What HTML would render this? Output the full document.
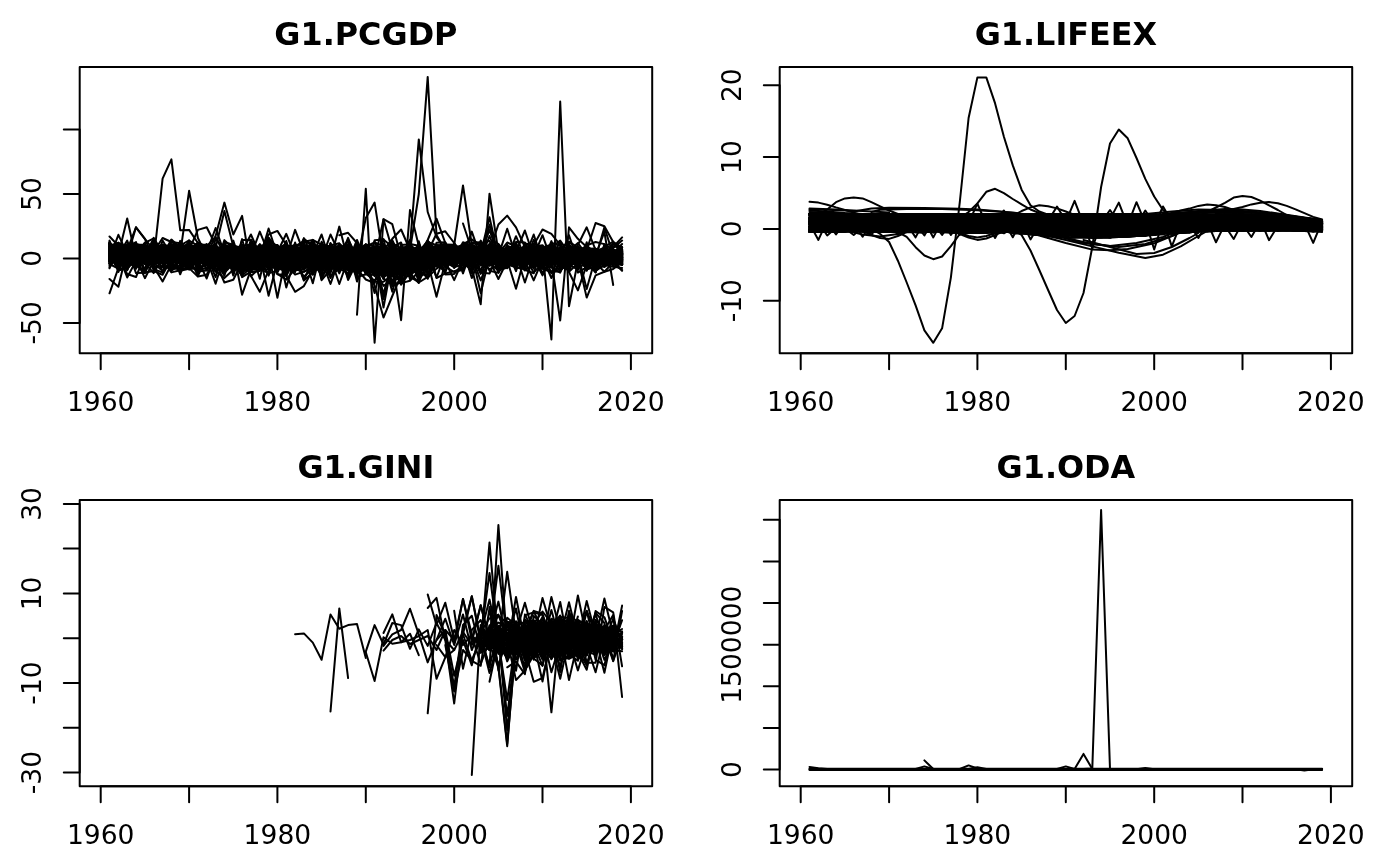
<!DOCTYPE html>
<html><head><meta charset="utf-8"><title>G1 plots</title>
<style>
html,body{margin:0;padding:0;background:#fff}
svg{display:block}
text{font-family:"DejaVu Sans","Liberation Sans",sans-serif;fill:#000}
.a{font-size:26.56px}
.t{font-size:31.87px;font-weight:bold}
.l{fill:none;stroke:#000;stroke-width:2;stroke-linecap:round;stroke-linejoin:round}
</style></head><body>
<svg width="1400" height="866" viewBox="0 0 1400 866">
<rect width="1400" height="866" fill="#fff"/>
<g class="l">
<polyline points="109.5,253.1 118.4,259.2 127.2,255.3 136,252.8 144.9,257.5 153.7,249.7 162.6,252.5 171.4,258.5 180.2,258 189.1,246.6 197.9,255.3 206.7,256.5 215.6,261.7 224.4,259.3 233.3,258.6 242.1,264.3 250.9,251.3 259.8,259.9 268.6,256.5 277.4,250.6 286.3,264.7 295.1,260.5 303.9,258.3 312.8,268.8 321.6,255.9 330.5,258.2 339.3,267.2 348.1,256.1 357,261.4 365.8,258 374.6,247.9 383.5,250.8 392.3,254.1 401.1,267.8 410,262 418.8,265.8 427.7,252.9 436.5,252.3 445.3,246.7 454.2,255.8 463,252.9 471.8,256.4 480.7,253.5 489.5,252.1 498.4,247.9 507.2,260.8 516,255.3 524.9,265.6 533.7,248.9 542.5,247.9 551.4,257.3 560.2,261.9 569,256.2 577.9,253.4 586.7,255.1 595.6,258.6 604.4,261.2 613.2,257.8 622.1,262.8"/>
<polyline points="109.5,260.1 118.4,249.4 127.2,255.5 136,252.7 144.9,255.3 153.7,260.3 162.6,248.2 171.4,249 180.2,263 189.1,251.5 197.9,250.4 206.7,258.4 215.6,250.3 224.4,258.2 233.3,261.6 242.1,260.1 250.9,255.5 259.8,255.2 268.6,253.2 277.4,251.2 286.3,255.7 295.1,252.2 303.9,261.5 312.8,249.8 321.6,262.8 330.5,262.8 339.3,264.5 348.1,269 357,261.4 365.8,255 374.6,266.4 383.5,273.1 392.3,274.1 401.1,273.4 410,263.1 418.8,261.2 427.7,251.3 436.5,249.1 445.3,262.8 454.2,253.1 463,250.3 471.8,260.6 480.7,258.7 489.5,260.9 498.4,255.7 507.2,259 516,251.8 524.9,253.1 533.7,252.9 542.5,253.7 551.4,258.9 560.2,250.6 569,257.3 577.9,252 586.7,260.5 595.6,258.5 604.4,256.1 613.2,260.2 622.1,258.4"/>
<polyline points="109.5,248 118.4,255.9 127.2,260.9 136,253.6 144.9,262.2 153.7,247.9 162.6,246.6 171.4,255.5 180.2,257.5 189.1,252.4 197.9,247.7 206.7,261.2 215.6,262 224.4,264.3 233.3,260.3 242.1,258 250.9,266.6 259.8,264.8 268.6,245.8 277.4,257.2 286.3,257 295.1,259 303.9,261.2 312.8,256 321.6,267.6 330.5,253.5 339.3,265.2 348.1,258.5 357,243.6 365.8,252.1 374.6,268.3 383.5,268 392.3,270.2 401.1,270.3 410,262.9 418.8,254.5 427.7,260.4 436.5,248.1 445.3,263.4 454.2,260.7 463,255.9 471.8,258.2 480.7,248 489.5,260 498.4,260.3 507.2,259.7 516,264 524.9,257.5 533.7,251.7 542.5,257.4 551.4,256.7 560.2,260 569,262.4 577.9,259.4 586.7,261.3 595.6,257.1 604.4,259.4 613.2,262.7 622.1,253.6"/>
<polyline points="109.5,258.2 118.4,253.2 127.2,254.5 136,257.3 144.9,248.2 153.7,256.9 162.6,248.7 171.4,262.1 180.2,246.1 189.1,250.7 197.9,256.9 206.7,258.2 215.6,260.5 224.4,263.1 233.3,258.6 242.1,257 250.9,259.3 259.8,248.9 268.6,250.1 277.4,268.3 286.3,265.7 295.1,260.8 303.9,266.3 312.8,254.8 321.6,255.6 330.5,260.4 339.3,263.6 348.1,257.7 357,256.9 365.8,262 374.6,252.4 383.5,257.6 392.3,263.8 401.1,267.9 410,253 418.8,252.8 427.7,253.3 436.5,264.2 445.3,255.2 454.2,262.7 463,256.8 471.8,261.9 480.7,257.4 489.5,260.7 498.4,262.1 507.2,249.1 516,255.4 524.9,251 533.7,251.6 542.5,255.8 551.4,253.2 560.2,254.9 569,258 577.9,258.4 586.7,255.2 595.6,263.6 604.4,257.5 613.2,258.9 622.1,259.3"/>
<polyline points="109.5,250.3 118.4,253.1 127.2,255.1 136,254.7 144.9,254.8 153.7,248.1 162.6,258.6 171.4,247.1 180.2,254 189.1,244.9 197.9,254.9 206.7,260.2 215.6,258.3 224.4,249.2 233.3,249.4 242.1,258.1 250.9,254.4 259.8,247.6 268.6,253.3 277.4,256.2 286.3,255.2 295.1,255.7 303.9,254.6 312.8,263.8 321.6,266.5 330.5,245.6 339.3,263.1 348.1,263.3 357,262.7 365.8,272 374.6,254 383.5,263 392.3,270.1 401.1,264.8 410,261.7 418.8,260.4 427.7,256.8 436.5,253.4 445.3,263 454.2,258.1 463,257.6 471.8,256.2 480.7,254.2 489.5,253.6 498.4,253.2 507.2,250.7 516,253.4 524.9,251.8 533.7,256.8 542.5,261.6 551.4,256.5 560.2,258 569,251.5 577.9,252.5 586.7,253.8 595.6,253.8 604.4,259.5 613.2,256.1 622.1,264"/>
<polyline points="109.5,259.5 118.4,246.6 127.2,254.6 136,251.8 144.9,247.5 153.7,252.3 162.6,260.5 171.4,248.5 180.2,254.9 189.1,260.6 197.9,247.9 206.7,252.5 215.6,260.8 224.4,248.3 233.3,256.3 242.1,253.7 250.9,254.2 259.8,256 268.6,257.5 277.4,245.6 286.3,261.8 295.1,270.1 303.9,263.3 312.8,249 321.6,244.5 330.5,262.8 339.3,261 348.1,253.6 357,258.9 365.8,253.4 374.6,262.1 383.5,276.6 392.3,264.3 401.1,258.4 410,272.2 418.8,264.3 427.7,257.2 436.5,254.5 445.3,260.5 454.2,252.6 463,252.1 471.8,263 480.7,260.2 489.5,265.3 498.4,251.8 507.2,252.1 516,253.5 524.9,255.1 533.7,250.8 542.5,252.6 551.4,252.9 560.2,252.5 569,257.7 577.9,252.3 586.7,257.6 595.6,259.8 604.4,253.7 613.2,258.4 622.1,254.3"/>
<polyline points="109.5,255.5 118.4,250.1 127.2,252 136,249.4 144.9,251 153.7,243.2 162.6,252.3 171.4,253.2 180.2,244.7 189.1,259.2 197.9,253.6 206.7,258.7 215.6,254.6 224.4,261.9 233.3,246.9 242.1,248.6 250.9,250.6 259.8,260 268.6,248 277.4,259.8 286.3,261.3 295.1,249.9 303.9,260.7 312.8,259.5 321.6,259.1 330.5,266.8 339.3,257 348.1,257.8 357,259.2 365.8,254.1 374.6,273.9 383.5,261.8 392.3,259.2 401.1,263.6 410,275.7 418.8,267.2 427.7,258.1 436.5,254.9 445.3,258.6 454.2,251.8 463,245 471.8,249.1 480.7,258.3 489.5,252.4 498.4,256 507.2,247.6 516,260.9 524.9,260.3 533.7,260.8 542.5,252.6 551.4,255.9 560.2,254.5 569,253.9 577.9,255 586.7,258.9 595.6,257.1 604.4,254.6 613.2,255.9 622.1,258.6"/>
<polyline points="109.5,243.9 118.4,255.2 127.2,251.6 136,253.5 144.9,249 153.7,244.6 162.6,258.5 171.4,247.1 180.2,248.5 189.1,262.3 197.9,244.9 206.7,249.7 215.6,259.7 224.4,247.9 233.3,247.5 242.1,264.9 250.9,262.4 259.8,255.3 268.6,257.1 277.4,258.4 286.3,251.7 295.1,257.6 303.9,253.6 312.8,268.2 321.6,259.3 330.5,259.5 339.3,249.2 348.1,246 357,258 365.8,254.7 374.6,269.4 383.5,257.5 392.3,262.9 401.1,269.4 410,263.8 418.8,247.9 427.7,265.7 436.5,264.5 445.3,247.2 454.2,249.7 463,250.6 471.8,253.6 480.7,249.4 489.5,253.8 498.4,255.7 507.2,263 516,251.1 524.9,252.7 533.7,254.9 542.5,257.4 551.4,256.4 560.2,259.2 569,248.7 577.9,260.3 586.7,255.7 595.6,263.7 604.4,258.6 613.2,260.3 622.1,251.5"/>
<polyline points="109.5,260.9 118.4,256.9 127.2,263.7 136,249.9 144.9,253.3 153.7,259.2 162.6,247.5 171.4,262.2 180.2,261.3 189.1,253.6 197.9,256.6 206.7,252.4 215.6,250.9 224.4,260.4 233.3,257.9 242.1,259.3 250.9,266 259.8,256.9 268.6,251.8 277.4,261.3 286.3,263.2 295.1,260.1 303.9,266.3 312.8,255.7 321.6,261.4 330.5,249.3 339.3,260.2 348.1,245.2 357,259.9 365.8,260.7 374.6,268.6 383.5,253.4 392.3,251.1 401.1,260.6 410,269.2 418.8,266.4 427.7,252.6 436.5,258.7 445.3,255.9 454.2,247.9 463,258.7 471.8,254.2 480.7,258.8 489.5,256.3 498.4,257.8 507.2,258.6 516,253.5 524.9,257.9 533.7,260.2 542.5,256.1 551.4,259.4 560.2,249.2 569,254.3 577.9,255.9 586.7,254.9 595.6,260.7 604.4,252.5 613.2,256 622.1,261"/>
<polyline points="109.5,252.5 118.4,255.2 127.2,256.8 136,253.7 144.9,256.7 153.7,261.3 162.6,249.3 171.4,262.4 180.2,245.6 189.1,259.1 197.9,257.2 206.7,257.1 215.6,262.8 224.4,247.6 233.3,247.1 242.1,268.7 250.9,269.4 259.8,270 268.6,268.9 277.4,266.2 286.3,258.3 295.1,259.4 303.9,248 312.8,250.7 321.6,254.4 330.5,260.5 339.3,261.8 348.1,255.1 357,256.2 365.8,259.6 374.6,254.2 383.5,270.4 392.3,276.6 401.1,244.9 410,244.2 418.8,259.2 427.7,254.5 436.5,249.2 445.3,257.3 454.2,258.9 463,247.2 471.8,260.7 480.7,254.7 489.5,250.7 498.4,258.8 507.2,250.5 516,250.1 524.9,255.2 533.7,260.9 542.5,255.9 551.4,254.2 560.2,256.2 569,258.2 577.9,260.7 586.7,254.3 595.6,258 604.4,251.7 613.2,261.6 622.1,259.3"/>
<polyline points="109.5,255.7 118.4,252 127.2,253.3 136,257 144.9,264.3 153.7,253.1 162.6,250.1 171.4,253.1 180.2,261.6 189.1,250.5 197.9,255.6 206.7,250.6 215.6,248.1 224.4,250.6 233.3,254 242.1,260.8 250.9,255.1 259.8,254.1 268.6,263.6 277.4,261.6 286.3,265.8 295.1,252.9 303.9,253.1 312.8,255.9 321.6,266.2 330.5,260 339.3,257.3 348.1,247.7 357,259 365.8,252.4 374.6,256.8 383.5,252.2 392.3,268.4 401.1,270.2 410,260.3 418.8,255.4 427.7,260.9 436.5,265.6 445.3,259.4 454.2,254.3 463,251 471.8,251.8 480.7,259.3 489.5,252.6 498.4,250.8 507.2,249.9 516,255.7 524.9,254.3 533.7,253 542.5,259.5 551.4,251.1 560.2,258.3 569,256.8 577.9,255 586.7,260.4 595.6,251.6 604.4,258.1 613.2,264.8 622.1,257.8"/>
<polyline points="109.5,249.1 118.4,257.6 127.2,252.6 136,251.6 144.9,251.2 153.7,251.2 162.6,253.2 171.4,254.9 180.2,261.7 189.1,255.3 197.9,247.1 206.7,256.3 215.6,260.1 224.4,262 233.3,253.3 242.1,255 250.9,265.2 259.8,268.3 268.6,251.3 277.4,260.3 286.3,261.2 295.1,259.6 303.9,254.2 312.8,264.7 321.6,261.8 330.5,262.3 339.3,248.1 348.1,252.9 357,269.3 365.8,268.5 374.6,266.4 383.5,256.1 392.3,255.4 401.1,265.2 410,253.7 418.8,268.5 427.7,267.6 436.5,261 445.3,253.9 454.2,247.3 463,247 471.8,260.5 480.7,250.5 489.5,253.4 498.4,264.3 507.2,257.2 516,254.4 524.9,256.5 533.7,250.2 542.5,253.8 551.4,250.9 560.2,262.1 569,256.8 577.9,256.5 586.7,254.4 595.6,251.4 604.4,263.9 613.2,262.3 622.1,261.5"/>
<polyline points="109.5,252.5 118.4,245.1 127.2,251.9 136,256.1 144.9,260.1 153.7,260.1 162.6,251.7 171.4,258.4 180.2,258.1 189.1,257.2 197.9,245.3 206.7,252.5 215.6,258.9 224.4,256.2 233.3,264.6 242.1,264.6 250.9,260.6 259.8,256.3 268.6,260.4 277.4,256.6 286.3,263.7 295.1,259.7 303.9,263.9 312.8,258.7 321.6,266.6 330.5,246.7 339.3,258.8 348.1,246.8 357,262.8 365.8,263.6 374.6,260.1 383.5,267.2 392.3,265.1 401.1,253.9 410,257.4 418.8,251.5 427.7,252.1 436.5,253.3 445.3,248.3 454.2,256 463,260.6 471.8,254.7 480.7,252.4 489.5,248.9 498.4,258.1 507.2,253.8 516,254.3 524.9,255.2 533.7,259.8 542.5,253.6 551.4,254.7 560.2,256.2 569,248.8 577.9,253.1 586.7,264.5 595.6,257.2 604.4,255.9 613.2,255.6 622.1,257.5"/>
<polyline points="109.5,257.9 118.4,252.2 127.2,249.8 136,251.7 144.9,258.3 153.7,247.6 162.6,249.8 171.4,263 180.2,249 189.1,252.9 197.9,248.6 206.7,258.1 215.6,260.7 224.4,248.5 233.3,260.2 242.1,264.2 250.9,256.5 259.8,253.3 268.6,257.6 277.4,255.6 286.3,252.1 295.1,252.1 303.9,264.2 312.8,250 321.6,254.8 330.5,254.4 339.3,266.5 348.1,265.9 357,263.7 365.8,258.1 374.6,267 383.5,274.4 392.3,255 401.1,267.6 410,264.6 418.8,252.9 427.7,257.5 436.5,253.2 445.3,257.6 454.2,261.8 463,254 471.8,255 480.7,248.9 489.5,250.3 498.4,250 507.2,248.1 516,252.6 524.9,252.1 533.7,249.5 542.5,254.3 551.4,259.7 560.2,265.8 569,249.8 577.9,254.7 586.7,260.1 595.6,263 604.4,258.5 613.2,256.9 622.1,256.5"/>
<polyline points="109.5,250.2 118.4,259.5 127.2,257.4 136,253.7 144.9,247.8 153.7,249.8 162.6,261 171.4,256.2 180.2,245.8 189.1,249.6 197.9,260.6 206.7,254.5 215.6,250.5 224.4,254.5 233.3,245.2 242.1,248.4 250.9,257.7 259.8,259.2 268.6,251.6 277.4,245.9 286.3,255.3 295.1,248.2 303.9,267.7 312.8,250.6 321.6,265.1 330.5,252.4 339.3,268.3 348.1,268.2 357,270.2 365.8,267.1 374.6,247.9 383.5,262.4 392.3,257.8 401.1,264.7 410,266.3 418.8,250 427.7,259.6 436.5,265.2 445.3,252.8 454.2,258.2 463,265.3 471.8,254.1 480.7,246.5 489.5,260 498.4,255.1 507.2,249.7 516,261.5 524.9,252.1 533.7,260.3 542.5,253.1 551.4,261.7 560.2,255.9 569,256 577.9,252.2 586.7,260.3 595.6,254.4 604.4,259.5 613.2,256.3 622.1,260.7"/>
<polyline points="109.5,261.1 118.4,257.6 127.2,256.1 136,255.7 144.9,260.6 153.7,248.3 162.6,255.5 171.4,250.8 180.2,251.7 189.1,259.1 197.9,261.8 206.7,257.4 215.6,261.2 224.4,251.6 233.3,251.7 242.1,254.5 250.9,265.3 259.8,246.2 268.6,258.3 277.4,256.8 286.3,247.8 295.1,253.6 303.9,250.7 312.8,253.2 321.6,256.2 330.5,259.3 339.3,255.2 348.1,268.1 357,269.3 365.8,264.5 374.6,264.3 383.5,266.1 392.3,259.7 401.1,262.8 410,253.4 418.8,258.7 427.7,247.4 436.5,251.3 445.3,256.1 454.2,251.2 463,248.3 471.8,260.4 480.7,248.6 489.5,256.9 498.4,250.3 507.2,250.6 516,253 524.9,257.2 533.7,261.1 542.5,250.7 551.4,259.5 560.2,256.2 569,257.8 577.9,254.3 586.7,254.7 595.6,262.9 604.4,250.3 613.2,261.8 622.1,254.6"/>
<polyline points="109.5,255.2 118.4,259.2 127.2,245.7 136,253.9 144.9,263.2 153.7,247.3 162.6,252.3 171.4,252.8 180.2,251.5 189.1,256.1 197.9,258.3 206.7,252.5 215.6,259.6 224.4,245 233.3,247.4 242.1,260 250.9,256.3 259.8,251.4 268.6,246.4 277.4,258.6 286.3,256.4 295.1,265.6 303.9,251.3 312.8,254.9 321.6,267.2 330.5,257.9 339.3,257.4 348.1,247.5 357,259.6 365.8,261.9 374.6,247.2 383.5,277 392.3,257.1 401.1,266.6 410,255.3 418.8,270.6 427.7,255.4 436.5,262.8 445.3,263.4 454.2,259.9 463,256.8 471.8,256.5 480.7,245.8 489.5,251.9 498.4,253.5 507.2,248.3 516,262.5 524.9,257 533.7,253.6 542.5,253.9 551.4,258.2 560.2,254.1 569,261 577.9,250.5 586.7,253.8 595.6,253.7 604.4,254 613.2,253.3 622.1,259.7"/>
<polyline points="109.5,243.8 118.4,256.9 127.2,257.5 136,256.8 144.9,258.5 153.7,256 162.6,260.2 171.4,255 180.2,254.3 189.1,247.6 197.9,247.1 206.7,248.9 215.6,252.5 224.4,256.1 233.3,254.6 242.1,263.5 250.9,256.7 259.8,256.9 268.6,249.2 277.4,249.3 286.3,265.1 295.1,264.2 303.9,263 312.8,263 321.6,257.7 330.5,250.9 339.3,258.8 348.1,254.8 357,255 365.8,261.8 374.6,251.8 383.5,262.1 392.3,256 401.1,261.7 410,254.9 418.8,258.7 427.7,257.8 436.5,255.6 445.3,252.8 454.2,254.9 463,245.4 471.8,258 480.7,257.9 489.5,250.1 498.4,259.8 507.2,252.4 516,256.2 524.9,259.9 533.7,253 542.5,247.2 551.4,256 560.2,248.4 569,255.6 577.9,251.8 586.7,260.5 595.6,254.4 604.4,255.2 613.2,258.8 622.1,255.2"/>
<polyline points="109.5,255.8 118.4,253.5 127.2,249.3 136,248.1 144.9,253.5 153.7,259.8 162.6,260.4 171.4,260.1 180.2,258.6 189.1,258.4 197.9,251.8 206.7,259.8 215.6,250.6 224.4,260.6 233.3,259 242.1,265.6 250.9,256.6 259.8,261.6 268.6,251.9 277.4,262.3 286.3,253.4 295.1,262.4 303.9,244.8 312.8,266 321.6,244.7 330.5,265.5 339.3,263 348.1,264.1 357,260.8 365.8,259.9 374.6,258.9 383.5,254.1 392.3,252.5 401.1,274.2 410,258.2 418.8,262.2 427.7,263.8 436.5,265 445.3,256.3 454.2,260.4 463,257.2 471.8,254 480.7,256.7 489.5,249.5 498.4,253.9 507.2,262.4 516,252.6 524.9,257.1 533.7,253.3 542.5,255 551.4,262.1 560.2,254.6 569,259.4 577.9,265.1 586.7,256.1 595.6,260.3 604.4,255.6 613.2,258 622.1,252.9"/>
<polyline points="109.5,253 118.4,262 127.2,253.3 136,256.9 144.9,247.7 153.7,250.3 162.6,261.3 171.4,259.4 180.2,258.4 189.1,262.3 197.9,259.1 206.7,256.3 215.6,256.7 224.4,259.7 233.3,257.2 242.1,262.8 250.9,259.1 259.8,259 268.6,258 277.4,259.5 286.3,263.7 295.1,265.1 303.9,260.9 312.8,256.6 321.6,264.5 330.5,253.1 339.3,257.1 348.1,260.6 357,257.7 365.8,249.5 374.6,270.9 383.5,246.7 392.3,254.8 401.1,273.7 410,250.3 418.8,249.3 427.7,252.7 436.5,245.5 445.3,249.4 454.2,253 463,257 471.8,257.4 480.7,253.1 489.5,254.6 498.4,254.6 507.2,246.8 516,247.9 524.9,248.3 533.7,255.8 542.5,248.4 551.4,255.4 560.2,259.6 569,253.9 577.9,258.4 586.7,256.1 595.6,259.2 604.4,258.8 613.2,260.7 622.1,250.1"/>
<polyline points="109.5,259.2 118.4,249.6 127.2,247.8 136,257.7 144.9,249.5 153.7,262.2 162.6,261.9 171.4,256.4 180.2,247.3 189.1,248.4 197.9,258 206.7,263.5 215.6,251.5 224.4,255.5 233.3,259.1 242.1,258.3 250.9,261.7 259.8,258.4 268.6,255.5 277.4,263.5 286.3,247.3 295.1,260.4 303.9,248.9 312.8,251.1 321.6,262.3 330.5,250.3 339.3,263.5 348.1,266.3 357,256.1 365.8,264.3 374.6,254.3 383.5,258.8 392.3,273.2 401.1,256.4 410,250.9 418.8,249.9 427.7,259.5 436.5,253.4 445.3,252.4 454.2,247.8 463,252.1 471.8,245.3 480.7,257.2 489.5,253.7 498.4,249.7 507.2,251 516,264.8 524.9,261.7 533.7,253.4 542.5,253.2 551.4,254.9 560.2,263 569,253.5 577.9,260.8 586.7,253 595.6,253.6 604.4,260.4 613.2,263.4 622.1,260.4"/>
<polyline points="109.5,259 118.4,254.7 127.2,252.9 136,253.9 144.9,259.9 153.7,248.5 162.6,259.2 171.4,257.3 180.2,259.9 189.1,262.1 197.9,258.5 206.7,256.1 215.6,253.6 224.4,262.6 233.3,264.5 242.1,260.1 250.9,254 259.8,254.1 268.6,254.3 277.4,264.2 286.3,268.5 295.1,258.5 303.9,247.8 312.8,252.9 321.6,250.3 330.5,267.4 339.3,270.6 348.1,260.8 357,262.5 365.8,259.4 374.6,256.2 383.5,264.2 392.3,252.4 401.1,266.5 410,263.6 418.8,255.7 427.7,263.8 436.5,247.8 445.3,257.4 454.2,255.5 463,255.7 471.8,263.7 480.7,252.2 489.5,248 498.4,246.2 507.2,251.3 516,259.2 524.9,260.1 533.7,255.4 542.5,250.6 551.4,251.9 560.2,247.4 569,253.6 577.9,256.1 586.7,255.8 595.6,253.5 604.4,261 613.2,253.8 622.1,254.9"/>
<polyline points="109.5,257 118.4,252.4 127.2,250.7 136,245.3 144.9,247.9 153.7,257 162.6,260.4 171.4,256.3 180.2,248.7 189.1,262.1 197.9,249.6 206.7,253.6 215.6,259.1 224.4,246.1 233.3,261.5 242.1,249.8 250.9,253.4 259.8,263.8 268.6,251.6 277.4,266.2 286.3,268.2 295.1,254.6 303.9,254.1 312.8,247.9 321.6,253.7 330.5,261.6 339.3,260 348.1,259.7 357,250.8 365.8,259.9 374.6,270.6 383.5,253.1 392.3,247 401.1,261.6 410,258.9 418.8,263.2 427.7,260.5 436.5,258.6 445.3,255.9 454.2,255.5 463,257.8 471.8,262.1 480.7,255.5 489.5,256.8 498.4,254.1 507.2,260.5 516,251.8 524.9,253.6 533.7,264.3 542.5,261.2 551.4,246 560.2,254.8 569,251.6 577.9,250 586.7,257.8 595.6,261.5 604.4,255.6 613.2,256.5 622.1,260"/>
<polyline points="109.5,247.7 118.4,252 127.2,255 136,258.3 144.9,254.1 153.7,251.7 162.6,253.5 171.4,244.6 180.2,250.6 189.1,252.3 197.9,246.5 206.7,258.1 215.6,249.1 224.4,255.1 233.3,252.7 242.1,267.4 250.9,258.1 259.8,264.8 268.6,249.9 277.4,270.7 286.3,257.1 295.1,254.2 303.9,249 312.8,245.4 321.6,258.1 330.5,249.9 339.3,247.2 348.1,256.5 357,271.7 365.8,251 374.6,248.4 383.5,254.1 392.3,249.4 401.1,268.2 410,253.5 418.8,260.6 427.7,251.8 436.5,264.6 445.3,260.3 454.2,254 463,254.3 471.8,246.2 480.7,246.9 489.5,253 498.4,247.5 507.2,258.9 516,250.9 524.9,257.3 533.7,254.1 542.5,254.3 551.4,259.2 560.2,251.8 569,248.8 577.9,250.2 586.7,260.8 595.6,249.6 604.4,255.4 613.2,259.2 622.1,254.9"/>
<polyline points="109.5,244.2 118.4,257.5 127.2,251.4 136,259.4 144.9,250.4 153.7,258.9 162.6,252.1 171.4,251.5 180.2,252.9 189.1,244 197.9,255.9 206.7,250.5 215.6,246.4 224.4,251.5 233.3,263.5 242.1,255.3 250.9,259.4 259.8,255.1 268.6,248.5 277.4,256.3 286.3,264.9 295.1,269.4 303.9,265.2 312.8,266.4 321.6,258.7 330.5,263.8 339.3,267 348.1,251.6 357,258.5 365.8,262.1 374.6,258.8 383.5,269.5 392.3,257.4 401.1,272.1 410,257.9 418.8,258.1 427.7,249.4 436.5,248.2 445.3,254.4 454.2,258.4 463,254.7 471.8,259 480.7,245.4 489.5,248.7 498.4,252.3 507.2,258.6 516,251.4 524.9,251.3 533.7,260.7 542.5,258.1 551.4,253.7 560.2,256.7 569,257 577.9,258.2 586.7,254.9 595.6,260.6 604.4,253 613.2,251.4 622.1,253.4"/>
<polyline points="109.5,253.7 118.4,254.1 127.2,248.2 136,257.9 144.9,254.1 153.7,256.4 162.6,248.7 171.4,256.4 180.2,252.1 189.1,247.5 197.9,250.6 206.7,263.2 215.6,259.8 224.4,250.2 233.3,257.6 242.1,266.6 250.9,250.7 259.8,261.9 268.6,259.4 277.4,252 286.3,256.7 295.1,268.5 303.9,259.4 312.8,257.1 321.6,260.5 330.5,257.6 339.3,260.7 348.1,251.8 357,262.8 365.8,269.8 374.6,273.5 383.5,264.6 392.3,258.4 401.1,255.2 410,254.3 418.8,259.6 427.7,255 436.5,252 445.3,250.7 454.2,253.3 463,257.7 471.8,255.1 480.7,258.5 489.5,254.2 498.4,262.1 507.2,251.2 516,252.4 524.9,257.1 533.7,255.2 542.5,260.2 551.4,256.3 560.2,251.1 569,257 577.9,262 586.7,250.4 595.6,256.9 604.4,252.4 613.2,260.4 622.1,253.9"/>
<polyline points="109.5,253.6 118.4,247.7 127.2,255.3 136,256.7 144.9,253 153.7,251.2 162.6,253.3 171.4,254.3 180.2,246.5 189.1,250.5 197.9,243.6 206.7,257.9 215.6,257.6 224.4,251.5 233.3,257.6 242.1,266.4 250.9,251.5 259.8,267.7 268.6,262.6 277.4,258.6 286.3,260.2 295.1,254.3 303.9,255.7 312.8,264 321.6,258.1 330.5,264.8 339.3,251.7 348.1,261.3 357,268.7 365.8,257.2 374.6,266 383.5,261.6 392.3,269.9 401.1,266.8 410,259.6 418.8,268.7 427.7,256.6 436.5,251.4 445.3,263.4 454.2,262.9 463,249.6 471.8,248.7 480.7,247 489.5,258.1 498.4,248.7 507.2,258.6 516,248.7 524.9,254.1 533.7,258.3 542.5,260.6 551.4,249.4 560.2,257.9 569,262.4 577.9,263.3 586.7,253.4 595.6,255 604.4,257.5 613.2,261.9 622.1,253.8"/>
<polyline points="109.5,255.4 118.4,250.8 127.2,260.8 136,256.3 144.9,252.6 153.7,256.5 162.6,258.6 171.4,249.7 180.2,250.7 189.1,253.4 197.9,258.7 206.7,251.6 215.6,262.6 224.4,266.2 233.3,249.6 242.1,256.8 250.9,247.8 259.8,264.7 268.6,265.7 277.4,260.3 286.3,253.5 295.1,253.8 303.9,259.2 312.8,256.5 321.6,248.9 330.5,269.7 339.3,251.4 348.1,255.4 357,261.7 365.8,264.5 374.6,259.1 383.5,256.4 392.3,270.6 401.1,256.7 410,257.6 418.8,260.3 427.7,246.3 436.5,256.9 445.3,258.5 454.2,243.5 463,259.1 471.8,254.5 480.7,255.4 489.5,256.8 498.4,248.7 507.2,251.1 516,257.3 524.9,251.4 533.7,254.6 542.5,258.3 551.4,252.7 560.2,260.8 569,254.7 577.9,254.7 586.7,258.4 595.6,253.5 604.4,252.2 613.2,262 622.1,259.1"/>
<polyline points="109.5,247.2 118.4,254.4 127.2,260.6 136,249.9 144.9,257.3 153.7,254.1 162.6,251.2 171.4,254.3 180.2,246.1 189.1,246.7 197.9,259.5 206.7,257.8 215.6,259.8 224.4,261.5 233.3,255.4 242.1,264.3 250.9,258.7 259.8,262.7 268.6,264.9 277.4,254.8 286.3,264.9 295.1,259.5 303.9,263.4 312.8,251.5 321.6,244.4 330.5,257.4 339.3,267.3 348.1,256 357,269 365.8,266.7 374.6,257.3 383.5,251.6 392.3,246.6 401.1,263.4 410,270.1 418.8,258.6 427.7,253.1 436.5,256.1 445.3,256.4 454.2,257.5 463,259.4 471.8,250.7 480.7,261.1 489.5,249 498.4,260.8 507.2,258.1 516,250.8 524.9,257.6 533.7,252.1 542.5,261.2 551.4,252.3 560.2,247.8 569,261.3 577.9,257 586.7,249.4 595.6,252.8 604.4,256.9 613.2,256.1 622.1,258.1"/>
<polyline points="109.5,242.8 118.4,261.5 127.2,246.7 136,261.4 144.9,255 153.7,252.3 162.6,252.6 171.4,249.5 180.2,258.6 189.1,246.7 197.9,248.6 206.7,254.4 215.6,259.5 224.4,249.5 233.3,254.3 242.1,248.9 250.9,262.3 259.8,256.7 268.6,262.2 277.4,254.5 286.3,249.2 295.1,251.6 303.9,256.4 312.8,255.7 321.6,255.4 330.5,256.9 339.3,262.9 348.1,257.1 357,256.3 365.8,246.5 374.6,263.3 383.5,253.3 392.3,256.7 401.1,249.2 410,266.2 418.8,271.4 427.7,254.3 436.5,247 445.3,255.6 454.2,258.2 463,263.1 471.8,257.9 480.7,246.8 489.5,260.9 498.4,261.7 507.2,259.2 516,254.8 524.9,257.8 533.7,264.7 542.5,254.1 551.4,250.8 560.2,250.8 569,257.3 577.9,249.2 586.7,250.7 595.6,261.1 604.4,259.1 613.2,251.7 622.1,263.2"/>
<polyline points="109.5,256.1 118.4,254.6 127.2,252 136,246.6 144.9,249.3 153.7,258.9 162.6,252.5 171.4,254.6 180.2,254.5 189.1,248.4 197.9,248.1 206.7,250.2 215.6,250.7 224.4,259.8 233.3,267.1 242.1,255.1 250.9,244 259.8,261.7 268.6,255.7 277.4,248.5 286.3,244.1 295.1,253.5 303.9,259.1 312.8,263.7 321.6,250.7 330.5,248.5 339.3,246.5 348.1,247.6 357,266.4 365.8,261.3 374.6,261.9 383.5,255.4 392.3,258.2 401.1,255.2 410,267.5 418.8,261.5 427.7,259.2 436.5,257 445.3,252.1 454.2,249.5 463,257.5 471.8,256.6 480.7,245.8 489.5,252.2 498.4,257.1 507.2,261.3 516,252 524.9,252.7 533.7,251.8 542.5,257.7 551.4,254.1 560.2,255.2 569,257.1 577.9,258.7 586.7,255.7 595.6,264.1 604.4,256.8 613.2,255.3 622.1,250.6"/>
<polyline points="109.5,246.6 118.4,255.5 127.2,249.7 136,261 144.9,255.5 153.7,258.9 162.6,248.2 171.4,254 180.2,249.6 189.1,249.5 197.9,249.3 206.7,260.2 215.6,256.3 224.4,254.8 233.3,258.2 242.1,270.8 250.9,262 259.8,261.9 268.6,268.4 277.4,257.2 286.3,261.8 295.1,250.4 303.9,250.6 312.8,262.3 321.6,267.5 330.5,253.2 339.3,261.8 348.1,262.3 357,255.6 365.8,267.9 374.6,273.8 383.5,258.1 392.3,260.3 401.1,258.7 410,267.8 418.8,265.7 427.7,248.5 436.5,260.1 445.3,262.5 454.2,248.1 463,247.6 471.8,250.1 480.7,252 489.5,257.8 498.4,263.1 507.2,258.5 516,255.9 524.9,253.7 533.7,251.3 542.5,262.4 551.4,259.3 560.2,256.6 569,259.1 577.9,263.8 586.7,257 595.6,265.2 604.4,256.8 613.2,256.6 622.1,255.9"/>
<polyline points="109.5,251.1 118.4,262.3 127.2,248.3 136,258 144.9,254.9 153.7,247.6 162.6,249.5 171.4,248.2 180.2,251.4 189.1,248 197.9,252.2 206.7,246.1 215.6,247.7 224.4,260.5 233.3,266.2 242.1,269.2 250.9,262.3 259.8,246.3 268.6,254.2 277.4,258.6 286.3,257.5 295.1,253.4 303.9,263.4 312.8,261.3 321.6,264.5 330.5,270.1 339.3,254.3 348.1,255.4 357,258.8 365.8,251.6 374.6,269.9 383.5,251.1 392.3,262.1 401.1,262.9 410,262.7 418.8,272.7 427.7,256.6 436.5,261.9 445.3,247.1 454.2,262 463,249 471.8,245.6 480.7,259.4 489.5,258.4 498.4,264.8 507.2,256.2 516,249.9 524.9,247.1 533.7,254.7 542.5,256.4 551.4,259.3 560.2,259.8 569,260 577.9,255.9 586.7,257.7 595.6,256.9 604.4,253.8 613.2,262.3 622.1,257.7"/>
<polyline points="109.5,254.4 118.4,252.6 127.2,249.4 136,247.8 144.9,252.8 153.7,244.6 162.6,263 171.4,259.3 180.2,249.9 189.1,250.5 197.9,250 206.7,259.6 215.6,253.6 224.4,260.3 233.3,261.9 242.1,260.8 250.9,261.5 259.8,262.6 268.6,246.8 277.4,258.3 286.3,246.2 295.1,246.3 303.9,257.5 312.8,254.4 321.6,250.3 330.5,253.3 339.3,265.4 348.1,249.4 357,260.8 365.8,256.1 374.6,264.1 383.5,256.5 392.3,265.4 401.1,251.3 410,251.6 418.8,253.6 427.7,254 436.5,264.5 445.3,250.8 454.2,252.9 463,252.4 471.8,260.4 480.7,251.1 489.5,248.6 498.4,251.3 507.2,254.1 516,247.5 524.9,256.7 533.7,253.7 542.5,249.4 551.4,255.6 560.2,255 569,255.7 577.9,263.1 586.7,256 595.6,252.4 604.4,260.7 613.2,259.2 622.1,256.3"/>
<polyline points="109.5,253.5 118.4,251.9 127.2,249.2 136,251.3 144.9,247 153.7,258 162.6,254 171.4,258.6 180.2,256.8 189.1,258.2 197.9,260.6 206.7,258.1 215.6,255 224.4,257.8 233.3,253.6 242.1,251.9 250.9,250.9 259.8,268.7 268.6,258.6 277.4,265.3 286.3,253.3 295.1,263.9 303.9,261.3 312.8,264.5 321.6,267.5 330.5,263.6 339.3,260.4 348.1,253.3 357,253.9 365.8,252.8 374.6,249.8 383.5,259.8 392.3,251 401.1,251.6 410,254.4 418.8,253.8 427.7,253.6 436.5,250.8 445.3,259.2 454.2,262.6 463,260.6 471.8,246.2 480.7,248 489.5,247.1 498.4,253.8 507.2,264.2 516,251 524.9,258.5 533.7,260 542.5,256.9 551.4,253.2 560.2,257 569,261.1 577.9,253.1 586.7,253.7 595.6,249.7 604.4,252.5 613.2,260 622.1,258"/>
<polyline points="109.5,261.4 118.4,247.9 127.2,258.8 136,250.3 144.9,256.8 153.7,257 162.6,257.6 171.4,252 180.2,253 189.1,256.3 197.9,256.6 206.7,258.8 215.6,250.3 224.4,256.6 233.3,246.6 242.1,257.3 250.9,263.6 259.8,265.9 268.6,249.6 277.4,261.2 286.3,264.1 295.1,251 303.9,267 312.8,268 321.6,257.8 330.5,260.5 339.3,261.4 348.1,265 357,254.8 365.8,260.9 374.6,268 383.5,265.7 392.3,253.4 401.1,259.9 410,256.7 418.8,255.8 427.7,248.2 436.5,262 445.3,250.7 454.2,249.7 463,263.6 471.8,252.8 480.7,263.2 489.5,253.2 498.4,246 507.2,252.7 516,255.1 524.9,262.3 533.7,259.4 542.5,252.4 551.4,249.4 560.2,256.9 569,252.5 577.9,256.7 586.7,261.3 595.6,248.9 604.4,258.7 613.2,256 622.1,258.3"/>
<polyline points="109.5,244 118.4,254.4 127.2,250.3 136,253.5 144.9,258.5 153.7,254.5 162.6,262.3 171.4,262.9 180.2,253.6 189.1,251.6 197.9,253 206.7,259.3 215.6,258.9 224.4,260.6 233.3,248.7 242.1,259.5 250.9,259.7 259.8,252.1 268.6,251.2 277.4,247.9 286.3,253.5 295.1,248.6 303.9,252.9 312.8,261.2 321.6,257.1 330.5,250.9 339.3,265.1 348.1,254.4 357,263.8 365.8,260.4 374.6,258.2 383.5,266.3 392.3,268.8 401.1,273.2 410,261.6 418.8,269.6 427.7,255.1 436.5,258.3 445.3,253.3 454.2,254.9 463,249.9 471.8,255.4 480.7,249.9 489.5,249 498.4,259.4 507.2,253.9 516,258.8 524.9,252.8 533.7,258.8 542.5,262.8 551.4,251 560.2,261 569,257.2 577.9,258.1 586.7,258 595.6,253.5 604.4,256.8 613.2,253.3 622.1,256.6"/>
<polyline points="109.5,248.6 118.4,252.7 127.2,252.2 136,261.2 144.9,247 153.7,255.7 162.6,262.7 171.4,250.1 180.2,254.8 189.1,255.3 197.9,249.2 206.7,257.4 215.6,251.3 224.4,258.1 233.3,247.6 242.1,252.9 250.9,256.6 259.8,259.8 268.6,262.2 277.4,265.2 286.3,258.1 295.1,257 303.9,262.4 312.8,261.3 321.6,264 330.5,256.8 339.3,259.1 348.1,255.5 357,259 365.8,264.7 374.6,275.4 383.5,250.4 392.3,250.3 401.1,263.3 410,251.7 418.8,265.8 427.7,258.8 436.5,248.6 445.3,245.9 454.2,256.3 463,247.7 471.8,265.6 480.7,255 489.5,252.4 498.4,259.5 507.2,247.9 516,258.4 524.9,259.4 533.7,259.2 542.5,255.8 551.4,248 560.2,252.1 569,256.1 577.9,252.4 586.7,248.9 595.6,251.7 604.4,261.8 613.2,253.1 622.1,256.7"/>
<polyline points="109.5,263.8 118.4,258.3 127.2,250.1 136,256.1 144.9,248.5 153.7,245.6 162.6,260.2 171.4,251.6 180.2,264.1 189.1,256.8 197.9,246.9 206.7,259.1 215.6,249.3 224.4,266.1 233.3,251.4 242.1,262.1 250.9,253.8 259.8,257.1 268.6,249.9 277.4,260.2 286.3,244.2 295.1,258.4 303.9,264.4 312.8,261.1 321.6,253.2 330.5,263.1 339.3,268.7 348.1,251.1 357,265.7 365.8,256.8 374.6,258.7 383.5,261.8 392.3,256.5 401.1,258.7 410,269.2 418.8,258.4 427.7,261.8 436.5,258.1 445.3,258.8 454.2,260.2 463,254.8 471.8,257.3 480.7,258.5 489.5,257.9 498.4,254.9 507.2,257 516,253.8 524.9,257.6 533.7,251.1 542.5,249 551.4,262.9 560.2,249.3 569,255.1 577.9,257.7 586.7,259.9 595.6,254.7 604.4,252.1 613.2,251.2 622.1,252.4"/>
<polyline points="109.5,245 118.4,253.9 127.2,255.8 136,253.5 144.9,255.1 153.7,261 162.6,254.6 171.4,255.1 180.2,250.2 189.1,263.4 197.9,259 206.7,247.1 215.6,257.8 224.4,259.2 233.3,263.6 242.1,253.9 250.9,257.7 259.8,256 268.6,268.6 277.4,252 286.3,262.3 295.1,254.5 303.9,266.6 312.8,252.3 321.6,267.4 330.5,245.2 339.3,254.7 348.1,260.4 357,262.5 365.8,258.6 374.6,257.1 383.5,254.8 392.3,262.4 401.1,271.9 410,254.9 418.8,250.1 427.7,258.6 436.5,259 445.3,254.7 454.2,249.6 463,252.6 471.8,250.2 480.7,257.8 489.5,263.3 498.4,260.1 507.2,258.8 516,255.6 524.9,256.1 533.7,257.7 542.5,263.7 551.4,257 560.2,263.9 569,255.3 577.9,258.2 586.7,261 595.6,255.3 604.4,262.3 613.2,255.3 622.1,256.9"/>
<polyline points="109.5,262.9 118.4,246.1 127.2,258.5 136,262.2 144.9,254.9 153.7,255.3 162.6,259.9 171.4,251.2 180.2,247.8 189.1,254.8 197.9,262.1 206.7,255.2 215.6,252.3 224.4,254.2 233.3,264.5 242.1,255.3 250.9,268.7 259.8,257 268.6,247.2 277.4,262.8 286.3,258 295.1,263.8 303.9,265.8 312.8,253.9 321.6,260.5 330.5,262.6 339.3,254.2 348.1,255.2 357,263.1 365.8,254.5 374.6,251.7 383.5,247.1 392.3,258.4 401.1,270.8 410,262 418.8,257.9 427.7,251 436.5,255.2 445.3,246.4 454.2,245.4 463,252.3 471.8,255.6 480.7,255.2 489.5,256 498.4,250.5 507.2,249.5 516,249.6 524.9,253.9 533.7,262.3 542.5,252.4 551.4,261 560.2,248.9 569,263.9 577.9,255.9 586.7,259.9 595.6,259.6 604.4,260.5 613.2,255.6 622.1,260.9"/>
<polyline points="109.5,260.7 118.4,246 127.2,252.5 136,257.8 144.9,262.2 153.7,259.4 162.6,252.9 171.4,254.7 180.2,259.2 189.1,252.3 197.9,252.5 206.7,253.5 215.6,260.1 224.4,257.8 233.3,249.4 242.1,245.2 250.9,260.9 259.8,260.6 268.6,250.3 277.4,246.1 286.3,253.8 295.1,259.6 303.9,267.2 312.8,256.2 321.6,251.7 330.5,250.6 339.3,264.5 348.1,250.8 357,259.7 365.8,259.6 374.6,270.7 383.5,260.6 392.3,272.5 401.1,256 410,259.1 418.8,265.5 427.7,256.3 436.5,265.3 445.3,252 454.2,254 463,252.3 471.8,262.4 480.7,261.3 489.5,259.3 498.4,259.8 507.2,251.7 516,257.7 524.9,264 533.7,251.7 542.5,253.2 551.4,259.9 560.2,256.9 569,257.8 577.9,255.3 586.7,251.1 595.6,257.9 604.4,259.5 613.2,263.4 622.1,251.1"/>
<polyline points="109.5,246.6 118.4,256.6 127.2,253.4 136,254.7 144.9,251.7 153.7,255.7 162.6,262.8 171.4,257.6 180.2,258.5 189.1,253 197.9,253.2 206.7,255.6 215.6,253.6 224.4,248.9 233.3,255.8 242.1,260.9 250.9,252.3 259.8,256.9 268.6,254 277.4,258.8 286.3,265.3 295.1,263.7 303.9,266 312.8,258.4 321.6,262.8 330.5,252.7 339.3,253.2 348.1,252 357,257.4 365.8,255.8 374.6,259.7 383.5,251.7 392.3,258.5 401.1,253.5 410,266.8 418.8,272.9 427.7,264.9 436.5,251.8 445.3,247.4 454.2,256 463,257.8 471.8,250.8 480.7,263.8 489.5,255.3 498.4,255.4 507.2,259.3 516,261.4 524.9,260.7 533.7,259.8 542.5,256.3 551.4,251.9 560.2,255.3 569,250.2 577.9,257.1 586.7,260.5 595.6,263.2 604.4,255.8 613.2,257.7 622.1,259.7"/>
<polyline points="109.5,247.2 118.4,257.7 127.2,246.5 136,256.8 144.9,248 153.7,253.3 162.6,244.6 171.4,251.7 180.2,255.7 189.1,256.4 197.9,254.3 206.7,250.9 215.6,253.8 224.4,261.2 233.3,253.9 242.1,256.6 250.9,258.2 259.8,258 268.6,255.9 277.4,270.2 286.3,255.2 295.1,262 303.9,254.3 312.8,252.6 321.6,257.8 330.5,245.7 339.3,251.4 348.1,248.6 357,267.8 365.8,262.3 374.6,259.6 383.5,262.1 392.3,253.6 401.1,271.1 410,254.9 418.8,254.9 427.7,256 436.5,256.2 445.3,248.3 454.2,251.9 463,256.3 471.8,251.5 480.7,251.8 489.5,257.1 498.4,262.8 507.2,248.1 516,250.2 524.9,255.3 533.7,257.3 542.5,260.6 551.4,250.1 560.2,265 569,249.2 577.9,251.5 586.7,259.3 595.6,261.2 604.4,255.6 613.2,255.7 622.1,256.7"/>
<polyline points="109.5,245.7 118.4,260.3 127.2,257.6 136,257.3 144.9,254.4 153.7,261 162.6,250.8 171.4,262.5 180.2,254 189.1,251.9 197.9,255.9 206.7,249.7 215.6,262.7 224.4,244 233.3,253.4 242.1,253.8 250.9,257.3 259.8,258.3 268.6,250.2 277.4,260 286.3,258.3 295.1,250.1 303.9,256.5 312.8,250.5 321.6,251.6 330.5,256.7 339.3,246.5 348.1,264 357,245.7 365.8,272.6 374.6,269.7 383.5,270.9 392.3,258.7 401.1,261.7 410,253.2 418.8,268.9 427.7,252.4 436.5,256.1 445.3,257.8 454.2,255.5 463,256.9 471.8,258.9 480.7,253.2 489.5,248.8 498.4,248.4 507.2,252.2 516,252 524.9,252 533.7,256.1 542.5,255.2 551.4,257.3 560.2,249.7 569,260 577.9,255.6 586.7,253.4 595.6,260.2 604.4,252.7 613.2,260.1 622.1,255.3"/>
<polyline points="109.5,250.2 118.4,256.3 127.2,252 136,259.6 144.9,250 153.7,260.7 162.6,253.2 171.4,261.1 180.2,259.3 189.1,247.9 197.9,257.8 206.7,258.7 215.6,249 224.4,258.5 233.3,264.4 242.1,263.1 250.9,262.2 259.8,258.1 268.6,265.1 277.4,258 286.3,251.3 295.1,260.2 303.9,259.3 312.8,262.7 321.6,255.6 330.5,265.8 339.3,266.1 348.1,266.9 357,247 365.8,247.3 374.6,252.1 383.5,253.6 392.3,251.9 401.1,256.4 410,253.4 418.8,256.3 427.7,251.2 436.5,253.9 445.3,263.5 454.2,247.9 463,259 471.8,262.1 480.7,249.2 489.5,261 498.4,257 507.2,253.2 516,253.6 524.9,247 533.7,247.7 542.5,255.4 551.4,259.1 560.2,251 569,260.6 577.9,253.3 586.7,257.2 595.6,258 604.4,261 613.2,252.8 622.1,259"/>
<polyline points="109.5,247.4 118.4,256.9 127.2,262.3 136,248.5 144.9,253.1 153.7,252.5 162.6,249.4 171.4,252.9 180.2,253.6 189.1,259 197.9,255 206.7,248.3 215.6,254.5 224.4,258.9 233.3,254.5 242.1,263.5 250.9,263.3 259.8,250.2 268.6,255 277.4,248.3 286.3,260.4 295.1,263 303.9,260.2 312.8,264.2 321.6,268.9 330.5,253.1 339.3,263.1 348.1,259.7 357,245.9 365.8,258.6 374.6,261.4 383.5,266.6 392.3,266.9 401.1,260 410,250.4 418.8,263.2 427.7,249.5 436.5,249.6 445.3,254.8 454.2,252.6 463,263.7 471.8,253.6 480.7,252.5 489.5,261.9 498.4,254 507.2,251.3 516,263.7 524.9,249.9 533.7,261.1 542.5,259.5 551.4,250.3 560.2,249.7 569,255.7 577.9,253.8 586.7,254.6 595.6,256.7 604.4,261.1 613.2,261.7 622.1,255.7"/>
<polyline points="109.5,244.8 118.4,253.8 127.2,259.9 136,256.6 144.9,258.5 153.7,257.6 162.6,251.4 171.4,259.9 180.2,256 189.1,256.9 197.9,257.7 206.7,261.6 215.6,246.2 224.4,253.1 233.3,257.7 242.1,244.6 250.9,258.2 259.8,258 268.6,257.3 277.4,256.3 286.3,262.2 295.1,245.7 303.9,263.2 312.8,265.9 321.6,259.7 330.5,250.1 339.3,257.3 348.1,248.7 357,258.7 365.8,255.1 374.6,256.5 383.5,258.2 392.3,249.3 401.1,260.8 410,257.7 418.8,263.3 427.7,249.6 436.5,255.8 445.3,259.8 454.2,254.2 463,254.3 471.8,251.2 480.7,247.4 489.5,257 498.4,248.2 507.2,259.8 516,253.6 524.9,254.8 533.7,256.6 542.5,255.5 551.4,255.1 560.2,263.1 569,264 577.9,251.3 586.7,255.3 595.6,257.7 604.4,256 613.2,256.8 622.1,259.1"/>
<polyline points="109.5,252.2 118.4,250.8 127.2,257.2 136,255.9 144.9,254.5 153.7,256.3 162.6,251.8 171.4,256.8 180.2,248.1 189.1,258.3 197.9,257.3 206.7,249 215.6,251.4 224.4,259.8 233.3,257.6 242.1,248.8 250.9,263.4 259.8,263 268.6,264.3 277.4,264.7 286.3,255.5 295.1,260.8 303.9,251.7 312.8,262.7 321.6,260.6 330.5,244.4 339.3,255.7 348.1,252.1 357,264.3 365.8,249.5 374.6,276.1 383.5,262.4 392.3,267 401.1,272.8 410,264.2 418.8,252.4 427.7,252.4 436.5,258.6 445.3,244.2 454.2,250.6 463,244.2 471.8,246.4 480.7,247.9 489.5,251.9 498.4,247.6 507.2,255.7 516,254.9 524.9,254.2 533.7,255.9 542.5,261.7 551.4,250.7 560.2,254 569,262.9 577.9,262 586.7,260.8 595.6,264.8 604.4,264.4 613.2,250.9 622.1,264.3"/>
<polyline points="109.5,249.7 118.4,247.6 127.2,251.6 136,253.3 144.9,256.8 153.7,259 162.6,257.7 171.4,248.4 180.2,252.6 189.1,255.4 197.9,256.2 206.7,256.6 215.6,260.9 224.4,258.5 233.3,256.4 242.1,256.8 250.9,266.6 259.8,255 268.6,259.6 277.4,255.5 286.3,251.1 295.1,250.5 303.9,264.3 312.8,249.2 321.6,253.3 330.5,267.7 339.3,262.2 348.1,246.3 357,251.2 365.8,266.9 374.6,274.3 383.5,273.9 392.3,260 401.1,251.2 410,259.1 418.8,255.6 427.7,266.7 436.5,262.2 445.3,265.9 454.2,250 463,259.7 471.8,264.2 480.7,252.7 489.5,261.8 498.4,255.1 507.2,259.5 516,254.8 524.9,247.8 533.7,261.5 542.5,255.6 551.4,257.6 560.2,263.5 569,259.6 577.9,251.5 586.7,254.2 595.6,259.4 604.4,256 613.2,261 622.1,252.9"/>
<polyline points="109.5,252.3 118.4,260.4 127.2,255.9 136,255.2 144.9,255.3 153.7,246.5 162.6,246.9 171.4,259.7 180.2,257.1 189.1,258 197.9,253.6 206.7,256.1 215.6,254.1 224.4,253.5 233.3,253.6 242.1,265.2 250.9,267.4 259.8,262 268.6,255.5 277.4,268.6 286.3,248.3 295.1,248.4 303.9,258.1 312.8,262.1 321.6,263.7 330.5,243.6 339.3,262.2 348.1,260.5 357,252.6 365.8,260.6 374.6,265.4 383.5,252.2 392.3,266.5 401.1,252.6 410,268.6 418.8,255 427.7,258.7 436.5,255.1 445.3,259.1 454.2,247.2 463,245.5 471.8,255.7 480.7,250.9 489.5,258.5 498.4,256.9 507.2,255.7 516,258.6 524.9,251.5 533.7,257.6 542.5,251.7 551.4,250.9 560.2,261.5 569,262.3 577.9,253.5 586.7,260.5 595.6,259 604.4,254.9 613.2,256.7 622.1,254"/>
<polyline points="109.5,256.9 118.4,252.8 127.2,249.4 136,254.5 144.9,261.4 153.7,253.5 162.6,257.1 171.4,254.2 180.2,248.6 189.1,249.6 197.9,258.8 206.7,250.1 215.6,248.4 224.4,264.3 233.3,256.9 242.1,256.7 250.9,261.4 259.8,258.5 268.6,255.3 277.4,263.2 286.3,259.8 295.1,265.8 303.9,254 312.8,264.6 321.6,261 330.5,266.5 339.3,266.1 348.1,253.2 357,262.8 365.8,269.1 374.6,269.1 383.5,262.3 392.3,247.6 401.1,249.4 410,252 418.8,264.3 427.7,253.7 436.5,258.9 445.3,259.5 454.2,256.2 463,245.3 471.8,260.8 480.7,262.9 489.5,250.9 498.4,253.1 507.2,260.8 516,252.3 524.9,256.1 533.7,249.5 542.5,256.5 551.4,257.2 560.2,256 569,253 577.9,253.2 586.7,255.4 595.6,249.7 604.4,263.2 613.2,252.5 622.1,256.9"/>
<polyline points="109.5,247.7 118.4,257 127.2,248.9 136,258.6 144.9,257.7 153.7,262.2 162.6,253.8 171.4,256.1 180.2,248.2 189.1,254.2 197.9,257.7 206.7,257 215.6,247.8 224.4,247.8 233.3,259.6 242.1,251.9 250.9,251.3 259.8,257.1 268.6,251.2 277.4,266.3 286.3,256.5 295.1,254.4 303.9,253 312.8,264.5 321.6,250.9 330.5,253.2 339.3,254.9 348.1,254 357,261.8 365.8,255.9 374.6,254.2 383.5,256 392.3,252.1 401.1,261.6 410,260.5 418.8,266.5 427.7,252.9 436.5,251.8 445.3,247.6 454.2,252.2 463,247.9 471.8,256.2 480.7,249.7 489.5,247.4 498.4,256.7 507.2,259.8 516,250.9 524.9,254.4 533.7,262.7 542.5,254.5 551.4,255 560.2,262.1 569,261.8 577.9,257.8 586.7,260.6 595.6,263.6 604.4,253.3 613.2,258.4 622.1,258.5"/>
<polyline points="109.5,248.8 118.4,257.1 127.2,254.5 136,253.9 144.9,252.9 153.7,248.4 162.6,253.6 171.4,252.2 180.2,260.4 189.1,253.3 197.9,251.6 206.7,259.7 215.6,248.4 224.4,267.9 233.3,261.3 242.1,256.5 250.9,248.2 259.8,248.3 268.6,254 277.4,266.3 286.3,257.8 295.1,250.2 303.9,262.8 312.8,258.9 321.6,254 330.5,259 339.3,254.6 348.1,257.2 357,264.9 365.8,252.1 374.6,250.4 383.5,266.5 392.3,264.3 401.1,263.3 410,263.7 418.8,254.6 427.7,262.3 436.5,255 445.3,257.9 454.2,259.6 463,261 471.8,259.2 480.7,258.5 489.5,247.5 498.4,255.8 507.2,256.4 516,261.4 524.9,259.9 533.7,250.5 542.5,252.9 551.4,256.4 560.2,262.7 569,265.5 577.9,253.6 586.7,253.9 595.6,262.8 604.4,253.4 613.2,255.1 622.1,259.3"/>
<polyline points="109.5,251.5 118.4,255.1 127.2,256.9 136,262.5 144.9,247.4 153.7,249.5 162.6,258.2 171.4,255.2 180.2,259.7 189.1,260.4 197.9,257.8 206.7,264 215.6,251.7 224.4,247.5 233.3,253 242.1,249.5 250.9,258.6 259.8,260.2 268.6,266.3 277.4,250.1 286.3,262.2 295.1,266.3 303.9,261.6 312.8,251.5 321.6,259.9 330.5,251.3 339.3,262.6 348.1,265.5 357,248.8 365.8,263.6 374.6,258.9 383.5,253.7 392.3,250.7 401.1,271.4 410,255.2 418.8,265.9 427.7,260.8 436.5,258.7 445.3,251.2 454.2,259.2 463,260.4 471.8,250.5 480.7,265.5 489.5,252.9 498.4,254.4 507.2,250.5 516,259.5 524.9,262 533.7,250.2 542.5,253.9 551.4,259.6 560.2,252.1 569,261.2 577.9,251 586.7,260.6 595.6,262.8 604.4,257 613.2,259.2 622.1,250"/>
<polyline points="109.5,244.7 118.4,251.7 127.2,256.8 136,261.8 144.9,257.5 153.7,247.8 162.6,244.8 171.4,246.4 180.2,251.4 189.1,251.7 197.9,256.2 206.7,252 215.6,256.4 224.4,245 233.3,256.6 242.1,256.6 250.9,255.3 259.8,254.5 268.6,250.6 277.4,250.9 286.3,258.9 295.1,249.7 303.9,251 312.8,258.7 321.6,259.8 330.5,252.5 339.3,267.1 348.1,249.5 357,260.3 365.8,271.9 374.6,272.1 383.5,259.9 392.3,253.1 401.1,272.9 410,249.2 418.8,249.7 427.7,256.6 436.5,251.5 445.3,253.5 454.2,244.1 463,251.8 471.8,254.6 480.7,252 489.5,255.9 498.4,256.5 507.2,256.1 516,255.2 524.9,252.5 533.7,263.3 542.5,258.2 551.4,263 560.2,251.1 569,250 577.9,261.9 586.7,255.9 595.6,255.6 604.4,253.5 613.2,257.6 622.1,255"/>
<polyline points="109.5,254.8 118.4,245.2 127.2,252.6 136,253.6 144.9,258.4 153.7,259.3 162.6,249.3 171.4,253.2 180.2,249 189.1,255.6 197.9,252.5 206.7,251.9 215.6,258.1 224.4,257.5 233.3,250.6 242.1,261 250.9,250.8 259.8,254.4 268.6,257.1 277.4,255.9 286.3,252.8 295.1,259.4 303.9,268.4 312.8,255.2 321.6,258.6 330.5,247.3 339.3,257 348.1,253.5 357,258.8 365.8,263.7 374.6,269.4 383.5,257.9 392.3,256.5 401.1,253.7 410,273.4 418.8,257.1 427.7,254.7 436.5,262 445.3,261.4 454.2,256.6 463,255.8 471.8,253.8 480.7,244.3 489.5,259.3 498.4,251.9 507.2,262.1 516,259.5 524.9,263.6 533.7,254.1 542.5,257.5 551.4,257.7 560.2,250 569,257.4 577.9,262.8 586.7,250.3 595.6,261.8 604.4,259.6 613.2,253.7 622.1,257.4"/>
<polyline points="109.5,248.2 118.4,256.4 127.2,258.4 136,251 144.9,247.2 153.7,260.5 162.6,246.1 171.4,252.7 180.2,259.9 189.1,246.7 197.9,244.7 206.7,257.6 215.6,263.9 224.4,253.7 233.3,258.4 242.1,260.3 250.9,264.3 259.8,255.8 268.6,259.9 277.4,250 286.3,254.6 295.1,251 303.9,264.2 312.8,263.6 321.6,252.3 330.5,261.9 339.3,255.4 348.1,246.8 357,251.6 365.8,265.9 374.6,266.4 383.5,262.1 392.3,269.6 401.1,260.2 410,259.6 418.8,258.2 427.7,257.3 436.5,251.3 445.3,253 454.2,261.5 463,254.3 471.8,250.4 480.7,257 489.5,257.2 498.4,252.4 507.2,255.9 516,260.9 524.9,251.2 533.7,250.1 542.5,260.6 551.4,258.6 560.2,262.1 569,258.4 577.9,253.8 586.7,262.2 595.6,258.9 604.4,253.2 613.2,258.7 622.1,261.3"/>
<polyline points="109.5,247.9 118.4,259.2 127.2,249 136,260.5 144.9,256.7 153.7,250.6 162.6,255.4 171.4,247.6 180.2,256.5 189.1,253.1 197.9,254.5 206.7,256.1 215.6,261 224.4,256.8 233.3,247.4 242.1,262 250.9,250.3 259.8,256.8 268.6,253.1 277.4,261.2 286.3,254.1 295.1,264.3 303.9,263.3 312.8,258.2 321.6,260 330.5,261 339.3,253.5 348.1,253.9 357,263.6 365.8,254.4 374.6,262.2 383.5,247.6 392.3,268.8 401.1,267.9 410,262.3 418.8,248.4 427.7,263.3 436.5,261.6 445.3,262.6 454.2,263.7 463,248.7 471.8,263.3 480.7,249.5 489.5,250.5 498.4,257.9 507.2,257.3 516,262.9 524.9,255.9 533.7,257.5 542.5,256.6 551.4,256.9 560.2,259.1 569,259.7 577.9,257.6 586.7,257.8 595.6,258.8 604.4,260.7 613.2,259.9 622.1,257.8"/>
<polyline points="109.5,259.8 118.4,257.4 127.2,258.7 136,255.8 144.9,257.6 153.7,261.2 162.6,257.6 171.4,247.3 180.2,253 189.1,250.5 197.9,246.8 206.7,261.7 215.6,249.1 224.4,252 233.3,266.1 242.1,252.5 250.9,258.3 259.8,250.5 268.6,251.5 277.4,260.9 286.3,251.3 295.1,260.9 303.9,255.3 312.8,264.3 321.6,269.4 330.5,261.6 339.3,254 348.1,265.8 357,249.8 365.8,251.3 374.6,257.9 383.5,264.1 392.3,272.5 401.1,262.9 410,262.7 418.8,252.2 427.7,267.5 436.5,253.9 445.3,261.2 454.2,264.3 463,252.5 471.8,244.9 480.7,257.2 489.5,258.5 498.4,252.8 507.2,258.5 516,254.4 524.9,255.2 533.7,248.3 542.5,258.5 551.4,257.6 560.2,250.2 569,260.3 577.9,262.6 586.7,261.2 595.6,257.2 604.4,252.3 613.2,260.2 622.1,255.6"/>
<polyline points="109.5,256.2 118.4,256.4 127.2,253.1 136,251.3 144.9,256.8 153.7,252.3 162.6,250.2 171.4,253.8 180.2,263.9 189.1,259.2 197.9,254.9 206.7,261.6 215.6,248.3 224.4,260.4 233.3,258.5 242.1,257.8 250.9,260.1 259.8,254.8 268.6,266.5 277.4,248.6 286.3,259.2 295.1,264 303.9,260.7 312.8,249.1 321.6,263.4 330.5,250.7 339.3,262.7 348.1,265.5 357,254.2 365.8,269 374.6,250.7 383.5,243.9 392.3,269.6 401.1,258.3 410,263.8 418.8,250.9 427.7,246.1 436.5,249.9 445.3,249.1 454.2,246.4 463,259.4 471.8,261.4 480.7,254.9 489.5,252.8 498.4,256.6 507.2,246.4 516,253.4 524.9,257.2 533.7,260.6 542.5,259 551.4,263.8 560.2,257.2 569,248.3 577.9,253.9 586.7,261.6 595.6,263.2 604.4,257.7 613.2,257.5 622.1,258"/>
<polyline points="109.5,256.8 118.4,248.7 127.2,260.8 136,250.7 144.9,249.4 153.7,253.9 162.6,259.6 171.4,244.3 180.2,255.4 189.1,258.4 197.9,248.2 206.7,255.9 215.6,255.5 224.4,260.1 233.3,252.1 242.1,262.5 250.9,261 259.8,260.5 268.6,257.7 277.4,253.1 286.3,258.6 295.1,261.9 303.9,266.9 312.8,257.5 321.6,262.5 330.5,261.4 339.3,267.5 348.1,261 357,250.2 365.8,256.9 374.6,254.7 383.5,255 392.3,262.2 401.1,267.1 410,248.4 418.8,260.5 427.7,247.2 436.5,257.5 445.3,261.5 454.2,255.9 463,259.7 471.8,245.8 480.7,258.5 489.5,252.7 498.4,248.1 507.2,265.6 516,256.4 524.9,251.5 533.7,263 542.5,253.2 551.4,258.7 560.2,264.2 569,256.8 577.9,257.5 586.7,259.6 595.6,255.3 604.4,253.1 613.2,252.7 622.1,260.2"/>
<polyline points="109.5,248.5 118.4,245.9 127.2,259.1 136,251.5 144.9,260.5 153.7,252.8 162.6,256.8 171.4,259.3 180.2,247.2 189.1,250.9 197.9,246.5 206.7,257.7 215.6,254.5 224.4,260.4 233.3,252.6 242.1,259.2 250.9,261.2 259.8,246.3 268.6,262.2 277.4,263.3 286.3,252.7 295.1,245 303.9,263.6 312.8,260.7 321.6,253.1 330.5,257.1 339.3,250.3 348.1,244.1 357,259.6 365.8,253.8 374.6,261 383.5,259.5 392.3,251 401.1,264.9 410,249.1 418.8,263.9 427.7,265.4 436.5,249.9 445.3,251.6 454.2,247.6 463,263.1 471.8,256.3 480.7,246.9 489.5,248.8 498.4,258.2 507.2,251.9 516,253.8 524.9,259.5 533.7,252 542.5,253.4 551.4,250.8 560.2,257.2 569,260.8 577.9,255.3 586.7,252.5 595.6,252.2 604.4,263 613.2,253.2 622.1,251.6"/>
<polyline points="109.5,255.1 118.4,253.9 127.2,261.9 136,256.7 144.9,255 153.7,253.3 162.6,260.3 171.4,257.8 180.2,259.5 189.1,263 197.9,248.7 206.7,246.5 215.6,256.4 224.4,260.6 233.3,264.6 242.1,251.8 250.9,260 259.8,252.9 268.6,244.5 277.4,248.9 286.3,250 295.1,247.6 303.9,254.8 312.8,261.7 321.6,250.5 330.5,261.2 339.3,256.9 348.1,254.5 357,254.3 365.8,260.3 374.6,257.7 383.5,264.8 392.3,255.8 401.1,263.8 410,273.6 418.8,261.4 427.7,261.8 436.5,260.2 445.3,255.5 454.2,263.8 463,256.8 471.8,252.3 480.7,256.9 489.5,255.8 498.4,262.7 507.2,251.5 516,258.9 524.9,257.9 533.7,250.4 542.5,253 551.4,251.1 560.2,257.7 569,257.4 577.9,256 586.7,261.9 595.6,264.6 604.4,251.8 613.2,260.2 622.1,253.4"/>
<polyline points="109.5,258 118.4,256.9 127.2,255.2 136,261 144.9,258.8 153.7,250.9 162.6,248.4 171.4,258.5 180.2,257.2 189.1,256 197.9,256 206.7,262.6 215.6,257.2 224.4,255.2 233.3,255.3 242.1,252.4 250.9,268.7 259.8,267.5 268.6,257.4 277.4,247.7 286.3,263.8 295.1,264.7 303.9,257 312.8,260.2 321.6,249 330.5,254.6 339.3,248.5 348.1,251.7 357,261.8 365.8,264.2 374.6,253.4 383.5,245.4 392.3,254.2 401.1,257 410,267.8 418.8,259 427.7,267.8 436.5,257.5 445.3,256 454.2,251.1 463,254.3 471.8,250.8 480.7,250 489.5,257.6 498.4,246.1 507.2,251.2 516,256.8 524.9,255.7 533.7,258.6 542.5,254.2 551.4,256.2 560.2,249.5 569,264.1 577.9,250 586.7,254.4 595.6,251.6 604.4,254.1 613.2,252.7 622.1,262"/>
<polyline points="109.5,260 118.4,255.2 127.2,251.4 136,250.5 144.9,256.4 153.7,258.3 162.6,260.5 171.4,247.7 180.2,263.4 189.1,248.2 197.9,254.7 206.7,260.7 215.6,253.6 224.4,263.7 233.3,264.1 242.1,257.3 250.9,257.3 259.8,267.3 268.6,251.3 277.4,249.8 286.3,265.2 295.1,246.4 303.9,253.6 312.8,247.4 321.6,248.9 330.5,249.9 339.3,246.8 348.1,255.4 357,265.5 365.8,254 374.6,263.9 383.5,273 392.3,253.2 401.1,258.9 410,270.5 418.8,246.9 427.7,268.7 436.5,263.2 445.3,254.4 454.2,258.9 463,252.4 471.8,254.7 480.7,251.2 489.5,261 498.4,258 507.2,252.9 516,253.1 524.9,253.5 533.7,256.6 542.5,262.8 551.4,249.3 560.2,252 569,253.6 577.9,263.4 586.7,262.1 595.6,262.3 604.4,249.8 613.2,258 622.1,261.6"/>
<polyline points="109.5,253.8 118.4,261.4 127.2,258.7 136,259 144.9,254.9 153.7,248.5 162.6,261.6 171.4,251.5 180.2,249.9 189.1,259.5 197.9,262.2 206.7,252.7 215.6,254 224.4,256.2 233.3,257.3 242.1,252.8 250.9,261 259.8,262.2 268.6,251.8 277.4,258 286.3,259.5 295.1,263.7 303.9,262.8 312.8,246.3 321.6,257.2 330.5,247.9 339.3,258.7 348.1,266.4 357,249 365.8,256.5 374.6,275.2 383.5,264.6 392.3,248.9 401.1,267.1 410,256.5 418.8,266.7 427.7,255 436.5,253.9 445.3,255.5 454.2,252.8 463,258.9 471.8,252.2 480.7,254.3 489.5,264.5 498.4,257.1 507.2,256.4 516,252.8 524.9,258.6 533.7,252.3 542.5,259.8 551.4,252.3 560.2,260 569,258.5 577.9,252.8 586.7,251.6 595.6,255.3 604.4,259.2 613.2,257.8 622.1,258.2"/>
<polyline points="109.5,260.5 118.4,256.2 127.2,252.3 136,260 144.9,245.6 153.7,256.4 162.6,264 171.4,260.7 180.2,254.7 189.1,254.8 197.9,253.8 206.7,256.7 215.6,251.6 224.4,260.9 233.3,265.6 242.1,249.9 250.9,250.4 259.8,246.1 268.6,262.3 277.4,254.5 286.3,261.2 295.1,266 303.9,259.9 312.8,266.4 321.6,259.6 330.5,252.8 339.3,263.1 348.1,245.9 357,260.7 365.8,259.7 374.6,261.1 383.5,251.5 392.3,268.9 401.1,250.7 410,253.7 418.8,271.9 427.7,259 436.5,258.2 445.3,258 454.2,255.1 463,249.2 471.8,255.3 480.7,260.7 489.5,246.1 498.4,260.8 507.2,255 516,254.7 524.9,252.2 533.7,257.4 542.5,258 551.4,255.8 560.2,255 569,260.7 577.9,253.7 586.7,253.9 595.6,261.6 604.4,255.1 613.2,262.9 622.1,256.8"/>
<polyline points="109.5,258.9 118.4,259.6 127.2,247.9 136,256.2 144.9,262 153.7,254.8 162.6,261.1 171.4,259.1 180.2,262.7 189.1,256 197.9,262.9 206.7,254.8 215.6,262 224.4,263.4 233.3,267.1 242.1,252.1 250.9,262.6 259.8,247.1 268.6,251.7 277.4,248.2 286.3,257.3 295.1,261.8 303.9,254.8 312.8,266.1 321.6,258.9 330.5,253.8 339.3,266.3 348.1,265.2 357,247.2 365.8,269.9 374.6,259.2 383.5,247.3 392.3,258.7 401.1,252.2 410,257.4 418.8,256.2 427.7,265.4 436.5,262.9 445.3,251 454.2,252.4 463,255.8 471.8,254.9 480.7,258.8 489.5,261.2 498.4,258.6 507.2,251 516,256.1 524.9,262 533.7,258 542.5,261.9 551.4,255.4 560.2,252.3 569,253.8 577.9,255.7 586.7,254.8 595.6,256 604.4,259.2 613.2,260 622.1,260"/>
<polyline points="109.5,247.6 118.4,251.5 127.2,262.3 136,263.6 144.9,250.4 153.7,255 162.6,252.9 171.4,257.8 180.2,250 189.1,258.7 197.9,251.5 206.7,256.5 215.6,255.7 224.4,255.3 233.3,255.1 242.1,262.5 250.9,258.5 259.8,245.4 268.6,250.6 277.4,259.5 286.3,254.7 295.1,256.4 303.9,248.6 312.8,257.5 321.6,263.4 330.5,254.8 339.3,264.5 348.1,250.3 357,263.5 365.8,270.9 374.6,261.6 383.5,260.3 392.3,257.1 401.1,260.9 410,257.9 418.8,259.1 427.7,247.5 436.5,246.8 445.3,253.9 454.2,247.9 463,254.3 471.8,253.5 480.7,257.6 489.5,250.6 498.4,255.9 507.2,256.2 516,255.4 524.9,257.2 533.7,259.7 542.5,255.9 551.4,254.8 560.2,261.6 569,251.1 577.9,257.1 586.7,256.4 595.6,258 604.4,257.9 613.2,257.1 622.1,262.5"/>
<polyline points="109.5,246.6 118.4,262.9 127.2,258.5 136,249.9 144.9,248.8 153.7,252.5 162.6,248.7 171.4,253.1 180.2,248.7 189.1,263 197.9,256.2 206.7,260.3 215.6,248.2 224.4,246.7 233.3,263.8 242.1,251.9 250.9,266.1 259.8,262.7 268.6,245.2 277.4,244.9 286.3,258.9 295.1,248.4 303.9,252.5 312.8,259.2 321.6,251.4 330.5,270.5 339.3,251.9 348.1,251.7 357,262.8 365.8,263.1 374.6,258 383.5,267.8 392.3,254.7 401.1,261.7 410,260.9 418.8,257.7 427.7,251 436.5,246.4 445.3,250.2 454.2,246.7 463,252.9 471.8,253.2 480.7,256.6 489.5,262.2 498.4,252.7 507.2,251.8 516,253.2 524.9,252.9 533.7,259.8 542.5,252.6 551.4,259.3 560.2,258.5 569,261.6 577.9,257.2 586.7,254.7 595.6,260.6 604.4,255.9 613.2,261.7 622.1,255.8"/>
<polyline points="109.5,250.7 118.4,257.5 127.2,256.9 136,258.1 144.9,259.4 153.7,251.3 162.6,248.1 171.4,257.7 180.2,254.4 189.1,261.5 197.9,256.7 206.7,248.5 215.6,251.6 224.4,247 233.3,248.2 242.1,261.1 250.9,264.1 259.8,260 268.6,267.3 277.4,246.9 286.3,260.1 295.1,258 303.9,261.9 312.8,259.7 321.6,253.9 330.5,257.1 339.3,266 348.1,266.8 357,260.3 365.8,261.7 374.6,268.2 383.5,268.6 392.3,253.6 401.1,264.4 410,253.9 418.8,257.9 427.7,251.3 436.5,246.7 445.3,251.3 454.2,249.1 463,253.7 471.8,250.9 480.7,256.8 489.5,252.6 498.4,260.4 507.2,249.5 516,258.2 524.9,254.7 533.7,258 542.5,257.2 551.4,257.6 560.2,260.1 569,251.4 577.9,256.4 586.7,253.8 595.6,258.6 604.4,256.4 613.2,255.5 622.1,257.4"/>
<polyline points="109.5,255.9 118.4,255.2 127.2,258.1 136,247.8 144.9,264.1 153.7,257.7 162.6,257.3 171.4,248.9 180.2,248.6 189.1,248.1 197.9,259.7 206.7,246.9 215.6,251.2 224.4,257.9 233.3,255.8 242.1,258.6 250.9,259.8 259.8,244.2 268.6,264.2 277.4,259.4 286.3,267.9 295.1,262.1 303.9,260.8 312.8,254.8 321.6,252.1 330.5,268 339.3,255.2 348.1,254.1 357,260.9 365.8,246.5 374.6,248.7 383.5,267.4 392.3,255.7 401.1,247.6 410,253.2 418.8,257.5 427.7,256.2 436.5,256.3 445.3,262.7 454.2,247.5 463,253 471.8,254.9 480.7,253.5 489.5,253.3 498.4,259.1 507.2,262.5 516,263.8 524.9,259.1 533.7,259.7 542.5,253.7 551.4,261.3 560.2,263.1 569,250.7 577.9,261.7 586.7,253.8 595.6,249.2 604.4,262.7 613.2,249.7 622.1,258.9"/>
<polyline points="109.5,252 118.4,255.3 127.2,257 136,252.7 144.9,251.6 153.7,245.5 162.6,260.9 171.4,259.1 180.2,258.1 189.1,253.5 197.9,247.5 206.7,257.5 215.6,254.6 224.4,255 233.3,248.6 242.1,267.8 250.9,265.3 259.8,248.2 268.6,258.5 277.4,258 286.3,252.6 295.1,248.1 303.9,266.2 312.8,257.1 321.6,252.2 330.5,258 339.3,246 348.1,263.1 357,255 365.8,252 374.6,247.8 383.5,263.1 392.3,247.8 401.1,267.8 410,258.5 418.8,253.1 427.7,260.1 436.5,251.1 445.3,253.5 454.2,257.3 463,253.6 471.8,254.9 480.7,253.1 489.5,260.5 498.4,258 507.2,259.8 516,249 524.9,248.8 533.7,259.4 542.5,258.7 551.4,250.8 560.2,252.1 569,260.2 577.9,260.9 586.7,259.5 595.6,260.7 604.4,251.5 613.2,256.1 622.1,251.8"/>
<polyline points="109.5,251.8 118.4,259.9 127.2,255.6 136,260.8 144.9,255.9 153.7,260.7 162.6,251.1 171.4,251.9 180.2,259.6 189.1,256.3 197.9,254.7 206.7,261 215.6,257.1 224.4,257.1 233.3,253.6 242.1,248.1 250.9,255.7 259.8,256.5 268.6,248 277.4,259.7 286.3,246.2 295.1,246 303.9,265.8 312.8,261.9 321.6,256.9 330.5,256.9 339.3,247.3 348.1,256 357,254.6 365.8,259.9 374.6,272.1 383.5,254.1 392.3,254.7 401.1,249 410,251.5 418.8,265.2 427.7,256.4 436.5,258.7 445.3,255.4 454.2,260 463,263.2 471.8,248.6 480.7,246.9 489.5,248.2 498.4,261.2 507.2,248.4 516,254.4 524.9,255.7 533.7,253.1 542.5,252.4 551.4,254.7 560.2,257.5 569,249.7 577.9,253.4 586.7,251.1 595.6,255.4 604.4,256.5 613.2,260.2 622.1,252.4"/>
<polyline points="109.5,251 118.4,252.4 127.2,247.3 136,258.4 144.9,253.5 153.7,247.1 162.6,261.7 171.4,252.7 180.2,256.9 189.1,254.1 197.9,250.6 206.7,252.4 215.6,251.3 224.4,250.9 233.3,255.1 242.1,265.9 250.9,249.8 259.8,263.5 268.6,266.8 277.4,252.7 286.3,259.3 295.1,256.5 303.9,248 312.8,264.9 321.6,265 330.5,254.5 339.3,251.3 348.1,257.4 357,248.5 365.8,264.7 374.6,253.4 383.5,253.7 392.3,269.8 401.1,265.1 410,246.1 418.8,258.2 427.7,257.1 436.5,257.5 445.3,266.9 454.2,259 463,262.5 471.8,255.1 480.7,249.8 489.5,250.7 498.4,254.8 507.2,257.4 516,255.7 524.9,262.2 533.7,260.1 542.5,259 551.4,259.7 560.2,256.2 569,252.3 577.9,257.9 586.7,261 595.6,261.9 604.4,264.9 613.2,259.7 622.1,252"/>
<polyline points="109.5,249.7 118.4,261.8 127.2,249.2 136,246.1 144.9,253.3 153.7,251.7 162.6,255.9 171.4,254.4 180.2,255.9 189.1,255.7 197.9,251.4 206.7,255.4 215.6,252.5 224.4,263.6 233.3,267.9 242.1,251.3 250.9,251 259.8,251.6 268.6,260.8 277.4,259.7 286.3,252.5 295.1,254.3 303.9,256.3 312.8,267.7 321.6,249.3 330.5,257.4 339.3,265.2 348.1,264.4 357,261.7 365.8,244.9 374.6,268.4 383.5,256.9 392.3,249.4 401.1,267.5 410,256.2 418.8,258.3 427.7,248.6 436.5,248.3 445.3,253.2 454.2,260.3 463,260.8 471.8,251.9 480.7,262.5 489.5,252.5 498.4,256.6 507.2,260.1 516,253.4 524.9,252.8 533.7,255.6 542.5,259.2 551.4,255.6 560.2,251.2 569,248.9 577.9,256 586.7,261.7 595.6,258.8 604.4,253.6 613.2,259.6 622.1,255.6"/>
<polyline points="109.5,253.4 118.4,247.8 127.2,253.6 136,250.9 144.9,253 153.7,247.2 162.6,253.9 171.4,253.1 180.2,246.1 189.1,255.1 197.9,249.9 206.7,247 215.6,265.5 224.4,263.3 233.3,246.9 242.1,268.9 250.9,255.9 259.8,264 268.6,263 277.4,261.9 286.3,251.7 295.1,268.5 303.9,252.1 312.8,255.7 321.6,254.3 330.5,256.1 339.3,250.5 348.1,259.2 357,266.1 365.8,260.5 374.6,254.9 383.5,257.9 392.3,275.8 401.1,259.9 410,270.4 418.8,263.4 427.7,269.3 436.5,254.6 445.3,251.8 454.2,254.1 463,259.1 471.8,251.1 480.7,254.2 489.5,250.2 498.4,254.9 507.2,257.6 516,255.4 524.9,258.1 533.7,259.3 542.5,251.7 551.4,261.8 560.2,261.7 569,252.1 577.9,258.1 586.7,264.3 595.6,253.8 604.4,261.3 613.2,252.8 622.1,255.7"/>
<polyline points="109.5,248 118.4,257.6 127.2,256.9 136,262.5 144.9,261.9 153.7,255.9 162.6,254.7 171.4,253.2 180.2,257.5 189.1,248.3 197.9,255.3 206.7,251.4 215.6,249 224.4,267.9 233.3,253.8 242.1,252.2 250.9,263.4 259.8,259.6 268.6,258.6 277.4,253.3 286.3,245.4 295.1,263.4 303.9,251.6 312.8,252.3 321.6,251.8 330.5,264.1 339.3,258.4 348.1,259.3 357,249.3 365.8,253 374.6,269.4 383.5,255.6 392.3,245 401.1,253.1 410,267.5 418.8,265.9 427.7,262.6 436.5,248.9 445.3,261.9 454.2,259.8 463,250.8 471.8,244.5 480.7,252 489.5,253.7 498.4,253 507.2,252.8 516,255.2 524.9,251.5 533.7,258.5 542.5,257.3 551.4,258.6 560.2,254.8 569,260.2 577.9,255.5 586.7,258.7 595.6,261.8 604.4,258 613.2,257.6 622.1,261.9"/>
<polyline points="109.5,257.8 118.4,255.2 127.2,251.1 136,250.6 144.9,249.6 153.7,254.2 162.6,251.9 171.4,246.7 180.2,257 189.1,254.4 197.9,256.6 206.7,250.6 215.6,250.7 224.4,257.5 233.3,254.5 242.1,249.6 250.9,248.7 259.8,265 268.6,260.2 277.4,253.5 286.3,261 295.1,250.6 303.9,266.8 312.8,262.8 321.6,257.1 330.5,249.4 339.3,250 348.1,251.5 357,264.5 365.8,271.9 374.6,269.8 383.5,270.5 392.3,263.7 401.1,261.7 410,260.6 418.8,251.9 427.7,263.1 436.5,262.3 445.3,256.4 454.2,264.3 463,249.4 471.8,258.4 480.7,257.3 489.5,259.1 498.4,263.9 507.2,259.8 516,258.6 524.9,252.1 533.7,253.4 542.5,260.2 551.4,247.2 560.2,263.9 569,248.4 577.9,255.3 586.7,257.4 595.6,250 604.4,260.3 613.2,256.2 622.1,250.9"/>
<polyline points="109.5,245.4 118.4,245.3 127.2,257.7 136,254.9 144.9,259.5 153.7,254.1 162.6,255.6 171.4,263 180.2,252.8 189.1,260.8 197.9,246.2 206.7,246.8 215.6,257.9 224.4,258.9 233.3,254.8 242.1,246.4 250.9,251.2 259.8,262.7 268.6,250.7 277.4,255.9 286.3,267.1 295.1,253.3 303.9,254.1 312.8,252.1 321.6,267.3 330.5,262.4 339.3,266.1 348.1,256.6 357,253.2 365.8,269.4 374.6,272.4 383.5,261 392.3,252.4 401.1,266.8 410,256.7 418.8,250.9 427.7,252.5 436.5,257.5 445.3,255.1 454.2,257.2 463,249.2 471.8,256.1 480.7,255.6 489.5,247.3 498.4,262.5 507.2,257.1 516,258 524.9,261.5 533.7,252.8 542.5,259.2 551.4,254.3 560.2,251.2 569,260.9 577.9,257 586.7,258.8 595.6,262.7 604.4,262.1 613.2,258.5 622.1,257.2"/>
<polyline points="109.5,250.4 118.4,258 127.2,256.8 136,260.8 144.9,247.2 153.7,258.7 162.6,252 171.4,256.9 180.2,247.3 189.1,255.7 197.9,245.8 206.7,256 215.6,247.5 224.4,255 233.3,256.4 242.1,253.9 250.9,256.4 259.8,247.5 268.6,251.9 277.4,248.9 286.3,253.6 295.1,255.7 303.9,260.3 312.8,256.5 321.6,263 330.5,255.7 339.3,247 348.1,260 357,259.1 365.8,260.5 374.6,254.9 383.5,264.2 392.3,258.5 401.1,267.1 410,272.3 418.8,249.9 427.7,259.8 436.5,254.6 445.3,257.5 454.2,260.5 463,252.6 471.8,255.6 480.7,262.2 489.5,246.5 498.4,250.4 507.2,257.6 516,263.5 524.9,251.8 533.7,263.6 542.5,253.5 551.4,256.3 560.2,260.9 569,260.5 577.9,252.3 586.7,257.8 595.6,262.1 604.4,257.3 613.2,259.3 622.1,254.1"/>
<polyline points="109.5,250.5 118.4,264.1 127.2,248 136,262.7 144.9,253.4 153.7,263.7 162.6,249.1 171.4,251.8 180.2,260.3 189.1,257.8 197.9,248.3 206.7,246.7 215.6,265.8 224.4,258.9 233.3,246.9 242.1,252.5 250.9,262.2 259.8,251.3 268.6,252.9 277.4,259.4 286.3,251.7 295.1,246.3 303.9,256.2 312.8,247.2 321.6,265.7 330.5,249.1 339.3,256.9 348.1,257.9 357,257.3 365.8,248.3 374.6,265.3 383.5,249.1 392.3,258.9 401.1,254.1 410,252 418.8,261.1 427.7,245.4 436.5,260 445.3,255.4 454.2,257.8 463,249.9 471.8,255.4 480.7,255.6 489.5,252 498.4,256.7 507.2,258.8 516,258.8 524.9,253.5 533.7,256.2 542.5,251.9 551.4,259.1 560.2,255.6 569,258.9 577.9,259.8 586.7,255.3 595.6,257.4 604.4,258.6 613.2,259.1 622.1,258.2"/>
<polyline points="109.5,259.6 118.4,251.2 127.2,250.4 136,248.3 144.9,263 153.7,252 162.6,250 171.4,260.2 180.2,255.9 189.1,259.3 197.9,247.2 206.7,252.3 215.6,250.9 224.4,258.8 233.3,256.2 242.1,269.8 250.9,248.3 259.8,251.1 268.6,255.7 277.4,267.3 286.3,260 295.1,265.4 303.9,262.5 312.8,250 321.6,254.7 330.5,252.2 339.3,246.1 348.1,260.6 357,267.2 365.8,263.9 374.6,263 383.5,248.6 392.3,258.2 401.1,262.9 410,260.6 418.8,264.5 427.7,261.3 436.5,258.5 445.3,257.5 454.2,257.5 463,259.6 471.8,259.7 480.7,256.1 489.5,248.8 498.4,264.4 507.2,253.5 516,251 524.9,252.2 533.7,262.2 542.5,251.8 551.4,254.4 560.2,262.8 569,261.6 577.9,253.2 586.7,255.9 595.6,255.4 604.4,257.1 613.2,264 622.1,257.4"/>
<polyline points="109.5,248.1 118.4,260.8 127.2,257.1 136,258.6 144.9,259.2 153.7,254.8 162.6,258.1 171.4,255.6 180.2,258.9 189.1,260.3 197.9,251.3 206.7,246.7 215.6,254.4 224.4,258.4 233.3,254.1 242.1,247.7 250.9,251.5 259.8,263.3 268.6,252.5 277.4,251.4 286.3,259.4 295.1,261.3 303.9,252.2 312.8,266.3 321.6,255.6 330.5,261.8 339.3,243.9 348.1,250.5 357,249.6 365.8,263 374.6,255.8 383.5,255 392.3,257.2 401.1,255.1 410,250.4 418.8,262.1 427.7,246.5 436.5,265.6 445.3,258.3 454.2,258.1 463,260.5 471.8,259.7 480.7,262.8 489.5,250.3 498.4,252.6 507.2,252.3 516,260.3 524.9,256.2 533.7,255.1 542.5,255.7 551.4,251.6 560.2,256.9 569,249.2 577.9,254.9 586.7,256.7 595.6,252.8 604.4,255.5 613.2,259.9 622.1,254"/>
<polyline points="109.5,257.1 118.4,259.7 127.2,253.1 136,251 144.9,264 153.7,259.6 162.6,247.5 171.4,248 180.2,264.2 189.1,257.8 197.9,259.9 206.7,259.4 215.6,250.3 224.4,255.9 233.3,256.3 242.1,252.8 250.9,251.7 259.8,258.9 268.6,257 277.4,253.6 286.3,252.7 295.1,261.5 303.9,255.4 312.8,260.6 321.6,253.4 330.5,260.1 339.3,248.7 348.1,255.9 357,253.9 365.8,251.2 374.6,274.2 383.5,247.6 392.3,275.5 401.1,267.4 410,250.3 418.8,259.1 427.7,254.1 436.5,263.6 445.3,245.4 454.2,250 463,251.4 471.8,246.9 480.7,255.6 489.5,260.1 498.4,262.1 507.2,258 516,248.9 524.9,259 533.7,260.1 542.5,248.2 551.4,260.3 560.2,253.9 569,252.2 577.9,258 586.7,263.5 595.6,257.8 604.4,257 613.2,253.6 622.1,251.4"/>
<polyline points="109.5,262.9 118.4,255.7 127.2,263.4 136,248.9 144.9,252.6 153.7,258.8 162.6,255.9 171.4,251.9 180.2,249 189.1,253.3 197.9,248.6 206.7,249.6 215.6,257.2 224.4,248.5 233.3,263 242.1,253.1 250.9,254.2 259.8,244.4 268.6,262 277.4,259.3 286.3,251.7 295.1,252.2 303.9,246.8 312.8,252.3 321.6,250.1 330.5,258.4 339.3,258.6 348.1,264.8 357,259.9 365.8,258.3 374.6,256.7 383.5,252.7 392.3,269.9 401.1,257.9 410,262.2 418.8,268.5 427.7,250.2 436.5,247.8 445.3,262.1 454.2,260.9 463,247.2 471.8,263.2 480.7,248.8 489.5,254.2 498.4,258.3 507.2,254 516,255.6 524.9,251.8 533.7,252.8 542.5,259.7 551.4,255.6 560.2,256.6 569,255.1 577.9,249.8 586.7,256 595.6,256.1 604.4,252.7 613.2,253.9 622.1,252.1"/>
<polyline points="109.5,246.4 118.4,247.5 127.2,244.8 136,250.2 144.9,253 153.7,257.2 162.6,249.6 171.4,254.4 180.2,254.9 189.1,262.5 197.9,249.8 206.7,245.1 215.6,250.3 224.4,258.5 233.3,268 242.1,255 250.9,264.4 259.8,260.2 268.6,250.8 277.4,254.6 286.3,259.9 295.1,251.8 303.9,261.7 312.8,254.1 321.6,259 330.5,259.5 339.3,265.9 348.1,251.9 357,264.3 365.8,259.6 374.6,260.6 383.5,255.8 392.3,265.2 401.1,252.2 410,265.5 418.8,255.3 427.7,259.4 436.5,255.9 445.3,264.8 454.2,258.8 463,249.4 471.8,251.2 480.7,245.6 489.5,264.8 498.4,260.1 507.2,256.7 516,248 524.9,258 533.7,255.9 542.5,258.2 551.4,254.6 560.2,259.4 569,254.4 577.9,254.4 586.7,256.5 595.6,255.7 604.4,257.4 613.2,256.9 622.1,261.2"/>
<polyline points="109.5,250.5 118.4,250 127.2,254.3 136,251.2 144.9,256 153.7,256.8 162.6,254.1 171.4,248.8 180.2,258.3 189.1,249 197.9,254.1 206.7,253.9 215.6,261.6 224.4,254.6 233.3,265.6 242.1,261.7 250.9,258.8 259.8,258.2 268.6,260.7 277.4,249.9 286.3,255.7 295.1,265.4 303.9,246.7 312.8,268.9 321.6,257 330.5,258.6 339.3,255.5 348.1,250.1 357,260.5 365.8,257.2 374.6,251.6 383.5,258 392.3,267.3 401.1,266.1 410,272.9 418.8,264.6 427.7,255 436.5,250.1 445.3,256.3 454.2,256.8 463,251.2 471.8,250.1 480.7,247 489.5,253.1 498.4,261 507.2,255 516,255.8 524.9,254.8 533.7,263.9 542.5,251.4 551.4,253.8 560.2,252.9 569,255.8 577.9,255.9 586.7,257.1 595.6,259.4 604.4,264.7 613.2,263.1 622.1,259.4"/>
<polyline points="109.5,255.3 118.4,259 127.2,244.7 136,251.5 144.9,247.5 153.7,258.4 162.6,250.3 171.4,248.2 180.2,254.3 189.1,262.1 197.9,263.4 206.7,254.2 215.6,253.6 224.4,247.8 233.3,250.3 242.1,250 250.9,260.2 259.8,247.7 268.6,264.8 277.4,260.7 286.3,254.2 295.1,268.8 303.9,253.7 312.8,251.1 321.6,257.7 330.5,259.8 339.3,264.7 348.1,247.3 357,256.7 365.8,249.4 374.6,251.1 383.5,256.6 392.3,265.8 401.1,252.3 410,255.3 418.8,270.3 427.7,261.4 436.5,250.5 445.3,248.8 454.2,261.2 463,262.7 471.8,264.7 480.7,247.1 489.5,246.3 498.4,257.9 507.2,261.7 516,252.9 524.9,255.3 533.7,249.7 542.5,261 551.4,250.7 560.2,264.2 569,256.6 577.9,254.5 586.7,260.1 595.6,254.1 604.4,257.8 613.2,254.6 622.1,263.1"/>
<polyline points="109.5,252.9 118.4,254.6 127.2,254.2 136,246.4 144.9,250.5 153.7,257.1 162.6,251.3 171.4,249.9 180.2,247 189.1,247.4 197.9,256.7 206.7,256.7 215.6,258.1 224.4,255.9 233.3,270.7 242.1,266.1 250.9,263.4 259.8,260.7 268.6,264.1 277.4,253.1 286.3,259.1 295.1,245.3 303.9,260.6 312.8,256.2 321.6,259.6 330.5,261.8 339.3,264.7 348.1,259.8 357,255.6 365.8,256.3 374.6,263 383.5,265.6 392.3,263.6 401.1,264.8 410,249.7 418.8,263.7 427.7,258.4 436.5,258.5 445.3,247.4 454.2,259 463,245.4 471.8,254.1 480.7,250.1 489.5,261.7 498.4,253.4 507.2,262.9 516,255.9 524.9,260.6 533.7,255.4 542.5,260.9 551.4,256.1 560.2,264.2 569,253.2 577.9,264.5 586.7,252.1 595.6,258 604.4,253 613.2,255.8 622.1,261.4"/>
<polyline points="109.5,248.1 118.4,251 127.2,261.5 136,249.8 144.9,259.6 153.7,263.5 162.6,262.1 171.4,256.3 180.2,262.7 189.1,255.5 197.9,261.8 206.7,257.7 215.6,252.1 224.4,254.7 233.3,260.8 242.1,258.3 250.9,249.3 259.8,249 268.6,262.3 277.4,261.4 286.3,256.9 295.1,252.1 303.9,265.7 312.8,258.9 321.6,253.7 330.5,261 339.3,257.6 348.1,247.2 357,255 365.8,262.2 374.6,269.4 383.5,244.3 392.3,255.7 401.1,254.4 410,272.5 418.8,255.2 427.7,249.2 436.5,261.4 445.3,264.3 454.2,249.2 463,255.3 471.8,247.4 480.7,253.2 489.5,256 498.4,245.9 507.2,251 516,253.3 524.9,258.2 533.7,259.5 542.5,257.8 551.4,250.2 560.2,248.5 569,254.1 577.9,252.9 586.7,257.5 595.6,254.4 604.4,261.3 613.2,256.3 622.1,259.1"/>
<polyline points="109.5,257.3 118.4,257.9 127.2,253.1 136,261.7 144.9,255.6 153.7,250.6 162.6,258.3 171.4,246.2 180.2,252.5 189.1,258.3 197.9,257.6 206.7,253.1 215.6,263.1 224.4,258.9 233.3,262.4 242.1,253.4 250.9,267.3 259.8,261.8 268.6,250.1 277.4,254.5 286.3,253.4 295.1,246.4 303.9,266.7 312.8,262.7 321.6,257.3 330.5,254.9 339.3,261.7 348.1,265.8 357,248.7 365.8,252.4 374.6,252.2 383.5,266.3 392.3,268.7 401.1,271 410,255.8 418.8,268.6 427.7,265.2 436.5,253.5 445.3,260.8 454.2,249.8 463,254.9 471.8,251.1 480.7,252.5 489.5,253.5 498.4,255.1 507.2,262.7 516,259.8 524.9,257.6 533.7,251.8 542.5,255 551.4,258.8 560.2,249 569,259.2 577.9,251.8 586.7,261.6 595.6,257 604.4,253.5 613.2,258.3 622.1,254.1"/>
<polyline points="109.5,257.1 118.4,257.2 127.2,259.7 136,258.2 144.9,254.3 153.7,256.8 162.6,248.5 171.4,261.9 180.2,254.1 189.1,258.1 197.9,247.4 206.7,256.3 215.6,248.9 224.4,252.7 233.3,263.6 242.1,251.1 250.9,265.1 259.8,249.2 268.6,260 277.4,260.6 286.3,258.8 295.1,255 303.9,257.6 312.8,260.9 321.6,252.1 330.5,258.6 339.3,265.8 348.1,247.5 357,251.7 365.8,261.9 374.6,252.3 383.5,255.3 392.3,263.5 401.1,254.5 410,261.5 418.8,250.3 427.7,256.9 436.5,254.8 445.3,254.4 454.2,250.7 463,253.3 471.8,253.6 480.7,246.8 489.5,253.2 498.4,260.8 507.2,258.4 516,256.3 524.9,247 533.7,259.9 542.5,260.4 551.4,258.2 560.2,254.9 569,259 577.9,259.1 586.7,254.8 595.6,257.4 604.4,258.9 613.2,261.6 622.1,260.5"/>
<polyline points="109.5,251.5 118.4,259.8 127.2,250.2 136,254.6 144.9,249.6 153.7,251.5 162.6,256.1 171.4,251.8 180.2,259 189.1,262.1 197.9,250.6 206.7,247.5 215.6,253.7 224.4,258.8 233.3,258 242.1,264.3 250.9,254.8 259.8,261.2 268.6,256.4 277.4,259.7 286.3,256 295.1,250.7 303.9,254.9 312.8,260.1 321.6,263 330.5,267.7 339.3,247.3 348.1,267.9 357,256.6 365.8,260.9 374.6,250.5 383.5,260.8 392.3,253.5 401.1,265.6 410,265.2 418.8,269.3 427.7,257.1 436.5,263 445.3,258.3 454.2,254.3 463,251.5 471.8,249.7 480.7,254.5 489.5,257.1 498.4,253.6 507.2,258.5 516,256.7 524.9,253.3 533.7,262.7 542.5,260.2 551.4,260.6 560.2,260 569,257.3 577.9,251.6 586.7,252.7 595.6,254.2 604.4,259.2 613.2,259.3 622.1,253.6"/>
<polyline points="109.5,258.6 118.4,248.9 127.2,264 136,249.3 144.9,257 153.7,248.5 162.6,260.9 171.4,261.6 180.2,255.7 189.1,253.7 197.9,244.9 206.7,253 215.6,254.1 224.4,256.7 233.3,246.9 242.1,258 250.9,257.7 259.8,265 268.6,264.1 277.4,255.7 286.3,263.3 295.1,258.3 303.9,261.6 312.8,255.3 321.6,248.8 330.5,266.5 339.3,267.1 348.1,246.4 357,264.4 365.8,264 374.6,256.3 383.5,252.9 392.3,256.2 401.1,247.4 410,246.6 418.8,267.1 427.7,251.8 436.5,254.6 445.3,250 454.2,256.4 463,252.6 471.8,253.2 480.7,259.4 489.5,252.5 498.4,262.8 507.2,254.5 516,252.1 524.9,247.9 533.7,252 542.5,264 551.4,254.9 560.2,259.1 569,258.4 577.9,265 586.7,254.6 595.6,262.1 604.4,252.6 613.2,259.8 622.1,259"/>
<polyline points="109.5,257.9 118.4,255.2 127.2,263.7 136,257 144.9,259.6 153.7,253.7 162.6,246.4 171.4,258.1 180.2,247.6 189.1,257.6 197.9,247.4 206.7,249.5 215.6,252.4 224.4,256.2 233.3,245.5 242.1,252.4 250.9,259.3 259.8,245.8 268.6,260.2 277.4,262.4 286.3,253.2 295.1,253.3 303.9,260.6 312.8,253.1 321.6,257.1 330.5,255 339.3,264.2 348.1,255.8 357,252.5 365.8,267.5 374.6,273.5 383.5,271.8 392.3,267.5 401.1,255.4 410,267.1 418.8,259.9 427.7,256 436.5,255.6 445.3,257.8 454.2,258.6 463,248.6 471.8,263.6 480.7,258.2 489.5,250.8 498.4,260 507.2,257.5 516,251.2 524.9,260.4 533.7,256.5 542.5,260.6 551.4,260.3 560.2,264.5 569,255 577.9,256.7 586.7,262 595.6,257 604.4,257.9 613.2,259.4 622.1,258.3"/>
<polyline points="109.5,256.3 118.4,259.4 127.2,252.2 136,255.5 144.9,253.7 153.7,257.7 162.6,255.6 171.4,258.7 180.2,256.5 189.1,250 197.9,258.9 206.7,252 215.6,253.7 224.4,258.4 233.3,264.8 242.1,259.1 250.9,257.5 259.8,256.2 268.6,257 277.4,267.4 286.3,267.3 295.1,256.5 303.9,257.7 312.8,259.8 321.6,261.6 330.5,244.3 339.3,264.7 348.1,268.1 357,260.1 365.8,268.1 374.6,262.9 383.5,254.7 392.3,261.1 401.1,251.4 410,245.3 418.8,250.9 427.7,255.5 436.5,255 445.3,248.3 454.2,257.3 463,258.6 471.8,258.1 480.7,254.6 489.5,251.8 498.4,253.8 507.2,255 516,258.9 524.9,248.2 533.7,255 542.5,251.7 551.4,252.9 560.2,249.8 569,254.4 577.9,260.2 586.7,256 595.6,254.3 604.4,252.7 613.2,256.9 622.1,254.3"/>
<polyline points="109.5,259.8 118.4,246.1 127.2,252 136,250 144.9,255 153.7,253.3 162.6,256.2 171.4,248.7 180.2,247.3 189.1,257 197.9,258.3 206.7,251.7 215.6,255.2 224.4,258.6 233.3,261.1 242.1,262 250.9,254.2 259.8,266 268.6,258.9 277.4,260.1 286.3,255.7 295.1,247.8 303.9,252.4 312.8,259.6 321.6,249.9 330.5,253.4 339.3,251.6 348.1,260.5 357,255.2 365.8,258 374.6,264.5 383.5,252.2 392.3,253.2 401.1,264.1 410,264.7 418.8,255.8 427.7,249 436.5,253.4 445.3,249.9 454.2,249.1 463,264.4 471.8,260 480.7,256.4 489.5,248.3 498.4,257.4 507.2,248.7 516,256.9 524.9,260.9 533.7,257.8 542.5,256.7 551.4,253.4 560.2,262.8 569,249.5 577.9,253.4 586.7,258 595.6,252.2 604.4,254 613.2,253.8 622.1,257.5"/>
<polyline points="109.5,258.7 118.4,253.6 127.2,257.4 136,248.2 144.9,253.5 153.7,247.4 162.6,247.6 171.4,261.4 180.2,252.2 189.1,246.6 197.9,255.9 206.7,260.3 215.6,264.5 224.4,259.9 233.3,248.9 242.1,253.4 250.9,252.5 259.8,247 268.6,259.4 277.4,248.9 286.3,255.8 295.1,259.1 303.9,252.9 312.8,247.1 321.6,266.7 330.5,253.8 339.3,255.9 348.1,248.3 357,251.5 365.8,249.7 374.6,271.2 383.5,264 392.3,262.8 401.1,257.3 410,263.9 418.8,264.5 427.7,265.1 436.5,258.5 445.3,250.3 454.2,261.4 463,254.8 471.8,261.1 480.7,247.7 489.5,252.6 498.4,257.6 507.2,253.6 516,245.7 524.9,250.9 533.7,253.8 542.5,257.9 551.4,262.2 560.2,262.2 569,255.6 577.9,255.5 586.7,255.4 595.6,262.3 604.4,262.8 613.2,260 622.1,264.2"/>
<polyline points="109.5,249.4 118.4,250.6 127.2,246 136,248.3 144.9,258.6 153.7,251 162.6,245.1 171.4,248 180.2,245.6 189.1,250.1 197.9,253.8 206.7,251 215.6,254.8 224.4,264.1 233.3,262.4 242.1,265.5 250.9,250.1 259.8,247.8 268.6,252.9 277.4,265.5 286.3,256.4 295.1,256.5 303.9,256.1 312.8,264.7 321.6,248.2 330.5,245.5 339.3,254 348.1,248.4 357,249.2 365.8,267.9 374.6,248.2 383.5,262.2 392.3,264.1 401.1,262.4 410,266.3 418.8,253.4 427.7,250.2 436.5,256.5 445.3,255.4 454.2,257.7 463,261.9 471.8,261.1 480.7,250.6 489.5,263.6 498.4,251.6 507.2,253.3 516,257.2 524.9,250.8 533.7,259.8 542.5,251.6 551.4,254.9 560.2,250.7 569,263.6 577.9,255.9 586.7,260.1 595.6,255.7 604.4,259.7 613.2,258.1 622.1,256.7"/>
<polyline points="109.5,251.5 118.4,248.9 127.2,257.4 136,246 144.9,250.5 153.7,251.6 162.6,250.6 171.4,248.9 180.2,248.9 189.1,254.1 197.9,259.2 206.7,264.3 215.6,252.1 224.4,251.9 233.3,264.5 242.1,266.2 250.9,267.3 259.8,257.7 268.6,249.9 277.4,265.6 286.3,268.2 295.1,258.5 303.9,260.4 312.8,246.7 321.6,254 330.5,258 339.3,267.3 348.1,249.4 357,258.6 365.8,258.3 374.6,255.9 383.5,261.9 392.3,272.9 401.1,248.6 410,260.1 418.8,264.8 427.7,253 436.5,255.2 445.3,253.1 454.2,254.3 463,253.1 471.8,259.1 480.7,262 489.5,251.4 498.4,262.7 507.2,257.8 516,250.7 524.9,262.8 533.7,263 542.5,254.3 551.4,255.5 560.2,256 569,258.4 577.9,257.2 586.7,253.5 595.6,251.3 604.4,263.9 613.2,258.4 622.1,257.3"/>
<polyline points="109.5,254.5 118.4,259.7 127.2,256.5 136,246.7 144.9,249.8 153.7,250.2 162.6,255.8 171.4,247.7 180.2,254.3 189.1,252.2 197.9,257.5 206.7,248.1 215.6,262.8 224.4,259.1 233.3,262.4 242.1,256.9 250.9,255 259.8,246.1 268.6,262.2 277.4,262.2 286.3,253.3 295.1,262.4 303.9,259.6 312.8,259.8 321.6,256.3 330.5,268.5 339.3,258.9 348.1,265.1 357,264.5 365.8,261.1 374.6,264.2 383.5,248.9 392.3,263.6 401.1,260.3 410,271.4 418.8,250.3 427.7,261.6 436.5,255.8 445.3,253.7 454.2,261.1 463,260.8 471.8,258 480.7,254.7 489.5,253.1 498.4,259 507.2,259.3 516,252.8 524.9,251.8 533.7,250.9 542.5,256.6 551.4,253 560.2,257.3 569,256.7 577.9,260.1 586.7,255.1 595.6,258 604.4,263.9 613.2,256.9 622.1,263.4"/>
<polyline points="109.5,255 118.4,257.6 127.2,249.5 136,246.8 144.9,255.9 153.7,247 162.6,254.8 171.4,251.9 180.2,247.6 189.1,250.1 197.9,259.1 206.7,253.3 215.6,256.7 224.4,255 233.3,261.1 242.1,264.5 250.9,251.9 259.8,252.9 268.6,248.1 277.4,261.7 286.3,248.8 295.1,253.6 303.9,254.6 312.8,254.7 321.6,260.3 330.5,266.4 339.3,249.3 348.1,253.1 357,255.5 365.8,248.5 374.6,269.1 383.5,259 392.3,254.9 401.1,270.7 410,259.7 418.8,267.3 427.7,254.7 436.5,257.6 445.3,261.2 454.2,257.1 463,249.4 471.8,263.1 480.7,256.6 489.5,247.1 498.4,250.3 507.2,251.9 516,250.2 524.9,256.5 533.7,255.2 542.5,259 551.4,259.2 560.2,254.6 569,252.1 577.9,265.7 586.7,265.6 595.6,264.2 604.4,263.4 613.2,254.6 622.1,262.8"/>
<polyline points="109.5,244.8 118.4,247.9 127.2,253.4 136,252 144.9,254.6 153.7,253.2 162.6,255.2 171.4,254.5 180.2,251.4 189.1,247.5 197.9,256.2 206.7,260.5 215.6,264.4 224.4,259.1 233.3,255.3 242.1,253.2 250.9,258.2 259.8,263.8 268.6,249.6 277.4,257.2 286.3,262.6 295.1,259.3 303.9,261.3 312.8,259.1 321.6,260.7 330.5,253.2 339.3,258.9 348.1,270.7 357,261.6 365.8,268.3 374.6,257.7 383.5,276.9 392.3,272.6 401.1,263.7 410,258.6 418.8,254.1 427.7,255.3 436.5,262.7 445.3,252.3 454.2,252.9 463,248.3 471.8,262.9 480.7,249.2 489.5,255.8 498.4,251.6 507.2,253.5 516,260 524.9,259.1 533.7,255.1 542.5,262.8 551.4,254.1 560.2,250.6 569,256.7 577.9,261.8 586.7,260.7 595.6,252 604.4,250.6 613.2,258.4 622.1,249.8"/>
<polyline points="109.5,258.8 118.4,257.4 127.2,252.8 136,257.7 144.9,250.3 153.7,260.4 162.6,253.7 171.4,258.4 180.2,256.1 189.1,253.4 197.9,256.5 206.7,262.4 215.6,259.3 224.4,259.1 233.3,262.5 242.1,268.6 250.9,252.5 259.8,264.7 268.6,258.2 277.4,249.3 286.3,252.4 295.1,264.6 303.9,257.2 312.8,259.5 321.6,250.8 330.5,255.6 339.3,248.7 348.1,251.8 357,247.9 365.8,259.2 374.6,272.9 383.5,254.6 392.3,262 401.1,255.3 410,259.2 418.8,243.5 427.7,263.4 436.5,257.5 445.3,260.9 454.2,253.6 463,257.5 471.8,256.5 480.7,251.5 489.5,262.3 498.4,258.9 507.2,251.7 516,253.5 524.9,250.7 533.7,252.7 542.5,257 551.4,258.3 560.2,261.6 569,260.9 577.9,261.7 586.7,260.6 595.6,254.2 604.4,263.3 613.2,253.3 622.1,252.6"/>
<polyline points="109.5,250.5 118.4,249.1 127.2,251.8 136,257.1 144.9,248.1 153.7,253.4 162.6,255.3 171.4,249.5 180.2,255.5 189.1,248.9 197.9,262 206.7,258.2 215.6,262.4 224.4,254.9 233.3,259.3 242.1,253.3 250.9,267.5 259.8,263.4 268.6,256.8 277.4,254.4 286.3,263.8 295.1,269.6 303.9,258.6 312.8,256.3 321.6,252.2 330.5,253.4 339.3,249.9 348.1,255.9 357,248.3 365.8,271.6 374.6,254.3 383.5,252.9 392.3,257.4 401.1,261.5 410,262.7 418.8,262.9 427.7,263.8 436.5,257.5 445.3,261.1 454.2,257.1 463,258.6 471.8,254.3 480.7,258.5 489.5,253.8 498.4,249.1 507.2,260.1 516,253.6 524.9,255.3 533.7,259 542.5,250.6 551.4,257.4 560.2,253.1 569,253.3 577.9,253.1 586.7,254 595.6,256 604.4,258.4 613.2,254.4 622.1,259.1"/>
<polyline points="109.5,256.9 118.4,251.6 127.2,260 136,256.2 144.9,254.1 153.7,259.5 162.6,257.6 171.4,259.7 180.2,260.6 189.1,252.5 197.9,258.6 206.7,252 215.6,254.5 224.4,257.4 233.3,260.3 242.1,258.9 250.9,258 259.8,249.1 268.6,261.6 277.4,256.3 286.3,260.5 295.1,253.4 303.9,249.1 312.8,262.6 321.6,245.4 330.5,256.7 339.3,262.8 348.1,255.2 357,268.3 365.8,265.1 374.6,271.6 383.5,259.3 392.3,272.2 401.1,269.2 410,252.7 418.8,262.9 427.7,255.8 436.5,256.4 445.3,265.4 454.2,256.8 463,246.7 471.8,258.3 480.7,251.7 489.5,248.1 498.4,254.5 507.2,253.7 516,252.8 524.9,252.7 533.7,252.8 542.5,263.9 551.4,248.2 560.2,254.8 569,261.1 577.9,259.1 586.7,259 595.6,251.5 604.4,256.3 613.2,251 622.1,259.7"/>
<polyline points="109.5,258.7 118.4,255 127.2,260.6 136,261.7 144.9,251.5 153.7,260.5 162.6,256.9 171.4,256.1 180.2,252.8 189.1,252.7 197.9,251.1 206.7,254.7 215.6,259.9 224.4,265.9 233.3,251 242.1,255.6 250.9,254 259.8,252.2 268.6,251.5 277.4,253.5 286.3,248.6 295.1,247.5 303.9,264.4 312.8,248.4 321.6,260.4 330.5,246.8 339.3,262.5 348.1,254.6 357,256.7 365.8,268.3 374.6,267.2 383.5,271.1 392.3,248.5 401.1,254.9 410,266.7 418.8,252.3 427.7,258.5 436.5,258 445.3,256.8 454.2,254.2 463,261.9 471.8,244.5 480.7,251.1 489.5,252.2 498.4,251.7 507.2,261 516,257.8 524.9,261 533.7,256.9 542.5,258.6 551.4,258.7 560.2,259.2 569,254.6 577.9,252.5 586.7,253 595.6,255.7 604.4,263.4 613.2,257.9 622.1,262.9"/>
<polyline points="109.5,257.2 118.4,263.6 127.2,257.9 136,243.9 144.9,246.4 153.7,251.9 162.6,259.4 171.4,245.4 180.2,250.3 189.1,247.8 197.9,257.1 206.7,255.4 215.6,248.7 224.4,258.1 233.3,257.7 242.1,256.9 250.9,255.1 259.8,248.7 268.6,255.6 277.4,265.8 286.3,267.3 295.1,254.9 303.9,259.6 312.8,250.9 321.6,254.5 330.5,253.7 339.3,266.9 348.1,255.3 357,247.3 365.8,263.6 374.6,255.7 383.5,268 392.3,263.9 401.1,273.7 410,269.5 418.8,262.2 427.7,258.5 436.5,249.4 445.3,253.8 454.2,256.4 463,252.2 471.8,253.7 480.7,254.8 489.5,254.9 498.4,249.2 507.2,258.2 516,262.5 524.9,255.6 533.7,259.3 542.5,257 551.4,249.4 560.2,254.2 569,255.1 577.9,259.4 586.7,254.3 595.6,260 604.4,253.2 613.2,256.5 622.1,261.9"/>
<polyline points="109.5,257.4 118.4,249.2 127.2,255.8 136,258.6 144.9,258.8 153.7,249.2 162.6,259.8 171.4,258.6 180.2,248.2 189.1,246.7 197.9,255.8 206.7,246.5 215.6,256.2 224.4,259.6 233.3,268 242.1,261 250.9,249.2 259.8,267.1 268.6,260.2 277.4,264.7 286.3,260.9 295.1,266.2 303.9,254.2 312.8,243.8 321.6,253.9 330.5,258.9 339.3,252.5 348.1,261.6 357,260.8 365.8,256.7 374.6,255.5 383.5,259.6 392.3,273.8 401.1,266.1 410,270.8 418.8,251.7 427.7,263.3 436.5,259.6 445.3,251 454.2,258.5 463,255.3 471.8,252.1 480.7,251.5 489.5,258.8 498.4,256.3 507.2,259.9 516,258.6 524.9,252.9 533.7,256.9 542.5,251 551.4,260.1 560.2,257.9 569,258.5 577.9,261.4 586.7,250.8 595.6,257 604.4,250.2 613.2,251.2 622.1,260.8"/>
<polyline points="109.5,260.1 118.4,253.1 127.2,258.1 136,251.7 144.9,258.9 153.7,256.5 162.6,256.7 171.4,253.6 180.2,256.8 189.1,248.1 197.9,252.9 206.7,250.3 215.6,255.8 224.4,257.5 233.3,258.3 242.1,253.8 250.9,251.2 259.8,260.8 268.6,264 277.4,252.6 286.3,260 295.1,262.3 303.9,259.5 312.8,247.1 321.6,250.2 330.5,261.9 339.3,244.8 348.1,256.4 357,264 365.8,260.1 374.6,267.6 383.5,253.2 392.3,257.5 401.1,263.1 410,259.1 418.8,248 427.7,257.7 436.5,258.1 445.3,244.5 454.2,253.2 463,258.3 471.8,257.9 480.7,252.1 489.5,263.4 498.4,255.5 507.2,256.1 516,258.7 524.9,250.1 533.7,256.6 542.5,254.9 551.4,251.9 560.2,255.6 569,259.3 577.9,250.5 586.7,249 595.6,264.1 604.4,259.5 613.2,251.9 622.1,258"/>
<polyline points="109.5,253 118.4,258.8 127.2,249.2 136,252 144.9,256.3 153.7,254.7 162.6,257.9 171.4,250.4 180.2,247.4 189.1,251.3 197.9,251.2 206.7,253.7 215.6,252 224.4,257.5 233.3,250.9 242.1,247.9 250.9,251.3 259.8,259.6 268.6,258 277.4,257.9 286.3,247.1 295.1,255.9 303.9,256.7 312.8,258.5 321.6,254.2 330.5,249.9 339.3,256.1 348.1,261.5 357,265.3 365.8,262 374.6,247.8 383.5,259.1 392.3,269.5 401.1,258.8 410,253 418.8,266.5 427.7,264 436.5,257.6 445.3,256.1 454.2,254.2 463,255.7 471.8,251.3 480.7,264.4 489.5,247.9 498.4,252.9 507.2,256.4 516,257.4 524.9,260.2 533.7,255.9 542.5,249 551.4,259.3 560.2,259.3 569,249.1 577.9,249.8 586.7,253.6 595.6,248.9 604.4,256.4 613.2,261.8 622.1,256.3"/>
<polyline points="109.5,247.2 118.4,248.5 127.2,248.2 136,244.8 144.9,259 153.7,252 162.6,253.4 171.4,253.2 180.2,252.7 189.1,256.8 197.9,248.6 206.7,250.6 215.6,246.7 224.4,262.7 233.3,268 242.1,264.3 250.9,259.2 259.8,266.6 268.6,259.7 277.4,266 286.3,257.6 295.1,257.1 303.9,263.2 312.8,249.9 321.6,250.9 330.5,257.4 339.3,265.4 348.1,259.9 357,251.8 365.8,266.2 374.6,259.7 383.5,262.4 392.3,259.1 401.1,260.4 410,264.9 418.8,257.8 427.7,257.8 436.5,247.9 445.3,257.9 454.2,249.3 463,255.2 471.8,252.8 480.7,255 489.5,255.1 498.4,252.6 507.2,261.5 516,255.8 524.9,257.7 533.7,255.2 542.5,252.6 551.4,251.8 560.2,261.2 569,256.8 577.9,260.4 586.7,256.8 595.6,252.9 604.4,260.5 613.2,254.3 622.1,260.6"/>
<polyline points="109.5,257.6 118.4,249.6 127.2,247.6 136,257.2 144.9,257.4 153.7,249.7 162.6,247.5 171.4,247.3 180.2,261.3 189.1,260.2 197.9,246 206.7,256.5 215.6,260.3 224.4,265.5 233.3,264.4 242.1,258 250.9,253.1 259.8,255.7 268.6,266.6 277.4,262.8 286.3,247.4 295.1,253.5 303.9,266 312.8,263.8 321.6,252.2 330.5,256.3 339.3,252.2 348.1,259 357,271.5 365.8,258.4 374.6,257.4 383.5,248.1 392.3,255.3 401.1,256.6 410,246.4 418.8,265.3 427.7,251 436.5,253 445.3,253 454.2,248.4 463,250.3 471.8,250.4 480.7,246 489.5,259.5 498.4,254 507.2,258.8 516,257.6 524.9,252.4 533.7,262.9 542.5,256.8 551.4,255.3 560.2,252.8 569,251.4 577.9,259.5 586.7,256.3 595.6,257.9 604.4,260.6 613.2,263.4 622.1,255"/>
<polyline points="109.5,254 118.4,257.5 127.2,249.2 136,258.3 144.9,255 153.7,255.4 162.6,247.5 171.4,246.2 180.2,258.4 189.1,250.4 197.9,252.5 206.7,250.9 215.6,260.1 224.4,250.7 233.3,256.4 242.1,260.1 250.9,255.4 259.8,254.4 268.6,248.8 277.4,249.3 286.3,259.7 295.1,250.6 303.9,264.3 312.8,254.9 321.6,265.9 330.5,251.3 339.3,263.6 348.1,270.5 357,265.5 365.8,254.3 374.6,254.4 383.5,268.2 392.3,256.6 401.1,270.1 410,268.8 418.8,273.1 427.7,253.4 436.5,255.9 445.3,248.2 454.2,248.4 463,258.2 471.8,253.3 480.7,251 489.5,247.7 498.4,258.8 507.2,260.3 516,255.4 524.9,251.8 533.7,258.6 542.5,259.3 551.4,254.6 560.2,251.9 569,260.4 577.9,253.7 586.7,256.6 595.6,252.9 604.4,255.1 613.2,260.8 622.1,252.1"/>
<polyline points="109.5,244.3 118.4,249.8 127.2,254.2 136,258.5 144.9,247.1 153.7,259.3 162.6,252.4 171.4,254.2 180.2,247.7 189.1,259.8 197.9,250.8 206.7,259.6 215.6,252.7 224.4,260.7 233.3,253.1 242.1,259.9 250.9,249.2 259.8,259.1 268.6,256.3 277.4,267.5 286.3,254 295.1,248.4 303.9,262.5 312.8,250.9 321.6,258 330.5,256.3 339.3,268.2 348.1,262.1 357,263.1 365.8,245.6 374.6,251.4 383.5,264.7 392.3,258 401.1,263.9 410,272.8 418.8,262 427.7,256 436.5,251.9 445.3,264.2 454.2,252.5 463,251.1 471.8,261.1 480.7,258 489.5,259.2 498.4,251.9 507.2,254 516,256.4 524.9,254.7 533.7,262.6 542.5,249.9 551.4,251.3 560.2,254.8 569,252.3 577.9,249.8 586.7,253.9 595.6,260.4 604.4,256.6 613.2,258.3 622.1,253.4"/>
<polyline points="109.5,255 118.4,252.5 127.2,250.8 136,253.9 144.9,245.5 153.7,256 162.6,253.8 171.4,257.4 180.2,253.1 189.1,253.1 197.9,261.2 206.7,260.3 215.6,265.7 224.4,255.3 233.3,264.6 242.1,252.3 250.9,262.5 259.8,259 268.6,258.9 277.4,256 286.3,256.9 295.1,250.1 303.9,266.5 312.8,252.6 321.6,255.5 330.5,254.3 339.3,259.2 348.1,265.5 357,251.2 365.8,249.1 374.6,263.8 383.5,261.3 392.3,267.8 401.1,271.7 410,252.7 418.8,254.7 427.7,248.7 436.5,247.4 445.3,258.5 454.2,260.4 463,252.1 471.8,247.3 480.7,253.5 489.5,265.1 498.4,250.1 507.2,253.9 516,251.5 524.9,260.5 533.7,256 542.5,253.6 551.4,255.5 560.2,258.1 569,249.8 577.9,254.6 586.7,255.8 595.6,255.2 604.4,255.6 613.2,254.7 622.1,264.6"/>
<polyline points="109.5,248.3 118.4,252.6 127.2,255.7 136,250.2 144.9,252.1 153.7,251.2 162.6,260.6 171.4,263 180.2,255.6 189.1,259.5 197.9,261.5 206.7,257.8 215.6,252.5 224.4,252.7 233.3,259.3 242.1,267.6 250.9,261 259.8,257.4 268.6,267.1 277.4,254.4 286.3,266.5 295.1,255.2 303.9,246.4 312.8,250.2 321.6,263.4 330.5,253.6 339.3,266.1 348.1,256.7 357,264.6 365.8,266.8 374.6,266.5 383.5,256.3 392.3,258.1 401.1,267.5 410,259.6 418.8,257.5 427.7,255.5 436.5,261 445.3,246.9 454.2,252.7 463,262.8 471.8,252 480.7,250.9 489.5,256.4 498.4,260.1 507.2,251.6 516,259.9 524.9,259.2 533.7,256.5 542.5,262 551.4,260 560.2,263 569,256.1 577.9,252.6 586.7,262.2 595.6,255.9 604.4,264.5 613.2,255.8 622.1,255.9"/>
<polyline points="109.5,250 118.4,249.1 127.2,258.6 136,246.3 144.9,251 153.7,251.4 162.6,251.3 171.4,250.4 180.2,258.2 189.1,246.2 197.9,253.4 206.7,257.2 215.6,256.7 224.4,265.5 233.3,258.8 242.1,266.6 250.9,249.6 259.8,246 268.6,264.3 277.4,245.7 286.3,264.1 295.1,254.6 303.9,267.5 312.8,254.7 321.6,262.8 330.5,264.3 339.3,245.8 348.1,259.1 357,247.6 365.8,256.8 374.6,254.5 383.5,264.6 392.3,266.8 401.1,275.3 410,262.1 418.8,248.7 427.7,259 436.5,248 445.3,256 454.2,264.3 463,252 471.8,257.8 480.7,261.5 489.5,249.6 498.4,252.4 507.2,253.5 516,249.6 524.9,251.4 533.7,260.8 542.5,252.5 551.4,248.2 560.2,250.1 569,262.3 577.9,253.4 586.7,254.2 595.6,259.4 604.4,253.1 613.2,257.9 622.1,252.8"/>
<polyline points="109.5,243.8 118.4,249.2 127.2,256.3 136,254.8 144.9,247.6 153.7,255.3 162.6,253.8 171.4,251.8 180.2,254.5 189.1,248.8 197.9,257.3 206.7,250.4 215.6,252.8 224.4,255.8 233.3,259.8 242.1,252 250.9,262.2 259.8,249.3 268.6,263.9 277.4,257.4 286.3,254.5 295.1,265.2 303.9,251.6 312.8,258.3 321.6,266 330.5,251.6 339.3,252.4 348.1,245.5 357,261.3 365.8,256.3 374.6,263 383.5,261.6 392.3,253.4 401.1,258.2 410,254.1 418.8,257.4 427.7,251.4 436.5,246 445.3,246.2 454.2,251.3 463,257 471.8,248.5 480.7,248.4 489.5,246.9 498.4,258.4 507.2,263 516,256.8 524.9,253.7 533.7,253.2 542.5,264.3 551.4,257.7 560.2,258.1 569,248.4 577.9,256.3 586.7,263.7 595.6,258.6 604.4,257.4 613.2,258 622.1,260"/>
<polyline points="109.5,263.6 118.4,256.3 127.2,248.7 136,249.8 144.9,257.7 153.7,255.8 162.6,261.1 171.4,253.6 180.2,253.7 189.1,256.3 197.9,248.3 206.7,256.4 215.6,262.1 224.4,260.4 233.3,257.5 242.1,252.7 250.9,269.2 259.8,257.6 268.6,268 277.4,249.8 286.3,251.6 295.1,263.6 303.9,249.2 312.8,270.7 321.6,258.7 330.5,253.4 339.3,258.9 348.1,259.8 357,255.9 365.8,271.7 374.6,249 383.5,265.1 392.3,266 401.1,259.6 410,252.5 418.8,271.9 427.7,260.9 436.5,245.5 445.3,257.1 454.2,249.3 463,259.6 471.8,252 480.7,247.5 489.5,257.6 498.4,263.3 507.2,250.5 516,258 524.9,261.3 533.7,253 542.5,251.4 551.4,265.1 560.2,253 569,259.6 577.9,256 586.7,255.2 595.6,257.7 604.4,257.8 613.2,255.6 622.1,258.6"/>
<polyline points="109.5,247.8 118.4,252.9 127.2,248.1 136,245.4 144.9,251.4 153.7,257.4 162.6,248.9 171.4,251.6 180.2,249.3 189.1,252.3 197.9,251.8 206.7,256.9 215.6,254.7 224.4,266.8 233.3,255.2 242.1,264.2 250.9,254 259.8,266.3 268.6,244.1 277.4,256.1 286.3,261.1 295.1,255.9 303.9,266.6 312.8,261.7 321.6,246.3 330.5,257.3 339.3,261.7 348.1,264.4 357,256.1 365.8,260.1 374.6,264 383.5,269.5 392.3,247.8 401.1,262.7 410,251.7 418.8,245.8 427.7,266.2 436.5,266.6 445.3,256.7 454.2,250.3 463,261.8 471.8,250.5 480.7,249.5 489.5,260.8 498.4,253 507.2,249.8 516,260.3 524.9,255.1 533.7,251.4 542.5,257.5 551.4,258.5 560.2,250.7 569,257 577.9,250.9 586.7,255.4 595.6,253.4 604.4,258 613.2,255.2 622.1,261.7"/>
<polyline points="109.5,248 118.4,258.7 127.2,258.2 136,244.8 144.9,244.8 153.7,258.7 162.6,254.5 171.4,255.4 180.2,253.8 189.1,251 197.9,250.2 206.7,259.6 215.6,254.7 224.4,258.4 233.3,269.9 242.1,265.4 250.9,255.4 259.8,251.4 268.6,256.8 277.4,262 286.3,254 295.1,252.9 303.9,262 312.8,266.3 321.6,264.6 330.5,262.3 339.3,253 348.1,252.8 357,253 365.8,250.1 374.6,263.7 383.5,268.3 392.3,269.2 401.1,260.9 410,266.9 418.8,264.1 427.7,259 436.5,261.7 445.3,257.7 454.2,253.2 463,251.8 471.8,259 480.7,260 489.5,252.4 498.4,249.1 507.2,259.7 516,256 524.9,255.1 533.7,260.5 542.5,254.3 551.4,258.3 560.2,258.3 569,256.3 577.9,253.6 586.7,254.1 595.6,252.1 604.4,261.1 613.2,263.4 622.1,257.9"/>
<polyline points="109.5,255.6 118.4,258.5 127.2,254.2 136,258.1 144.9,247.7 153.7,261.5 162.6,256 171.4,264.2 180.2,255.4 189.1,261.5 197.9,252.9 206.7,247 215.6,258.4 224.4,254 233.3,252.2 242.1,246.4 250.9,255.3 259.8,255.1 268.6,249.3 277.4,258.4 286.3,255.4 295.1,264.2 303.9,251.5 312.8,254.7 321.6,247.3 330.5,265.4 339.3,256.3 348.1,247.2 357,251.8 365.8,255.4 374.6,262.4 383.5,259.9 392.3,270.6 401.1,260.5 410,259.1 418.8,271 427.7,260 436.5,246.1 445.3,256.5 454.2,260.2 463,248.3 471.8,263.8 480.7,249.7 489.5,252.2 498.4,251.8 507.2,262.4 516,251.4 524.9,253.6 533.7,261.8 542.5,262.1 551.4,252.2 560.2,255.2 569,258 577.9,253.7 586.7,255.6 595.6,257.8 604.4,256.7 613.2,258.1 622.1,261"/>
<polyline points="109.5,254.5 118.4,254.8 127.2,252.1 136,255 144.9,254.2 153.7,256 162.6,256.9 171.4,248.2 180.2,252 189.1,253.1 197.9,261.7 206.7,256.4 215.6,250.9 224.4,247.2 233.3,261.8 242.1,258.7 250.9,257 259.8,245.9 268.6,264.5 277.4,250.1 286.3,253.8 295.1,252.2 303.9,266.6 312.8,258.2 321.6,256.9 330.5,248.9 339.3,252 348.1,264.9 357,261.8 365.8,250.7 374.6,264.3 383.5,270.5 392.3,273.4 401.1,272.9 410,267.7 418.8,267.2 427.7,261.3 436.5,250.1 445.3,259.1 454.2,261.4 463,256.6 471.8,264.1 480.7,254.8 489.5,255.2 498.4,251.2 507.2,261.3 516,259 524.9,263.6 533.7,255.1 542.5,263.8 551.4,257 560.2,259.2 569,255.7 577.9,257 586.7,258.4 595.6,258.2 604.4,261.1 613.2,253.4 622.1,258.5"/>
<polyline points="109.5,243.7 118.4,257.7 127.2,260.4 136,250.2 144.9,257.1 153.7,250.8 162.6,252.5 171.4,254.2 180.2,260 189.1,247 197.9,254.8 206.7,245.1 215.6,260.7 224.4,257.8 233.3,261.3 242.1,262.5 250.9,258.5 259.8,259.2 268.6,252.6 277.4,253.5 286.3,250.2 295.1,258.2 303.9,267.4 312.8,254.9 321.6,247.4 330.5,257.9 339.3,261.7 348.1,263.3 357,261.2 365.8,260.8 374.6,254.6 383.5,253.8 392.3,269.5 401.1,272.7 410,244.7 418.8,265.5 427.7,261.7 436.5,254.6 445.3,253.3 454.2,250.4 463,262.8 471.8,262.2 480.7,259.2 489.5,258.2 498.4,256.3 507.2,256.3 516,254.8 524.9,258.8 533.7,255.9 542.5,258.3 551.4,256 560.2,259.5 569,262.1 577.9,265.8 586.7,258 595.6,259.9 604.4,250 613.2,253.4 622.1,260.6"/>
<polyline points="109.5,260.1 118.4,257.7 127.2,249.5 136,246.7 144.9,255.7 153.7,248.8 162.6,246.4 171.4,259.3 180.2,261.8 189.1,250.1 197.9,250.2 206.7,248.5 215.6,251 224.4,257.9 233.3,265 242.1,252 250.9,263.3 259.8,255.1 268.6,256.7 277.4,254.6 286.3,256.2 295.1,263.5 303.9,251.9 312.8,256.4 321.6,258.5 330.5,245.6 339.3,260.1 348.1,261.2 357,261.3 365.8,262 374.6,249 383.5,266.1 392.3,251.2 401.1,267.9 410,272 418.8,254.9 427.7,253.3 436.5,247.5 445.3,253.1 454.2,250.6 463,254.3 471.8,250.4 480.7,262.1 489.5,245.6 498.4,257.3 507.2,260.8 516,259 524.9,258.8 533.7,257.5 542.5,253.8 551.4,255.8 560.2,250.2 569,250.7 577.9,258.9 586.7,257.7 595.6,260.7 604.4,264.9 613.2,253.3 622.1,254.3"/>
<polyline points="109.5,250.9 118.4,262.5 127.2,251.8 136,254.2 144.9,251.6 153.7,250.9 162.6,258.4 171.4,249.3 180.2,253.3 189.1,248.2 197.9,248.9 206.7,263.4 215.6,255.6 224.4,246.4 233.3,265.5 242.1,254.7 250.9,250.1 259.8,255.3 268.6,249 277.4,252.4 286.3,252.1 295.1,261.3 303.9,246.6 312.8,260.9 321.6,259.7 330.5,260.6 339.3,266 348.1,257.2 357,250.5 365.8,261.5 374.6,268.7 383.5,254.7 392.3,275.3 401.1,271.6 410,250.4 418.8,266 427.7,261.4 436.5,250.5 445.3,254.8 454.2,261.9 463,259.2 471.8,253.6 480.7,254.2 489.5,249.4 498.4,257.5 507.2,251.8 516,252.5 524.9,253.2 533.7,256.5 542.5,261.5 551.4,251.4 560.2,258.5 569,256 577.9,251.6 586.7,258.6 595.6,256.8 604.4,259.9 613.2,262.3 622.1,252.9"/>
<polyline points="109.5,248.2 118.4,259.8 127.2,257 136,248.4 144.9,254.2 153.7,251.9 162.6,250.3 171.4,257.1 180.2,247.1 189.1,256.8 197.9,258 206.7,262 215.6,246.4 224.4,258.9 233.3,253.1 242.1,260 250.9,252.6 259.8,249.6 268.6,261.2 277.4,254.5 286.3,259.3 295.1,249.7 303.9,254.1 312.8,254.1 321.6,252.9 330.5,258.1 339.3,260.5 348.1,256.6 357,260.4 365.8,244.4 374.6,257.7 383.5,254.5 392.3,270.5 401.1,251.6 410,258.8 418.8,260.2 427.7,250.8 436.5,265.8 445.3,260.1 454.2,254.1 463,262.1 471.8,254.1 480.7,262.4 489.5,246 498.4,254.4 507.2,253 516,248.8 524.9,257.4 533.7,253.5 542.5,255.3 551.4,257.1 560.2,254.9 569,254.3 577.9,261.1 586.7,250.2 595.6,257 604.4,256 613.2,251.1 622.1,256.2"/>
<polyline points="109.5,253.7 118.4,255.8 127.2,260.6 136,253.7 144.9,260.9 153.7,251.3 162.6,255.2 171.4,257.8 180.2,252.4 189.1,253.7 197.9,250.5 206.7,257.2 215.6,255.8 224.4,247.7 233.3,255.5 242.1,255.9 250.9,265.3 259.8,248.6 268.6,261.4 277.4,251.2 286.3,248.6 295.1,244.6 303.9,259 312.8,261 321.6,252 330.5,253.1 339.3,259.3 348.1,248.4 357,255.4 365.8,262 374.6,272.2 383.5,255.7 392.3,247.8 401.1,255.4 410,249.4 418.8,262.8 427.7,250.2 436.5,263.7 445.3,252 454.2,259.1 463,254.3 471.8,255.7 480.7,263.3 489.5,246.8 498.4,259.3 507.2,258.9 516,252.5 524.9,251 533.7,262.9 542.5,254 551.4,260.2 560.2,253.6 569,263.3 577.9,264.3 586.7,260.9 595.6,261.1 604.4,255.8 613.2,257.4 622.1,256.1"/>
<polyline points="109.5,249.7 118.4,245.2 127.2,263.4 136,259.3 144.9,254.8 153.7,253.5 162.6,258.4 171.4,253 180.2,256.2 189.1,252.2 197.9,250.4 206.7,248.1 215.6,256.4 224.4,256.9 233.3,259.9 242.1,248 250.9,260.6 259.8,268.2 268.6,265 277.4,258.8 286.3,261.1 295.1,245 303.9,259.6 312.8,245.5 321.6,253.9 330.5,268.8 339.3,264.5 348.1,268.3 357,260.3 365.8,256.9 374.6,259.5 383.5,263.6 392.3,263.1 401.1,274.3 410,271.4 418.8,256.8 427.7,256.2 436.5,254.5 445.3,255.4 454.2,247.8 463,252.7 471.8,261.4 480.7,250.4 489.5,251 498.4,255.8 507.2,261.6 516,263.6 524.9,254.8 533.7,261.4 542.5,257.7 551.4,261.9 560.2,253.4 569,257.9 577.9,249.5 586.7,253.4 595.6,257.4 604.4,259.4 613.2,259.1 622.1,258.5"/>
<polyline points="109.5,256.1 118.4,260.7 127.2,249.1 136,262.7 144.9,256.3 153.7,258.6 162.6,248.4 171.4,244.3 180.2,250.2 189.1,255.5 197.9,245.5 206.7,244.6 215.6,263.4 224.4,260.5 233.3,248.8 242.1,251.9 250.9,263 259.8,258.5 268.6,254.5 277.4,268.7 286.3,262.5 295.1,250.8 303.9,260.7 312.8,263.5 321.6,266.4 330.5,260.8 339.3,257.9 348.1,253.5 357,252.8 365.8,274.3 374.6,275 383.5,262.2 392.3,272.6 401.1,252.5 410,265.4 418.8,266.4 427.7,262 436.5,245.5 445.3,255 454.2,250.9 463,253.2 471.8,262.5 480.7,251.2 489.5,251.2 498.4,250.4 507.2,255.1 516,256.5 524.9,261.7 533.7,262.5 542.5,265.2 551.4,250.5 560.2,256.1 569,257.1 577.9,254.9 586.7,253.6 595.6,264.5 604.4,257 613.2,259.8 622.1,253.4"/>
<polyline points="109.5,252.4 118.4,257.8 127.2,256.5 136,263.8 144.9,257.5 153.7,259.6 162.6,251.8 171.4,246 180.2,256.3 189.1,252.8 197.9,260.2 206.7,247 215.6,244.8 224.4,257.4 233.3,249.8 242.1,261.5 250.9,248 259.8,264.7 268.6,257 277.4,249.9 286.3,250.3 295.1,257.1 303.9,261.3 312.8,255.7 321.6,257.6 330.5,256.8 339.3,267.8 348.1,249 357,256.7 365.8,247.5 374.6,260.1 383.5,264 392.3,247.6 401.1,261.7 410,246.4 418.8,267.2 427.7,251.2 436.5,255 445.3,259.8 454.2,256 463,259.4 471.8,257.9 480.7,251.9 489.5,264.8 498.4,263.1 507.2,248.9 516,262 524.9,261.5 533.7,259.7 542.5,250.2 551.4,251.1 560.2,252.8 569,254.5 577.9,255.5 586.7,251.5 595.6,262.3 604.4,259.9 613.2,253.5 622.1,255.1"/>
<polyline points="109.5,254.7 118.4,254.3 127.2,253.1 136,255.5 144.9,249.3 153.7,256.2 162.6,257.6 171.4,259.4 180.2,256.7 189.1,263.6 197.9,246.7 206.7,259.1 215.6,250.7 224.4,250.9 233.3,260.7 242.1,257.1 250.9,264 259.8,257.5 268.6,263.8 277.4,267.2 286.3,262.8 295.1,266.9 303.9,255.2 312.8,257 321.6,266.9 330.5,253.1 339.3,262.4 348.1,264.4 357,264.4 365.8,253.5 374.6,268.8 383.5,248 392.3,263.5 401.1,263.5 410,270.3 418.8,249.6 427.7,259.3 436.5,264.9 445.3,254 454.2,264.5 463,256.8 471.8,261.5 480.7,249.3 489.5,251.4 498.4,252.7 507.2,252 516,253.2 524.9,258.2 533.7,254.2 542.5,256.9 551.4,252.4 560.2,250.2 569,261.7 577.9,259.6 586.7,263.7 595.6,259 604.4,259.7 613.2,263.2 622.1,254.6"/>
<polyline points="109.5,253.7 118.4,254.6 127.2,251.9 136,249.5 144.9,259.1 153.7,250.8 162.6,251.4 171.4,258 180.2,258.9 189.1,252.5 197.9,250 206.7,252.4 215.6,247.9 224.4,255.1 233.3,257.1 242.1,258.3 250.9,260.4 259.8,258.3 268.6,246.1 277.4,254.1 286.3,249.8 295.1,262.9 303.9,260 312.8,251.4 321.6,256.6 330.5,256.1 339.3,256.8 348.1,267 357,254.3 365.8,256.6 374.6,268.5 383.5,258.5 392.3,271.1 401.1,270.4 410,266.9 418.8,250.1 427.7,254.6 436.5,251.5 445.3,265.8 454.2,255.9 463,247.5 471.8,252.8 480.7,253.3 489.5,258.2 498.4,251.6 507.2,256.9 516,250.8 524.9,258.5 533.7,253.5 542.5,246.7 551.4,251.5 560.2,255.9 569,258 577.9,252.7 586.7,251.4 595.6,256.4 604.4,260 613.2,258.1 622.1,255"/>
<polyline points="109.5,257.6 118.4,251.8 127.2,262.7 136,258.1 144.9,254.5 153.7,260.5 162.6,252.2 171.4,246 180.2,262.9 189.1,245.6 197.9,262.7 206.7,249.7 215.6,252.9 224.4,260.4 233.3,261.5 242.1,246.8 250.9,265.4 259.8,257.8 268.6,268.9 277.4,257.8 286.3,256.3 295.1,265.8 303.9,256.2 312.8,262.5 321.6,259.4 330.5,250 339.3,256.1 348.1,265.8 357,255.2 365.8,269 374.6,248.8 383.5,272.6 392.3,257.6 401.1,257.1 410,269.2 418.8,264.7 427.7,251.3 436.5,247.6 445.3,262.1 454.2,257.4 463,250.5 471.8,259.3 480.7,252.7 489.5,250.8 498.4,254.6 507.2,259.7 516,250.9 524.9,247.6 533.7,257.3 542.5,249.3 551.4,247.1 560.2,256.9 569,262.8 577.9,258.6 586.7,257.8 595.6,259.5 604.4,251.5 613.2,257.1 622.1,260.4"/>
<polyline points="109.5,252.7 118.4,253.4 127.2,245 136,252.9 144.9,257 153.7,255.5 162.6,259 171.4,257.4 180.2,257.1 189.1,254.5 197.9,249.9 206.7,260.8 215.6,255.8 224.4,261.2 233.3,264.3 242.1,257.6 250.9,267.4 259.8,245.3 268.6,246.5 277.4,262.9 286.3,253.7 295.1,246.7 303.9,260.1 312.8,251.1 321.6,263.7 330.5,260 339.3,265.9 348.1,256.4 357,263 365.8,259 374.6,269.1 383.5,263.5 392.3,266.7 401.1,255.1 410,275.1 418.8,259.2 427.7,251.8 436.5,251.5 445.3,250.8 454.2,256 463,261.7 471.8,261.3 480.7,261 489.5,252.9 498.4,251 507.2,260.5 516,251.3 524.9,254.4 533.7,252.3 542.5,250.8 551.4,255.5 560.2,252.1 569,252.6 577.9,260.6 586.7,256.2 595.6,253.3 604.4,253.9 613.2,258.3 622.1,252.2"/>
<polyline points="109.5,253.2 118.4,261 127.2,246.7 136,254.5 144.9,254.4 153.7,264.1 162.6,261.2 171.4,246.4 180.2,251.2 189.1,250.8 197.9,249.1 206.7,254 215.6,253.2 224.4,249.1 233.3,252.2 242.1,266 250.9,253.8 259.8,257.4 268.6,262.4 277.4,258.4 286.3,265.7 295.1,253.2 303.9,255.4 312.8,247.5 321.6,267.6 330.5,260.2 339.3,268.4 348.1,265.8 357,251.1 365.8,267.5 374.6,265.6 383.5,263.1 392.3,267.6 401.1,258.8 410,268.2 418.8,249.4 427.7,260.3 436.5,258.7 445.3,258.3 454.2,249.2 463,265.7 471.8,262 480.7,260.2 489.5,249.7 498.4,252.1 507.2,255.6 516,251.8 524.9,247.8 533.7,248 542.5,254.7 551.4,255.8 560.2,258.3 569,258.8 577.9,259.4 586.7,256.4 595.6,253.8 604.4,254.3 613.2,255.4 622.1,257.9"/>
<polyline points="109.5,255.2 118.4,261.7 127.2,255.6 136,253 144.9,257.9 153.7,252.4 162.6,255.6 171.4,256.2 180.2,249.4 189.1,254.4 197.9,256 206.7,261.7 215.6,257.9 224.4,254.8 233.3,259 242.1,258.6 250.9,263.8 259.8,265.9 268.6,261.3 277.4,266.1 286.3,247.9 295.1,268.2 303.9,250.2 312.8,255.1 321.6,261 330.5,262.7 339.3,258.7 348.1,265.7 357,248 365.8,252.4 374.6,249.4 383.5,265.8 392.3,246.7 401.1,263.4 410,262.8 418.8,255.3 427.7,245.2 436.5,253.2 445.3,261.2 454.2,255.2 463,257.8 471.8,252.9 480.7,252.2 489.5,261.2 498.4,258.9 507.2,260.3 516,255 524.9,251.2 533.7,248.4 542.5,251 551.4,250 560.2,259.3 569,250.8 577.9,253.2 586.7,252 595.6,261.9 604.4,261.7 613.2,262.5 622.1,257.7"/>
<polyline points="109.5,261.5 118.4,262.8 127.2,253 136,253.5 144.9,256.3 153.7,258.8 162.6,253.3 171.4,249.2 180.2,252.2 189.1,254.6 197.9,259.9 206.7,253.9 215.6,246.6 224.4,250.9 233.3,255.6 242.1,255.8 250.9,251.5 259.8,252.3 268.6,254.7 277.4,260.5 286.3,262.4 295.1,261 303.9,259 312.8,245.7 321.6,260.3 330.5,248.5 339.3,260.1 348.1,251.3 357,265.2 365.8,262 374.6,258 383.5,270.4 392.3,268.8 401.1,262.6 410,268.7 418.8,259.4 427.7,258.4 436.5,250.5 445.3,265.1 454.2,254.3 463,261.3 471.8,249.1 480.7,247.1 489.5,252.8 498.4,252.7 507.2,259.9 516,258 524.9,259 533.7,249.3 542.5,247.7 551.4,258 560.2,253.5 569,251.1 577.9,256.9 586.7,257.8 595.6,258.7 604.4,254.8 613.2,257.6 622.1,254.8"/>
<polyline points="109.5,243.6 118.4,253 127.2,247.2 136,252.1 144.9,250.9 153.7,252.4 162.6,252.5 171.4,247.9 180.2,252 189.1,252 197.9,260.5 206.7,261.2 215.6,253.9 224.4,252.8 233.3,258.5 242.1,264.8 250.9,250.5 259.8,265.5 268.6,253.8 277.4,250.8 286.3,254.2 295.1,265 303.9,245.2 312.8,247.8 321.6,249.5 330.5,258.3 339.3,262.6 348.1,248.3 357,252.7 365.8,258 374.6,267.9 383.5,261.6 392.3,272.1 401.1,269.7 410,247.7 418.8,261.4 427.7,260.7 436.5,247.1 445.3,261.8 454.2,261.2 463,255.9 471.8,247.3 480.7,247.1 489.5,246 498.4,262 507.2,257.7 516,248 524.9,258.8 533.7,255.2 542.5,262.9 551.4,258 560.2,258.2 569,261.4 577.9,254.5 586.7,259.2 595.6,251.5 604.4,258.5 613.2,258 622.1,256.4"/>
<polyline points="109.5,250.7 118.4,251.7 127.2,262.5 136,254.9 144.9,248.6 153.7,258.7 162.6,246.3 171.4,259.5 180.2,253.1 189.1,251.4 197.9,262.6 206.7,254 215.6,259.3 224.4,255.7 233.3,261.9 242.1,257.1 250.9,253.8 259.8,263.6 268.6,251.1 277.4,255.4 286.3,252.9 295.1,254.9 303.9,256.1 312.8,265.2 321.6,250.8 330.5,261.1 339.3,269 348.1,259.5 357,258.4 365.8,266.4 374.6,262.8 383.5,269.3 392.3,254.1 401.1,255.2 410,255.1 418.8,260.3 427.7,258.6 436.5,265.5 445.3,263.4 454.2,243.8 463,265 471.8,258.4 480.7,255.8 489.5,250.8 498.4,263 507.2,253.4 516,259.5 524.9,252.3 533.7,252.1 542.5,258 551.4,254 560.2,255.5 569,249.3 577.9,256.2 586.7,253 595.6,258.9 604.4,259.4 613.2,258 622.1,264.7"/>
<polyline points="109.5,249.8 118.4,247.1 127.2,258.3 136,249.9 144.9,256.4 153.7,254 162.6,255.5 171.4,254.6 180.2,243.7 189.1,255.1 197.9,250.9 206.7,251.9 215.6,247.1 224.4,250.9 233.3,259.9 242.1,259.1 250.9,263.9 259.8,253.8 268.6,255.4 277.4,254.6 286.3,256.2 295.1,248.7 303.9,255.4 312.8,266.2 321.6,253 330.5,247.3 339.3,262.1 348.1,260.3 357,261.9 365.8,253.1 374.6,266.8 383.5,255 392.3,259.6 401.1,276.4 410,267.5 418.8,247.4 427.7,255.8 436.5,245 445.3,247.8 454.2,253.5 463,246.7 471.8,248.7 480.7,261.4 489.5,253.9 498.4,260.4 507.2,261.6 516,253.4 524.9,263 533.7,255.4 542.5,255.7 551.4,254.3 560.2,262.6 569,257.6 577.9,255.2 586.7,262.4 595.6,253.7 604.4,252.9 613.2,263 622.1,263.8"/>
<polyline points="109.5,248.7 118.4,250.4 127.2,254.4 136,247.7 144.9,256.5 153.7,256.8 162.6,253.9 171.4,260.7 180.2,263.8 189.1,248.9 197.9,244.4 206.7,249 215.6,248.4 224.4,259 233.3,261 242.1,260.5 250.9,246.1 259.8,257.8 268.6,257.1 277.4,251.1 286.3,263.4 295.1,253.2 303.9,260.7 312.8,258.3 321.6,258.7 330.5,260.1 339.3,260 348.1,260.8 357,265.7 365.8,264.9 374.6,249.6 383.5,270.5 392.3,259.5 401.1,271.2 410,268.1 418.8,250.5 427.7,267.1 436.5,258.4 445.3,252.1 454.2,252.5 463,257.6 471.8,246.3 480.7,255.9 489.5,255.7 498.4,264.7 507.2,257 516,251.1 524.9,256.2 533.7,262 542.5,252.4 551.4,251.9 560.2,263.1 569,257 577.9,261.9 586.7,254.6 595.6,260.8 604.4,258.1 613.2,262.2 622.1,259"/>
<polyline points="109.5,263.1 118.4,257.5 127.2,258.8 136,251 144.9,245.9 153.7,257.4 162.6,253.8 171.4,247.1 180.2,255.4 189.1,251.9 197.9,250.1 206.7,248.3 215.6,251.7 224.4,248.8 233.3,262.6 242.1,265.4 250.9,252.3 259.8,246.9 268.6,258.6 277.4,250.2 286.3,264.1 295.1,260 303.9,245.5 312.8,254.9 321.6,252.3 330.5,245.2 339.3,243.3 348.1,263.5 357,259.8 365.8,263.5 374.6,265 383.5,272.2 392.3,263.5 401.1,254.3 410,257.7 418.8,270.6 427.7,268.3 436.5,247.7 445.3,262.1 454.2,255.5 463,260.4 471.8,251.7 480.7,265 489.5,252.4 498.4,253.7 507.2,257.4 516,252.9 524.9,255.9 533.7,260.6 542.5,255.4 551.4,262.9 560.2,250.2 569,253.1 577.9,255.7 586.7,261.1 595.6,257.4 604.4,258.2 613.2,259.3 622.1,253.6"/>
<polyline points="109.5,254.5 118.4,258.8 127.2,258.4 136,250.1 144.9,247.3 153.7,247.2 162.6,253.6 171.4,262.2 180.2,257.1 189.1,246.5 197.9,249.1 206.7,260.3 215.6,263 224.4,259.4 233.3,263.2 242.1,262 250.9,257.3 259.8,256.4 268.6,255 277.4,253.7 286.3,259.6 295.1,251.9 303.9,256.9 312.8,260.7 321.6,254.9 330.5,260 339.3,252.1 348.1,255.6 357,247.3 365.8,252 374.6,275.7 383.5,247.2 392.3,268.8 401.1,269 410,268.4 418.8,246.2 427.7,260.6 436.5,248.4 445.3,258.3 454.2,264.1 463,249.5 471.8,258.8 480.7,256.6 489.5,254.1 498.4,255.5 507.2,261.8 516,260 524.9,248.2 533.7,263.4 542.5,253.7 551.4,259.6 560.2,258.9 569,253.9 577.9,257.1 586.7,254.3 595.6,259.4 604.4,256.2 613.2,262.9 622.1,256.3"/>
<polyline points="109.5,251.3 118.4,259.6 127.2,251.5 136,250.3 144.9,250.6 153.7,248.6 162.6,250.7 171.4,247.6 180.2,251.6 189.1,252.6 197.9,252.7 206.7,248.9 215.6,248.1 224.4,256.1 233.3,250.7 242.1,263.7 250.9,252.5 259.8,252.2 268.6,262.3 277.4,259.1 286.3,268.9 295.1,262 303.9,257.6 312.8,256.8 321.6,245.4 330.5,269.6 339.3,250.9 348.1,264.5 357,258.8 365.8,271.3 374.6,249.3 383.5,271.3 392.3,259.1 401.1,270.7 410,245.4 418.8,263.3 427.7,263 436.5,250.6 445.3,255.3 454.2,255.9 463,260.3 471.8,260.8 480.7,257.5 489.5,262.5 498.4,254.9 507.2,257.3 516,251.6 524.9,261.4 533.7,258.4 542.5,256.4 551.4,259.9 560.2,255.9 569,257.7 577.9,260.9 586.7,257.1 595.6,254.5 604.4,253.7 613.2,254.3 622.1,257"/>
<polyline points="109.5,252.5 118.4,248.9 127.2,245 136,252.8 144.9,255.6 153.7,261 162.6,257 171.4,256.9 180.2,248.3 189.1,255.2 197.9,252 206.7,257.7 215.6,259 224.4,247.8 233.3,254.7 242.1,255.1 250.9,257.4 259.8,257.2 268.6,263.9 277.4,261.3 286.3,251.9 295.1,255 303.9,263.1 312.8,266.6 321.6,251.9 330.5,248.3 339.3,264.9 348.1,269 357,253.4 365.8,263.9 374.6,261.8 383.5,268.8 392.3,261.4 401.1,254.1 410,250.3 418.8,248.8 427.7,267.1 436.5,262.2 445.3,248.3 454.2,249.7 463,247 471.8,261.2 480.7,259.7 489.5,252.6 498.4,247.7 507.2,253.6 516,252.2 524.9,263.4 533.7,257.7 542.5,259.3 551.4,260.5 560.2,253.1 569,255.2 577.9,260.5 586.7,262.7 595.6,251.4 604.4,264.4 613.2,256.1 622.1,255.6"/>
<polyline points="109.5,242.7 118.4,257.4 127.2,251.8 136,255.6 144.9,253.6 153.7,250.1 162.6,259.7 171.4,255.8 180.2,251.6 189.1,252.6 197.9,256.5 206.7,250.7 215.6,254.1 224.4,264.7 233.3,249.7 242.1,261.3 250.9,259.4 259.8,261.2 268.6,254.5 277.4,251.2 286.3,256.3 295.1,258.4 303.9,257.5 312.8,262.7 321.6,267.5 330.5,264.4 339.3,252.9 348.1,251.5 357,266 365.8,251.2 374.6,272.1 383.5,255.8 392.3,258.9 401.1,270.9 410,266.8 418.8,259 427.7,251 436.5,251.7 445.3,260 454.2,257.4 463,253.4 471.8,256.6 480.7,260.6 489.5,247.5 498.4,260.9 507.2,262.7 516,255.4 524.9,263.6 533.7,256.2 542.5,250.6 551.4,252.5 560.2,255.7 569,252.6 577.9,256 586.7,255.9 595.6,257.2 604.4,251.2 613.2,257.9 622.1,259.5"/>
<polyline points="109.5,253.8 118.4,255.8 127.2,253.8 136,255.5 144.9,251.6 153.7,248.9 162.6,258.1 171.4,254.8 180.2,251.2 189.1,251.6 197.9,254.3 206.7,259.5 215.6,260.6 224.4,254.7 233.3,258.1 242.1,254.7 250.9,255.8 259.8,255.2 268.6,254.6 277.4,257.6 286.3,261.5 295.1,257.1 303.9,252 312.8,253.7 321.6,256.3 330.5,257.3 339.3,251.9 348.1,256 357,255.3 365.8,259 374.6,259.7 383.5,250.6 392.3,257.7 401.1,252.5 410,254.9 418.8,259 427.7,258.6 436.5,258 445.3,252.2 454.2,254.5 463,262.5 471.8,262.2 480.7,253.2 489.5,256.1 498.4,251.4 507.2,258.5 516,250.2 524.9,263 533.7,261 542.5,255 551.4,260.7 560.2,263.8 569,259.2 577.9,258.6 586.7,258 595.6,253.3 604.4,254.3 613.2,255.8 622.1,259.8"/>
<polyline points="109.5,257.9 118.4,252.3 127.2,259.2 136,260.2 144.9,253.6 153.7,260.8 162.6,250.1 171.4,249 180.2,252.7 189.1,252.8 197.9,258.3 206.7,253.5 215.6,258.9 224.4,255.9 233.3,256.1 242.1,253.9 250.9,254.6 259.8,250.9 268.6,250 277.4,255.5 286.3,258.4 295.1,255 303.9,255.1 312.8,253.1 321.6,253.3 330.5,257.3 339.3,257.6 348.1,255.4 357,249.6 365.8,256.1 374.6,255.9 383.5,257.4 392.3,255.7 401.1,259.5 410,258.5 418.8,251.5 427.7,261.3 436.5,254 445.3,257 454.2,261 463,262.5 471.8,260.7 480.7,256 489.5,262.3 498.4,259.3 507.2,262.7 516,258 524.9,261.6 533.7,254.1 542.5,264.4 551.4,255.5 560.2,262.9 569,256.7 577.9,259.8 586.7,256.1 595.6,255.1 604.4,258.7 613.2,261.8 622.1,262.3"/>
<polyline points="109.5,255.2 118.4,256.1 127.2,257 136,255.1 144.9,249.7 153.7,248.1 162.6,252.1 171.4,255.5 180.2,254.3 189.1,253.6 197.9,256.7 206.7,255.3 215.6,258.8 224.4,252.8 233.3,256.9 242.1,252.9 250.9,251.1 259.8,261.7 268.6,254.2 277.4,257.4 286.3,254.7 295.1,258.2 303.9,259.3 312.8,251.3 321.6,258.2 330.5,260.9 339.3,261.2 348.1,256.8 357,252.7 365.8,255.9 374.6,254.5 383.5,256.7 392.3,256 401.1,255 410,261.6 418.8,253.5 427.7,257.5 436.5,257.3 445.3,257.2 454.2,252.1 463,254.3 471.8,262.5 480.7,251.4 489.5,260.1 498.4,259.3 507.2,253.9 516,252.5 524.9,256.2 533.7,260.9 542.5,253.1 551.4,257.4 560.2,254.9 569,259.5 577.9,257.4 586.7,262.2 595.6,258.4 604.4,256.2 613.2,263.4 622.1,264.9"/>
<polyline points="109.5,250.1 118.4,257.6 127.2,256.7 136,255.4 144.9,262.3 153.7,253.9 162.6,251.4 171.4,251.4 180.2,250.6 189.1,252.6 197.9,262.5 206.7,256.1 215.6,255.1 224.4,260.5 233.3,262.2 242.1,253.4 250.9,262 259.8,257.9 268.6,261.1 277.4,256.3 286.3,248.8 295.1,249 303.9,254.6 312.8,253.1 321.6,257.8 330.5,256.4 339.3,249.5 348.1,254.5 357,253.3 365.8,251.6 374.6,261.7 383.5,255.6 392.3,255.8 401.1,257.3 410,261.9 418.8,257.9 427.7,260.6 436.5,263 445.3,261.1 454.2,256.2 463,260.3 471.8,255 480.7,249.8 489.5,252.8 498.4,260.6 507.2,255.2 516,253.1 524.9,259 533.7,257.6 542.5,258.2 551.4,255.3 560.2,261.5 569,261.8 577.9,255.8 586.7,257 595.6,254 604.4,258.7 613.2,253.2 622.1,255.4"/>
<polyline points="109.5,257.3 118.4,255.9 127.2,254.7 136,254.7 144.9,259.7 153.7,257 162.6,262 171.4,251.8 180.2,255.2 189.1,259.5 197.9,250.4 206.7,258.3 215.6,257.2 224.4,256.1 233.3,259.9 242.1,255.3 250.9,249.3 259.8,255 268.6,260.5 277.4,250.4 286.3,253.8 295.1,254.2 303.9,252.4 312.8,258.5 321.6,250.9 330.5,250.9 339.3,254.9 348.1,258.5 357,262.7 365.8,254 374.6,253.7 383.5,251.3 392.3,263.8 401.1,256.3 410,252.2 418.8,255.9 427.7,262.2 436.5,259.2 445.3,256.9 454.2,254.3 463,257.3 471.8,255.4 480.7,255 489.5,257.7 498.4,262 507.2,253.1 516,259.3 524.9,262 533.7,259.8 542.5,250.8 551.4,261 560.2,260.2 569,249.6 577.9,259.5 586.7,254.1 595.6,261.6 604.4,252.1 613.2,258.8 622.1,258.2"/>
<polyline points="109.5,255.4 118.4,254.6 127.2,253.9 136,260.5 144.9,256.9 153.7,258.2 162.6,255.4 171.4,259.1 180.2,254 189.1,251.2 197.9,247.1 206.7,255.5 215.6,257.6 224.4,256.7 233.3,248.5 242.1,259.3 250.9,260.6 259.8,250.5 268.6,260 277.4,255.6 286.3,251.6 295.1,252.1 303.9,257.4 312.8,249.3 321.6,249.5 330.5,263.7 339.3,261.8 348.1,251.6 357,254.3 365.8,257 374.6,257.8 383.5,258.1 392.3,258.6 401.1,257.2 410,254.9 418.8,257.2 427.7,250.6 436.5,254.1 445.3,256.3 454.2,255.9 463,258.9 471.8,257.3 480.7,254.9 489.5,256.6 498.4,256.5 507.2,253.7 516,257.1 524.9,260.8 533.7,258 542.5,259.8 551.4,259.7 560.2,263.3 569,258.5 577.9,258.7 586.7,255.3 595.6,257.2 604.4,256 613.2,254.9 622.1,264.1"/>
<polyline points="109.5,256.4 118.4,253.9 127.2,256.5 136,255.4 144.9,259.7 153.7,254.6 162.6,261.7 171.4,255.9 180.2,262 189.1,252.9 197.9,253.5 206.7,256.5 215.6,260.4 224.4,257.2 233.3,248.7 242.1,254.5 250.9,257.6 259.8,254.8 268.6,255.3 277.4,251 286.3,255.1 295.1,254.1 303.9,252.9 312.8,256.8 321.6,252.7 330.5,257.6 339.3,257.1 348.1,250.3 357,262.8 365.8,249.4 374.6,249.1 383.5,252.6 392.3,261.8 401.1,263.2 410,252.5 418.8,255.5 427.7,259.7 436.5,256.7 445.3,255.6 454.2,251.2 463,257.9 471.8,256.7 480.7,259.1 489.5,250 498.4,256.1 507.2,256.4 516,259.8 524.9,255.7 533.7,255.7 542.5,257.8 551.4,263.7 560.2,260.2 569,262.6 577.9,259.4 586.7,253.5 595.6,256.1 604.4,252.1 613.2,260 622.1,259.7"/>
<polyline points="109.5,252.1 118.4,251.5 127.2,249.7 136,259.3 144.9,257.9 153.7,253.5 162.6,255.9 171.4,262.6 180.2,250.2 189.1,257.8 197.9,261.9 206.7,255.8 215.6,255.8 224.4,257.3 233.3,252.5 242.1,251.8 250.9,261.5 259.8,256.3 268.6,257 277.4,259.4 286.3,252.7 295.1,253.6 303.9,262 312.8,254.3 321.6,260.4 330.5,256.5 339.3,256 348.1,251.9 357,255.3 365.8,255.8 374.6,257.9 383.5,255.9 392.3,249.7 401.1,251.2 410,259.5 418.8,264.5 427.7,255.4 436.5,259.9 445.3,261.5 454.2,254.5 463,253.3 471.8,253.3 480.7,252.4 489.5,253.6 498.4,251.5 507.2,251 516,259.3 524.9,259.3 533.7,258.8 542.5,260.9 551.4,263.9 560.2,260.9 569,252.7 577.9,259.5 586.7,255.2 595.6,256.7 604.4,257.3 613.2,252.2 622.1,264.4"/>
<polyline points="109.5,248.4 118.4,256.1 127.2,259.1 136,256.6 144.9,254.4 153.7,251.1 162.6,248 171.4,250 180.2,259.6 189.1,259.2 197.9,249.6 206.7,256.5 215.6,260 224.4,256.5 233.3,256.8 242.1,251 250.9,252.8 259.8,254 268.6,252.1 277.4,252.6 286.3,250 295.1,254.8 303.9,258.3 312.8,257.6 321.6,250.4 330.5,259.1 339.3,262 348.1,248.8 357,257.3 365.8,259.5 374.6,254.8 383.5,259.9 392.3,260.6 401.1,255.5 410,258.9 418.8,254.9 427.7,256.9 436.5,261.3 445.3,259.9 454.2,255.8 463,259.9 471.8,254.6 480.7,255.5 489.5,258.6 498.4,256.6 507.2,256 516,258.4 524.9,261.1 533.7,261.3 542.5,250 551.4,257 560.2,251.7 569,257.6 577.9,260.6 586.7,264 595.6,250.4 604.4,254.5 613.2,260.4 622.1,259.4"/>
<polyline points="109.5,257.7 118.4,254.5 127.2,252.4 136,256.8 144.9,256 153.7,257.5 162.6,249.3 171.4,256.8 180.2,260.4 189.1,251.6 197.9,257 206.7,249.2 215.6,251.5 224.4,259 233.3,248.1 242.1,256.4 250.9,258.5 259.8,254.9 268.6,257.5 277.4,259.2 286.3,252.9 295.1,255.6 303.9,257.1 312.8,257.2 321.6,253.9 330.5,251.8 339.3,252.5 348.1,257.4 357,261.5 365.8,257.2 374.6,257.6 383.5,256.2 392.3,260.1 401.1,254.8 410,256.8 418.8,260.5 427.7,254 436.5,252 445.3,252.5 454.2,259.4 463,262.6 471.8,258.5 480.7,252.6 489.5,256.7 498.4,249.1 507.2,255.4 516,255 524.9,252.5 533.7,250.3 542.5,255.8 551.4,261.2 560.2,250.1 569,256.8 577.9,262.8 586.7,258.7 595.6,261.9 604.4,260.7 613.2,258.5 622.1,260.5"/>
<polyline points="109.5,251.5 118.4,251.2 127.2,255.2 136,249.4 144.9,253 153.7,261.2 162.6,254.8 171.4,261.7 180.2,254.8 189.1,255.9 197.9,254.7 206.7,255.8 215.6,254.7 224.4,256.3 233.3,250.3 242.1,248.9 250.9,253.1 259.8,261.4 268.6,249.3 277.4,258.9 286.3,257.7 295.1,256.5 303.9,253 312.8,260.5 321.6,259.2 330.5,259.9 339.3,259.2 348.1,252.5 357,249.7 365.8,258 374.6,251.6 383.5,260.9 392.3,252.3 401.1,254.6 410,258 418.8,259.2 427.7,256.4 436.5,256.4 445.3,257.8 454.2,260 463,257.8 471.8,251.4 480.7,259.9 489.5,252.6 498.4,259.8 507.2,255.5 516,262 524.9,257.5 533.7,259.7 542.5,260.8 551.4,263.6 560.2,252.6 569,258.5 577.9,254.5 586.7,258.4 595.6,256.7 604.4,255.5 613.2,255.3 622.1,263.3"/>
<polyline points="109.5,259 118.4,254.4 127.2,258 136,253.1 144.9,250.6 153.7,261.3 162.6,252.2 171.4,256.4 180.2,251.9 189.1,252.1 197.9,252.1 206.7,255.2 215.6,254.8 224.4,253.1 233.3,260.6 242.1,253.5 250.9,251 259.8,251.8 268.6,258.5 277.4,256.2 286.3,251.1 295.1,259.3 303.9,255.1 312.8,260.4 321.6,254.1 330.5,259.2 339.3,251.3 348.1,250.8 357,253.7 365.8,256.3 374.6,255.9 383.5,257.2 392.3,261.7 401.1,259.4 410,256.9 418.8,260.3 427.7,255.6 436.5,251 445.3,260.6 454.2,251 463,256.2 471.8,259.8 480.7,255.2 489.5,260.8 498.4,257.1 507.2,253.2 516,257.5 524.9,251.6 533.7,257 542.5,260.3 551.4,254.4 560.2,252.7 569,262.9 577.9,260.3 586.7,250.9 595.6,256.3 604.4,264 613.2,252 622.1,259.7"/>
<polyline points="109.5,260.1 118.4,255.4 127.2,249.1 136,249.4 144.9,256 153.7,255.7 162.6,254.8 171.4,249.5 180.2,253.5 189.1,256.6 197.9,257.9 206.7,255.7 215.6,257.2 224.4,256.6 233.3,261 242.1,257 250.9,252.1 259.8,254.9 268.6,255.8 277.4,250.6 286.3,258.2 295.1,252.9 303.9,251.2 312.8,250.2 321.6,248.3 330.5,255.3 339.3,252.3 348.1,258.5 357,250.1 365.8,253.9 374.6,251.6 383.5,260.3 392.3,252.1 401.1,254.8 410,252.4 418.8,259.7 427.7,248.2 436.5,254.7 445.3,257.2 454.2,254.4 463,261.2 471.8,254.5 480.7,249.1 489.5,256.6 498.4,260.3 507.2,250.3 516,250.8 524.9,254.2 533.7,263.1 542.5,257.1 551.4,258.1 560.2,259 569,262.4 577.9,259.9 586.7,258.9 595.6,263.2 604.4,250.4 613.2,258.5 622.1,251.2"/>
<polyline points="109.5,251.8 118.4,260.5 127.2,258.1 136,252.6 144.9,251.3 153.7,253.2 162.6,256.3 171.4,255.9 180.2,256.8 189.1,252.7 197.9,248.9 206.7,256.2 215.6,261.4 224.4,252.3 233.3,260 242.1,261.9 250.9,252.9 259.8,259.4 268.6,252.3 277.4,258.3 286.3,256.9 295.1,252.9 303.9,259.4 312.8,254 321.6,252.9 330.5,250.7 339.3,254.6 348.1,249.1 357,254 365.8,258.9 374.6,256.2 383.5,261.7 392.3,254.8 401.1,255 410,260 418.8,258.2 427.7,254.7 436.5,250.2 445.3,263.9 454.2,254.8 463,252.2 471.8,253.3 480.7,261.8 489.5,254.5 498.4,260.8 507.2,253.9 516,260.2 524.9,250.5 533.7,257.5 542.5,252.9 551.4,254.3 560.2,263.1 569,264.8 577.9,257.9 586.7,259.3 595.6,261 604.4,264 613.2,262.7 622.1,259"/>
<polyline points="109.5,260.8 118.4,248.7 127.2,257.4 136,260.2 144.9,254.5 153.7,250.8 162.6,257.9 171.4,263 180.2,259.1 189.1,251.4 197.9,255 206.7,256.8 215.6,253.6 224.4,252.5 233.3,252.6 242.1,253.4 250.9,248.2 259.8,259.3 268.6,256.2 277.4,261.6 286.3,261 295.1,255.8 303.9,260.3 312.8,250.7 321.6,262.7 330.5,254 339.3,250 348.1,252.3 357,256.9 365.8,254.2 374.6,254.2 383.5,257.4 392.3,255.8 401.1,263.4 410,257.5 418.8,260.3 427.7,253.1 436.5,256.7 445.3,261.7 454.2,254.4 463,259.2 471.8,251.6 480.7,254.2 489.5,252.6 498.4,257.6 507.2,252.7 516,258.5 524.9,263 533.7,258.5 542.5,250.5 551.4,260.6 560.2,250.6 569,259.2 577.9,258 586.7,255.1 595.6,261.8 604.4,263.4 613.2,256.9 622.1,264.8"/>
<polyline points="109.5,256.9 118.4,251.6 127.2,259.8 136,255.7 144.9,253.7 153.7,255.2 162.6,258.2 171.4,250.3 180.2,250.6 189.1,257.8 197.9,255.2 206.7,256.8 215.6,252.1 224.4,251.5 233.3,256 242.1,259.4 250.9,261.9 259.8,258.7 268.6,259.6 277.4,254.3 286.3,251 295.1,255.3 303.9,254.9 312.8,251.8 321.6,262.4 330.5,255 339.3,254 348.1,262.2 357,247.8 365.8,261.8 374.6,258.8 383.5,258.5 392.3,260 401.1,257.7 410,259.6 418.8,261.5 427.7,253.7 436.5,253.8 445.3,254.1 454.2,257.1 463,253 471.8,250.2 480.7,261.1 489.5,256.6 498.4,261.2 507.2,259.4 516,256.1 524.9,260.1 533.7,253.8 542.5,254.9 551.4,259 560.2,258.1 569,258.5 577.9,255.3 586.7,257.4 595.6,252.1 604.4,258.2 613.2,259.4 622.1,255.7"/>
<polyline points="109.5,255.1 118.4,257 127.2,261.1 136,257.6 144.9,253.1 153.7,259.6 162.6,256.9 171.4,257.2 180.2,256.4 189.1,253.1 197.9,248.8 206.7,253.8 215.6,253.5 224.4,255.8 233.3,254.6 242.1,249.2 250.9,252.7 259.8,259.5 268.6,260.5 277.4,250.5 286.3,254.9 295.1,253.1 303.9,256.1 312.8,256.4 321.6,262.9 330.5,256.8 339.3,256 348.1,249.6 357,254.8 365.8,257.5 374.6,261.8 383.5,254 392.3,253.6 401.1,256.3 410,252 418.8,258.3 427.7,257.8 436.5,254.8 445.3,249.6 454.2,256.4 463,258.6 471.8,263.1 480.7,262.1 489.5,263.3 498.4,257.2 507.2,255 516,255.5 524.9,253.3 533.7,263.8 542.5,254.6 551.4,261.8 560.2,255.5 569,254.9 577.9,257 586.7,260 595.6,262.7 604.4,254.6 613.2,255.8 622.1,257.9"/>
<polyline points="109.5,251.9 118.4,252.7 127.2,250 136,254.8 144.9,256.7 153.7,257.6 162.6,258.4 171.4,252.9 180.2,256.1 189.1,255.8 197.9,249.1 206.7,257.4 215.6,249.4 224.4,250.8 233.3,258.1 242.1,255.8 250.9,254.3 259.8,254.4 268.6,252.3 277.4,258.6 286.3,247.2 295.1,255 303.9,254.5 312.8,257.7 321.6,258.5 330.5,256.8 339.3,256.2 348.1,260.3 357,258.5 365.8,260.2 374.6,256.7 383.5,262.6 392.3,257.1 401.1,253.1 410,254.7 418.8,252.9 427.7,258.7 436.5,251.8 445.3,258.6 454.2,258.1 463,258.2 471.8,257.3 480.7,260.4 489.5,256.5 498.4,263.2 507.2,258.6 516,256 524.9,259.3 533.7,255.3 542.5,258.2 551.4,260.8 560.2,260.5 569,258.5 577.9,256.9 586.7,258.7 595.6,260.1 604.4,255.7 613.2,261.8 622.1,261.6"/>
<polyline points="109.5,247.4 118.4,256.3 127.2,254.2 136,256.9 144.9,254.2 153.7,255.8 162.6,257.1 171.4,252.1 180.2,259 189.1,248.6 197.9,247.8 206.7,255.4 215.6,251.6 224.4,260 233.3,257.2 242.1,252.5 250.9,257.6 259.8,258.9 268.6,251.4 277.4,254.4 286.3,259.2 295.1,260.8 303.9,256.6 312.8,259.2 321.6,255.1 330.5,257.7 339.3,248.9 348.1,253.4 357,257.4 365.8,254.5 374.6,262.2 383.5,259.8 392.3,253.2 401.1,252.1 410,251.6 418.8,258.5 427.7,260.3 436.5,256.2 445.3,251.4 454.2,258.6 463,254.4 471.8,259.5 480.7,256.4 489.5,256.6 498.4,254.2 507.2,263 516,259.5 524.9,248.8 533.7,257 542.5,252.2 551.4,256.8 560.2,262.5 569,263.5 577.9,258.5 586.7,257.2 595.6,262.9 604.4,254.2 613.2,252.5 622.1,257.2"/>
<polyline points="109.5,259.3 118.4,255.9 127.2,256 136,251.2 144.9,254.6 153.7,257.8 162.6,254.6 171.4,256.5 180.2,257.2 189.1,256.1 197.9,255.9 206.7,252.6 215.6,254.3 224.4,248.2 233.3,250.1 242.1,251.8 250.9,261.8 259.8,247.8 268.6,258.7 277.4,257.4 286.3,256.4 295.1,256.2 303.9,252.1 312.8,254 321.6,256.3 330.5,256 339.3,254.3 348.1,256.1 357,257.1 365.8,256.3 374.6,254.9 383.5,256.1 392.3,250.8 401.1,249.8 410,259.8 418.8,257.2 427.7,257.6 436.5,258.4 445.3,252.5 454.2,252.2 463,259 471.8,259.7 480.7,258.1 489.5,254.1 498.4,253.1 507.2,255.4 516,251.5 524.9,250.6 533.7,255.4 542.5,259.1 551.4,255.8 560.2,254.4 569,263.1 577.9,252.4 586.7,255.6 595.6,256 604.4,257.9 613.2,256.3 622.1,260"/>
<polyline points="109.5,252.3 118.4,252.3 127.2,249 136,249.6 144.9,254.4 153.7,257 162.6,251.2 171.4,254.6 180.2,260.1 189.1,248.4 197.9,260 206.7,257 215.6,257.6 224.4,259.4 233.3,254.9 242.1,256 250.9,260.6 259.8,253.2 268.6,254.3 277.4,253.9 286.3,255.9 295.1,254.3 303.9,262.2 312.8,248.4 321.6,259.2 330.5,257.1 339.3,255.8 348.1,257.3 357,254 365.8,259.4 374.6,253 383.5,259.4 392.3,256 401.1,256.9 410,252 418.8,252.2 427.7,249.3 436.5,252.8 445.3,249.4 454.2,251.4 463,256.3 471.8,249.9 480.7,256.5 489.5,255.1 498.4,259.2 507.2,261.3 516,253.3 524.9,252.7 533.7,260.3 542.5,255.6 551.4,258.3 560.2,249.9 569,260.8 577.9,264.4 586.7,258 595.6,257.5 604.4,254.3 613.2,259.5 622.1,262.5"/>
<polyline points="109.5,261.5 118.4,252.1 127.2,256.8 136,251.6 144.9,247.9 153.7,252.7 162.6,255.2 171.4,253.3 180.2,253.6 189.1,253.4 197.9,250.5 206.7,259.9 215.6,251.2 224.4,251.5 233.3,257.4 242.1,260.5 250.9,250.9 259.8,259.6 268.6,249.1 277.4,253.4 286.3,254.8 295.1,261.8 303.9,253.1 312.8,252.2 321.6,258.1 330.5,254 339.3,257.3 348.1,262.5 357,261 365.8,257.9 374.6,253.9 383.5,250.9 392.3,259.9 401.1,254.4 410,257 418.8,255.8 427.7,259.4 436.5,256.9 445.3,260.8 454.2,256.9 463,263.3 471.8,256.8 480.7,261.7 489.5,255.2 498.4,257.4 507.2,251.2 516,256.2 524.9,254.5 533.7,255.1 542.5,252.5 551.4,259.8 560.2,253.2 569,252.8 577.9,256.3 586.7,264 595.6,256.7 604.4,264.8 613.2,255.1 622.1,254.3"/>
<polyline points="109.5,254.7 118.4,254.9 127.2,252.8 136,256 144.9,261.1 153.7,246.9 162.6,256.2 171.4,259.2 180.2,249.3 189.1,257.7 197.9,252.8 206.7,259.6 215.6,253 224.4,256.6 233.3,258 242.1,260.2 250.9,253.9 259.8,252.5 268.6,254.6 277.4,258.8 286.3,256.4 295.1,251.6 303.9,260.3 312.8,255.2 321.6,254.3 330.5,261.7 339.3,255.9 348.1,256 357,251.8 365.8,250.6 374.6,256.6 383.5,256.2 392.3,253.6 401.1,254.9 410,253.8 418.8,260.1 427.7,259.7 436.5,255.5 445.3,262.7 454.2,255.4 463,253.5 471.8,255.2 480.7,251.1 489.5,259.5 498.4,249.6 507.2,257.6 516,258.2 524.9,255.6 533.7,254.4 542.5,261.4 551.4,259.8 560.2,255.7 569,257.4 577.9,255.2 586.7,251 595.6,254.4 604.4,255.8 613.2,260.1 622.1,263.3"/>
<polyline points="109.5,258.4 118.4,254.2 127.2,259.3 136,255.5 144.9,249.4 153.7,252.6 162.6,256.5 171.4,256.2 180.2,255.9 189.1,258.3 197.9,252.4 206.7,258.2 215.6,255.9 224.4,254.3 233.3,251.6 242.1,259 250.9,258.8 259.8,260.6 268.6,258.5 277.4,252.4 286.3,256.6 295.1,250.6 303.9,251.9 312.8,247.8 321.6,251.3 330.5,260.6 339.3,260.1 348.1,252.1 357,257.6 365.8,252.1 374.6,255.3 383.5,253.9 392.3,253.8 401.1,252.1 410,257.8 418.8,259.5 427.7,254.9 436.5,259.2 445.3,256 454.2,250.9 463,262.3 471.8,255.8 480.7,261.8 489.5,258.3 498.4,252 507.2,261.4 516,258.5 524.9,254.9 533.7,258.9 542.5,252.7 551.4,250.1 560.2,252.3 569,263.9 577.9,262.3 586.7,257 595.6,257.5 604.4,255.2 613.2,261.7 622.1,252.9"/>
<polyline points="109.5,256.7 118.4,254.8 127.2,256.5 136,261.1 144.9,253.9 153.7,250.2 162.6,252.3 171.4,250.8 180.2,252.9 189.1,253.1 197.9,258.1 206.7,256.9 215.6,260.5 224.4,252.5 233.3,260.2 242.1,248.8 250.9,260.8 259.8,258.8 268.6,252.6 277.4,259.2 286.3,258.7 295.1,250.5 303.9,259.1 312.8,258 321.6,260.1 330.5,256.2 339.3,260.4 348.1,255.6 357,254.6 365.8,259.1 374.6,252.1 383.5,257.7 392.3,261.2 401.1,252.1 410,254.5 418.8,254.9 427.7,251.2 436.5,253.6 445.3,255 454.2,253.5 463,261.8 471.8,254.7 480.7,262.1 489.5,258.2 498.4,261.3 507.2,254.8 516,253.9 524.9,255.4 533.7,255.4 542.5,251.9 551.4,256.2 560.2,256.3 569,256.4 577.9,253.1 586.7,265.1 595.6,258.4 604.4,262.6 613.2,257 622.1,253.6"/>
<polyline points="109.5,248.4 118.4,258.6 127.2,261.7 136,252 144.9,259.4 153.7,260.7 162.6,257.4 171.4,257.1 180.2,261.3 189.1,257.4 197.9,253.4 206.7,256.6 215.6,251.2 224.4,254.4 233.3,259.5 242.1,255.5 250.9,249.8 259.8,257.3 268.6,253.3 277.4,255.2 286.3,251 295.1,253.4 303.9,262.1 312.8,255.1 321.6,258.2 330.5,250.8 339.3,252.9 348.1,250.5 357,260.6 365.8,258.4 374.6,249.9 383.5,253.1 392.3,261.5 401.1,248.9 410,260.6 418.8,260.2 427.7,255 436.5,256.8 445.3,254.2 454.2,260.7 463,250.1 471.8,259.9 480.7,257.7 489.5,255.2 498.4,253.6 507.2,260 516,258.9 524.9,256.3 533.7,257.8 542.5,263.4 551.4,258.7 560.2,256.8 569,254.8 577.9,255.8 586.7,257.9 595.6,258.2 604.4,259.3 613.2,260.3 622.1,252.7"/>
<polyline points="109.5,254 118.4,258.8 127.2,255.4 136,249.2 144.9,257.3 153.7,259.5 162.6,253.3 171.4,251.6 180.2,256.3 189.1,252.4 197.9,254.9 206.7,250.5 215.6,256.9 224.4,253.3 233.3,256.1 242.1,257 250.9,254.3 259.8,249.3 268.6,250.5 277.4,251.9 286.3,261.2 295.1,256.4 303.9,253.5 312.8,252.3 321.6,256.9 330.5,253.9 339.3,259.1 348.1,257.4 357,251.9 365.8,252.4 374.6,258.9 383.5,252.8 392.3,257.3 401.1,257.3 410,251.3 418.8,253.3 427.7,256 436.5,256.2 445.3,262.1 454.2,262.5 463,260 471.8,255.3 480.7,249.1 489.5,262.9 498.4,258.3 507.2,250.8 516,256.8 524.9,255.2 533.7,255.8 542.5,260.8 551.4,259.7 560.2,259 569,252.4 577.9,255.6 586.7,261 595.6,261.9 604.4,256.6 613.2,257.9 622.1,256.9"/>
<polyline points="109.5,256.7 118.4,254.7 127.2,249.2 136,251.7 144.9,256.5 153.7,247.5 162.6,257.3 171.4,249.5 180.2,257 189.1,254.5 197.9,250.5 206.7,254.9 215.6,256.3 224.4,255.8 233.3,258.5 242.1,255.5 250.9,260.9 259.8,260.9 268.6,255.3 277.4,254.4 286.3,260.6 295.1,255.8 303.9,256.8 312.8,253.8 321.6,259.4 330.5,251.5 339.3,252.7 348.1,256.8 357,255.3 365.8,251.6 374.6,253.8 383.5,258.2 392.3,260.2 401.1,255.2 410,253.3 418.8,250.7 427.7,249.4 436.5,256.1 445.3,261 454.2,258.2 463,256.8 471.8,259.7 480.7,263.1 489.5,260.7 498.4,263.1 507.2,255.8 516,257.9 524.9,260.5 533.7,255.5 542.5,250.4 551.4,252.7 560.2,261.7 569,259.8 577.9,253.6 586.7,254.8 595.6,262.3 604.4,254.6 613.2,257.3 622.1,254.9"/>
<polyline points="109.5,258.6 118.4,257.7 127.2,256.4 136,248.6 144.9,249.2 153.7,254 162.6,255.7 171.4,250.7 180.2,248.5 189.1,258.7 197.9,253.3 206.7,258.6 215.6,254.9 224.4,250.4 233.3,256.8 242.1,257.7 250.9,258.6 259.8,256.5 268.6,250.3 277.4,249.1 286.3,251.5 295.1,252.2 303.9,253.3 312.8,259.4 321.6,255.8 330.5,255.6 339.3,260.3 348.1,255.6 357,260.2 365.8,257.7 374.6,250.9 383.5,252.9 392.3,255.9 401.1,253.5 410,254.3 418.8,248.9 427.7,259 436.5,254.4 445.3,263.3 454.2,253.5 463,259.7 471.8,259 480.7,252.7 489.5,251.8 498.4,256.2 507.2,254.6 516,260.8 524.9,253.3 533.7,255 542.5,256.4 551.4,261.6 560.2,255.8 569,263.5 577.9,258.8 586.7,254.8 595.6,256.2 604.4,254.5 613.2,260.9 622.1,264"/>
<polyline points="109.5,260.8 118.4,258.1 127.2,257.3 136,255.1 144.9,259.4 153.7,256.1 162.6,256.6 171.4,257.7 180.2,256.6 189.1,253.6 197.9,253 206.7,254.5 215.6,248.1 224.4,254 233.3,254.2 242.1,254.8 250.9,258.5 259.8,252.6 268.6,260.6 277.4,257 286.3,253.4 295.1,254 303.9,251.9 312.8,247.9 321.6,260.4 330.5,261.5 339.3,253.6 348.1,251.6 357,251.4 365.8,262.2 374.6,250.7 383.5,257.3 392.3,258.4 401.1,255.3 410,259.5 418.8,258.3 427.7,256.3 436.5,258.6 445.3,258.3 454.2,252.8 463,254.8 471.8,262 480.7,260.1 489.5,261.9 498.4,258 507.2,261.9 516,251.7 524.9,258.2 533.7,256 542.5,255.6 551.4,254 560.2,252.8 569,261.3 577.9,259.4 586.7,256.5 595.6,260 604.4,260.3 613.2,257.3 622.1,259.9"/>
<polyline points="109.5,255.7 118.4,261.1 127.2,254.9 136,249 144.9,253.1 153.7,255.1 162.6,250.8 171.4,254.1 180.2,259.6 189.1,257.9 197.9,253.3 206.7,253.7 215.6,256.9 224.4,262.6 233.3,258.3 242.1,249.5 250.9,256.8 259.8,258.6 268.6,257.2 277.4,255.7 286.3,253.4 295.1,253.1 303.9,256.5 312.8,260.4 321.6,252.3 330.5,258.4 339.3,256 348.1,256.6 357,251.2 365.8,258.6 374.6,264.1 383.5,254.9 392.3,257 401.1,255.9 410,258.9 418.8,253.3 427.7,259.6 436.5,249 445.3,253.2 454.2,261.4 463,255.3 471.8,256.8 480.7,257.9 489.5,254.5 498.4,259.3 507.2,257.2 516,253.2 524.9,254.8 533.7,253 542.5,253.8 551.4,256.3 560.2,256.9 569,249.3 577.9,252.9 586.7,259.6 595.6,254.2 604.4,260.1 613.2,256.3 622.1,257"/>
<polyline points="109.5,261.4 118.4,256.9 127.2,260.1 136,260.2 144.9,254.9 153.7,259.2 162.6,259.6 171.4,254 180.2,252.3 189.1,255.8 197.9,255.5 206.7,252.2 215.6,260.6 224.4,260.1 233.3,248.4 242.1,258.6 250.9,255.3 259.8,259.3 268.6,254 277.4,254.7 286.3,259.6 295.1,255.2 303.9,253.8 312.8,257.3 321.6,253.6 330.5,249.5 339.3,259.9 348.1,260 357,254.7 365.8,256.1 374.6,257.5 383.5,261.4 392.3,254.6 401.1,250.5 410,252.1 418.8,262.3 427.7,258.6 436.5,260.1 445.3,254.2 454.2,262 463,261.3 471.8,256.9 480.7,252.7 489.5,262.9 498.4,263.4 507.2,254.5 516,263 524.9,254.1 533.7,253.7 542.5,256.7 551.4,254.3 560.2,255.3 569,256.4 577.9,261.8 586.7,257.1 595.6,251.7 604.4,253.8 613.2,256 622.1,260.4"/>
<polyline points="109.5,256.9 118.4,260 127.2,248.2 136,256.4 144.9,254.6 153.7,252.3 162.6,254.5 171.4,251.9 180.2,253 189.1,252.7 197.9,256.1 206.7,254.1 215.6,247.5 224.4,259.7 233.3,258.9 242.1,261.3 250.9,252.7 259.8,252.2 268.6,253.8 277.4,260.6 286.3,260.3 295.1,255 303.9,259.7 312.8,258.3 321.6,248.4 330.5,251.7 339.3,260.9 348.1,253.2 357,257.4 365.8,249.1 374.6,259.6 383.5,257.1 392.3,260.1 401.1,250.1 410,252.9 418.8,255.1 427.7,262.7 436.5,255.2 445.3,258.9 454.2,252.9 463,251.7 471.8,256.7 480.7,262.8 489.5,261.5 498.4,254.4 507.2,250.8 516,252.6 524.9,258.3 533.7,258.8 542.5,250.7 551.4,257.6 560.2,252.7 569,250.9 577.9,262.8 586.7,263.9 595.6,257.5 604.4,256.1 613.2,257.4 622.1,261.5"/>
<polyline points="109.5,259 118.4,250.7 127.2,247.2 136,251.1 144.9,255.6 153.7,258.6 162.6,256.9 171.4,258.6 180.2,248.1 189.1,258.4 197.9,253.2 206.7,253.9 215.6,255.5 224.4,252 233.3,255.7 242.1,258 250.9,262 259.8,259.9 268.6,251 277.4,257.3 286.3,259.6 295.1,254.4 303.9,254.6 312.8,253.4 321.6,259.1 330.5,254.3 339.3,262.2 348.1,260.7 357,258.4 365.8,256.5 374.6,253.6 383.5,256.4 392.3,256.6 401.1,252.2 410,254.2 418.8,255.6 427.7,251.8 436.5,259.1 445.3,257.4 454.2,259.7 463,250.5 471.8,259 480.7,263.9 489.5,263.3 498.4,256.3 507.2,256.8 516,257.4 524.9,251.7 533.7,261.8 542.5,263.3 551.4,264.1 560.2,256.8 569,258.9 577.9,252.6 586.7,257.1 595.6,254.5 604.4,254.1 613.2,262.5 622.1,258.2"/>
<polyline points="109.5,261.9 118.4,256.3 127.2,257.9 136,255.4 144.9,251.6 153.7,257.3 162.6,248.3 171.4,257.3 180.2,249.7 189.1,256.6 197.9,253.5 206.7,249.9 215.6,254.1 224.4,250.9 233.3,252.7 242.1,261.5 250.9,251.4 259.8,253.4 268.6,262.5 277.4,254.6 286.3,258.2 295.1,248.6 303.9,249.6 312.8,249.9 321.6,258.4 330.5,257.8 339.3,251.1 348.1,251.4 357,258.4 365.8,256.8 374.6,252 383.5,256.5 392.3,250.6 401.1,263.9 410,253.2 418.8,250.8 427.7,259.8 436.5,256.5 445.3,256.4 454.2,263.2 463,252.5 471.8,255.9 480.7,254.1 489.5,254.3 498.4,256.6 507.2,255 516,254.7 524.9,259 533.7,261.8 542.5,256.7 551.4,256.6 560.2,261.4 569,260 577.9,260.5 586.7,255.8 595.6,250.4 604.4,262.7 613.2,256 622.1,256.2"/>
<polyline points="109.5,257.1 118.4,257.6 127.2,249.4 136,248 144.9,256.3 153.7,256.7 162.6,248 171.4,260.4 180.2,256.4 189.1,256.9 197.9,255 206.7,255.5 215.6,257.2 224.4,259.3 233.3,258.7 242.1,259.2 250.9,250.7 259.8,259.5 268.6,259.4 277.4,254.8 286.3,251.7 295.1,253.4 303.9,254.9 312.8,252.1 321.6,253.2 330.5,254.6 339.3,255.4 348.1,257.4 357,253.1 365.8,253.7 374.6,258.6 383.5,262.4 392.3,259.6 401.1,250.1 410,256.4 418.8,261.7 427.7,260.7 436.5,257.4 445.3,262.2 454.2,251.1 463,260.8 471.8,251.4 480.7,261.8 489.5,257 498.4,253.9 507.2,259.2 516,262.7 524.9,257.9 533.7,262.3 542.5,259.6 551.4,253.3 560.2,258.8 569,257.9 577.9,262.9 586.7,259.9 595.6,256.6 604.4,253.8 613.2,259.7 622.1,259.1"/>
<polyline points="109.5,248.3 118.4,255.3 127.2,247.8 136,255.7 144.9,247.8 153.7,254.5 162.6,256.4 171.4,253.8 180.2,254.3 189.1,260.6 197.9,255.3 206.7,253.5 215.6,253.2 224.4,256 233.3,253.7 242.1,261.4 250.9,257.7 259.8,253.7 268.6,250.5 277.4,254.3 286.3,256.2 295.1,260.9 303.9,254.1 312.8,259 321.6,252.6 330.5,250.8 339.3,256.9 348.1,249.6 357,250.1 365.8,255 374.6,262.1 383.5,258.9 392.3,262.5 401.1,256.7 410,252.4 418.8,251.8 427.7,261.1 436.5,255.7 445.3,252.9 454.2,253.9 463,255.5 471.8,258.1 480.7,262.1 489.5,250.2 498.4,257.5 507.2,263.2 516,256.5 524.9,261.9 533.7,251.9 542.5,257.9 551.4,257.9 560.2,261.5 569,254.7 577.9,263.6 586.7,258 595.6,256.8 604.4,265.1 613.2,255.3 622.1,258.3"/>
<polyline points="109.5,258.9 118.4,260.2 127.2,256.5 136,248 144.9,259.1 153.7,247.1 162.6,258.8 171.4,251.7 180.2,255.4 189.1,256.5 197.9,255.8 206.7,253.7 215.6,262.5 224.4,253.5 233.3,255.9 242.1,256.7 250.9,258.5 259.8,254.7 268.6,257.1 277.4,255.9 286.3,261.4 295.1,249 303.9,257.8 312.8,254.3 321.6,256.7 330.5,256.7 339.3,252 348.1,253.6 357,262 365.8,254 374.6,249.4 383.5,252.2 392.3,254.4 401.1,254.9 410,256.5 418.8,252.7 427.7,261.7 436.5,258.8 445.3,260.5 454.2,254 463,255.5 471.8,251.6 480.7,263.6 489.5,258.6 498.4,254.4 507.2,256.8 516,255.6 524.9,255.1 533.7,253.8 542.5,261.3 551.4,254.5 560.2,263.9 569,252.8 577.9,258.6 586.7,253.9 595.6,254 604.4,256.3 613.2,254.2 622.1,257.4"/>
<polyline points="109.5,256.6 118.4,255.9 127.2,248 136,253.6 144.9,259.7 153.7,251.3 162.6,247.7 171.4,257.9 180.2,254.9 189.1,251.1 197.9,260.1 206.7,257.7 215.6,253.9 224.4,254.7 233.3,253.3 242.1,261.3 250.9,252.4 259.8,260.7 268.6,252.1 277.4,259.9 286.3,250.1 295.1,257.1 303.9,248.8 312.8,257.3 321.6,251.3 330.5,249.6 339.3,254 348.1,256.9 357,249.9 365.8,257 374.6,259.2 383.5,257.8 392.3,256.4 401.1,257.3 410,254.1 418.8,261.3 427.7,261.7 436.5,255.6 445.3,259.3 454.2,263.8 463,257 471.8,253.9 480.7,252.4 489.5,252.6 498.4,260.9 507.2,249.9 516,255.5 524.9,258.7 533.7,250.3 542.5,259 551.4,259.2 560.2,260.4 569,263 577.9,250.5 586.7,258.8 595.6,254.8 604.4,254.3 613.2,257.5 622.1,250.1"/>
<polyline points="109.5,254.5 118.4,251.3 127.2,249 136,255.1 144.9,248.1 153.7,258 162.6,254.7 171.4,256 180.2,257.6 189.1,259.8 197.9,246.8 206.7,251.1 215.6,258 224.4,250.9 233.3,249 242.1,250 250.9,251 259.8,249.1 268.6,257.8 277.4,250.6 286.3,263.1 295.1,252.7 303.9,253.9 312.8,255.5 321.6,259.1 330.5,252 339.3,253.5 348.1,254 357,261.4 365.8,249.7 374.6,254.1 383.5,260.3 392.3,254.6 401.1,256.6 410,262.1 418.8,263.6 427.7,259.7 436.5,259.9 445.3,255 454.2,258.4 463,255.3 471.8,254.5 480.7,255.1 489.5,254.2 498.4,259.7 507.2,261.4 516,258.1 524.9,253.9 533.7,252 542.5,258.8 551.4,258.2 560.2,259.5 569,253.5 577.9,258.6 586.7,253 595.6,253.4 604.4,261.9 613.2,251 622.1,258.4"/>
<polyline points="109.5,243.7 118.4,266.5 127.2,247.2 136,249.1 144.9,271.7 153.7,258.5 162.6,245.2 171.4,268.5 180.2,261.5 189.1,240.6 197.9,245.5 206.7,252 215.6,264.6 224.4,241.8 233.3,269.9 242.1,260.4 250.9,254.3 259.8,254.8 268.6,237.6 277.4,248.8 286.3,253.9 295.1,265.2 303.9,265.1 312.8,254.2 321.6,246.6 330.5,251.1 339.3,248.3 348.1,262.7 357,268.8 365.8,279.5 374.6,283.2 383.5,247.9 392.3,268.3 401.1,264.9 410,252.2 418.8,266.8 427.7,266.8 436.5,248.4 445.3,244.9 454.2,247.5 463,255.1 471.8,266.3 480.7,264 489.5,269 498.4,266 507.2,256.5 516,253.3 524.9,266.4 533.7,247.2 542.5,248.2 551.4,250.3 560.2,264.2 569,246 577.9,258.7 586.7,259.4 595.6,262.9 604.4,271.8 613.2,262.2 622.1,264.5"/>
<polyline points="109.5,256.3 118.4,252.3 127.2,256.9 136,267.6 144.9,243.5 153.7,265.6 162.6,259 171.4,254.6 180.2,255.8 189.1,244.3 197.9,256 206.7,249.5 215.6,247.1 224.4,271.8 233.3,262.5 242.1,276.2 250.9,248.4 259.8,256.8 268.6,275.7 277.4,248.5 286.3,273.4 295.1,253.5 303.9,250.2 312.8,273 321.6,246.4 330.5,259.1 339.3,244 348.1,261.9 357,240 365.8,261.3 374.6,274.7 383.5,273 392.3,270.1 401.1,273.1 410,258.9 418.8,270 427.7,240.9 436.5,250 445.3,242.9 454.2,258.7 463,242.3 471.8,245.8 480.7,264.2 489.5,249 498.4,247.8 507.2,255.1 516,242.7 524.9,262.7 533.7,239.8 542.5,255.4 551.4,261.8 560.2,251.3 569,250.9 577.9,243 586.7,255.1 595.6,250 604.4,254.8 613.2,247.9 622.1,240.6"/>
<polyline points="109.5,259.1 118.4,243.3 127.2,266 136,262.8 144.9,246.7 153.7,264 162.6,250.6 171.4,270.6 180.2,264.9 189.1,264 197.9,264.6 206.7,244.1 215.6,255.2 224.4,246 233.3,275.6 242.1,245.9 250.9,244.4 259.8,262.2 268.6,274 277.4,247.5 286.3,249 295.1,260.4 303.9,238.9 312.8,245.6 321.6,280.2 330.5,269.7 339.3,261.7 348.1,259.7 357,255.4 365.8,266.3 374.6,262.8 383.5,252 392.3,247.3 401.1,242.5 410,279.2 418.8,251.2 427.7,241.9 436.5,245.2 445.3,244.7 454.2,266.9 463,257 471.8,253.3 480.7,254.1 489.5,262.1 498.4,252.1 507.2,267.5 516,245.8 524.9,256.9 533.7,272.6 542.5,263 551.4,241.1 560.2,266.6 569,251.7 577.9,268.5 586.7,246 595.6,269.8 604.4,258.6 613.2,246.4 622.1,247.3"/>
<polyline points="109.5,264 118.4,268.7 127.2,259.5 136,268.7 144.9,250.8 153.7,265.8 162.6,240.5 171.4,255.4 180.2,262 189.1,264.5 197.9,242.6 206.7,246.1 215.6,237 224.4,254.6 233.3,257.6 242.1,249.9 250.9,244.2 259.8,248.1 268.6,257.8 277.4,273.9 286.3,279.7 295.1,268.9 303.9,253.4 312.8,239.8 321.6,257.9 330.5,263 339.3,259.4 348.1,276 357,253.5 365.8,254.1 374.6,265.9 383.5,260.8 392.3,254.4 401.1,269.1 410,263.5 418.8,264.2 427.7,263.1 436.5,264.5 445.3,248.8 454.2,245.6 463,254.3 471.8,250.6 480.7,251.8 489.5,250.6 498.4,266.3 507.2,256.7 516,252.8 524.9,259.1 533.7,264.6 542.5,267.2 551.4,247.5 560.2,240.6 569,253.3 577.9,260.7 586.7,255.2 595.6,254.1 604.4,257.8 613.2,250.3 622.1,253.7"/>
<polyline points="109.5,242.3 118.4,264 127.2,250.5 136,255.3 144.9,269 153.7,256.5 162.6,248.6 171.4,264.5 180.2,240.9 189.1,252.7 197.9,264.1 206.7,261.6 215.6,261.6 224.4,253.3 233.3,244.9 242.1,253.4 250.9,267 259.8,266.3 268.6,249.4 277.4,246.5 286.3,250.5 295.1,246.4 303.9,241.1 312.8,245.3 321.6,252.8 330.5,276.2 339.3,268.5 348.1,246.9 357,281.6 365.8,258.9 374.6,263 383.5,279.1 392.3,249.4 401.1,255.8 410,239.8 418.8,270.4 427.7,277.6 436.5,268.6 445.3,262.7 454.2,266.3 463,253.1 471.8,257.4 480.7,260.2 489.5,252.4 498.4,263.8 507.2,263.9 516,258.6 524.9,247.3 533.7,257.6 542.5,254.3 551.4,262.8 560.2,251.5 569,261.7 577.9,259.2 586.7,268.5 595.6,253.3 604.4,260.9 613.2,248.7 622.1,263.6"/>
<polyline points="109.5,257.1 118.4,252.6 127.2,262.4 136,249.7 144.9,262.5 153.7,257.7 162.6,248.1 171.4,263.8 180.2,250.6 189.1,269.1 197.9,250.4 206.7,248.4 215.6,246.2 224.4,259.7 233.3,263.9 242.1,264.4 250.9,242 259.8,259.9 268.6,252 277.4,270.5 286.3,260.7 295.1,272.2 303.9,241.8 312.8,240 321.6,244.7 330.5,262.7 339.3,265.6 348.1,259.2 357,250.8 365.8,272.3 374.6,281.6 383.5,281.7 392.3,275.2 401.1,278.3 410,244 418.8,245.8 427.7,258.5 436.5,254.1 445.3,252.2 454.2,267.8 463,251.1 471.8,242.4 480.7,242.3 489.5,263.3 498.4,270.5 507.2,254 516,259.7 524.9,261.3 533.7,258.9 542.5,263 551.4,267.5 560.2,272.6 569,250.6 577.9,262.5 586.7,245.4 595.6,242 604.4,244.1 613.2,249.8 622.1,251.4"/>
<polyline points="109.5,268.3 118.4,246.9 127.2,247.7 136,264.3 144.9,270.8 153.7,257.3 162.6,267.2 171.4,245.3 180.2,245.5 189.1,268.1 197.9,276.6 206.7,274.8 215.6,256.4 224.4,267.3 233.3,255.9 242.1,271.2 250.9,270 259.8,254.1 268.6,247.8 277.4,264.3 286.3,243.8 295.1,269.2 303.9,271.8 312.8,266 321.6,256.6 330.5,256.8 339.3,268.2 348.1,255.4 357,263.1 365.8,246.8 374.6,270.4 383.5,254.5 392.3,240.1 401.1,258.6 410,245.3 418.8,278.6 427.7,251 436.5,249.6 445.3,259.9 454.2,255.7 463,263.6 471.8,252.4 480.7,265.1 489.5,265.8 498.4,260.6 507.2,245.8 516,249.6 524.9,260.6 533.7,253.8 542.5,268.4 551.4,247.8 560.2,260.2 569,248.3 577.9,255.1 586.7,267.6 595.6,251.1 604.4,247.7 613.2,266.6 622.1,247.9"/>
<polyline points="109.5,259.6 118.4,255.6 127.2,269.7 136,255 144.9,263.5 153.7,259.2 162.6,262.5 171.4,248.2 180.2,260 189.1,242.4 197.9,259.4 206.7,265.7 215.6,255.1 224.4,261.6 233.3,267.6 242.1,272.3 250.9,257.1 259.8,247.2 268.6,258.1 277.4,259.5 286.3,241 295.1,270.2 303.9,269 312.8,264.3 321.6,274 330.5,251.5 339.3,268.5 348.1,273.5 357,256.5 365.8,264.8 374.6,241.5 383.5,262 392.3,250 401.1,263.5 410,277.5 418.8,241.3 427.7,272.2 436.5,265.1 445.3,262.1 454.2,267 463,264.7 471.8,263.9 480.7,240.6 489.5,256.4 498.4,243.8 507.2,255.1 516,258.5 524.9,244 533.7,246.8 542.5,245.2 551.4,255.1 560.2,262.7 569,270.9 577.9,251.1 586.7,256.5 595.6,270.9 604.4,265 613.2,266.8 622.1,267.9"/>
<polyline points="109.5,255.2 118.4,270.3 127.2,264.8 136,258.9 144.9,248.1 153.7,266.9 162.6,266.3 171.4,268.2 180.2,269.3 189.1,267.6 197.9,252.6 206.7,269.9 215.6,249.6 224.4,261.7 233.3,250.1 242.1,277.1 250.9,271.7 259.8,257.4 268.6,252.4 277.4,267.8 286.3,269.7 295.1,262.4 303.9,276.6 312.8,269 321.6,241.7 330.5,259.7 339.3,260.4 348.1,237.9 357,262.5 365.8,244.6 374.6,246.5 383.5,274.5 392.3,252 401.1,271.3 410,255.8 418.8,273.6 427.7,259.6 436.5,255 445.3,266.7 454.2,272 463,269.7 471.8,247.8 480.7,263.1 489.5,244.7 498.4,245.9 507.2,268.3 516,253.6 524.9,269.7 533.7,273.3 542.5,246.8 551.4,261.5 560.2,261 569,253.9 577.9,248.4 586.7,262.1 595.6,272.6 604.4,244.4 613.2,259.9 622.1,262.4"/>
<polyline points="109.5,236.5 118.4,245.8 127.2,247.8 136,244.5 144.9,254.7 153.7,263.1 162.6,270.9 171.4,263.2 180.2,255.6 189.1,261.6 197.9,246.4 206.7,256.8 215.6,263 224.4,246.9 233.3,247.5 242.1,251.6 250.9,263.1 259.8,252.8 268.6,263.7 277.4,251.1 286.3,276.1 295.1,258.6 303.9,238.1 312.8,257.2 321.6,250.3 330.5,271.3 339.3,248 348.1,280 357,261.8 365.8,267.5 374.6,257.8 383.5,278 392.3,262.7 401.1,284.6 410,271.9 418.8,264.9 427.7,251.4 436.5,262.5 445.3,254.6 454.2,252.3 463,259.7 471.8,260.2 480.7,252.5 489.5,250.9 498.4,272.4 507.2,259.5 516,262.6 524.9,266.8 533.7,257.6 542.5,265.9 551.4,271.3 560.2,271.8 569,241.7 577.9,247.6 586.7,256.2 595.6,267.9 604.4,251.9 613.2,258.5 622.1,262.8"/>
<polyline points="109.5,257.3 118.4,252.6 127.2,246.8 136,273.1 144.9,272.7 153.7,240.9 162.6,255.5 171.4,239.6 180.2,247.6 189.1,265.8 197.9,260.2 206.7,263.1 215.6,266.7 224.4,240.1 233.3,248.7 242.1,256.7 250.9,247 259.8,261.6 268.6,239.8 277.4,246.4 286.3,270.4 295.1,260.2 303.9,262.1 312.8,252.5 321.6,250.5 330.5,273 339.3,249.5 348.1,260.9 357,276.7 365.8,246.5 374.6,242.5 383.5,245.9 392.3,285.9 401.1,243.4 410,267.9 418.8,257.5 427.7,243 436.5,278.1 445.3,273.4 454.2,271.2 463,268.1 471.8,245.3 480.7,248.3 489.5,244.7 498.4,250.7 507.2,257.1 516,256.3 524.9,245.8 533.7,255.6 542.5,272.6 551.4,262.4 560.2,264.4 569,245.4 577.9,249.7 586.7,270.8 595.6,251.5 604.4,267 613.2,260.4 622.1,264.4"/>
<polyline points="109.5,240.6 118.4,261.7 127.2,268.5 136,256.3 144.9,242.5 153.7,268.8 162.6,272.7 171.4,239.9 180.2,254.8 189.1,262.1 197.9,251.5 206.7,261.5 215.6,261.8 224.4,275.6 233.3,245.2 242.1,268.1 250.9,245.9 259.8,254.9 268.6,249.3 277.4,253 286.3,243.3 295.1,257.5 303.9,268.4 312.8,255.2 321.6,256.2 330.5,251.5 339.3,250.8 348.1,241.3 357,268.7 365.8,246.1 374.6,262.2 383.5,261.8 392.3,241.4 401.1,282 410,253.5 418.8,282.5 427.7,276.9 436.5,263 445.3,270.3 454.2,254.3 463,265.5 471.8,243 480.7,245.3 489.5,252.3 498.4,249.2 507.2,258.5 516,268 524.9,267.6 533.7,246.2 542.5,262.6 551.4,260.9 560.2,271.3 569,259.6 577.9,251.6 586.7,254.2 595.6,271.6 604.4,256.4 613.2,260.3 622.1,270.8"/>
<polyline points="109.5,244.5 118.4,249.7 127.2,253.6 136,263.4 144.9,263 153.7,273.1 162.6,257.2 171.4,249.4 180.2,274.3 189.1,250.7 197.9,245.5 206.7,255.5 215.6,265 224.4,252.8 233.3,271 242.1,239.9 250.9,240 259.8,264.3 268.6,259.7 277.4,260.9 286.3,270 295.1,270.5 303.9,263 312.8,240.9 321.6,279.2 330.5,260 339.3,264.7 348.1,274.4 357,250.6 365.8,272.6 374.6,255.2 383.5,278.6 392.3,283.7 401.1,283.1 410,280.7 418.8,271.5 427.7,253 436.5,258.8 445.3,271.4 454.2,250.4 463,244.2 471.8,239.4 480.7,245.4 489.5,249.9 498.4,248.9 507.2,265.7 516,263.4 524.9,263.8 533.7,257.2 542.5,264.6 551.4,256.8 560.2,241.9 569,268.6 577.9,248.7 586.7,266 595.6,270.3 604.4,260.7 613.2,242.3 622.1,247.3"/>
<polyline points="109.5,250 118.4,255.4 127.2,270.3 136,246.8 144.9,272.9 153.7,252.5 162.6,259.2 171.4,262.6 180.2,270.7 189.1,268.7 197.9,268.4 206.7,268.7 215.6,267.1 224.4,261.6 233.3,251.7 242.1,270 250.9,239.6 259.8,253.8 268.6,239.4 277.4,274.2 286.3,274.9 295.1,245.9 303.9,251.3 312.8,274.8 321.6,260.2 330.5,247.3 339.3,248.9 348.1,268.8 357,270.5 365.8,269.8 374.6,246.3 383.5,246.9 392.3,286.4 401.1,281.9 410,273.3 418.8,246.4 427.7,260.2 436.5,254.2 445.3,274.4 454.2,273.9 463,263.3 471.8,269.9 480.7,252 489.5,270.8 498.4,272.9 507.2,256.9 516,266.7 524.9,246.5 533.7,262.1 542.5,268.7 551.4,272.1 560.2,267.3 569,257.3 577.9,248.5 586.7,249.5 595.6,262 604.4,263.9 613.2,254.1 622.1,258.6"/>
<polyline points="109.5,265.7 118.4,254.5 127.2,267.9 136,260.9 144.9,251.8 153.7,270.4 162.6,261 171.4,272.4 180.2,270.2 189.1,266.4 197.9,249 206.7,270.1 215.6,238.9 224.4,247.9 233.3,273 242.1,253.2 250.9,252.5 259.8,269.2 268.6,273.2 277.4,270.6 286.3,254.7 295.1,252.2 303.9,280.4 312.8,272.3 321.6,251.2 330.5,259.1 339.3,270 348.1,265.5 357,273 365.8,268.9 374.6,268.3 383.5,285.9 392.3,279.8 401.1,278.6 410,244.2 418.8,263.1 427.7,278.8 436.5,259.2 445.3,252.1 454.2,260.4 463,254.6 471.8,271.3 480.7,242.6 489.5,248.9 498.4,270.6 507.2,267.6 516,260.1 524.9,253.4 533.7,260.1 542.5,252.3 551.4,252.2 560.2,248.1 569,242.4 577.9,272.6 586.7,267.1 595.6,267.6 604.4,258.9 613.2,253.3 622.1,244"/>
<polyline points="109.5,247.5 118.4,262 127.2,244 136,249.1 144.9,259.6 153.7,262.5 162.6,247.5 171.4,268 180.2,266.9 189.1,265.2 197.9,270.6 206.7,260.8 215.6,271.7 224.4,253.3 233.3,249 242.1,248 250.9,276.3 259.8,267.8 268.6,249.9 277.4,272.5 286.3,255.2 295.1,264.3 303.9,244.4 312.8,268.5 321.6,251.1 330.5,257.1 339.3,269.6 348.1,255.1 357,252.9 365.8,267.5 374.6,261 383.5,239.1 392.3,275.9 401.1,263 410,269.2 418.8,252 427.7,241.2 436.5,252 445.3,254.4 454.2,247.9 463,270.1 471.8,243.5 480.7,271.9 489.5,243.5 498.4,267.6 507.2,244.6 516,266.1 524.9,245.3 533.7,265.7 542.5,261.6 551.4,242.8 560.2,246.1 569,259.3 577.9,250.1 586.7,252.8 595.6,265.6 604.4,266.8 613.2,255 622.1,247.1"/>
<polyline points="109.5,252.8 118.4,264.9 127.2,253.7 136,255.8 144.9,242.9 153.7,238.4 162.6,252.1 171.4,264.6 180.2,245.5 189.1,240.4 197.9,271.5 206.7,270.5 215.6,255.9 224.4,272.5 233.3,249.3 242.1,254.8 250.9,271 259.8,252.5 268.6,251.7 277.4,268.1 286.3,271.3 295.1,242.5 303.9,265.1 312.8,250.2 321.6,274.8 330.5,242.9 339.3,266.2 348.1,259.5 357,254.7 365.8,273.4 374.6,280.8 383.5,271.4 392.3,242.1 401.1,268.8 410,266.6 418.8,252.7 427.7,249.4 436.5,254.4 445.3,244.6 454.2,244.8 463,253 471.8,260.5 480.7,260.7 489.5,246.4 498.4,257.5 507.2,257.8 516,260.5 524.9,270.5 533.7,243.6 542.5,247.7 551.4,244.4 560.2,250.2 569,260.2 577.9,250.2 586.7,269.5 595.6,266.5 604.4,248.8 613.2,251.4 622.1,257.2"/>
<polyline points="109.5,245.8 118.4,242.6 127.2,249 136,267.4 144.9,258.7 153.7,251.7 162.6,238 171.4,242 180.2,243.3 189.1,250 197.9,242.4 206.7,255.6 215.6,277.2 224.4,242.2 233.3,244.7 242.1,259.4 250.9,248.8 259.8,278.7 268.6,239.7 277.4,257.1 286.3,275.9 295.1,248.2 303.9,241.4 312.8,271.5 321.6,244.6 330.5,246.4 339.3,248.5 348.1,246.2 357,277.2 365.8,274.2 374.6,240.2 383.5,239.6 392.3,247.1 401.1,263.8 410,270.4 418.8,273.7 427.7,274.8 436.5,252 445.3,252.1 454.2,267.8 463,257.9 471.8,262.9 480.7,262.2 489.5,252.1 498.4,269.6 507.2,267 516,256.6 524.9,269.9 533.7,265.9 542.5,257.9 551.4,247.2 560.2,261 569,254.7 577.9,246.3 586.7,252.6 595.6,253.3 604.4,249 613.2,263.9 622.1,254.5"/>
<polyline points="109.5,245.1 118.4,270.6 127.2,268 136,249.4 144.9,248 153.7,244.5 162.6,272.5 171.4,260.4 180.2,246 189.1,245 197.9,273.3 206.7,261.4 215.6,261.5 224.4,272.9 233.3,263.9 242.1,275.4 250.9,267.7 259.8,264.4 268.6,237.9 277.4,259.1 286.3,247.8 295.1,265.3 303.9,258.9 312.8,272.9 321.6,260.9 330.5,263.7 339.3,270.6 348.1,257.5 357,262.8 365.8,246.3 374.6,259.7 383.5,251.4 392.3,283.4 401.1,251.1 410,256.6 418.8,268.6 427.7,240.3 436.5,263.8 445.3,272.3 454.2,248.4 463,273.4 471.8,248.6 480.7,272.5 489.5,273.5 498.4,253.7 507.2,242.5 516,246.5 524.9,255.8 533.7,268.6 542.5,249.5 551.4,267.2 560.2,249.2 569,271.7 577.9,263.2 586.7,248.7 595.6,248.5 604.4,254.1 613.2,243.8 622.1,250.1"/>
<polyline points="109.5,247.9 118.4,272 127.2,246.1 136,257.3 144.9,269.3 153.7,242.8 162.6,257.9 171.4,269.2 180.2,245.9 189.1,253.6 197.9,268.6 206.7,245.8 215.6,268.7 224.4,271 233.3,240.6 242.1,268 250.9,270.6 259.8,245.7 268.6,268.5 277.4,245.8 286.3,271.9 295.1,262 303.9,269.7 312.8,250.6 321.6,264.9 330.5,254.2 339.3,266.6 348.1,262 357,269.3 365.8,255.1 374.6,268.9 383.5,250.4 392.3,264.5 401.1,265.7 410,243 418.8,278.5 427.7,269.4 436.5,242.8 445.3,242.2 454.2,259.6 463,256.2 471.8,273.5 480.7,244.2 489.5,240.8 498.4,259.4 507.2,249.9 516,271.1 524.9,243.4 533.7,245.1 542.5,251.6 551.4,273.4 560.2,255.7 569,247.3 577.9,250.8 586.7,245.8 595.6,252.8 604.4,256.8 613.2,263.6 622.1,270.1"/>
<polyline points="109.5,242 118.4,255.9 127.2,247.2 136,242 144.9,272.6 153.7,271 162.6,274.8 171.4,258.7 180.2,268.2 189.1,250.7 197.9,266.4 206.7,255.7 215.6,271.2 224.4,278 233.3,269.8 242.1,239.1 250.9,272.2 259.8,270.9 268.6,263.2 277.4,249 286.3,266.9 295.1,259.5 303.9,263.5 312.8,255.5 321.6,270.6 330.5,249.4 339.3,265.4 348.1,261.4 357,261.6 365.8,246.3 374.6,263.7 383.5,259.6 392.3,244 401.1,284.2 410,265.8 418.8,269.3 427.7,267.6 436.5,245.8 445.3,258.2 454.2,249.3 463,249.4 471.8,251.5 480.7,260.5 489.5,246.1 498.4,271.3 507.2,264.3 516,267.3 524.9,269.4 533.7,265.1 542.5,260.1 551.4,245.3 560.2,269.9 569,264.1 577.9,269.9 586.7,242.2 595.6,272.1 604.4,246.9 613.2,241.6 622.1,254.6"/>
<polyline points="109.5,267.1 118.4,255.2 127.2,240.6 136,265.1 144.9,272.9 153.7,240.5 162.6,263 171.4,240.7 180.2,250.3 189.1,242.1 197.9,270.3 206.7,248.7 215.6,260.5 224.4,253.2 233.3,260.3 242.1,251 250.9,255 259.8,265.1 268.6,251.3 277.4,259.8 286.3,264 295.1,274.6 303.9,271.6 312.8,268 321.6,244.7 330.5,255.8 339.3,273.4 348.1,254.6 357,250.3 365.8,244.4 374.6,254.1 383.5,259.5 392.3,243.1 401.1,248.9 410,273.2 418.8,283 427.7,242.8 436.5,257.3 445.3,251.3 454.2,261.5 463,258.4 471.8,256.5 480.7,273.9 489.5,257.2 498.4,262.7 507.2,251.1 516,242 524.9,242.4 533.7,260.8 542.5,249.8 551.4,245.6 560.2,266.4 569,270.1 577.9,250.6 586.7,260.7 595.6,255.8 604.4,252.9 613.2,256.8 622.1,251.1"/>
<polyline points="109.5,258.4 118.4,234.8 127.2,253.6"/>
<polyline points="118.4,254.8 127.2,218.5 136,258.4"/>
<polyline points="127.2,256.8 136,227.3 144.9,238.8 153.7,258.8"/>
<polyline points="144.9,256.6 153.7,237.8 162.6,256.9"/>
<polyline points="171.4,257.6 180.2,253.7 189.1,190.8 197.9,238 206.7,255.9"/>
<polyline points="206.7,252.7 215.6,228 224.4,253.4"/>
<polyline points="242.1,251.4 250.9,234.5 259.8,254.6"/>
<polyline points="250.9,255.9 259.8,231.6 268.6,253.3"/>
<polyline points="259.8,258.5 268.6,228.5 277.4,255.3"/>
<polyline points="277.4,252.3 286.3,233.8 295.1,255.9"/>
<polyline points="286.3,257.6 295.1,229.9 303.9,252.9"/>
<polyline points="312.8,254.8 321.6,234.5 330.5,262.8"/>
<polyline points="321.6,259.1 330.5,234.5 339.3,253.2"/>
<polyline points="330.5,259.3 339.3,226.6 348.1,261"/>
<polyline points="339.3,255.7 348.1,239.5 357,256.5"/>
<polyline points="374.6,260.4 383.5,219.2 392.3,250 401.1,252.5"/>
<polyline points="445.3,249.5 454.2,245 463,185.5 471.8,245 480.7,261.3"/>
<polyline points="463,256.1 471.8,231.6 480.7,257.3"/>
<polyline points="480.7,253.6 489.5,217.3 498.4,257.1"/>
<polyline points="480.7,259.3 489.5,224.5 498.4,257.2"/>
<polyline points="480.7,254 489.5,230 498.4,255.7"/>
<polyline points="480.7,259.2 489.5,236 498.4,258.1"/>
<polyline points="498.4,255.9 507.2,228.8 516,256.6"/>
<polyline points="507.2,258.4 516,236.2 524.9,257.1"/>
<polyline points="516,252.1 524.9,230.5 533.7,257"/>
<polyline points="524.9,256.9 533.7,234.5 542.5,261.8"/>
<polyline points="533.7,256.2 542.5,235.2 551.4,260.3"/>
<polyline points="560.2,257.2 569,235.2 577.9,262.2"/>
<polyline points="569,257.3 577.9,245 586.7,227.3 595.6,250 604.4,259.3"/>
<polyline points="595.6,258 604.4,227.3 613.2,255.1"/>
<polyline points="118.4,254.7 127.2,277.5 136,260.7"/>
<polyline points="136,258.7 144.9,278.2 153.7,261"/>
<polyline points="171.4,262.4 180.2,270.4 189.1,256"/>
<polyline points="180.2,257.5 189.1,269.6 197.9,259.7"/>
<polyline points="189.1,256.7 197.9,276.1 206.7,256.7"/>
<polyline points="197.9,260 206.7,278.5 215.6,253.8"/>
<polyline points="206.7,258.9 215.6,283.7 224.4,255.3"/>
<polyline points="259.8,254.7 268.6,295.8 277.4,261.6"/>
<polyline points="268.6,252.5 277.4,297.8 286.3,254.6"/>
<polyline points="277.4,247.1 286.3,287.5 295.1,257.4"/>
<polyline points="295.1,257.7 303.9,280.4 312.8,258.9"/>
<polyline points="303.9,254.5 312.8,283.2 321.6,248.4"/>
<polyline points="312.8,255.8 321.6,276.8 330.5,260.7"/>
<polyline points="321.6,260.4 330.5,284 339.3,259"/>
<polyline points="321.6,259.3 330.5,278 339.3,258.1"/>
<polyline points="330.5,258 339.3,284 348.1,258.8"/>
<polyline points="339.3,255.6 348.1,278.2 357,257.4"/>
<polyline points="365.8,261.5 374.6,293 383.5,256.4"/>
<polyline points="374.6,253.4 383.5,307.6 392.3,259.8"/>
<polyline points="374.6,250.9 383.5,299 392.3,258.8"/>
<polyline points="374.6,261.4 383.5,294 392.3,259.7"/>
<polyline points="383.5,260.4 392.3,291.8 401.1,258.6"/>
<polyline points="418.8,258.3 427.7,274.6 436.5,259.7"/>
<polyline points="418.8,256.8 427.7,262 436.5,296.8 445.3,262 454.2,248.9"/>
<polyline points="427.7,255 436.5,277.5 445.3,254.3"/>
<polyline points="445.3,261.2 454.2,280.1 463,260.1"/>
<polyline points="463,250 471.8,278 480.7,256.1"/>
<polyline points="471.8,254 480.7,293.3 489.5,256.2"/>
<polyline points="471.8,256.6 480.7,280.4 489.5,258.3"/>
<polyline points="489.5,260.4 498.4,279 507.2,261"/>
<polyline points="507.2,260.4 516,288.7 524.9,256.4"/>
<polyline points="516,254.5 524.9,282.5 533.7,255.6"/>
<polyline points="524.9,260.8 533.7,280.4 542.5,259.5"/>
<polyline points="533.7,258.3 542.5,275.4 551.4,257.4"/>
<polyline points="542.5,257.8 551.4,278 560.2,260.3"/>
<polyline points="577.9,254.2 586.7,289 595.6,257"/>
<polyline points="144.9,255 153.7,259.8 162.6,178.7 171.4,159.3 180.2,230.2 189.1,229.9 197.9,243 206.7,252"/>
<polyline points="189.1,250 197.9,229.9 206.7,227.3 215.6,245 224.4,255"/>
<polyline points="206.7,255 215.6,235.9 224.4,202.6 233.3,234.5 242.1,215.9 250.9,270 259.8,258"/>
<polyline points="206.7,258 215.6,248 224.4,210.9 233.3,246.5 242.1,258"/>
<polyline points="259.8,252 268.6,234.5 277.4,230.9 286.3,245 295.1,255"/>
<polyline points="339.3,235.2 348.1,232.8 357,243 365.8,255"/>
<polyline points="357,314.7 365.8,188.7 374.6,342.7 383.5,219.2 392.3,224.2 401.1,257 410,255 418.8,252 427.7,250 436.5,252 445.3,254 454.2,258 463,256 471.8,268 480.7,304.3 489.5,193.7 498.4,252 507.2,248 516,255"/>
<polyline points="348.1,258 357,262 365.8,218 374.6,202.6 383.5,259 392.3,255"/>
<polyline points="374.6,256 383.5,250 392.3,238.8 401.1,229.5 410,250 418.8,256"/>
<polyline points="383.5,256 392.3,261 401.1,320.2 410,209.9 418.8,246 427.7,255"/>
<polyline points="401.1,256 410,245 418.8,139.4 427.7,212 436.5,237 445.3,250 454.2,256"/>
<polyline points="401.1,255 410,250 418.8,194 427.7,76.9 436.5,235 445.3,250 454.2,255"/>
<polyline points="418.8,255 427.7,240 436.5,218.7 445.3,243 454.2,256"/>
<polyline points="427.7,252 436.5,233.8 445.3,231.3 454.2,243 463,255"/>
<polyline points="463,223.5 471.8,250 480.7,256"/>
<polyline points="480.7,256 489.5,251 498.4,224.5 507.2,215.6 516,227.3 524.9,247 533.7,256"/>
<polyline points="524.9,255 533.7,245 542.5,229.5 551.4,233.8 560.2,245 569,255"/>
<polyline points="533.7,256 542.5,250.6 551.4,339.4 560.2,101.5 569,306.2 577.9,261 586.7,262 595.6,260"/>
<polyline points="542.5,256 551.4,261 560.2,320.5 569,227.3 577.9,238.8 586.7,247 595.6,255"/>
<polyline points="577.9,255 586.7,250 595.6,223 604.4,226.3 613.2,242 622.1,248"/>
<polyline points="604.4,255 613.2,247 622.1,237.4"/>
<polyline points="109.5,293.3 118.4,268 127.2,255"/>
<polyline points="109.5,279 118.4,286.8 127.2,250"/>
<polyline points="118.4,258 127.2,274 136,277 144.9,255"/>
<polyline points="144.9,258 153.7,266.8 162.6,281.5 171.4,264.6 180.2,256"/>
<polyline points="206.7,258 215.6,262 224.4,282.5 233.3,279.7 242.1,262 250.9,256"/>
<polyline points="224.4,256 233.3,251 242.1,294.7 250.9,269.6 259.8,258"/>
<polyline points="242.1,258 250.9,275.8 259.8,291.8 268.6,270 277.4,258"/>
<polyline points="277.4,260 286.3,276 295.1,291.8 303.9,286.1 312.8,270 321.6,258"/>
<polyline points="365.8,262 374.6,286 383.5,317.6 392.3,296 401.1,275 410,260"/>
<polyline points="392.3,258 401.1,268 410,276.8 418.8,282.1 427.7,262 436.5,256"/>
<polyline points="560.2,258 569,272 577.9,290.4 586.7,265 595.6,256"/>
<polyline points="569,256 577.9,259 586.7,297.6 595.6,275.4 604.4,271.8 613.2,269 622.1,262"/>
<polyline points="595.6,255 604.4,232 613.2,285"/>
<polyline points="127.2,250 136,227.3 144.9,238.8 153.7,250"/>
<rect x="79.7" y="66.9" width="572.5" height="286.4"/>
<path d="M100.7 353.3H630.9M100.7 353.3v15.9M189.1 353.3v15.9M277.4 353.3v15.9M365.8 353.3v15.9M454.2 353.3v15.9M542.5 353.3v15.9M630.9 353.3v15.9M79.7 322.9V129.4M79.7 322.9h-15.9M79.7 258.4h-15.9M79.7 193.9h-15.9M79.7 129.4h-15.9"/>
</g>
<text class="t" x="365.9" y="44.9" text-anchor="middle">G1.PCGDP</text>
<text class="a" x="100.7" y="411" text-anchor="middle">1960</text>
<text class="a" x="277.4" y="411" text-anchor="middle">1980</text>
<text class="a" x="454.2" y="411" text-anchor="middle">2000</text>
<text class="a" x="630.9" y="411" text-anchor="middle">2020</text>
<text class="a" transform="translate(41.1 322.9) rotate(-90)" text-anchor="middle">-50</text>
<text class="a" transform="translate(41.1 258.4) rotate(-90)" text-anchor="middle">0</text>
<text class="a" transform="translate(41.1 193.9) rotate(-90)" text-anchor="middle">50</text>
<g class="l">
<polyline points="809.5,224.1 818.4,225.9 827.2,223.5 836,221.2 844.9,221.2 853.7,221.4 862.6,216.9 871.4,214.1 880.2,214.7 889.1,217 897.9,219 906.7,218 915.6,214 924.4,214 933.3,217.9 942.1,219.3 950.9,222.8 959.8,221.6 968.6,219.5 977.4,216.8 986.3,214.8 995.1,215.5 1003.9,219 1012.8,219.1 1021.6,220.4 1030.5,218.8 1039.3,216.5 1048.1,218.3 1057,221.7 1065.8,217.9 1074.6,218 1083.5,221.1 1092.3,220.8 1101.1,223.7 1110,221.8 1118.8,218.2 1127.7,217.5 1136.5,218.5 1145.3,220.3 1154.2,217.7 1163,219.2 1171.8,216.7 1180.7,216.6 1189.5,214.5 1198.4,214.5 1207.2,214.5 1216,214.9 1224.9,214.5 1233.7,214.5 1242.5,214.5 1251.4,214.8 1260.2,218 1269,219.7 1277.9,220.3 1286.7,220.7 1295.6,218 1304.4,218.2 1313.2,220.3 1322.1,222"/>
<polyline points="809.5,231.5 818.4,227.2 827.2,227.9 836,224.3 844.9,225.2 853.7,224.2 862.6,223.2 871.4,220.9 880.2,221.8 889.1,221.6 897.9,218.1 906.7,216.4 915.6,218.7 924.4,218.6 933.3,221.3 942.1,223.2 950.9,225.1 959.8,227.2 968.6,222.8 977.4,224.6 986.3,223.4 995.1,226.7 1003.9,226.9 1012.8,226.5 1021.6,228.5 1030.5,227.4 1039.3,228.6 1048.1,228.8 1057,229.7 1065.8,229.3 1074.6,231.7 1083.5,226.7 1092.3,227.2 1101.1,228 1110,225.9 1118.8,221.8 1127.7,223 1136.5,226.6 1145.3,222.7 1154.2,220.1 1163,222.3 1171.8,226.1 1180.7,225.9 1189.5,222.4 1198.4,223.5 1207.2,221.1 1216,220.6 1224.9,219 1233.7,221.9 1242.5,221.4 1251.4,219.4 1260.2,218.5 1269,217.9 1277.9,216.6 1286.7,216.7 1295.6,218.3 1304.4,218.4 1313.2,220.8 1322.1,221.4"/>
<polyline points="809.5,218 818.4,220 827.2,218.1 836,214.1 844.9,214.2 853.7,214.2 862.6,214.3 871.4,215.5 880.2,217.3 889.1,219.4 897.9,220.4 906.7,222.3 915.6,219.8 924.4,218.3 933.3,217.9 942.1,214.9 950.9,214.1 959.8,214.1 968.6,214.2 977.4,214.2 986.3,214.2 995.1,214.1 1003.9,214.1 1012.8,214 1021.6,214 1030.5,215.5 1039.3,214 1048.1,214 1057,214 1065.8,215 1074.6,214 1083.5,214 1092.3,214 1101.1,214 1110,214 1118.8,214.1 1127.7,215.3 1136.5,214.2 1145.3,214.2 1154.2,216 1163,216.7 1171.8,218 1180.7,217.1 1189.5,217.8 1198.4,219.5 1207.2,219 1216,221 1224.9,221.7 1233.7,218.9 1242.5,216 1251.4,215.6 1260.2,218.2 1269,217.5 1277.9,220.6 1286.7,218.6 1295.6,217.6 1304.4,219 1313.2,219.8 1322.1,220.5"/>
<polyline points="809.5,214 818.4,214.1 827.2,217.5 836,215.5 844.9,214.2 853.7,215.7 862.6,219.1 871.4,218.9 880.2,217.5 889.1,214 897.9,217.3 906.7,218.4 915.6,219.6 924.4,219.2 933.3,220.4 942.1,222.5 950.9,222.5 959.8,220.7 968.6,221.1 977.4,218.5 986.3,219.5 995.1,221.5 1003.9,220.9 1012.8,223.4 1021.6,221.9 1030.5,224.5 1039.3,226.6 1048.1,230.6 1057,228.5 1065.8,230.1 1074.6,230.4 1083.5,224.9 1092.3,226.3 1101.1,225 1110,223.8 1118.8,220.7 1127.7,219 1136.5,222.1 1145.3,223.4 1154.2,221.1 1163,222.1 1171.8,221.4 1180.7,224.4 1189.5,222.2 1198.4,222.4 1207.2,222.8 1216,224 1224.9,221 1233.7,219.8 1242.5,219.1 1251.4,217.3 1260.2,219.6 1269,219.3 1277.9,219.4 1286.7,220.8 1295.6,222.9 1304.4,222.5 1313.2,222.1 1322.1,221.9"/>
<polyline points="809.5,230 818.4,230.9 827.2,228.3 836,226.9 844.9,226.5 853.7,223.3 862.6,220.1 871.4,224.5 880.2,227.2 889.1,228.8 897.9,227.8 906.7,226.8 915.6,223.4 924.4,220.2 933.3,216.6 942.1,215.8 950.9,220.7 959.8,217.1 968.6,219.5 977.4,218.5 986.3,218.5 995.1,221.6 1003.9,217.9 1012.8,216.3 1021.6,218 1030.5,219.9 1039.3,221.2 1048.1,219.6 1057,219.9 1065.8,222.2 1074.6,217.2 1083.5,223.4 1092.3,218.4 1101.1,223.9 1110,219.6 1118.8,222.4 1127.7,225.5 1136.5,221.2 1145.3,221.1 1154.2,220.6 1163,221.2 1171.8,217.2 1180.7,219.1 1189.5,216.6 1198.4,218.1 1207.2,220.4 1216,220.3 1224.9,221.7 1233.7,218.3 1242.5,219.8 1251.4,223 1260.2,226.1 1269,223.1 1277.9,221.7 1286.7,221.7 1295.6,221.9 1304.4,223.5 1313.2,221.7 1322.1,222.1"/>
<polyline points="809.5,221.2 818.4,223.6 827.2,222.6 836,222.8 844.9,222 853.7,222.9 862.6,226.2 871.4,228.9 880.2,231 889.1,230.3 897.9,226.4 906.7,226.8 915.6,225.2 924.4,225.8 933.3,226.1 942.1,226 950.9,225.7 959.8,223.2 968.6,223.3 977.4,223.1 986.3,223 995.1,223.1 1003.9,222.7 1012.8,224.9 1021.6,224.2 1030.5,227.6 1039.3,229.9 1048.1,235.1 1057,236.7 1065.8,235.4 1074.6,231.6 1083.5,234.1 1092.3,230.5 1101.1,233.8 1110,230.4 1118.8,230.3 1127.7,233.2 1136.5,232.8 1145.3,235 1154.2,235 1163,234.3 1171.8,231.8 1180.7,232.9 1189.5,232.2 1198.4,231.5 1207.2,231.3 1216,229.3 1224.9,229.8 1233.7,227.6 1242.5,230.6 1251.4,229.1 1260.2,226.1 1269,229.3 1277.9,229.3 1286.7,226.9 1295.6,226.3 1304.4,228.6 1313.2,227.9 1322.1,229"/>
<polyline points="809.5,214 818.4,214.1 827.2,216.5 836,218.3 844.9,220.1 853.7,222.7 862.6,223.7 871.4,222.9 880.2,223.5 889.1,224.1 897.9,223.7 906.7,225.6 915.6,225.2 924.4,226 933.3,223.3 942.1,226.6 950.9,227.8 959.8,227.1 968.6,227.1 977.4,228.1 986.3,227.9 995.1,227.6 1003.9,228.9 1012.8,229.3 1021.6,226.7 1030.5,227.4 1039.3,225.4 1048.1,223.9 1057,227.6 1065.8,230.1 1074.6,231.4 1083.5,229.7 1092.3,233.2 1101.1,232.5 1110,233.1 1118.8,231.8 1127.7,230.5 1136.5,229.2 1145.3,229.5 1154.2,229.3 1163,226.9 1171.8,224.5 1180.7,223.6 1189.5,222.6 1198.4,224.4 1207.2,223.4 1216,222.3 1224.9,220.8 1233.7,221.8 1242.5,222.8 1251.4,224.6 1260.2,224.1 1269,225.3 1277.9,227.7 1286.7,229.5 1295.6,229 1304.4,227.4 1313.2,229.3 1322.1,229.9"/>
<polyline points="809.5,231.5 818.4,231.5 827.2,231.5 836,231.5 844.9,231.5 853.7,231.6 862.6,231.7 871.4,231.8 880.2,230.7 889.1,230.8 897.9,229.2 906.7,230.5 915.6,230.1 924.4,230.3 933.3,230.4 942.1,230.4 950.9,230.3 959.8,230.1 968.6,232.3 977.4,232.8 986.3,232 995.1,231.2 1003.9,231.7 1012.8,231.6 1021.6,232.1 1030.5,232.1 1039.3,234.3 1048.1,233.2 1057,233.7 1065.8,234 1074.6,234.2 1083.5,236.2 1092.3,236.6 1101.1,235.2 1110,237.5 1118.8,233.4 1127.7,233 1136.5,233.2 1145.3,231.7 1154.2,229.5 1163,227.1 1171.8,226 1180.7,224 1189.5,224.6 1198.4,224.6 1207.2,224.3 1216,224.7 1224.9,223 1233.7,223.4 1242.5,224 1251.4,226.3 1260.2,228.4 1269,230.5 1277.9,229.3 1286.7,229.2 1295.6,228.7 1304.4,229.7 1313.2,228.1 1322.1,228.5"/>
<polyline points="809.5,231.5 818.4,228.9 827.2,225 836,224.6 844.9,225.8 853.7,227.8 862.6,223.8 871.4,224 880.2,221.8 889.1,221.9 897.9,226 906.7,225.8 915.6,228 924.4,225.6 933.3,225.2 942.1,225.6 950.9,228.8 959.8,225.9 968.6,224.4 977.4,227.9 986.3,228.1 995.1,226.6 1003.9,229 1012.8,228.2 1021.6,228.1 1030.5,231.4 1039.3,235.1 1048.1,235.9 1057,236.7 1065.8,237.5 1074.6,237.5 1083.5,237.5 1092.3,237.5 1101.1,237.4 1110,235.8 1118.8,232.6 1127.7,228.8 1136.5,230.6 1145.3,233.2 1154.2,235 1163,230.6 1171.8,224.9 1180.7,227 1189.5,225.7 1198.4,223.9 1207.2,224.6 1216,225.5 1224.9,227.2 1233.7,223.9 1242.5,227.7 1251.4,230.6 1260.2,229.3 1269,229.7 1277.9,227.6 1286.7,227.1 1295.6,225.1 1304.4,224.7 1313.2,224.8 1322.1,227.1"/>
<polyline points="809.5,223.6 818.4,222.9 827.2,222.4 836,221.9 844.9,222.8 853.7,223.2 862.6,224 871.4,223.3 880.2,222.5 889.1,221.7 897.9,222.3 906.7,222.6 915.6,223.1 924.4,223.7 933.3,220.8 942.1,220 950.9,218.8 959.8,220.9 968.6,218.7 977.4,219.7 986.3,218 995.1,219.2 1003.9,218 1012.8,216.6 1021.6,214.2 1030.5,214.3 1039.3,214.1 1048.1,214.8 1057,214 1065.8,215.8 1074.6,217.4 1083.5,214.1 1092.3,215.7 1101.1,219.1 1110,218.8 1118.8,220.4 1127.7,218.5 1136.5,220.5 1145.3,221.8 1154.2,219.3 1163,218.4 1171.8,216.6 1180.7,214.6 1189.5,214.7 1198.4,215.2 1207.2,217.3 1216,215.5 1224.9,214.9 1233.7,215.2 1242.5,214.5 1251.4,216.2 1260.2,219.5 1269,218.5 1277.9,218.2 1286.7,219.4 1295.6,219 1304.4,220.3 1313.2,220.4 1322.1,220.4"/>
<polyline points="809.5,231.5 818.4,230.4 827.2,228.3 836,227.6 844.9,227.9 853.7,225.6 862.6,225.7 871.4,223.2 880.2,227.2 889.1,226.7 897.9,226.6 906.7,225.7 915.6,224.1 924.4,221.1 933.3,222.6 942.1,223.9 950.9,223.1 959.8,225.7 968.6,227.6 977.4,230.2 986.3,232.4 995.1,229.4 1003.9,230.4 1012.8,231.2 1021.6,231.7 1030.5,232.5 1039.3,231.2 1048.1,228.7 1057,224.1 1065.8,226.4 1074.6,230.6 1083.5,231.2 1092.3,229.7 1101.1,232.1 1110,231.6 1118.8,232.7 1127.7,233.2 1136.5,236 1145.3,235 1154.2,230.7 1163,230.3 1171.8,228.1 1180.7,224 1189.5,221.7 1198.4,223.2 1207.2,221.2 1216,220 1224.9,221.5 1233.7,223.1 1242.5,224 1251.4,223.4 1260.2,223 1269,223.3 1277.9,225.1 1286.7,225 1295.6,225.9 1304.4,227.9 1313.2,226.8 1322.1,227.3"/>
<polyline points="809.5,215.6 818.4,219 827.2,220.7 836,222.5 844.9,226.2 853.7,228.3 862.6,227.8 871.4,227.4 880.2,229.4 889.1,229.2 897.9,230.2 906.7,232.2 915.6,232.2 924.4,232.4 933.3,230.8 942.1,230.2 950.9,230.3 959.8,230.7 968.6,227.2 977.4,227.3 986.3,228.3 995.1,229.7 1003.9,227.7 1012.8,230.1 1021.6,230.7 1030.5,233.3 1039.3,235.1 1048.1,235.9 1057,233.6 1065.8,232.7 1074.6,235.8 1083.5,236.8 1092.3,237.5 1101.1,237.5 1110,237.5 1118.8,235.2 1127.7,232.3 1136.5,233.7 1145.3,233.5 1154.2,231.7 1163,230.7 1171.8,231 1180.7,230.1 1189.5,230.3 1198.4,229.7 1207.2,228.4 1216,230.4 1224.9,229.4 1233.7,229.5 1242.5,230.6 1251.4,230.6 1260.2,229.1 1269,229 1277.9,229.2 1286.7,229.4 1295.6,230.5 1304.4,228.9 1313.2,228.7 1322.1,228.7"/>
<polyline points="809.5,217.4 818.4,219.4 827.2,220 836,223.7 844.9,226.5 853.7,225.9 862.6,224.3 871.4,227.1 880.2,226.5 889.1,224.9 897.9,226.3 906.7,222.8 915.6,224.1 924.4,222 933.3,218.5 942.1,221.8 950.9,222.4 959.8,219.3 968.6,218.3 977.4,223.1 986.3,221.3 995.1,219.8 1003.9,224.1 1012.8,228.4 1021.6,227.8 1030.5,224.4 1039.3,224.8 1048.1,228.2 1057,228.7 1065.8,232 1074.6,230.5 1083.5,230 1092.3,226.6 1101.1,228.3 1110,231.4 1118.8,231.6 1127.7,232.8 1136.5,234.4 1145.3,235.5 1154.2,234 1163,229.9 1171.8,229.9 1180.7,230.6 1189.5,228.6 1198.4,223.7 1207.2,222.8 1216,219.5 1224.9,219.2 1233.7,221.4 1242.5,219.8 1251.4,217.7 1260.2,216.6 1269,220.5 1277.9,221 1286.7,223.6 1295.6,227.2 1304.4,224.7 1313.2,225.9 1322.1,223.9"/>
<polyline points="809.5,220.5 818.4,220.5 827.2,221.1 836,221.5 844.9,219.6 853.7,219.3 862.6,218.5 871.4,218.2 880.2,218.4 889.1,215 897.9,214.8 906.7,214 915.6,214 924.4,214 933.3,214 942.1,214 950.9,217.8 959.8,219 968.6,218.2 977.4,219.5 986.3,223.5 995.1,221.5 1003.9,219.3 1012.8,218.1 1021.6,218.7 1030.5,219.5 1039.3,217.2 1048.1,215.6 1057,216.5 1065.8,218.6 1074.6,217.6 1083.5,214 1092.3,216.9 1101.1,219.8 1110,217.4 1118.8,215.8 1127.7,215.3 1136.5,214.4 1145.3,214.2 1154.2,214.3 1163,214.3 1171.8,214.4 1180.7,214.4 1189.5,214.5 1198.4,215.5 1207.2,214.5 1216,214.5 1224.9,214.5 1233.7,214.5 1242.5,216.1 1251.4,214.8 1260.2,215.4 1269,218.9 1277.9,216.2 1286.7,217.2 1295.6,219.9 1304.4,219.8 1313.2,220.9 1322.1,223.3"/>
<polyline points="809.5,215.3 818.4,215.7 827.2,217.4 836,217.5 844.9,216.1 853.7,218.7 862.6,219.3 871.4,218.2 880.2,218.9 889.1,221.3 897.9,222 906.7,225.5 915.6,222.5 924.4,217.4 933.3,219.6 942.1,220.6 950.9,221.5 959.8,223.9 968.6,225 977.4,224.7 986.3,222.1 995.1,220.3 1003.9,220.8 1012.8,218.6 1021.6,220.9 1030.5,221.6 1039.3,221.6 1048.1,219.2 1057,223.2 1065.8,221.9 1074.6,220.6 1083.5,220 1092.3,221.3 1101.1,220.5 1110,219.9 1118.8,223.1 1127.7,221.6 1136.5,225.7 1145.3,224.9 1154.2,219.7 1163,220.5 1171.8,224.6 1180.7,224.3 1189.5,221.3 1198.4,220.6 1207.2,217.8 1216,216.6 1224.9,217.7 1233.7,220.5 1242.5,217.6 1251.4,217.6 1260.2,215.1 1269,216 1277.9,218.2 1286.7,216.9 1295.6,217.1 1304.4,218.2 1313.2,219.3 1322.1,220.6"/>
<polyline points="809.5,214 818.4,214.1 827.2,214.1 836,214.7 844.9,214.3 853.7,214.9 862.6,214.1 871.4,217.1 880.2,217.9 889.1,219.3 897.9,219.2 906.7,220.4 915.6,218.5 924.4,219.1 933.3,218.7 942.1,221.2 950.9,218.4 959.8,217.4 968.6,218.4 977.4,220.6 986.3,220.6 995.1,221.1 1003.9,217.5 1012.8,220.9 1021.6,221.8 1030.5,223.2 1039.3,223 1048.1,223.6 1057,226.6 1065.8,228 1074.6,227 1083.5,222.6 1092.3,222.9 1101.1,223.2 1110,225 1118.8,224.4 1127.7,221.5 1136.5,222.6 1145.3,223.7 1154.2,225.5 1163,224.8 1171.8,225.8 1180.7,225.3 1189.5,222.2 1198.4,220.9 1207.2,218.8 1216,219.7 1224.9,218.1 1233.7,218.6 1242.5,216.4 1251.4,214.8 1260.2,216.5 1269,218.2 1277.9,217.2 1286.7,217.3 1295.6,218.9 1304.4,219.2 1313.2,219.4 1322.1,222.4"/>
<polyline points="809.5,227.2 818.4,231.5 827.2,231.5 836,227.3 844.9,225.4 853.7,223.3 862.6,220.1 871.4,217.6 880.2,219.8 889.1,222.7 897.9,225.1 906.7,221.4 915.6,226.9 924.4,224 933.3,221.9 942.1,220.8 950.9,222.3 959.8,223.2 968.6,221 977.4,222.8 986.3,225.5 995.1,224.2 1003.9,221.5 1012.8,222.7 1021.6,222.1 1030.5,228.6 1039.3,228.7 1048.1,230.5 1057,233.6 1065.8,232 1074.6,228.8 1083.5,229.4 1092.3,226.9 1101.1,231.4 1110,230.2 1118.8,235.7 1127.7,229.6 1136.5,227.5 1145.3,227.3 1154.2,229.6 1163,228.9 1171.8,228.3 1180.7,230.8 1189.5,229.5 1198.4,228.8 1207.2,224.5 1216,222.3 1224.9,225.7 1233.7,224.6 1242.5,222.6 1251.4,219.5 1260.2,222.3 1269,220.9 1277.9,220.1 1286.7,220.2 1295.6,222.4 1304.4,223.8 1313.2,225.2 1322.1,228.5"/>
<polyline points="809.5,220.6 818.4,221.4 827.2,218.8 836,221.7 844.9,224.7 853.7,221.3 862.6,222.1 871.4,222.1 880.2,224.1 889.1,223.1 897.9,222.6 906.7,225 915.6,225.8 924.4,228.1 933.3,227.9 942.1,227.7 950.9,226.9 959.8,224.1 968.6,227.1 977.4,225.1 986.3,224.1 995.1,227.5 1003.9,228.4 1012.8,230.1 1021.6,230 1030.5,228.9 1039.3,230.5 1048.1,232.2 1057,229.9 1065.8,225.6 1074.6,225 1083.5,229.3 1092.3,230.4 1101.1,229.6 1110,229.9 1118.8,228.1 1127.7,228 1136.5,228.9 1145.3,232.5 1154.2,230.5 1163,231.8 1171.8,228.1 1180.7,225 1189.5,223.5 1198.4,220.8 1207.2,220.3 1216,217.8 1224.9,215.7 1233.7,221.3 1242.5,219.2 1251.4,219.8 1260.2,223 1269,226.3 1277.9,226.8 1286.7,226.2 1295.6,228.1 1304.4,225.8 1313.2,229.3 1322.1,229.4"/>
<polyline points="809.5,230.3 818.4,226.5 827.2,222.7 836,223.1 844.9,219.3 853.7,221.8 862.6,218.1 871.4,214.2 880.2,214.8 889.1,215.1 897.9,214 906.7,214 915.6,215.5 924.4,214.9 933.3,214 942.1,214 950.9,214.1 959.8,214.1 968.6,214.2 977.4,214.2 986.3,214.2 995.1,214.1 1003.9,217.2 1012.8,218.7 1021.6,218.5 1030.5,218.5 1039.3,223.1 1048.1,223.3 1057,220.8 1065.8,220.4 1074.6,218.1 1083.5,215.1 1092.3,214 1101.1,215 1110,216.2 1118.8,219.5 1127.7,217.3 1136.5,214.3 1145.3,214.2 1154.2,216.4 1163,220.2 1171.8,217.2 1180.7,218.6 1189.5,215.5 1198.4,216.2 1207.2,215.7 1216,218.9 1224.9,219.5 1233.7,216.4 1242.5,217.5 1251.4,217.6 1260.2,217.9 1269,217.4 1277.9,219.5 1286.7,219.6 1295.6,221.8 1304.4,223.5 1313.2,221.6 1322.1,222.4"/>
<polyline points="809.5,214 818.4,214.9 827.2,214.1 836,216.5 844.9,215.9 853.7,218.9 862.6,218.4 871.4,219.8 880.2,216.9 889.1,220.3 897.9,222.1 906.7,225.3 915.6,221.8 924.4,224.4 933.3,223.7 942.1,220.2 950.9,217.5 959.8,218.4 968.6,215.8 977.4,216.4 986.3,217.8 995.1,219.3 1003.9,224.1 1012.8,224.1 1021.6,224.5 1030.5,221.7 1039.3,220.3 1048.1,223.5 1057,226.3 1065.8,226 1074.6,224.6 1083.5,222.5 1092.3,222.9 1101.1,225.6 1110,219.5 1118.8,221.1 1127.7,217 1136.5,215.9 1145.3,216.7 1154.2,214.3 1163,216.5 1171.8,220.2 1180.7,220.8 1189.5,220.6 1198.4,223.5 1207.2,223.8 1216,225.9 1224.9,222 1233.7,219.3 1242.5,222.9 1251.4,223.9 1260.2,220.8 1269,222.4 1277.9,222.8 1286.7,219.7 1295.6,222 1304.4,223.7 1313.2,224 1322.1,224.1"/>
<polyline points="809.5,231.5 818.4,231.5 827.2,231.5 836,231.5 844.9,231.5 853.7,229.9 862.6,231.7 871.4,231.8 880.2,228.7 889.1,226.1 897.9,226.3 906.7,227.9 915.6,227.4 924.4,225.5 933.3,224.1 942.1,224.5 950.9,229.1 959.8,229.9 968.6,229.1 977.4,228.8 986.3,226.3 995.1,224.5 1003.9,227 1012.8,226.2 1021.6,225.4 1030.5,229.1 1039.3,229.5 1048.1,231.8 1057,234 1065.8,234 1074.6,237.1 1083.5,235.2 1092.3,236.2 1101.1,235.8 1110,235.9 1118.8,232.9 1127.7,232.9 1136.5,229.4 1145.3,227.6 1154.2,224.2 1163,224.1 1171.8,225 1180.7,226.9 1189.5,225.6 1198.4,227.5 1207.2,226.7 1216,227.4 1224.9,227.3 1233.7,226 1242.5,227.1 1251.4,228.6 1260.2,230.6 1269,230.6 1277.9,230.6 1286.7,230.6 1295.6,230.8 1304.4,231.1 1313.2,231.3 1322.1,230.1"/>
<polyline points="809.5,222 818.4,224.1 827.2,225.4 836,227.3 844.9,226.8 853.7,227.4 862.6,226.4 871.4,225.1 880.2,228.7 889.1,228.4 897.9,226.7 906.7,226.2 915.6,226.9 924.4,230.4 933.3,226.9 942.1,227.3 950.9,227 959.8,226.9 968.6,228 977.4,228.6 986.3,231.7 995.1,233.2 1003.9,231.1 1012.8,233.4 1021.6,233.5 1030.5,234.3 1039.3,234.8 1048.1,235.9 1057,236 1065.8,237.5 1074.6,237.5 1083.5,235 1092.3,235.5 1101.1,234.1 1110,235.4 1118.8,237 1127.7,236.5 1136.5,235.4 1145.3,235.5 1154.2,232.9 1163,233.5 1171.8,229.9 1180.7,228.7 1189.5,229.6 1198.4,229.7 1207.2,231.3 1216,231.1 1224.9,231 1233.7,230.8 1242.5,230.6 1251.4,230.6 1260.2,230.6 1269,230.6 1277.9,230.6 1286.7,230.6 1295.6,229 1304.4,228.7 1313.2,228.6 1322.1,228.9"/>
<polyline points="809.5,218.3 818.4,218.4 827.2,219.3 836,224 844.9,222.4 853.7,224.7 862.6,225.3 871.4,225.2 880.2,226.6 889.1,228.5 897.9,228.8 906.7,226 915.6,224.7 924.4,222.7 933.3,223.6 942.1,223.4 950.9,222.5 959.8,221.7 968.6,219.8 977.4,220.6 986.3,224.3 995.1,224.4 1003.9,226.9 1012.8,228.7 1021.6,229.3 1030.5,231.4 1039.3,233 1048.1,231.3 1057,235.2 1065.8,233.5 1074.6,231.5 1083.5,233 1092.3,233.2 1101.1,232.2 1110,230.1 1118.8,228.5 1127.7,228.4 1136.5,227 1145.3,225.8 1154.2,226.7 1163,229.6 1171.8,227 1180.7,223.3 1189.5,220.6 1198.4,220.7 1207.2,221.3 1216,220.1 1224.9,220.3 1233.7,221.6 1242.5,224.3 1251.4,222.1 1260.2,221.7 1269,221.5 1277.9,223.6 1286.7,222.6 1295.6,223.7 1304.4,225.2 1313.2,226.3 1322.1,225.4"/>
<polyline points="809.5,214 818.4,220 827.2,222.8 836,227.3 844.9,227 853.7,226.7 862.6,228.2 871.4,228.3 880.2,226.4 889.1,223.6 897.9,223.4 906.7,222.6 915.6,221.7 924.4,223 933.3,223.4 942.1,222.6 950.9,226.1 959.8,229.2 968.6,225.7 977.4,224.6 986.3,224.8 995.1,224.5 1003.9,224.5 1012.8,223.9 1021.6,228 1030.5,226.3 1039.3,228.6 1048.1,231.1 1057,226.1 1065.8,226.9 1074.6,224.6 1083.5,224.3 1092.3,221.3 1101.1,218.7 1110,214.6 1118.8,219.4 1127.7,224.6 1136.5,222.9 1145.3,221.3 1154.2,222.5 1163,223.8 1171.8,220 1180.7,225.1 1189.5,225.8 1198.4,225.7 1207.2,221.4 1216,220.7 1224.9,219.8 1233.7,216.8 1242.5,222 1251.4,221.7 1260.2,223.4 1269,222.8 1277.9,222.2 1286.7,220.2 1295.6,220.8 1304.4,220.4 1313.2,219.9 1322.1,221.9"/>
<polyline points="809.5,214 818.4,214.1 827.2,214.1 836,214.1 844.9,214.2 853.7,214.2 862.6,214.1 871.4,214.1 880.2,214 889.1,214 897.9,214 906.7,214.4 915.6,214.8 924.4,214.3 933.3,214 942.1,215 950.9,214.5 959.8,214.8 968.6,215.1 977.4,216.6 986.3,218.4 995.1,219 1003.9,218.2 1012.8,216.9 1021.6,217.5 1030.5,216.8 1039.3,218 1048.1,217.6 1057,217.8 1065.8,219.6 1074.6,220.7 1083.5,221.3 1092.3,221.4 1101.1,221.1 1110,220.1 1118.8,219.8 1127.7,220.7 1136.5,219.9 1145.3,217.9 1154.2,217.5 1163,217.2 1171.8,217.1 1180.7,217 1189.5,217.1 1198.4,217.8 1207.2,217.8 1216,217.9 1224.9,219 1233.7,218.1 1242.5,216.5 1251.4,217.6 1260.2,219.2 1269,218.6 1277.9,219.7 1286.7,219.9 1295.6,220.7 1304.4,221.8 1313.2,222.2 1322.1,223.1"/>
<polyline points="809.5,214 818.4,214.1 827.2,214.1 836,214.1 844.9,214.2 853.7,214.2 862.6,214.1 871.4,214.1 880.2,214 889.1,214 897.9,214 906.7,214 915.6,214 924.4,214.4 933.3,215.2 942.1,214 950.9,214.1 959.8,214.1 968.6,215 977.4,214.3 986.3,216.3 995.1,217 1003.9,216.6 1012.8,218.4 1021.6,219.8 1030.5,218 1039.3,217.9 1048.1,219.6 1057,219.6 1065.8,221.5 1074.6,219 1083.5,218.3 1092.3,217.2 1101.1,219.6 1110,216 1118.8,217.5 1127.7,215.7 1136.5,217.9 1145.3,218.5 1154.2,218.7 1163,219.2 1171.8,220.4 1180.7,218.6 1189.5,218.6 1198.4,216.9 1207.2,217.7 1216,215.8 1224.9,214.8 1233.7,215.9 1242.5,217.3 1251.4,219.3 1260.2,217.8 1269,218.6 1277.9,218.1 1286.7,218 1295.6,219.2 1304.4,219.5 1313.2,219.6 1322.1,221.2"/>
<polyline points="809.5,214 818.4,214.1 827.2,214.1 836,214.1 844.9,216.3 853.7,216.4 862.6,216 871.4,216.4 880.2,215.2 889.1,216.6 897.9,217.6 906.7,218.1 915.6,218.9 924.4,220.4 933.3,222.3 942.1,219.7 950.9,220.1 959.8,220.6 968.6,217.8 977.4,220.9 986.3,220.8 995.1,223.4 1003.9,222.6 1012.8,224.3 1021.6,222.1 1030.5,225.3 1039.3,226.4 1048.1,225.3 1057,221.8 1065.8,220.6 1074.6,217.1 1083.5,219.9 1092.3,220 1101.1,221.8 1110,226.3 1118.8,222.9 1127.7,221.5 1136.5,222.8 1145.3,222.1 1154.2,224.4 1163,224.4 1171.8,224.7 1180.7,223.7 1189.5,220 1198.4,218.8 1207.2,218.6 1216,218.6 1224.9,219.4 1233.7,221.5 1242.5,220.5 1251.4,219.3 1260.2,218.6 1269,217.1 1277.9,217.6 1286.7,217.9 1295.6,221.6 1304.4,222.9 1313.2,225.4 1322.1,227"/>
<polyline points="809.5,231.5 818.4,231.2 827.2,228.6 836,227.1 844.9,226 853.7,225.3 862.6,225.2 871.4,225.7 880.2,225.2 889.1,221.8 897.9,220 906.7,222.3 915.6,221.3 924.4,219.1 933.3,218 942.1,219.4 950.9,219.3 959.8,220.6 968.6,222.2 977.4,220.6 986.3,220.1 995.1,217.6 1003.9,220.6 1012.8,219.9 1021.6,220.3 1030.5,219.6 1039.3,218.1 1048.1,221 1057,219.3 1065.8,222.2 1074.6,225.1 1083.5,221.1 1092.3,220.6 1101.1,223.8 1110,222.5 1118.8,223 1127.7,223.7 1136.5,224.4 1145.3,225.1 1154.2,226.1 1163,225.6 1171.8,223.7 1180.7,222.2 1189.5,220.1 1198.4,223.1 1207.2,223.2 1216,223.3 1224.9,222.3 1233.7,222.7 1242.5,221 1251.4,222.6 1260.2,223.3 1269,221.9 1277.9,223 1286.7,224.6 1295.6,225.9 1304.4,227.2 1313.2,226.4 1322.1,227.8"/>
<polyline points="809.5,226.6 818.4,227.1 827.2,230.7 836,230.9 844.9,225.1 853.7,222.9 862.6,223 871.4,222 880.2,223.9 889.1,225.4 897.9,225.5 906.7,222.2 915.6,228.3 924.4,231.3 933.3,228.5 942.1,227.5 950.9,227.6 959.8,230.4 968.6,225.8 977.4,230.3 986.3,227.5 995.1,228.1 1003.9,224.9 1012.8,225.4 1021.6,221.4 1030.5,224.8 1039.3,227.7 1048.1,222.2 1057,224.6 1065.8,223.4 1074.6,229 1083.5,233.6 1092.3,231.2 1101.1,227.3 1110,226.5 1118.8,227.9 1127.7,226.2 1136.5,222.8 1145.3,220.3 1154.2,221.3 1163,219.1 1171.8,217 1180.7,219.4 1189.5,217.6 1198.4,223.2 1207.2,224.3 1216,220.7 1224.9,222.8 1233.7,224.8 1242.5,222.3 1251.4,221.3 1260.2,220.5 1269,225.8 1277.9,224.3 1286.7,226.7 1295.6,224.9 1304.4,224.6 1313.2,222.7 1322.1,224.8"/>
<polyline points="809.5,231.5 818.4,231.2 827.2,229.4 836,224.6 844.9,225.7 853.7,226.6 862.6,228.1 871.4,227 880.2,224.6 889.1,223.4 897.9,221.8 906.7,221.8 915.6,224.7 924.4,221.9 933.3,222.4 942.1,220.4 950.9,224.8 959.8,227.5 968.6,230.5 977.4,232 986.3,228 995.1,226.6 1003.9,226.7 1012.8,224.7 1021.6,224.8 1030.5,222.2 1039.3,222.5 1048.1,226.1 1057,225.5 1065.8,227.2 1074.6,229.4 1083.5,227.6 1092.3,227.2 1101.1,226 1110,227.5 1118.8,226.8 1127.7,227.6 1136.5,224.6 1145.3,222.4 1154.2,225.7 1163,227.5 1171.8,225.3 1180.7,228.3 1189.5,227.7 1198.4,227.6 1207.2,227.5 1216,229.7 1224.9,230.8 1233.7,229.3 1242.5,228.3 1251.4,226.6 1260.2,230 1269,229.5 1277.9,228.7 1286.7,225.7 1295.6,228.2 1304.4,229.3 1313.2,229.2 1322.1,230.1"/>
<polyline points="809.5,224.8 818.4,226.2 827.2,228.9 836,228.2 844.9,230.8 853.7,229 862.6,224.9 871.4,222.8 880.2,225.7 889.1,224.4 897.9,225.7 906.7,224.2 915.6,226.3 924.4,227.6 933.3,227.5 942.1,225.2 950.9,220.4 959.8,221.6 968.6,221.7 977.4,224.7 986.3,220.3 995.1,221.6 1003.9,217.1 1012.8,217.7 1021.6,219.8 1030.5,220.3 1039.3,219.6 1048.1,220.1 1057,217.3 1065.8,220.3 1074.6,219.7 1083.5,222 1092.3,225.4 1101.1,221.1 1110,218 1118.8,221.9 1127.7,220.9 1136.5,219.3 1145.3,220.2 1154.2,217.9 1163,217.3 1171.8,218.3 1180.7,221.3 1189.5,223.1 1198.4,225.6 1207.2,222.6 1216,220.6 1224.9,220 1233.7,216.5 1242.5,220.3 1251.4,220.5 1260.2,220.3 1269,219.8 1277.9,223.4 1286.7,222.1 1295.6,222.1 1304.4,220 1313.2,221.5 1322.1,224.3"/>
<polyline points="809.5,231.5 818.4,228.1 827.2,223.6 836,222.3 844.9,220.1 853.7,220 862.6,220.2 871.4,221.3 880.2,217.1 889.1,215 897.9,218.1 906.7,215.3 915.6,217.2 924.4,215 933.3,217.5 942.1,221.5 950.9,217.9 959.8,218.5 968.6,222.3 977.4,222.8 986.3,224.3 995.1,228.4 1003.9,222.2 1012.8,223.5 1021.6,219.3 1030.5,218.4 1039.3,216.1 1048.1,218.8 1057,219.9 1065.8,220.6 1074.6,221 1083.5,222.2 1092.3,220 1101.1,214.2 1110,219 1118.8,221.4 1127.7,219.8 1136.5,223.1 1145.3,219.6 1154.2,219.8 1163,220.4 1171.8,221.8 1180.7,221.7 1189.5,222.1 1198.4,223.4 1207.2,226.5 1216,226.4 1224.9,227 1233.7,224 1242.5,223.6 1251.4,225.1 1260.2,224.4 1269,222 1277.9,222.3 1286.7,223.7 1295.6,223.7 1304.4,227 1313.2,227 1322.1,227"/>
<polyline points="809.5,221.1 818.4,221.5 827.2,223.1 836,223.2 844.9,222.2 853.7,220.6 862.6,222.2 871.4,221.3 880.2,222 889.1,224 897.9,225.6 906.7,225.1 915.6,224.8 924.4,225.6 933.3,224.5 942.1,221.7 950.9,222.3 959.8,223.5 968.6,225.2 977.4,224.3 986.3,222.6 995.1,220.9 1003.9,219.4 1012.8,221.9 1021.6,222.3 1030.5,224.7 1039.3,226.5 1048.1,224.1 1057,223.1 1065.8,225.9 1074.6,227.2 1083.5,227 1092.3,226.3 1101.1,226.7 1110,223.3 1118.8,224.2 1127.7,225.6 1136.5,224.6 1145.3,224.8 1154.2,221.7 1163,219.4 1171.8,220.5 1180.7,219.5 1189.5,218.4 1198.4,218.7 1207.2,219 1216,216.5 1224.9,216.7 1233.7,216 1242.5,215.2 1251.4,215.2 1260.2,216.4 1269,215.5 1277.9,215.7 1286.7,216 1295.6,218 1304.4,218.2 1313.2,219.8 1322.1,222"/>
<polyline points="809.5,224.6 818.4,220.5 827.2,223.5 836,223.7 844.9,220.7 853.7,220.2 862.6,223.6 871.4,225.2 880.2,225.7 889.1,221.7 897.9,221.4 906.7,221.5 915.6,222.4 924.4,220.9 933.3,219.5 942.1,221.5 950.9,222.2 959.8,221.2 968.6,219.6 977.4,222 986.3,223.7 995.1,224.6 1003.9,226.3 1012.8,227.2 1021.6,229.6 1030.5,229.3 1039.3,229.9 1048.1,227.4 1057,223.3 1065.8,222.7 1074.6,225.8 1083.5,230 1092.3,232.4 1101.1,231.1 1110,226.1 1118.8,224.6 1127.7,224.1 1136.5,224.3 1145.3,225.9 1154.2,227.8 1163,227.6 1171.8,224.3 1180.7,221.1 1189.5,222.1 1198.4,221.7 1207.2,221.8 1216,219.7 1224.9,220.6 1233.7,220.9 1242.5,219.7 1251.4,217.7 1260.2,215.3 1269,215.4 1277.9,215.8 1286.7,216 1295.6,218.8 1304.4,220 1313.2,222 1322.1,222.5"/>
<polyline points="809.5,214.7 818.4,217.2 827.2,217.5 836,218.1 844.9,217.8 853.7,219.2 862.6,217.7 871.4,218.4 880.2,220.1 889.1,223 897.9,225 906.7,223.5 915.6,223.2 924.4,222.4 933.3,223.9 942.1,221.2 950.9,220.5 959.8,221.5 968.6,221.4 977.4,220.4 986.3,220.5 995.1,223.5 1003.9,226.7 1012.8,228.7 1021.6,228.4 1030.5,231.3 1039.3,233.2 1048.1,234.3 1057,232.8 1065.8,232.6 1074.6,232.9 1083.5,230.9 1092.3,232.7 1101.1,231.6 1110,230.7 1118.8,228.8 1127.7,226 1136.5,228.1 1145.3,228.2 1154.2,227.3 1163,228.1 1171.8,225.3 1180.7,226.4 1189.5,228 1198.4,228.8 1207.2,227.4 1216,225.4 1224.9,226.3 1233.7,226 1242.5,226.9 1251.4,226.4 1260.2,227.6 1269,226.3 1277.9,224.5 1286.7,224.9 1295.6,225.5 1304.4,225.4 1313.2,226.9 1322.1,227.8"/>
<polyline points="809.5,217.2 818.4,220 827.2,216.2 836,214.3 844.9,219.1 853.7,217.1 862.6,219.2 871.4,221.8 880.2,222.6 889.1,220.1 897.9,218.4 906.7,222.7 915.6,219.6 924.4,221.3 933.3,223.4 942.1,225 950.9,220.6 959.8,219.8 968.6,218.7 977.4,221.4 986.3,222.3 995.1,218.3 1003.9,217.4 1012.8,215.8 1021.6,215.2 1030.5,214 1039.3,216.5 1048.1,218.5 1057,222.4 1065.8,218.9 1074.6,221.4 1083.5,221.6 1092.3,226.3 1101.1,226.7 1110,229.9 1118.8,227.4 1127.7,229.6 1136.5,228.4 1145.3,225.6 1154.2,224.9 1163,224.4 1171.8,225.9 1180.7,225.8 1189.5,222.5 1198.4,225.4 1207.2,223.9 1216,225.9 1224.9,223.3 1233.7,223.4 1242.5,221.8 1251.4,219.1 1260.2,218.2 1269,218.9 1277.9,218.6 1286.7,220.4 1295.6,218.2 1304.4,219.7 1313.2,220.6 1322.1,221.4"/>
<polyline points="809.5,214 818.4,214.1 827.2,214.1 836,214.1 844.9,214.2 853.7,214.4 862.6,214.8 871.4,217 880.2,217.7 889.1,221 897.9,219.7 906.7,218.9 915.6,217.6 924.4,217.3 933.3,219.9 942.1,220.8 950.9,221.2 959.8,222.3 968.6,219.8 977.4,218.8 986.3,215.1 995.1,216.9 1003.9,215.7 1012.8,216 1021.6,217.3 1030.5,218.1 1039.3,220.5 1048.1,221.1 1057,219.9 1065.8,219.8 1074.6,217.6 1083.5,216 1092.3,221.2 1101.1,225.2 1110,220.1 1118.8,221.6 1127.7,218.5 1136.5,217.2 1145.3,217.2 1154.2,220.3 1163,219 1171.8,215.6 1180.7,214.4 1189.5,214.5 1198.4,214.5 1207.2,214.5 1216,214.5 1224.9,214.5 1233.7,214.5 1242.5,214.5 1251.4,214.8 1260.2,215.1 1269,217 1277.9,216.6 1286.7,216 1295.6,217.1 1304.4,219.9 1313.2,219.9 1322.1,222.2"/>
<polyline points="809.5,229.6 818.4,224 827.2,225.6 836,228.4 844.9,225.5 853.7,224.8 862.6,221.2 871.4,221.1 880.2,219.9 889.1,218.8 897.9,218.5 906.7,219.4 915.6,216.4 924.4,219.3 933.3,222.7 942.1,229.1 950.9,229 959.8,226.3 968.6,223.3 977.4,224.3 986.3,226.1 995.1,226.2 1003.9,224.9 1012.8,229 1021.6,229 1030.5,234.1 1039.3,234.2 1048.1,231.7 1057,235.1 1065.8,237.2 1074.6,233.2 1083.5,227.4 1092.3,232.7 1101.1,234.5 1110,233.2 1118.8,232.6 1127.7,229.6 1136.5,231.8 1145.3,228.5 1154.2,227.4 1163,224.8 1171.8,230 1180.7,225.6 1189.5,230.2 1198.4,231.5 1207.2,230.3 1216,227.9 1224.9,228.6 1233.7,226.1 1242.5,228.3 1251.4,223.9 1260.2,224.4 1269,228 1277.9,226.4 1286.7,228 1295.6,229.3 1304.4,229.7 1313.2,231 1322.1,228.5"/>
<polyline points="809.5,214 818.4,214.1 827.2,214.1 836,214.1 844.9,214.2 853.7,215.5 862.6,214.1 871.4,214.1 880.2,217.7 889.1,220.6 897.9,219.6 906.7,220.7 915.6,223.7 924.4,222.8 933.3,218.5 942.1,218.1 950.9,215.3 959.8,214.1 968.6,214.2 977.4,214.2 986.3,214.2 995.1,214.1 1003.9,215.8 1012.8,217.5 1021.6,218.9 1030.5,218.9 1039.3,217.5 1048.1,217.1 1057,221.3 1065.8,227.1 1074.6,221.4 1083.5,225 1092.3,226.9 1101.1,220.3 1110,221.8 1118.8,217.2 1127.7,220.8 1136.5,216.1 1145.3,214.3 1154.2,215.2 1163,216.8 1171.8,220.7 1180.7,222.4 1189.5,220 1198.4,217.1 1207.2,221.5 1216,218.2 1224.9,220.9 1233.7,218.8 1242.5,222 1251.4,225.1 1260.2,222.6 1269,219 1277.9,222 1286.7,220 1295.6,218.8 1304.4,221.1 1313.2,224.9 1322.1,226.2"/>
<polyline points="809.5,231.5 818.4,231.5 827.2,231.5 836,230.1 844.9,231.5 853.7,230.2 862.6,228.8 871.4,226.1 880.2,224.9 889.1,225.5 897.9,223.7 906.7,225.3 915.6,224.5 924.4,223.7 933.3,224.3 942.1,226 950.9,223.5 959.8,221.8 968.6,223.1 977.4,224.4 986.3,223.6 995.1,225.5 1003.9,223.1 1012.8,224 1021.6,223.4 1030.5,226.1 1039.3,226.2 1048.1,229.1 1057,229.4 1065.8,228.5 1074.6,226.4 1083.5,227.6 1092.3,227.7 1101.1,225.2 1110,223.3 1118.8,221.5 1127.7,221.4 1136.5,222.7 1145.3,225.1 1154.2,224.4 1163,224.7 1171.8,223.5 1180.7,223.3 1189.5,224.7 1198.4,224.2 1207.2,226.1 1216,226.5 1224.9,225.1 1233.7,225.3 1242.5,224.7 1251.4,225 1260.2,224.8 1269,224.9 1277.9,224.8 1286.7,224.1 1295.6,226.1 1304.4,227.4 1313.2,227.7 1322.1,226.8"/>
<polyline points="809.5,217.4 818.4,218.2 827.2,214.2 836,219.5 844.9,220.5 853.7,221.6 862.6,221.7 871.4,220.9 880.2,218.9 889.1,220.6 897.9,219.9 906.7,219.7 915.6,219 924.4,220 933.3,221.3 942.1,219.4 950.9,218.6 959.8,217.8 968.6,214.3 977.4,215.7 986.3,217.4 995.1,216.5 1003.9,215.6 1012.8,217.5 1021.6,215.9 1030.5,219.1 1039.3,216.4 1048.1,218.4 1057,215.6 1065.8,215.2 1074.6,214.5 1083.5,220.9 1092.3,225.8 1101.1,228.1 1110,222.7 1118.8,218.4 1127.7,217.4 1136.5,216.9 1145.3,219 1154.2,217.4 1163,220.2 1171.8,223.3 1180.7,221.1 1189.5,224.2 1198.4,218.6 1207.2,219.8 1216,216.9 1224.9,216 1233.7,218.5 1242.5,221.6 1251.4,224.3 1260.2,228.3 1269,225.6 1277.9,227.4 1286.7,226.6 1295.6,224.8 1304.4,228.2 1313.2,224.7 1322.1,222.7"/>
<polyline points="809.5,216.5 818.4,218.2 827.2,218.7 836,220.5 844.9,221.1 853.7,220.8 862.6,222.4 871.4,224.6 880.2,225.6 889.1,225.2 897.9,224.1 906.7,224 915.6,225.2 924.4,224.6 933.3,224.8 942.1,225.4 950.9,225.1 959.8,226 968.6,226.2 977.4,225.6 986.3,224.4 995.1,225.7 1003.9,225.7 1012.8,227.7 1021.6,229.5 1030.5,229.6 1039.3,228.1 1048.1,230.6 1057,231.8 1065.8,231.6 1074.6,232.4 1083.5,232.6 1092.3,231.3 1101.1,232.4 1110,232.8 1118.8,232.5 1127.7,232.3 1136.5,231.2 1145.3,231.5 1154.2,230.2 1163,230.9 1171.8,230.5 1180.7,231 1189.5,231.4 1198.4,229.3 1207.2,228.8 1216,229.3 1224.9,230.1 1233.7,229.3 1242.5,230.2 1251.4,230 1260.2,229.3 1269,229.5 1277.9,229.4 1286.7,229.3 1295.6,228.5 1304.4,228.6 1313.2,229.6 1322.1,229.7"/>
<polyline points="809.5,231.5 818.4,231.5 827.2,229.6 836,226.4 844.9,225.9 853.7,224.8 862.6,223.6 871.4,221.4 880.2,220.9 889.1,222.2 897.9,223.2 906.7,221.8 915.6,221.3 924.4,220.7 933.3,220.8 942.1,222.1 950.9,220.2 959.8,219.1 968.6,219.4 977.4,218.3 986.3,220.3 995.1,219.4 1003.9,220.5 1012.8,218.3 1021.6,219.5 1030.5,220.5 1039.3,220.5 1048.1,221.4 1057,221.3 1065.8,222.2 1074.6,219.3 1083.5,221.8 1092.3,222.1 1101.1,220.9 1110,221 1118.8,222.1 1127.7,222.3 1136.5,221.1 1145.3,222.6 1154.2,222.3 1163,219.5 1171.8,220.5 1180.7,220.2 1189.5,219.9 1198.4,217.9 1207.2,218.4 1216,217.8 1224.9,217.1 1233.7,217.5 1242.5,216.6 1251.4,215.6 1260.2,217.2 1269,219.6 1277.9,222.1 1286.7,223.1 1295.6,224.8 1304.4,223.3 1313.2,224.2 1322.1,224.1"/>
<polyline points="809.5,228.8 818.4,226.5 827.2,230.4 836,227.2 844.9,228.8 853.7,228.9 862.6,226.7 871.4,227.2 880.2,229.4 889.1,224.3 897.9,226.2 906.7,223.8 915.6,219.7 924.4,222.1 933.3,223.3 942.1,224.1 950.9,225.1 959.8,222.3 968.6,227.4 977.4,226.4 986.3,224 995.1,229.1 1003.9,223.8 1012.8,227.7 1021.6,227.2 1030.5,224 1039.3,224.1 1048.1,221 1057,222.7 1065.8,226.8 1074.6,229.7 1083.5,235.2 1092.3,231.9 1101.1,233.5 1110,229 1118.8,224.3 1127.7,225 1136.5,222.6 1145.3,222.4 1154.2,225.3 1163,224.4 1171.8,222.5 1180.7,223.9 1189.5,221.6 1198.4,219.2 1207.2,220 1216,220.1 1224.9,221.3 1233.7,218 1242.5,219.6 1251.4,223.1 1260.2,221.6 1269,222.7 1277.9,226.4 1286.7,227.3 1295.6,230.3 1304.4,230.6 1313.2,231.3 1322.1,231.5"/>
<polyline points="809.5,229.9 818.4,229.1 827.2,227.6 836,225.3 844.9,221.7 853.7,225.4 862.6,225.2 871.4,227.6 880.2,228.4 889.1,227.1 897.9,228.2 906.7,230.4 915.6,227.4 924.4,228.3 933.3,227.5 942.1,226.5 950.9,227.2 959.8,228.2 968.6,230.8 977.4,232.1 986.3,231.3 995.1,227.9 1003.9,226 1012.8,224.5 1021.6,226.5 1030.5,227.9 1039.3,228.9 1048.1,227.5 1057,226.8 1065.8,228.8 1074.6,229.6 1083.5,230.4 1092.3,227.2 1101.1,222.6 1110,226.3 1118.8,224.7 1127.7,221.8 1136.5,225.2 1145.3,229.8 1154.2,230.1 1163,227.8 1171.8,227.8 1180.7,225.3 1189.5,221.9 1198.4,224.9 1207.2,223.4 1216,221.8 1224.9,218.2 1233.7,216.6 1242.5,216 1251.4,218.8 1260.2,222.6 1269,223.3 1277.9,225 1286.7,223.5 1295.6,222.6 1304.4,222.5 1313.2,223.9 1322.1,223.2"/>
<polyline points="809.5,219.3 818.4,221.3 827.2,219.5 836,217.7 844.9,218.4 853.7,215.8 862.6,217.4 871.4,214.6 880.2,214 889.1,214 897.9,214 906.7,214 915.6,214 924.4,215.8 933.3,214.1 942.1,214.2 950.9,218.2 959.8,218.1 968.6,222.2 977.4,218.5 986.3,220.7 995.1,218.1 1003.9,219.5 1012.8,220.5 1021.6,222.8 1030.5,222.1 1039.3,219.6 1048.1,218 1057,218.5 1065.8,223.6 1074.6,222 1083.5,223.9 1092.3,225.4 1101.1,227.3 1110,228.6 1118.8,225.9 1127.7,227.5 1136.5,222.5 1145.3,226.8 1154.2,226.7 1163,226.4 1171.8,224.6 1180.7,223.6 1189.5,224.4 1198.4,223 1207.2,224.2 1216,223.2 1224.9,219.8 1233.7,221.9 1242.5,220.9 1251.4,223.5 1260.2,222.1 1269,218.8 1277.9,220.3 1286.7,222.3 1295.6,222.8 1304.4,221.7 1313.2,221.9 1322.1,221.8"/>
<polyline points="809.5,214 818.4,214.1 827.2,214.3 836,219 844.9,220.7 853.7,221.7 862.6,219.6 871.4,219 880.2,216.4 889.1,219.8 897.9,220.5 906.7,218.5 915.6,220.9 924.4,225.3 933.3,226.5 942.1,227.2 950.9,224.5 959.8,223.1 968.6,220.4 977.4,224.8 986.3,223.8 995.1,226.1 1003.9,221.9 1012.8,219.6 1021.6,222.2 1030.5,222 1039.3,220.4 1048.1,218.1 1057,220.9 1065.8,226.3 1074.6,226.9 1083.5,227.7 1092.3,221.3 1101.1,216.9 1110,220.4 1118.8,219.2 1127.7,220.3 1136.5,222.3 1145.3,220.8 1154.2,225.7 1163,226.4 1171.8,224.2 1180.7,225.1 1189.5,222.8 1198.4,222.5 1207.2,220.9 1216,220.5 1224.9,224.1 1233.7,227 1242.5,221.3 1251.4,220.3 1260.2,218.9 1269,218.3 1277.9,220 1286.7,220.5 1295.6,218.9 1304.4,218.2 1313.2,219.3 1322.1,221.4"/>
<polyline points="809.5,214 818.4,214.1 827.2,216.7 836,216.9 844.9,220.9 853.7,217.9 862.6,214.7 871.4,214.1 880.2,215.7 889.1,216.3 897.9,216.3 906.7,214 915.6,214.2 924.4,214 933.3,215.7 942.1,219 950.9,224.5 959.8,224.2 968.6,227.3 977.4,222.8 986.3,219.1 995.1,221.8 1003.9,217.6 1012.8,222 1021.6,220.1 1030.5,218.4 1039.3,214 1048.1,220.7 1057,221.8 1065.8,219.9 1074.6,216.2 1083.5,214 1092.3,214 1101.1,218.2 1110,219.8 1118.8,222.9 1127.7,220.1 1136.5,214.2 1145.3,219.4 1154.2,216.5 1163,216.5 1171.8,218.8 1180.7,218.7 1189.5,220.2 1198.4,223.1 1207.2,222.6 1216,224.7 1224.9,219.2 1233.7,218.2 1242.5,219.2 1251.4,217.7 1260.2,215.3 1269,220 1277.9,217.1 1286.7,217 1295.6,217.1 1304.4,218.9 1313.2,223.8 1322.1,227.4"/>
<polyline points="809.5,214 818.4,214.1 827.2,214.1 836,214.1 844.9,214.2 853.7,214.2 862.6,214.9 871.4,214.5 880.2,214 889.1,214 897.9,214 906.7,214.2 915.6,215.3 924.4,218.5 933.3,218.2 942.1,220.7 950.9,217 959.8,217.6 968.6,219.8 977.4,222.2 986.3,223.7 995.1,223.9 1003.9,220.9 1012.8,218.9 1021.6,218.4 1030.5,220.5 1039.3,217.6 1048.1,220.9 1057,223.5 1065.8,224.7 1074.6,221.1 1083.5,222.8 1092.3,221.8 1101.1,224.8 1110,226.2 1118.8,224.4 1127.7,221.9 1136.5,221 1145.3,216.7 1154.2,219.7 1163,218.5 1171.8,216.4 1180.7,217 1189.5,215.4 1198.4,215.2 1207.2,216.7 1216,215 1224.9,216 1233.7,214.5 1242.5,214.5 1251.4,214.8 1260.2,217 1269,218.6 1277.9,219.7 1286.7,217.5 1295.6,218.5 1304.4,218.3 1313.2,219.5 1322.1,220.5"/>
<polyline points="809.5,215.8 818.4,219.9 827.2,223.3 836,224.7 844.9,225.2 853.7,226.2 862.6,226.4 871.4,227.4 880.2,229.3 889.1,225.3 897.9,223.8 906.7,224.7 915.6,224.7 924.4,224.8 933.3,224.3 942.1,223 950.9,223 959.8,218.9 968.6,218.2 977.4,219.9 986.3,221.2 995.1,221.7 1003.9,223.5 1012.8,226.9 1021.6,228.2 1030.5,226.2 1039.3,223.7 1048.1,219.5 1057,225.1 1065.8,224.8 1074.6,223.9 1083.5,229 1092.3,233.5 1101.1,235.5 1110,232.7 1118.8,231.5 1127.7,232.8 1136.5,229.3 1145.3,230.9 1154.2,227 1163,225.8 1171.8,223 1180.7,221.3 1189.5,220.5 1198.4,219.6 1207.2,216.1 1216,217.3 1224.9,218.3 1233.7,219.7 1242.5,221.4 1251.4,220.5 1260.2,222.5 1269,224.9 1277.9,223.1 1286.7,222.8 1295.6,222 1304.4,221 1313.2,223.9 1322.1,226.4"/>
<polyline points="809.5,215.2 818.4,216.5 827.2,218 836,219.9 844.9,220.8 853.7,223.2 862.6,225.7 871.4,228.2 880.2,228.1 889.1,228.5 897.9,230 906.7,229.6 915.6,229.2 924.4,231.3 933.3,230.2 942.1,231.5 950.9,231.9 959.8,230.2 968.6,231.3 977.4,232.2 986.3,232.4 995.1,233.1 1003.9,232.1 1012.8,231.7 1021.6,231.6 1030.5,234.3 1039.3,234.6 1048.1,235.9 1057,234.6 1065.8,233.7 1074.6,233.7 1083.5,231.2 1092.3,233.1 1101.1,231.4 1110,234.3 1118.8,234.3 1127.7,236.5 1136.5,235.5 1145.3,235.5 1154.2,234.5 1163,232.2 1171.8,229.8 1180.7,228.5 1189.5,227.5 1198.4,229.1 1207.2,228 1216,229.9 1224.9,230.3 1233.7,228.8 1242.5,229.4 1251.4,229.3 1260.2,229 1269,228.9 1277.9,230.4 1286.7,230.6 1295.6,230.8 1304.4,230.7 1313.2,230.9 1322.1,231.3"/>
<polyline points="809.5,220.5 818.4,217.4 827.2,220 836,219.9 844.9,222.1 853.7,221.5 862.6,218.3 871.4,219.3 880.2,217.3 889.1,218.1 897.9,219.7 906.7,218.9 915.6,217.1 924.4,218.3 933.3,218 942.1,216.7 950.9,214.5 959.8,214.1 968.6,214.2 977.4,214.2 986.3,214.2 995.1,214.1 1003.9,214.1 1012.8,214 1021.6,214 1030.5,214 1039.3,214 1048.1,214 1057,214 1065.8,215.9 1074.6,215.3 1083.5,214.7 1092.3,215.2 1101.1,218.7 1110,216.6 1118.8,217.7 1127.7,219.5 1136.5,217.9 1145.3,221.5 1154.2,221.4 1163,221.8 1171.8,219.9 1180.7,222.7 1189.5,219.8 1198.4,216.5 1207.2,216.3 1216,216.3 1224.9,218.5 1233.7,219.9 1242.5,219.8 1251.4,221.3 1260.2,221.9 1269,220.2 1277.9,222.8 1286.7,222.4 1295.6,222.2 1304.4,222.7 1313.2,223.9 1322.1,223.5"/>
<polyline points="809.5,219 818.4,219.4 827.2,220.9 836,219.5 844.9,218.5 853.7,219.8 862.6,221.3 871.4,221.2 880.2,219.5 889.1,218.2 897.9,220.7 906.7,223.2 915.6,223.4 924.4,222.4 933.3,223.3 942.1,223.1 950.9,226.4 959.8,225.4 968.6,223.6 977.4,226.4 986.3,226.8 995.1,225.3 1003.9,220.2 1012.8,218.6 1021.6,220 1030.5,216.8 1039.3,215.4 1048.1,217 1057,221.6 1065.8,223.8 1074.6,227 1083.5,229.6 1092.3,224.8 1101.1,226 1110,224.5 1118.8,224 1127.7,226.6 1136.5,225.3 1145.3,223.8 1154.2,222.4 1163,220.3 1171.8,223 1180.7,221.6 1189.5,219.8 1198.4,219.3 1207.2,221 1216,222.1 1224.9,218.4 1233.7,221.2 1242.5,221.5 1251.4,221.9 1260.2,224.8 1269,225.8 1277.9,226.3 1286.7,227.4 1295.6,228.8 1304.4,228.6 1313.2,227.1 1322.1,227.6"/>
<polyline points="809.5,231.5 818.4,230.1 827.2,229.2 836,227.7 844.9,228.4 853.7,226.3 862.6,222.3 871.4,221.7 880.2,221.1 889.1,222.7 897.9,223.2 906.7,223 915.6,221.6 924.4,223.6 933.3,225.4 942.1,224.1 950.9,224.2 959.8,222.7 968.6,223.4 977.4,222.2 986.3,222.2 995.1,223.2 1003.9,222.5 1012.8,222 1021.6,219.1 1030.5,217.9 1039.3,220 1048.1,220.9 1057,221.8 1065.8,224.2 1074.6,223.1 1083.5,223.2 1092.3,225.7 1101.1,225.5 1110,224.8 1118.8,220.6 1127.7,222 1136.5,222.3 1145.3,220.7 1154.2,219.6 1163,218.2 1171.8,221.3 1180.7,223.6 1189.5,225 1198.4,225.5 1207.2,224.8 1216,221.4 1224.9,220.2 1233.7,222 1242.5,223.2 1251.4,223.1 1260.2,224.9 1269,222.9 1277.9,221.7 1286.7,222 1295.6,221.8 1304.4,223.3 1313.2,225.7 1322.1,226.9"/>
<polyline points="809.5,220.9 818.4,221 827.2,221.3 836,218.8 844.9,218.7 853.7,217.7 862.6,219.4 871.4,219.1 880.2,217.8 889.1,216.7 897.9,217.9 906.7,220.3 915.6,219.8 924.4,220.3 933.3,219.7 942.1,219.1 950.9,218.9 959.8,218.1 968.6,220.5 977.4,221.4 986.3,219 995.1,218.8 1003.9,218.2 1012.8,217.9 1021.6,214.8 1030.5,215.7 1039.3,214.5 1048.1,214.6 1057,214 1065.8,214 1074.6,214 1083.5,214 1092.3,214 1101.1,215.4 1110,215 1118.8,216.2 1127.7,217.5 1136.5,216.3 1145.3,215.8 1154.2,218.8 1163,219.6 1171.8,220 1180.7,222.5 1189.5,221.3 1198.4,217.5 1207.2,218.1 1216,220.7 1224.9,221.5 1233.7,219.5 1242.5,221.3 1251.4,222 1260.2,224.1 1269,224.5 1277.9,223 1286.7,221.7 1295.6,221.8 1304.4,222.1 1313.2,224.3 1322.1,223.4"/>
<polyline points="809.5,228.5 818.4,227 827.2,224.6 836,223.7 844.9,222.9 853.7,222 862.6,222.7 871.4,221.3 880.2,220.3 889.1,221 897.9,220.3 906.7,219.2 915.6,218.9 924.4,219.7 933.3,220.4 942.1,219.1 950.9,217.7 959.8,216.5 968.6,216.5 977.4,217.1 986.3,215 995.1,215.1 1003.9,214.2 1012.8,214 1021.6,214 1030.5,214 1039.3,214 1048.1,214 1057,214.1 1065.8,215.1 1074.6,214 1083.5,214.9 1092.3,216.6 1101.1,219.6 1110,220.8 1118.8,220.2 1127.7,219.7 1136.5,219.1 1145.3,220.8 1154.2,219.3 1163,218.1 1171.8,218.4 1180.7,217.6 1189.5,217 1198.4,217.6 1207.2,216.7 1216,217.1 1224.9,218 1233.7,217 1242.5,217.5 1251.4,219.1 1260.2,218.5 1269,217.8 1277.9,217.9 1286.7,219.3 1295.6,221.3 1304.4,221.2 1313.2,222.8 1322.1,224.1"/>
<polyline points="809.5,222.4 818.4,218.1 827.2,218.9 836,216.7 844.9,217.1 853.7,216.9 862.6,215.2 871.4,216.1 880.2,219.5 889.1,218.1 897.9,222.1 906.7,219.2 915.6,221.6 924.4,223.2 933.3,221.5 942.1,219.8 950.9,218.6 959.8,221.4 968.6,224.7 977.4,219.6 986.3,215.2 995.1,215.8 1003.9,216.4 1012.8,220.7 1021.6,216.1 1030.5,217.4 1039.3,220.9 1048.1,221.5 1057,219.6 1065.8,223.7 1074.6,222.4 1083.5,220.2 1092.3,216.5 1101.1,217.9 1110,217.4 1118.8,220.8 1127.7,221.7 1136.5,221.3 1145.3,221.2 1154.2,222.4 1163,224.3 1171.8,221.1 1180.7,219.5 1189.5,220.9 1198.4,223.7 1207.2,226.5 1216,224.8 1224.9,226 1233.7,226.4 1242.5,223.7 1251.4,219.7 1260.2,216.3 1269,215.9 1277.9,219 1286.7,219 1295.6,219.9 1304.4,220.9 1313.2,221.3 1322.1,222.4"/>
<polyline points="809.5,228.6 818.4,231.5 827.2,231.5 836,226.6 844.9,230.2 853.7,227 862.6,228.7 871.4,228.2 880.2,230.2 889.1,228.8 897.9,232.1 906.7,228.1 915.6,231.3 924.4,226.8 933.3,229 942.1,231 950.9,231.4 959.8,231.7 968.6,229 977.4,231.6 986.3,232.1 995.1,230.5 1003.9,226.2 1012.8,222.1 1021.6,218.7 1030.5,221.6 1039.3,223.9 1048.1,224.5 1057,228.2 1065.8,227.2 1074.6,225.7 1083.5,223.7 1092.3,224.5 1101.1,221.8 1110,227.5 1118.8,230.5 1127.7,229.3 1136.5,229.8 1145.3,232 1154.2,234.5 1163,229.3 1171.8,226.4 1180.7,229 1189.5,227.9 1198.4,226.8 1207.2,228.3 1216,228.4 1224.9,228.2 1233.7,224.9 1242.5,223.5 1251.4,222 1260.2,220.4 1269,223.9 1277.9,224.7 1286.7,225.9 1295.6,226.6 1304.4,230.3 1313.2,231.3 1322.1,229.8"/>
<polyline points="809.5,214 818.4,214.1 827.2,215.3 836,217.1 844.9,219.4 853.7,220.5 862.6,222 871.4,220.3 880.2,221 889.1,223.7 897.9,223.6 906.7,226 915.6,225.6 924.4,226.8 933.3,225.4 942.1,227.8 950.9,228 959.8,227.7 968.6,227.1 977.4,226.9 986.3,226.5 995.1,227.6 1003.9,227.6 1012.8,225.9 1021.6,227 1030.5,224.6 1039.3,223.7 1048.1,226.7 1057,226.8 1065.8,226.1 1074.6,225.2 1083.5,226.2 1092.3,227.9 1101.1,231 1110,229.8 1118.8,229.7 1127.7,232 1136.5,227.7 1145.3,228 1154.2,226.4 1163,227.3 1171.8,228.6 1180.7,229.4 1189.5,227.2 1198.4,223.8 1207.2,222.6 1216,223.8 1224.9,225 1233.7,224.7 1242.5,223.7 1251.4,225 1260.2,224.8 1269,225.9 1277.9,224.4 1286.7,223 1295.6,222.3 1304.4,223 1313.2,223.5 1322.1,224.5"/>
<polyline points="809.5,230.1 818.4,224.6 827.2,225 836,225.7 844.9,222.9 853.7,220.3 862.6,216.7 871.4,218.5 880.2,217.2 889.1,216.6 897.9,217.2 906.7,219.6 915.6,221.3 924.4,222 933.3,220.4 942.1,221.5 950.9,224 959.8,222.6 968.6,218.1 977.4,217.7 986.3,215.2 995.1,218.8 1003.9,220.6 1012.8,219.3 1021.6,217.5 1030.5,219 1039.3,218.2 1048.1,220.3 1057,221.1 1065.8,220.9 1074.6,222.1 1083.5,224.6 1092.3,223 1101.1,225.4 1110,224.1 1118.8,228.4 1127.7,230.5 1136.5,223.7 1145.3,222.2 1154.2,223.2 1163,218.1 1171.8,215.7 1180.7,220.4 1189.5,218.5 1198.4,216.4 1207.2,216.3 1216,217.6 1224.9,215.4 1233.7,214.5 1242.5,214.6 1251.4,215.4 1260.2,215.4 1269,216.9 1277.9,215.8 1286.7,216.9 1295.6,220.2 1304.4,221.8 1313.2,223.7 1322.1,223.2"/>
<polyline points="809.5,219.4 818.4,222 827.2,220.7 836,222.3 844.9,221.1 853.7,221.4 862.6,218.6 871.4,222.3 880.2,220.9 889.1,222.7 897.9,220.7 906.7,219.3 915.6,220.6 924.4,222.4 933.3,223.3 942.1,223.6 950.9,224.4 959.8,225.4 968.6,225.4 977.4,226.7 986.3,224.4 995.1,225.5 1003.9,221.7 1012.8,221 1021.6,224 1030.5,224.8 1039.3,224.2 1048.1,222.4 1057,222.7 1065.8,227.6 1074.6,224.8 1083.5,226.8 1092.3,223.3 1101.1,224.1 1110,228.9 1118.8,229.4 1127.7,230.8 1136.5,233.7 1145.3,230.8 1154.2,231.4 1163,232.7 1171.8,230.5 1180.7,229.7 1189.5,230.3 1198.4,231.2 1207.2,228.4 1216,226.4 1224.9,225.1 1233.7,226.3 1242.5,225.9 1251.4,224.5 1260.2,225.9 1269,226.4 1277.9,227.6 1286.7,228.3 1295.6,229.9 1304.4,231.1 1313.2,228.5 1322.1,228.5"/>
<polyline points="809.5,229.6 818.4,231.1 827.2,230 836,231.4 844.9,230.6 853.7,228.5 862.6,230 871.4,229.4 880.2,230 889.1,230.1 897.9,230.6 906.7,226.9 915.6,227.6 924.4,228.4 933.3,226.3 942.1,226.9 950.9,228.8 959.8,226 968.6,229.6 977.4,228.2 986.3,228 995.1,226.3 1003.9,226.2 1012.8,230 1021.6,228.1 1030.5,227.8 1039.3,227.7 1048.1,227.3 1057,223.9 1065.8,226.5 1074.6,228.1 1083.5,230.3 1092.3,228.3 1101.1,226.9 1110,226.6 1118.8,226.1 1127.7,226.1 1136.5,225.1 1145.3,225.3 1154.2,227.4 1163,224.7 1171.8,225.6 1180.7,222.6 1189.5,224.5 1198.4,225.8 1207.2,225.9 1216,226.4 1224.9,227.7 1233.7,229.2 1242.5,229.6 1251.4,228.5 1260.2,225.9 1269,224.6 1277.9,223.5 1286.7,223 1295.6,222.7 1304.4,222.1 1313.2,222.4 1322.1,223.2"/>
<polyline points="809.5,231.5 818.4,231.5 827.2,231.5 836,231.5 844.9,231.5 853.7,229.9 862.6,230.3 871.4,227.2 880.2,230.1 889.1,228.4 897.9,227.1 906.7,224.5 915.6,225.6 924.4,226.3 933.3,227.1 942.1,228.2 950.9,225.4 959.8,222.5 968.6,223.2 977.4,223.3 986.3,224.9 995.1,228.6 1003.9,225.7 1012.8,228.2 1021.6,227.5 1030.5,225.4 1039.3,224.8 1048.1,228.3 1057,229.3 1065.8,227.1 1074.6,224.2 1083.5,225.7 1092.3,227.2 1101.1,228.2 1110,229 1118.8,227.9 1127.7,225.8 1136.5,226.3 1145.3,227.4 1154.2,227.1 1163,226.8 1171.8,227.7 1180.7,228.5 1189.5,227.8 1198.4,226.7 1207.2,228 1216,228.7 1224.9,225.5 1233.7,223.5 1242.5,223.9 1251.4,224.9 1260.2,224.8 1269,226.6 1277.9,226.4 1286.7,228.7 1295.6,227.3 1304.4,227 1313.2,226.7 1322.1,226"/>
<polyline points="809.5,231.5 818.4,231.5 827.2,229.7 836,227.6 844.9,226 853.7,226.4 862.6,226.2 871.4,225.1 880.2,225 889.1,225.2 897.9,225.3 906.7,223.3 915.6,223.2 924.4,222.2 933.3,221.2 942.1,223 950.9,223 959.8,221.4 968.6,221.7 977.4,222 986.3,221.9 995.1,223 1003.9,225.4 1012.8,226.4 1021.6,225.5 1030.5,224.7 1039.3,225.2 1048.1,226.7 1057,228.3 1065.8,228 1074.6,230.4 1083.5,229.3 1092.3,227 1101.1,225.2 1110,226.5 1118.8,225 1127.7,224.6 1136.5,223.4 1145.3,223.8 1154.2,222.1 1163,220.7 1171.8,219.2 1180.7,218.9 1189.5,217.5 1198.4,219.3 1207.2,221 1216,221.5 1224.9,219.8 1233.7,220.6 1242.5,222 1251.4,221.2 1260.2,221.6 1269,219.6 1277.9,219.4 1286.7,220.2 1295.6,220.3 1304.4,221.1 1313.2,223 1322.1,223.1"/>
<polyline points="809.5,225.9 818.4,225.3 827.2,223.1 836,223.3 844.9,224.8 853.7,222.9 862.6,223.6 871.4,221 880.2,220.9 889.1,220.6 897.9,221.6 906.7,224 915.6,221.1 924.4,218.9 933.3,216.8 942.1,217.2 950.9,217.3 959.8,217.3 968.6,215.9 977.4,217.6 986.3,220 995.1,217.8 1003.9,220.4 1012.8,220.2 1021.6,217.8 1030.5,216.7 1039.3,216.5 1048.1,219.3 1057,222.3 1065.8,222.8 1074.6,224.1 1083.5,223.2 1092.3,221.9 1101.1,221.1 1110,219.2 1118.8,216.2 1127.7,214.1 1136.5,214.2 1145.3,214.2 1154.2,217 1163,214.3 1171.8,214.4 1180.7,214.4 1189.5,214.5 1198.4,214.5 1207.2,214.8 1216,215.8 1224.9,217.9 1233.7,219.4 1242.5,217.4 1251.4,217.2 1260.2,215.7 1269,216.7 1277.9,217 1286.7,217.9 1295.6,221 1304.4,219.1 1313.2,221.2 1322.1,223.7"/>
<polyline points="809.5,214 818.4,214.1 827.2,214.1 836,214.6 844.9,217.9 853.7,219 862.6,221.5 871.4,218.9 880.2,220.3 889.1,221.9 897.9,223.1 906.7,224.2 915.6,222.8 924.4,223.6 933.3,223.3 942.1,225.6 950.9,225.1 959.8,222.8 968.6,222.3 977.4,223.8 986.3,223.7 995.1,224.5 1003.9,225.8 1012.8,223 1021.6,220.5 1030.5,222 1039.3,221.5 1048.1,222.3 1057,223.1 1065.8,224.9 1074.6,225.6 1083.5,222.8 1092.3,222.6 1101.1,224.4 1110,222.1 1118.8,221.8 1127.7,223.8 1136.5,224.5 1145.3,224.2 1154.2,225.4 1163,223.2 1171.8,224.3 1180.7,221.3 1189.5,219.9 1198.4,218 1207.2,218.4 1216,219.9 1224.9,220.6 1233.7,222.4 1242.5,223.1 1251.4,224.2 1260.2,223.3 1269,224.2 1277.9,224.6 1286.7,225 1295.6,224.7 1304.4,225.1 1313.2,224.7 1322.1,224.6"/>
<polyline points="809.5,226.2 818.4,229.8 827.2,225.8 836,224.4 844.9,221.8 853.7,218.1 862.6,220 871.4,216.7 880.2,219.4 889.1,220.8 897.9,220.8 906.7,217.7 915.6,217.6 924.4,217.6 933.3,220.1 942.1,218.2 950.9,219.2 959.8,220.2 968.6,222.2 977.4,219.8 986.3,224.4 995.1,223.8 1003.9,223.6 1012.8,223.5 1021.6,222.8 1030.5,222.5 1039.3,222.4 1048.1,226.5 1057,228 1065.8,229.3 1074.6,227 1083.5,231 1092.3,234.1 1101.1,234.1 1110,228.9 1118.8,231.6 1127.7,226.8 1136.5,225.3 1145.3,222.4 1154.2,220.2 1163,218.8 1171.8,217.8 1180.7,222.1 1189.5,219.5 1198.4,220.3 1207.2,216.6 1216,221.2 1224.9,223.3 1233.7,222.3 1242.5,225.1 1251.4,225.8 1260.2,226.1 1269,224.7 1277.9,223.6 1286.7,220.9 1295.6,221.2 1304.4,221.5 1313.2,221.8 1322.1,225.1"/>
<polyline points="809.5,219.7 818.4,221.8 827.2,218.7 836,221.6 844.9,222.7 853.7,220 862.6,220.1 871.4,221.3 880.2,220.4 889.1,219.5 897.9,219.9 906.7,219.2 915.6,221.1 924.4,220.9 933.3,222.1 942.1,219 950.9,217.7 959.8,219.6 968.6,223.9 977.4,222.1 986.3,224.2 995.1,220.1 1003.9,221 1012.8,218.3 1021.6,217.6 1030.5,216.4 1039.3,219.8 1048.1,222 1057,221.8 1065.8,225.9 1074.6,227.9 1083.5,227.1 1092.3,225.9 1101.1,224.2 1110,219.8 1118.8,222.1 1127.7,218 1136.5,217.8 1145.3,218.4 1154.2,218.9 1163,223 1171.8,225.4 1180.7,226.8 1189.5,227.1 1198.4,227.4 1207.2,225.5 1216,226.1 1224.9,224.1 1233.7,225.2 1242.5,225.9 1251.4,226.5 1260.2,224.9 1269,225.7 1277.9,227.7 1286.7,227.4 1295.6,226.8 1304.4,226 1313.2,224.5 1322.1,226.3"/>
<polyline points="809.5,214 818.4,214.1 827.2,214.1 836,214.1 844.9,214.2 853.7,214.2 862.6,214.1 871.4,214.1 880.2,214 889.1,215 897.9,214.7 906.7,216.2 915.6,217.2 924.4,217.7 933.3,219.9 942.1,218.7 950.9,218.1 959.8,218.7 968.6,219.9 977.4,220.2 986.3,218.8 995.1,218.2 1003.9,217.2 1012.8,218.3 1021.6,216.9 1030.5,216.3 1039.3,216.6 1048.1,218.3 1057,217.6 1065.8,216.8 1074.6,216.9 1083.5,217.1 1092.3,218.1 1101.1,218.5 1110,217.2 1118.8,217.2 1127.7,219.3 1136.5,217.9 1145.3,218.2 1154.2,218.6 1163,219.2 1171.8,219.6 1180.7,219.8 1189.5,219.3 1198.4,219 1207.2,219 1216,217.1 1224.9,218.7 1233.7,217.3 1242.5,217.2 1251.4,218.1 1260.2,217.7 1269,217.9 1277.9,219.5 1286.7,218.8 1295.6,219.8 1304.4,220 1313.2,221.3 1322.1,222.9"/>
<polyline points="809.5,231.5 818.4,231.3 827.2,231 836,228 844.9,223.7 853.7,223.1 862.6,225.4 871.4,224.7 880.2,224.7 889.1,225.6 897.9,226.1 906.7,224.6 915.6,228.1 924.4,224.5 933.3,223.7 942.1,222.7 950.9,225.2 959.8,227.9 968.6,230.3 977.4,228 986.3,227.4 995.1,227.2 1003.9,227.8 1012.8,224.4 1021.6,224.6 1030.5,223.3 1039.3,221.9 1048.1,221.7 1057,221.6 1065.8,220.6 1074.6,218.6 1083.5,223 1092.3,222.2 1101.1,226.3 1110,228.1 1118.8,228.7 1127.7,232.9 1136.5,230.2 1145.3,226.9 1154.2,228 1163,229.7 1171.8,227.5 1180.7,229.1 1189.5,226.1 1198.4,227.9 1207.2,228 1216,229.3 1224.9,225.2 1233.7,227.6 1242.5,226.3 1251.4,224.4 1260.2,221.2 1269,223.4 1277.9,224.6 1286.7,221.6 1295.6,223.4 1304.4,226 1313.2,225.5 1322.1,226.6"/>
<polyline points="809.5,222.9 818.4,226.1 827.2,225.2 836,226 844.9,230.6 853.7,227.5 862.6,227.9 871.4,231.8 880.2,231.9 889.1,232 897.9,228.4 906.7,225.7 915.6,224.2 924.4,221.2 933.3,223.9 942.1,227.7 950.9,229 959.8,232.5 968.6,232.7 977.4,230.7 986.3,227 995.1,221.5 1003.9,225.2 1012.8,231.3 1021.6,229.1 1030.5,232.3 1039.3,231.9 1048.1,229.5 1057,232.8 1065.8,231.3 1074.6,230.5 1083.5,227.8 1092.3,229.2 1101.1,234.6 1110,227.8 1118.8,236.1 1127.7,236.5 1136.5,236 1145.3,232.7 1154.2,230.7 1163,231.5 1171.8,233.6 1180.7,229.1 1189.5,227.2 1198.4,223.4 1207.2,225.6 1216,226.5 1224.9,222.2 1233.7,225.5 1242.5,223.8 1251.4,228.1 1260.2,229.1 1269,230.6 1277.9,230.1 1286.7,230.6 1295.6,230.2 1304.4,228.4 1313.2,229.4 1322.1,231.5"/>
<polyline points="809.5,224.2 818.4,224.7 827.2,226.6 836,223.3 844.9,225.7 853.7,221.3 862.6,220.5 871.4,222.2 880.2,221.5 889.1,218.6 897.9,219.8 906.7,220.4 915.6,223.9 924.4,221.7 933.3,219.3 942.1,216.9 950.9,214.1 959.8,214.1 968.6,216.4 977.4,219.2 986.3,219.1 995.1,221.3 1003.9,220.5 1012.8,221.1 1021.6,220 1030.5,219.7 1039.3,220.9 1048.1,219.8 1057,221 1065.8,220.7 1074.6,220.4 1083.5,224.6 1092.3,226.8 1101.1,225.7 1110,222.7 1118.8,219.1 1127.7,222.6 1136.5,221.1 1145.3,220 1154.2,222.6 1163,224.9 1171.8,225.6 1180.7,228.1 1189.5,224.5 1198.4,222.7 1207.2,224.9 1216,226.1 1224.9,225.8 1233.7,224.2 1242.5,225.4 1251.4,228.6 1260.2,225.4 1269,227.1 1277.9,225 1286.7,223.3 1295.6,226.6 1304.4,226.1 1313.2,224.5 1322.1,226.4"/>
<polyline points="809.5,214 818.4,214.1 827.2,214.1 836,214.1 844.9,214.2 853.7,215.7 862.6,216.8 871.4,215.4 880.2,218.2 889.1,217.3 897.9,219.2 906.7,220.1 915.6,217.2 924.4,217.2 933.3,219.4 942.1,220 950.9,219.2 959.8,218.3 968.6,217.7 977.4,218.7 986.3,218.6 995.1,220.4 1003.9,219.8 1012.8,222.7 1021.6,219.6 1030.5,219.2 1039.3,218.8 1048.1,219.5 1057,216.8 1065.8,218.1 1074.6,216.2 1083.5,218.4 1092.3,217.4 1101.1,216.2 1110,220.4 1118.8,218.1 1127.7,222.1 1136.5,221.7 1145.3,220 1154.2,218.8 1163,218.5 1171.8,220.3 1180.7,218.1 1189.5,219 1198.4,220.5 1207.2,218.5 1216,219.6 1224.9,219 1233.7,217.6 1242.5,217.4 1251.4,220.9 1260.2,220.9 1269,219.7 1277.9,219.5 1286.7,222.7 1295.6,222.7 1304.4,222.5 1313.2,222.4 1322.1,223.3"/>
<polyline points="809.5,230.5 818.4,226.4 827.2,223.6 836,221.5 844.9,222.1 853.7,221.4 862.6,221.2 871.4,218.1 880.2,218.2 889.1,216.4 897.9,218.7 906.7,217.5 915.6,217.9 924.4,216.4 933.3,219 942.1,218.6 950.9,221.6 959.8,220.2 968.6,220.5 977.4,219.7 986.3,219.8 995.1,218.4 1003.9,217 1012.8,215.1 1021.6,217.9 1030.5,218.3 1039.3,219.4 1048.1,222 1057,222 1065.8,220.8 1074.6,217.8 1083.5,217.4 1092.3,215.2 1101.1,218.5 1110,219.3 1118.8,218.6 1127.7,215.3 1136.5,214.7 1145.3,216.2 1154.2,221 1163,218.3 1171.8,220.5 1180.7,218.3 1189.5,219.2 1198.4,218.9 1207.2,220.7 1216,220.8 1224.9,217.9 1233.7,217.7 1242.5,215.1 1251.4,214.8 1260.2,215.1 1269,215.7 1277.9,215.7 1286.7,216 1295.6,217.1 1304.4,218.2 1313.2,220.5 1322.1,223.3"/>
<polyline points="809.5,231.5 818.4,231.5 827.2,231.5 836,231.5 844.9,231.4 853.7,228.8 862.6,227.1 871.4,225.4 880.2,226.8 889.1,224.1 897.9,221.5 906.7,221 915.6,221 924.4,224.5 933.3,226.3 942.1,228 950.9,226.4 959.8,228 968.6,229.7 977.4,230 986.3,229.4 995.1,229.2 1003.9,226.7 1012.8,228.7 1021.6,227.6 1030.5,226.3 1039.3,228.2 1048.1,226.2 1057,227.5 1065.8,231 1074.6,230.7 1083.5,233 1092.3,230.1 1101.1,228.5 1110,232.3 1118.8,232.1 1127.7,235 1136.5,232.8 1145.3,233.6 1154.2,232.4 1163,230.3 1171.8,229.3 1180.7,226.1 1189.5,226.2 1198.4,224.5 1207.2,225.2 1216,224.7 1224.9,222.5 1233.7,222.3 1242.5,224.7 1251.4,225.1 1260.2,224.4 1269,224.5 1277.9,223.5 1286.7,221.8 1295.6,222.5 1304.4,222.9 1313.2,224.3 1322.1,226.1"/>
<polyline points="809.5,214 818.4,217.5 827.2,218.6 836,217.5 844.9,218.8 853.7,220 862.6,218.5 871.4,218.4 880.2,219.2 889.1,221.1 897.9,219.5 906.7,220.3 915.6,222 924.4,223.8 933.3,224.4 942.1,224.5 950.9,224.9 959.8,225.3 968.6,224 977.4,223.2 986.3,221.8 995.1,221.1 1003.9,222.5 1012.8,222.8 1021.6,224.4 1030.5,226.4 1039.3,226.7 1048.1,227 1057,228.9 1065.8,226.9 1074.6,228.9 1083.5,226.8 1092.3,228.2 1101.1,227.5 1110,228.6 1118.8,228 1127.7,230.5 1136.5,229.5 1145.3,230.3 1154.2,230.9 1163,229.1 1171.8,229 1180.7,229.8 1189.5,228.1 1198.4,226.6 1207.2,223.9 1216,224.8 1224.9,225.4 1233.7,226 1242.5,225.1 1251.4,226.1 1260.2,225.2 1269,225.1 1277.9,227.2 1286.7,228.7 1295.6,228.8 1304.4,228.9 1313.2,230 1322.1,230.5"/>
<polyline points="809.5,214 818.4,214.1 827.2,214.1 836,214.1 844.9,214.2 853.7,214.2 862.6,214.1 871.4,214.1 880.2,214 889.1,214 897.9,214 906.7,214 915.6,214 924.4,214 933.3,214 942.1,214 950.9,214.4 959.8,215.5 968.6,214.6 977.4,215.2 986.3,217 995.1,217.6 1003.9,217.9 1012.8,217.1 1021.6,217.3 1030.5,215.1 1039.3,216 1048.1,215.3 1057,217.2 1065.8,217.8 1074.6,220.7 1083.5,221.4 1092.3,221.7 1101.1,221.6 1110,220.7 1118.8,220.5 1127.7,221.5 1136.5,221.5 1145.3,222 1154.2,222.9 1163,222.4 1171.8,220 1180.7,220.4 1189.5,220.2 1198.4,219.8 1207.2,218.3 1216,219 1224.9,217.4 1233.7,216 1242.5,217.8 1251.4,217.7 1260.2,217 1269,219 1277.9,220.1 1286.7,220.8 1295.6,220.4 1304.4,221.4 1313.2,222.7 1322.1,223.6"/>
<polyline points="809.5,214 818.4,214.1 827.2,217.2 836,222.2 844.9,223.6 853.7,224.7 862.6,226.2 871.4,226.2 880.2,226.2 889.1,222.8 897.9,223.4 906.7,222.7 915.6,228.1 924.4,229.8 933.3,227.1 942.1,226.7 950.9,226.3 959.8,223.4 968.6,223.5 977.4,221.2 986.3,226.1 995.1,229.7 1003.9,227.3 1012.8,223 1021.6,225 1030.5,227.4 1039.3,224.1 1048.1,225.7 1057,232.5 1065.8,227.2 1074.6,226.7 1083.5,224.5 1092.3,227.7 1101.1,229.8 1110,228.4 1118.8,228.4 1127.7,231.6 1136.5,228 1145.3,231.5 1154.2,228.7 1163,223.1 1171.8,226.6 1180.7,230.4 1189.5,232.2 1198.4,231.5 1207.2,229.3 1216,225.9 1224.9,226.4 1233.7,223.1 1242.5,226.9 1251.4,223.5 1260.2,225.9 1269,225.2 1277.9,223 1286.7,221.7 1295.6,223.5 1304.4,226.7 1313.2,227.5 1322.1,229.2"/>
<polyline points="809.5,214 818.4,215.5 827.2,214.1 836,214.5 844.9,215.9 853.7,218.9 862.6,222.3 871.4,224.4 880.2,220.3 889.1,219.5 897.9,219.7 906.7,221.4 915.6,222.6 924.4,217.9 933.3,217.4 942.1,216.5 950.9,214.1 959.8,215.1 968.6,214.2 977.4,214.2 986.3,214.2 995.1,217.4 1003.9,217 1012.8,218.4 1021.6,219.1 1030.5,222.1 1039.3,220.7 1048.1,222.3 1057,222.7 1065.8,220.4 1074.6,219.8 1083.5,222.5 1092.3,226.5 1101.1,223.5 1110,223.2 1118.8,220.7 1127.7,218.9 1136.5,220.2 1145.3,219.6 1154.2,223.1 1163,223.2 1171.8,220.3 1180.7,222.4 1189.5,219.2 1198.4,221.4 1207.2,222.8 1216,223.4 1224.9,222.6 1233.7,223.8 1242.5,222.5 1251.4,223.8 1260.2,225.6 1269,224.4 1277.9,223.8 1286.7,220.7 1295.6,222.1 1304.4,222 1313.2,222.5 1322.1,221.8"/>
<polyline points="809.5,231.5 818.4,231.5 827.2,231.5 836,228.8 844.9,229.9 853.7,230.8 862.6,231.6 871.4,228.6 880.2,228.3 889.1,227 897.9,228 906.7,226.9 915.6,227.6 924.4,225.7 933.3,226.7 942.1,227.4 950.9,230.7 959.8,229.8 968.6,231.9 977.4,233 986.3,228.4 995.1,230.5 1003.9,228.4 1012.8,229.2 1021.6,227.3 1030.5,228.1 1039.3,226.9 1048.1,227.3 1057,227.8 1065.8,231.8 1074.6,228.7 1083.5,232.1 1092.3,236.6 1101.1,233.5 1110,234.6 1118.8,237 1127.7,236.5 1136.5,235.9 1145.3,235.5 1154.2,231.2 1163,231.8 1171.8,226.7 1180.7,223 1189.5,225.5 1198.4,223.8 1207.2,224.6 1216,221.9 1224.9,222.7 1233.7,225.3 1242.5,225.2 1251.4,223.4 1260.2,223.1 1269,224.1 1277.9,225.3 1286.7,226.7 1295.6,229 1304.4,231.1 1313.2,231.3 1322.1,230.6"/>
<polyline points="809.5,217.7 818.4,217.9 827.2,217.4 836,221.9 844.9,221.7 853.7,218.4 862.6,220.8 871.4,219.8 880.2,219.2 889.1,223 897.9,223.3 906.7,220.2 915.6,221.5 924.4,223.6 933.3,223.7 942.1,226.2 950.9,226.8 959.8,226.4 968.6,225.1 977.4,223.4 986.3,222.3 995.1,222.5 1003.9,224.7 1012.8,227.5 1021.6,230.1 1030.5,229.3 1039.3,227.2 1048.1,227.2 1057,232.2 1065.8,234 1074.6,235.5 1083.5,234.5 1092.3,230.5 1101.1,227.5 1110,224.4 1118.8,228.6 1127.7,225.6 1136.5,225.9 1145.3,224.4 1154.2,224.4 1163,225.4 1171.8,224.1 1180.7,224 1189.5,220.3 1198.4,221.4 1207.2,219.7 1216,219.6 1224.9,223.4 1233.7,222.1 1242.5,220.8 1251.4,220.2 1260.2,219.9 1269,217.2 1277.9,216.5 1286.7,220.6 1295.6,221.9 1304.4,223.6 1313.2,224.4 1322.1,225.7"/>
<polyline points="809.5,226.7 818.4,230.4 827.2,227.2 836,226.8 844.9,223.3 853.7,223 862.6,222.9 871.4,226.9 880.2,227.3 889.1,231.2 897.9,229.1 906.7,227.8 915.6,223.6 924.4,222.8 933.3,224.6 942.1,221.4 950.9,222.9 959.8,227 968.6,225.4 977.4,222.2 986.3,224.8 995.1,221.3 1003.9,218.9 1012.8,220.7 1021.6,221.7 1030.5,221.7 1039.3,221.7 1048.1,224.5 1057,229 1065.8,227.9 1074.6,226.1 1083.5,229.2 1092.3,232.3 1101.1,229.1 1110,226.8 1118.8,228.8 1127.7,229.2 1136.5,230.2 1145.3,232.9 1154.2,228.6 1163,225 1171.8,225.8 1180.7,228.4 1189.5,226.8 1198.4,229 1207.2,230.7 1216,229.5 1224.9,227.4 1233.7,224.4 1242.5,224.4 1251.4,225.8 1260.2,224.3 1269,224.1 1277.9,227 1286.7,228.2 1295.6,229.2 1304.4,229.1 1313.2,229.7 1322.1,231.2"/>
<polyline points="809.5,231.5 818.4,231.5 827.2,230.3 836,229.9 844.9,228.1 853.7,225.4 862.6,224.2 871.4,221.1 880.2,220.8 889.1,221.4 897.9,221.7 906.7,224 915.6,221.2 924.4,221 933.3,222.7 942.1,221.6 950.9,219.8 959.8,220.5 968.6,218.7 977.4,216.7 986.3,219.1 995.1,217.3 1003.9,217.4 1012.8,218.8 1021.6,216 1030.5,217.2 1039.3,218 1048.1,219.4 1057,222.4 1065.8,223 1074.6,221.3 1083.5,223.4 1092.3,220.5 1101.1,218.4 1110,219.5 1118.8,222.9 1127.7,220.8 1136.5,221.4 1145.3,221.1 1154.2,219.4 1163,219.8 1171.8,222.8 1180.7,225.7 1189.5,222.8 1198.4,221.7 1207.2,220.3 1216,219.5 1224.9,219.6 1233.7,220.7 1242.5,222.2 1251.4,223.6 1260.2,221.4 1269,220.6 1277.9,222 1286.7,222.2 1295.6,222.4 1304.4,221.5 1313.2,221.5 1322.1,222.2"/>
<polyline points="809.5,227.6 818.4,222.8 827.2,226.2 836,227.9 844.9,222.6 853.7,227.5 862.6,226.2 871.4,229 880.2,226.3 889.1,220.7 897.9,223.3 906.7,223 915.6,224.3 924.4,227.2 933.3,230.2 942.1,225.8 950.9,223.3 959.8,223.9 968.6,228.6 977.4,225.6 986.3,226.3 995.1,222.2 1003.9,220.4 1012.8,218.8 1021.6,222.4 1030.5,220.1 1039.3,218.1 1048.1,219.9 1057,226.9 1065.8,221.5 1074.6,223.4 1083.5,219.4 1092.3,216.8 1101.1,220.5 1110,218.1 1118.8,223.1 1127.7,218.5 1136.5,223.3 1145.3,223.6 1154.2,224.4 1163,222.8 1171.8,227.4 1180.7,227.6 1189.5,223.3 1198.4,224.5 1207.2,222.8 1216,222.8 1224.9,223.8 1233.7,227.8 1242.5,229 1251.4,228.8 1260.2,226.1 1269,228.2 1277.9,228.3 1286.7,226.1 1295.6,223.3 1304.4,223.8 1313.2,224.1 1322.1,224.1"/>
<polyline points="809.5,222.1 818.4,221.1 827.2,222.2 836,218.9 844.9,219.9 853.7,217.9 862.6,220.1 871.4,219.6 880.2,223.1 889.1,221.2 897.9,224.9 906.7,222.5 915.6,223.7 924.4,223.7 933.3,222.2 942.1,223.3 950.9,221.8 959.8,221.3 968.6,222.4 977.4,219.8 986.3,216.6 995.1,214.1 1003.9,214.1 1012.8,215.4 1021.6,218.2 1030.5,220.3 1039.3,225.7 1048.1,229 1057,230.7 1065.8,234.4 1074.6,234.1 1083.5,229.5 1092.3,227.4 1101.1,230.6 1110,224.5 1118.8,221.7 1127.7,218.7 1136.5,222 1145.3,219 1154.2,221 1163,223.1 1171.8,221.4 1180.7,225.7 1189.5,226 1198.4,222.4 1207.2,222.4 1216,222.1 1224.9,221.5 1233.7,218.6 1242.5,218.4 1251.4,217.7 1260.2,220.2 1269,220.1 1277.9,220 1286.7,219.4 1295.6,218.2 1304.4,220.2 1313.2,224.8 1322.1,224.2"/>
<polyline points="809.5,226.7 818.4,228 827.2,222.7 836,221.9 844.9,223.8 853.7,222.4 862.6,222.4 871.4,223 880.2,223.1 889.1,224.3 897.9,223.5 906.7,225.5 915.6,222.4 924.4,223.3 933.3,219.9 942.1,217.1 950.9,215.5 959.8,217.3 968.6,216.6 977.4,217.1 986.3,217.3 995.1,216.5 1003.9,218.4 1012.8,218.5 1021.6,218.1 1030.5,215.9 1039.3,219.3 1048.1,220.9 1057,217.9 1065.8,218.8 1074.6,218.8 1083.5,217.1 1092.3,219.8 1101.1,215.2 1110,214.7 1118.8,214.1 1127.7,216.2 1136.5,214.2 1145.3,216.7 1154.2,215.8 1163,219.6 1171.8,218.7 1180.7,217.7 1189.5,217.9 1198.4,217 1207.2,217.3 1216,217 1224.9,214.5 1233.7,214.5 1242.5,215.8 1251.4,218.6 1260.2,219.3 1269,219.7 1277.9,222 1286.7,221.5 1295.6,220.6 1304.4,222.3 1313.2,222.4 1322.1,223.6"/>
<polyline points="809.5,214.9 818.4,219.2 827.2,219.8 836,221.7 844.9,221.8 853.7,221.5 862.6,222.1 871.4,223 880.2,225.2 889.1,227.5 897.9,228.4 906.7,227.8 915.6,229.4 924.4,230.1 933.3,230.4 942.1,228 950.9,229 959.8,228.4 968.6,228 977.4,228.3 986.3,228.9 995.1,229.5 1003.9,228.1 1012.8,230.2 1021.6,230 1030.5,233.4 1039.3,233.1 1048.1,233.3 1057,231.3 1065.8,235.2 1074.6,233.4 1083.5,233.4 1092.3,235.6 1101.1,236.1 1110,236.6 1118.8,234.4 1127.7,234.2 1136.5,231.9 1145.3,230.1 1154.2,230.8 1163,231.1 1171.8,233.5 1180.7,231.9 1189.5,231.3 1198.4,230.8 1207.2,230.6 1216,229.5 1224.9,227.2 1233.7,227.9 1242.5,226.8 1251.4,227.1 1260.2,227.6 1269,229.3 1277.9,228.3 1286.7,227.6 1295.6,228.9 1304.4,229.9 1313.2,229.8 1322.1,231"/>
<polyline points="809.5,231.2 818.4,229 827.2,228.6 836,227.7 844.9,226.8 853.7,226.2 862.6,228.5 871.4,226.9 880.2,229 889.1,226 897.9,224.4 906.7,223.3 915.6,221.5 924.4,219.1 933.3,217.9 942.1,218.5 950.9,220 959.8,221.1 968.6,221.8 977.4,221.7 986.3,223 995.1,222.8 1003.9,225.2 1012.8,225 1021.6,223.8 1030.5,222.8 1039.3,224.8 1048.1,222.6 1057,221.5 1065.8,221.1 1074.6,219.4 1083.5,220.8 1092.3,221.2 1101.1,219.6 1110,217.2 1118.8,220.9 1127.7,221.8 1136.5,220.1 1145.3,219 1154.2,218.9 1163,218.9 1171.8,216.9 1180.7,218.8 1189.5,217.4 1198.4,220.9 1207.2,222.9 1216,223 1224.9,220.9 1233.7,221.8 1242.5,223 1251.4,224.4 1260.2,221.9 1269,221.3 1277.9,222.2 1286.7,223.4 1295.6,223.4 1304.4,225.6 1313.2,226.2 1322.1,227.8"/>
<polyline points="809.5,218.4 818.4,219.3 827.2,223.1 836,223.7 844.9,223.6 853.7,223.7 862.6,226.7 871.4,226.3 880.2,224 889.1,223.6 897.9,223.2 906.7,225.9 915.6,228.5 924.4,226.1 933.3,226.9 942.1,224 950.9,223.4 959.8,222.3 968.6,222.4 977.4,220.6 986.3,220.9 995.1,224.5 1003.9,224 1012.8,226.1 1021.6,228.2 1030.5,226.9 1039.3,229.9 1048.1,230.8 1057,228.4 1065.8,229.6 1074.6,226.8 1083.5,228.8 1092.3,227.2 1101.1,230.4 1110,230.7 1118.8,231.9 1127.7,232.8 1136.5,233 1145.3,232.9 1154.2,233.7 1163,233 1171.8,233.3 1180.7,229.3 1189.5,228.1 1198.4,230.8 1207.2,231.2 1216,230.2 1224.9,230.2 1233.7,230.8 1242.5,230.6 1251.4,230.6 1260.2,230.6 1269,228.6 1277.9,227.2 1286.7,226.9 1295.6,226.9 1304.4,229.3 1313.2,229.4 1322.1,230.6"/>
<polyline points="809.5,214 818.4,214.1 827.2,216.5 836,215.4 844.9,215 853.7,217.1 862.6,219.2 871.4,221.6 880.2,224.6 889.1,224.9 897.9,224.6 906.7,225.5 915.6,223.2 924.4,225.9 933.3,227.9 942.1,225.9 950.9,227 959.8,226.5 968.6,227.6 977.4,226.5 986.3,226.6 995.1,224.6 1003.9,224.9 1012.8,225.2 1021.6,225.4 1030.5,224.3 1039.3,224.7 1048.1,223.5 1057,227.7 1065.8,227 1074.6,227.9 1083.5,227.2 1092.3,227 1101.1,224.2 1110,224.4 1118.8,223.7 1127.7,224.6 1136.5,223.8 1145.3,222.5 1154.2,223.2 1163,222.7 1171.8,225.6 1180.7,226 1189.5,225.5 1198.4,225.7 1207.2,224.1 1216,226 1224.9,225.9 1233.7,226.8 1242.5,227.3 1251.4,226.5 1260.2,224 1269,223.2 1277.9,221.7 1286.7,223.2 1295.6,222.2 1304.4,222.9 1313.2,224.1 1322.1,225.5"/>
<polyline points="809.5,231.5 818.4,231.5 827.2,231.5 836,231.5 844.9,231.5 853.7,231.6 862.6,229.6 871.4,230 880.2,229.1 889.1,228.9 897.9,230.5 906.7,229 915.6,227.9 924.4,225.7 933.3,226.5 942.1,226.7 950.9,226.7 959.8,226 968.6,225.4 977.4,227.7 986.3,225.8 995.1,224.5 1003.9,225.5 1012.8,226.4 1021.6,225.6 1030.5,225.7 1039.3,230.3 1048.1,230.3 1057,233 1065.8,235.1 1074.6,234.2 1083.5,235.5 1092.3,237.5 1101.1,236.2 1110,237.2 1118.8,237 1127.7,236.5 1136.5,236 1145.3,235.5 1154.2,235 1163,232.6 1171.8,231.1 1180.7,228.6 1189.5,228.4 1198.4,227 1207.2,226.6 1216,226 1224.9,225 1233.7,227.6 1242.5,227.1 1251.4,225.3 1260.2,226.8 1269,226.6 1277.9,227.1 1286.7,227.1 1295.6,227.2 1304.4,226.6 1313.2,227.3 1322.1,227.5"/>
<polyline points="809.5,231.5 818.4,231.5 827.2,231.5 836,231.5 844.9,231.5 853.7,231.6 862.6,229.5 871.4,229.5 880.2,229.1 889.1,228.2 897.9,226.7 906.7,225.4 915.6,226.5 924.4,226.4 933.3,228.1 942.1,227.9 950.9,227.6 959.8,227.2 968.6,227 977.4,227.6 986.3,226.4 995.1,225.5 1003.9,226.1 1012.8,227.4 1021.6,227.9 1030.5,228.9 1039.3,232.1 1048.1,234.8 1057,233.6 1065.8,233.8 1074.6,233.8 1083.5,235.2 1092.3,235.3 1101.1,235.1 1110,232.2 1118.8,228.7 1127.7,231.1 1136.5,230.3 1145.3,229.6 1154.2,230 1163,228.6 1171.8,228.7 1180.7,227.3 1189.5,226.8 1198.4,225.9 1207.2,227.2 1216,226.2 1224.9,226.5 1233.7,226.3 1242.5,227 1251.4,227.2 1260.2,225.8 1269,226.7 1277.9,225.8 1286.7,225.3 1295.6,225.7 1304.4,226.7 1313.2,227.4 1322.1,227.1"/>
<polyline points="809.5,227.6 818.4,227.8 827.2,229.8 836,229.7 844.9,228.3 853.7,230.1 862.6,229.9 871.4,229.7 880.2,229.3 889.1,228.7 897.9,230 906.7,228.5 915.6,227.1 924.4,230.2 933.3,232.5 942.1,230.3 950.9,227.6 959.8,227.9 968.6,227.4 977.4,228.5 986.3,224.8 995.1,227.7 1003.9,228.3 1012.8,225.6 1021.6,224.7 1030.5,223.2 1039.3,224.6 1048.1,225.4 1057,226.8 1065.8,228.5 1074.6,225.1 1083.5,228.6 1092.3,226.5 1101.1,227.4 1110,225.9 1118.8,228.6 1127.7,228.1 1136.5,229.1 1145.3,225 1154.2,227.5 1163,224.1 1171.8,222.9 1180.7,226.1 1189.5,227.1 1198.4,225.2 1207.2,224.1 1216,222.5 1224.9,221.8 1233.7,221.3 1242.5,220 1251.4,223.3 1260.2,223.1 1269,221.4 1277.9,219.8 1286.7,218.5 1295.6,221.3 1304.4,223.1 1313.2,222.5 1322.1,223.4"/>
<polyline points="809.5,214 818.4,214.1 827.2,214.1 836,214.1 844.9,214.2 853.7,216.5 862.6,216 871.4,216.1 880.2,219.9 889.1,218.5 897.9,218.1 906.7,217.8 915.6,219.9 924.4,218.5 933.3,220.5 942.1,221.1 950.9,222.5 959.8,221.8 968.6,220.1 977.4,218.6 986.3,219.1 995.1,222.1 1003.9,225.3 1012.8,223.6 1021.6,220.8 1030.5,220 1039.3,222.4 1048.1,223.7 1057,221.2 1065.8,223.4 1074.6,220.5 1083.5,220.8 1092.3,221.2 1101.1,221.8 1110,221.1 1118.8,222 1127.7,223.7 1136.5,221.3 1145.3,222.9 1154.2,220.5 1163,218.9 1171.8,219.1 1180.7,218 1189.5,220.1 1198.4,218.3 1207.2,219.4 1216,218.3 1224.9,217.5 1233.7,216.9 1242.5,216.6 1251.4,219.3 1260.2,218.4 1269,220.6 1277.9,222 1286.7,220.5 1295.6,222.2 1304.4,224.2 1313.2,223.7 1322.1,226"/>
<polyline points="809.5,214 818.4,214.1 827.2,214.1 836,214.1 844.9,214.2 853.7,214.2 862.6,214.1 871.4,216.1 880.2,214 889.1,216.5 897.9,214 906.7,215.4 915.6,216 924.4,216.3 933.3,215.3 942.1,214 950.9,214.1 959.8,214.1 968.6,214.2 977.4,214.2 986.3,214.2 995.1,214.1 1003.9,214.1 1012.8,214 1021.6,214 1030.5,214 1039.3,214 1048.1,214 1057,214 1065.8,214 1074.6,214.3 1083.5,217.1 1092.3,216.8 1101.1,214 1110,214 1118.8,216 1127.7,215.4 1136.5,216.1 1145.3,216.6 1154.2,215.1 1163,216.2 1171.8,214.4 1180.7,214.4 1189.5,214.7 1198.4,217.5 1207.2,216 1216,217.5 1224.9,216.6 1233.7,219 1242.5,219.1 1251.4,221.1 1260.2,222 1269,220.6 1277.9,220.4 1286.7,220.7 1295.6,220.9 1304.4,221.2 1313.2,220.9 1322.1,222.1"/>
<polyline points="809.5,231.5 818.4,231.5 827.2,229.4 836,231.1 844.9,227.7 853.7,225.5 862.6,226.7 871.4,224.1 880.2,223 889.1,224.8 897.9,226.6 906.7,223.8 915.6,224.3 924.4,225.3 933.3,228.5 942.1,230.2 950.9,228.6 959.8,229.4 968.6,228.1 977.4,226.4 986.3,226.4 995.1,222.6 1003.9,224.1 1012.8,222.5 1021.6,225.2 1030.5,221.9 1039.3,223.3 1048.1,222.1 1057,221.6 1065.8,226.6 1074.6,226.3 1083.5,228.8 1092.3,225.2 1101.1,223.3 1110,225.6 1118.8,224.7 1127.7,224.3 1136.5,227.2 1145.3,226.6 1154.2,225.4 1163,227.1 1171.8,226.7 1180.7,226.1 1189.5,222.1 1198.4,222.7 1207.2,224.9 1216,226.3 1224.9,224.9 1233.7,226.2 1242.5,225.4 1251.4,225.7 1260.2,224 1269,224.2 1277.9,223.5 1286.7,221.9 1295.6,225.7 1304.4,228.8 1313.2,228.3 1322.1,229.5"/>
<polyline points="809.5,229.8 818.4,224.7 827.2,219.5 836,221.6 844.9,223.4 853.7,223.4 862.6,227.3 871.4,224.6 880.2,224.3 889.1,224.8 897.9,221.9 906.7,220.8 915.6,228.9 924.4,225.1 933.3,226.7 942.1,226.8 950.9,225.5 959.8,227.4 968.6,224.9 977.4,228.6 986.3,232.4 995.1,228 1003.9,225 1012.8,225.5 1021.6,230.7 1030.5,234.3 1039.3,235.1 1048.1,235 1057,233.4 1065.8,232.7 1074.6,229.2 1083.5,229.6 1092.3,229.1 1101.1,234.2 1110,236.9 1118.8,237 1127.7,233.3 1136.5,230.5 1145.3,225.9 1154.2,225.4 1163,229.5 1171.8,231 1180.7,228 1189.5,223.5 1198.4,225.4 1207.2,224.6 1216,225.9 1224.9,229.6 1233.7,225.9 1242.5,229.9 1251.4,230.6 1260.2,228.6 1269,226.6 1277.9,224.1 1286.7,220.8 1295.6,224.1 1304.4,224.6 1313.2,228 1322.1,229.4"/>
<polyline points="809.5,218.7 818.4,218.1 827.2,221.2 836,220.9 844.9,221.4 853.7,220.2 862.6,220.2 871.4,222 880.2,221.7 889.1,221.4 897.9,221.5 906.7,221.5 915.6,222.8 924.4,223.4 933.3,224.3 942.1,224.6 950.9,225.3 959.8,225.5 968.6,226.4 977.4,227.6 986.3,227.6 995.1,226.1 1003.9,225.3 1012.8,227.3 1021.6,229.4 1030.5,228.8 1039.3,227.5 1048.1,230 1057,230.3 1065.8,230.8 1074.6,230.5 1083.5,233.1 1092.3,233.1 1101.1,233.9 1110,234.5 1118.8,233.8 1127.7,232.6 1136.5,229.8 1145.3,231.8 1154.2,231.2 1163,230.2 1171.8,226.9 1180.7,227.8 1189.5,227.5 1198.4,227.9 1207.2,228 1216,227.8 1224.9,227.3 1233.7,226.3 1242.5,225.8 1251.4,226.8 1260.2,227.7 1269,227.8 1277.9,228.4 1286.7,228.9 1295.6,228.8 1304.4,228.6 1313.2,229.7 1322.1,229.7"/>
<polyline points="809.5,229.9 818.4,225.9 827.2,224.4 836,223.7 844.9,222.9 853.7,222.8 862.6,220 871.4,219.3 880.2,221 889.1,220.7 897.9,218.8 906.7,219.2 915.6,217.5 924.4,218.9 933.3,218.8 942.1,218.6 950.9,219.4 959.8,219 968.6,219.7 977.4,218.8 986.3,219.8 995.1,220.4 1003.9,220.8 1012.8,218.7 1021.6,216.5 1030.5,216 1039.3,214 1048.1,216.1 1057,214 1065.8,214 1074.6,214 1083.5,216.5 1092.3,216.8 1101.1,214.9 1110,214.8 1118.8,217 1127.7,219.2 1136.5,218 1145.3,218.6 1154.2,216.9 1163,215.5 1171.8,217.3 1180.7,217.2 1189.5,216.7 1198.4,215.2 1207.2,216.2 1216,216.2 1224.9,215.3 1233.7,216.7 1242.5,216 1251.4,216.6 1260.2,217.3 1269,217.3 1277.9,219.1 1286.7,218.7 1295.6,219.4 1304.4,222 1313.2,222.8 1322.1,223.3"/>
<polyline points="809.5,231.5 818.4,227.9 827.2,227.7 836,225.9 844.9,223.8 853.7,224.5 862.6,227.2 871.4,223.8 880.2,227.3 889.1,229.2 897.9,225.8 906.7,221.8 915.6,219.5 924.4,217.2 933.3,218.3 942.1,222.3 950.9,223.9 959.8,222.4 968.6,218.7 977.4,219.7 986.3,218.3 995.1,222.5 1003.9,225 1012.8,220.3 1021.6,221.7 1030.5,219.8 1039.3,220.3 1048.1,224.8 1057,230.1 1065.8,223.6 1074.6,219.5 1083.5,225.7 1092.3,223.3 1101.1,220 1110,224.8 1118.8,222.2 1127.7,218.3 1136.5,221.1 1145.3,223.6 1154.2,219.4 1163,215.4 1171.8,215.7 1180.7,217.7 1189.5,219.5 1198.4,219.6 1207.2,218.3 1216,217.9 1224.9,219.9 1233.7,220.8 1242.5,217.3 1251.4,216.3 1260.2,215.3 1269,215.4 1277.9,216.7 1286.7,220.2 1295.6,222.4 1304.4,221.4 1313.2,221.9 1322.1,224.3"/>
<polyline points="809.5,226.5 818.4,226.1 827.2,223.3 836,223.2 844.9,224 853.7,222.8 862.6,222.8 871.4,225.5 880.2,226 889.1,225.5 897.9,225.3 906.7,224.2 915.6,224.4 924.4,221.9 933.3,220.7 942.1,222.3 950.9,221.3 959.8,221.6 968.6,221.7 977.4,220 986.3,219.2 995.1,220.6 1003.9,221.5 1012.8,219.5 1021.6,218 1030.5,217 1039.3,216.2 1048.1,216.8 1057,214.9 1065.8,217 1074.6,219.5 1083.5,222.4 1092.3,222.1 1101.1,222.6 1110,223.6 1118.8,224.6 1127.7,226.2 1136.5,229.1 1145.3,229.9 1154.2,231.5 1163,228.6 1171.8,227.5 1180.7,226.7 1189.5,228.1 1198.4,228.7 1207.2,226.7 1216,228.9 1224.9,227.6 1233.7,227.6 1242.5,225 1251.4,223.9 1260.2,223.3 1269,222.4 1277.9,220.7 1286.7,222.6 1295.6,223.5 1304.4,224.6 1313.2,224.4 1322.1,224.7"/>
<polyline points="809.5,229.7 818.4,226.6 827.2,227.9 836,229.2 844.9,226 853.7,227.9 862.6,227 871.4,222.7 880.2,222.4 889.1,223.5 897.9,222.3 906.7,219.4 915.6,219.5 924.4,219.5 933.3,223.9 942.1,226 950.9,224.6 959.8,226.9 968.6,225.9 977.4,226.6 986.3,225.9 995.1,229.4 1003.9,225.1 1012.8,228.2 1021.6,226.1 1030.5,227.2 1039.3,228.7 1048.1,223.5 1057,224 1065.8,228.4 1074.6,229.6 1083.5,226.9 1092.3,226.8 1101.1,225.9 1110,228.2 1118.8,229.5 1127.7,225.3 1136.5,225.1 1145.3,221.5 1154.2,222.6 1163,220.8 1171.8,217.7 1180.7,219.9 1189.5,218.2 1198.4,217.3 1207.2,216.8 1216,220.9 1224.9,223.7 1233.7,221.9 1242.5,222.8 1251.4,224.8 1260.2,226.3 1269,225.9 1277.9,225 1286.7,222.9 1295.6,221.6 1304.4,220.4 1313.2,222.3 1322.1,222"/>
<polyline points="809.5,214 818.4,214.1 827.2,214.1 836,217.7 844.9,220.8 853.7,222.6 862.6,222.5 871.4,223.9 880.2,223.2 889.1,225.2 897.9,227 906.7,227.7 915.6,228.4 924.4,231.5 933.3,229.9 942.1,227.6 950.9,227.5 959.8,229.9 968.6,228.4 977.4,227.6 986.3,230.1 995.1,227.5 1003.9,226.9 1012.8,227 1021.6,225 1030.5,224.5 1039.3,225.9 1048.1,228 1057,225 1065.8,222.9 1074.6,227.5 1083.5,227.9 1092.3,228.5 1101.1,226.8 1110,229 1118.8,230.6 1127.7,227.7 1136.5,225.8 1145.3,226.7 1154.2,226.8 1163,226.9 1171.8,225 1180.7,224.9 1189.5,226.6 1198.4,228 1207.2,226.4 1216,225.2 1224.9,224.6 1233.7,227.2 1242.5,225.7 1251.4,225.9 1260.2,224.6 1269,224.1 1277.9,223.4 1286.7,223.4 1295.6,226.7 1304.4,225.2 1313.2,226.2 1322.1,225.9"/>
<polyline points="809.5,217.8 818.4,221 827.2,220.2 836,222 844.9,222.6 853.7,224 862.6,224.4 871.4,224.8 880.2,226.8 889.1,227.3 897.9,228.7 906.7,231.4 915.6,229.8 924.4,228.1 933.3,226.7 942.1,228.6 950.9,229.8 959.8,230.3 968.6,231.1 977.4,230.5 986.3,229.5 995.1,228.2 1003.9,227.3 1012.8,227.7 1021.6,228.4 1030.5,227.6 1039.3,229.2 1048.1,232.3 1057,234.5 1065.8,237.5 1074.6,237.5 1083.5,237.5 1092.3,237.5 1101.1,237.5 1110,237.5 1118.8,235.4 1127.7,230.9 1136.5,229 1145.3,227 1154.2,230.5 1163,227.3 1171.8,228.9 1180.7,231.3 1189.5,232.2 1198.4,231.5 1207.2,231.3 1216,231.1 1224.9,231 1233.7,230.7 1242.5,230.6 1251.4,229.4 1260.2,229.9 1269,228.6 1277.9,227.9 1286.7,227.4 1295.6,227.8 1304.4,227.7 1313.2,227.8 1322.1,228.4"/>
<polyline points="809.5,214 818.4,214.1 827.2,214.1 836,215.5 844.9,218.5 853.7,217.3 862.6,216.5 871.4,215.3 880.2,217.7 889.1,219.5 897.9,219.4 906.7,222.4 915.6,225 924.4,226.7 933.3,227.2 942.1,225.8 950.9,226.1 959.8,226.9 968.6,227.7 977.4,227.3 986.3,225.3 995.1,221.8 1003.9,220.1 1012.8,219.5 1021.6,220.2 1030.5,223.3 1039.3,224.9 1048.1,227.2 1057,226.5 1065.8,226 1074.6,229.2 1083.5,226.1 1092.3,228.3 1101.1,229 1110,225.2 1118.8,224.9 1127.7,219.8 1136.5,222.3 1145.3,221.2 1154.2,223.8 1163,223.5 1171.8,224.9 1180.7,222.6 1189.5,221.9 1198.4,223.1 1207.2,225.1 1216,223.3 1224.9,220.9 1233.7,221.4 1242.5,223.8 1251.4,222.2 1260.2,224 1269,221.3 1277.9,218.2 1286.7,218.7 1295.6,221.9 1304.4,222.4 1313.2,222 1322.1,222.6"/>
<polyline points="809.5,231.5 818.4,230.1 827.2,229.8 836,229.9 844.9,226.6 853.7,225.8 862.6,227.6 871.4,226.1 880.2,223.4 889.1,225.7 897.9,227.4 906.7,222.8 915.6,223.5 924.4,220.5 933.3,218 942.1,219.9 950.9,222 959.8,221.5 968.6,224.5 977.4,222.2 986.3,219.6 995.1,218.2 1003.9,221.1 1012.8,219.2 1021.6,221.2 1030.5,218.1 1039.3,220 1048.1,217.4 1057,220.1 1065.8,217.3 1074.6,217.7 1083.5,219.8 1092.3,218.5 1101.1,218.3 1110,220.9 1118.8,224.4 1127.7,226.5 1136.5,221.4 1145.3,221.9 1154.2,224.1 1163,220.5 1171.8,221.6 1180.7,219.4 1189.5,218.6 1198.4,221.7 1207.2,223.6 1216,225.1 1224.9,221 1233.7,221.1 1242.5,221.4 1251.4,221.2 1260.2,220.6 1269,220.7 1277.9,220 1286.7,220.4 1295.6,219.3 1304.4,221.8 1313.2,222.2 1322.1,222.3"/>
<polyline points="809.5,224.5 818.4,221.5 827.2,225.4 836,222.4 844.9,220.2 853.7,221.7 862.6,221.8 871.4,222.4 880.2,224.5 889.1,219.9 897.9,219.3 906.7,221.5 915.6,221.2 924.4,218.8 933.3,219.2 942.1,222.6 950.9,223.3 959.8,219.5 968.6,222.2 977.4,226.2 986.3,224.9 995.1,225 1003.9,226.7 1012.8,229.3 1021.6,225.6 1030.5,221.9 1039.3,224.2 1048.1,221.5 1057,218.1 1065.8,220.6 1074.6,221.6 1083.5,222.6 1092.3,224.2 1101.1,228.1 1110,228.2 1118.8,232.2 1127.7,226.5 1136.5,225.8 1145.3,225.9 1154.2,227.5 1163,227.2 1171.8,227.3 1180.7,229.8 1189.5,231.8 1198.4,229.2 1207.2,225.6 1216,226.3 1224.9,224.4 1233.7,226.2 1242.5,228.5 1251.4,226.8 1260.2,228.6 1269,226.5 1277.9,224.8 1286.7,225.2 1295.6,227.7 1304.4,224.3 1313.2,222.9 1322.1,224.8"/>
<polyline points="809.5,214 818.4,214.1 827.2,214.6 836,215.6 844.9,217.4 853.7,219.9 862.6,219.6 871.4,220.5 880.2,223.2 889.1,224.6 897.9,224 906.7,223.4 915.6,222.9 924.4,221.1 933.3,221.5 942.1,220.7 950.9,218.6 959.8,220.4 968.6,221.7 977.4,223.9 986.3,226.6 995.1,226.4 1003.9,225.1 1012.8,225.1 1021.6,224.5 1030.5,226.4 1039.3,227.3 1048.1,227.1 1057,231 1065.8,227.1 1074.6,225.6 1083.5,224.2 1092.3,222.3 1101.1,224 1110,223.9 1118.8,223.8 1127.7,224.5 1136.5,222.1 1145.3,220.1 1154.2,223.4 1163,222.9 1171.8,225.2 1180.7,227.4 1189.5,225.9 1198.4,225.9 1207.2,224.7 1216,223.5 1224.9,224.5 1233.7,225.4 1242.5,226 1251.4,225.6 1260.2,226.4 1269,224.9 1277.9,223 1286.7,223.6 1295.6,224.7 1304.4,226.5 1313.2,225.6 1322.1,225.3"/>
<polyline points="809.5,230.2 818.4,230.1 827.2,230.4 836,229.2 844.9,227.6 853.7,228.5 862.6,227.6 871.4,226.3 880.2,227.3 889.1,224.8 897.9,222.6 906.7,223.6 915.6,220.7 924.4,222.3 933.3,221.9 942.1,222.5 950.9,223.2 959.8,225.3 968.6,225.2 977.4,223.8 986.3,223.4 995.1,220.3 1003.9,217.5 1012.8,217.1 1021.6,218.5 1030.5,220.7 1039.3,220.7 1048.1,220.5 1057,220.9 1065.8,222.7 1074.6,220 1083.5,220.5 1092.3,222.4 1101.1,222.5 1110,224.5 1118.8,223.7 1127.7,223.4 1136.5,220.8 1145.3,217.5 1154.2,218.6 1163,220.5 1171.8,221 1180.7,223.3 1189.5,224.1 1198.4,224.3 1207.2,223.3 1216,221.1 1224.9,223.3 1233.7,221.9 1242.5,220 1251.4,220.6 1260.2,219.8 1269,221.9 1277.9,221.9 1286.7,223.3 1295.6,223.6 1304.4,224.4 1313.2,224.6 1322.1,224.1"/>
<polyline points="809.5,231.5 818.4,227.9 827.2,228.3 836,228.9 844.9,225.5 853.7,228.2 862.6,225.7 871.4,226.4 880.2,223.4 889.1,224.3 897.9,223.6 906.7,221.9 915.6,226.7 924.4,229.6 933.3,228.4 942.1,228.7 950.9,226 959.8,224.1 968.6,223.2 977.4,221 986.3,219.4 995.1,223.1 1003.9,222.7 1012.8,225.3 1021.6,225.5 1030.5,224.7 1039.3,225.4 1048.1,223.9 1057,224.4 1065.8,229.8 1074.6,234.3 1083.5,233.5 1092.3,231.1 1101.1,232.2 1110,229.2 1118.8,230.8 1127.7,230.9 1136.5,231.2 1145.3,229.9 1154.2,230.2 1163,226 1171.8,224 1180.7,227.1 1189.5,224.8 1198.4,224.3 1207.2,224.7 1216,222.5 1224.9,224.7 1233.7,221.7 1242.5,220.4 1251.4,218.9 1260.2,218.8 1269,218.9 1277.9,220 1286.7,222.1 1295.6,224.5 1304.4,225.4 1313.2,225.4 1322.1,224.4"/>
<polyline points="809.5,222.6 818.4,224.4 827.2,220.4 836,228.2 844.9,222.8 853.7,224.7 862.6,225.1 871.4,218.9 880.2,226.9 889.1,224.3 897.9,222 906.7,222.4 915.6,229.7 924.4,228.9 933.3,221.6 942.1,218.3 950.9,224.1 959.8,219.2 968.6,221.8 977.4,225.5 986.3,228 995.1,233 1003.9,232.2 1012.8,226.3 1021.6,230.8 1030.5,232.9 1039.3,231.4 1048.1,230.2 1057,222.9 1065.8,227.4 1074.6,225 1083.5,224 1092.3,230.7 1101.1,225.7 1110,237 1118.8,229.5 1127.7,235.3 1136.5,228.1 1145.3,232.3 1154.2,223.2 1163,228.6 1171.8,233.6 1180.7,226.8 1189.5,221.3 1198.4,223.6 1207.2,224.6 1216,226.4 1224.9,231 1233.7,226.5 1242.5,226.2 1251.4,226.6 1260.2,224.8 1269,226.3 1277.9,230.5 1286.7,229.5 1295.6,230.8 1304.4,226.6 1313.2,223.6 1322.1,229.9"/>
<polyline points="809.5,221.4 818.4,222.2 827.2,220.1 836,219.7 844.9,224.9 853.7,223 862.6,221.8 871.4,217.4 880.2,222.2 889.1,219 897.9,223.8 906.7,218.8 915.6,220.1 924.4,216.6 933.3,226.5 942.1,223.5 950.9,220.1 959.8,226.3 968.6,227.2 977.4,227.5 986.3,224.3 995.1,229.3 1003.9,225.3 1012.8,219.9 1021.6,221.6 1030.5,227.1 1039.3,220.4 1048.1,225.7 1057,230.9 1065.8,220.3 1074.6,221.5 1083.5,227.9 1092.3,228.8 1101.1,229.1 1110,227.3 1118.8,226.6 1127.7,225.9 1136.5,227.4 1145.3,227.5 1154.2,222.3 1163,217.9 1171.8,219.7 1180.7,216.7 1189.5,219.7 1198.4,216.7 1207.2,215.7 1216,216.9 1224.9,220.8 1233.7,218.2 1242.5,217.6 1251.4,219.1 1260.2,223.6 1269,222.6 1277.9,219.9 1286.7,223.4 1295.6,224.8 1304.4,224.8 1313.2,225.9 1322.1,223.6"/>
<polyline points="809.5,219.1 818.4,223.9 827.2,224.5 836,225.4 844.9,228.7 853.7,224.8 862.6,221.4 871.4,223.3 880.2,221 889.1,216.6 897.9,214.7 906.7,222.3 915.6,222.9 924.4,220.5 933.3,220.1 942.1,223.3 950.9,222.4 959.8,220.4 968.6,223.8 977.4,218.7 986.3,226.4 995.1,227.3 1003.9,226.5 1012.8,221.2 1021.6,218 1030.5,221.1 1039.3,225.4 1048.1,225.7 1057,227.2 1065.8,229.6 1074.6,226.3 1083.5,228.4 1092.3,224.7 1101.1,223.8 1110,230.4 1118.8,220.9 1127.7,226.1 1136.5,223 1145.3,222.5 1154.2,227.6 1163,226.4 1171.8,227.2 1180.7,224.3 1189.5,227.2 1198.4,225.5 1207.2,225.5 1216,221 1224.9,223.1 1233.7,219.2 1242.5,217.2 1251.4,216.2 1260.2,218.3 1269,221.8 1277.9,225.1 1286.7,224.5 1295.6,224.6 1304.4,227.8 1313.2,228.4 1322.1,227.5"/>
<polyline points="809.5,223.3 818.4,224.9 827.2,218.2 836,218.3 844.9,222.7 853.7,219.4 862.6,218.7 871.4,224.8 880.2,222 889.1,224.6 897.9,227.5 906.7,225 915.6,218.8 924.4,225.5 933.3,228.4 942.1,220.8 950.9,225.7 959.8,225 968.6,224.7 977.4,220.5 986.3,218 995.1,225 1003.9,231.1 1012.8,222 1021.6,220.8 1030.5,227.9 1039.3,231.1 1048.1,223.6 1057,231.3 1065.8,234.2 1074.6,232.8 1083.5,236.7 1092.3,224.2 1101.1,225.2 1110,222.8 1118.8,219.6 1127.7,225.1 1136.5,228.5 1145.3,224.6 1154.2,224.6 1163,230.6 1171.8,229.2 1180.7,231.9 1189.5,228.9 1198.4,220.1 1207.2,217.8 1216,218.7 1224.9,221.4 1233.7,227.2 1242.5,224.2 1251.4,222.2 1260.2,224.6 1269,226.7 1277.9,221 1286.7,221.1 1295.6,220.1 1304.4,222.8 1313.2,220.9 1322.1,227.3"/>
<polyline points="809.5,231.2 818.4,228.9 827.2,227.5 836,224.3 844.9,229.4 853.7,223.1 862.6,225.6 871.4,230.8 880.2,229.1 889.1,228.6 897.9,229.7 906.7,227.9 915.6,231.5 924.4,225.9 933.3,222.1 942.1,226.1 950.9,231.7 959.8,231.6 968.6,232.9 977.4,229.6 986.3,231.9 995.1,231.5 1003.9,229.4 1012.8,223.1 1021.6,223.8 1030.5,219.3 1039.3,224.1 1048.1,229.6 1057,231.5 1065.8,237.2 1074.6,231.7 1083.5,226.2 1092.3,223.8 1101.1,225.2 1110,233.1 1118.8,228.8 1127.7,225.9 1136.5,220.9 1145.3,229.1 1154.2,226.6 1163,228.1 1171.8,230.7 1180.7,226.9 1189.5,226.3 1198.4,224.7 1207.2,221.3 1216,220.7 1224.9,225 1233.7,226.5 1242.5,228.5 1251.4,223.5 1260.2,221.1 1269,225.8 1277.9,226.6 1286.7,227.9 1295.6,228.2 1304.4,229.6 1313.2,231.3 1322.1,229.5"/>
<polyline points="809.5,214.4 818.4,215.6 827.2,218.5 836,222.4 844.9,222.6 853.7,224.3 862.6,215.1 871.4,216.7 880.2,214.2 889.1,220.7 897.9,225.9 906.7,220.2 915.6,216.4 924.4,217.1 933.3,220.1 942.1,224 950.9,219.7 959.8,219.7 968.6,225 977.4,217.4 986.3,223.1 995.1,223.7 1003.9,225.7 1012.8,219.7 1021.6,218.9 1030.5,214.4 1039.3,218.3 1048.1,224.4 1057,219.8 1065.8,221.7 1074.6,216.8 1083.5,216.6 1092.3,227.6 1101.1,220.5 1110,221.4 1118.8,223.1 1127.7,224.8 1136.5,218.8 1145.3,222.6 1154.2,220.1 1163,221.5 1171.8,221.9 1180.7,219.9 1189.5,218.9 1198.4,217.1 1207.2,221.8 1216,216.1 1224.9,218.4 1233.7,217.5 1242.5,216.9 1251.4,220.8 1260.2,218.1 1269,217 1277.9,222.5 1286.7,227.2 1295.6,225.3 1304.4,227 1313.2,221.3 1322.1,221.2"/>
<polyline points="809.5,214 818.4,219.6 827.2,221.9 836,218.7 844.9,218.2 853.7,222.1 862.6,217.2 871.4,214.1 880.2,214 889.1,214 897.9,214 906.7,214 915.6,214 924.4,214.7 933.3,218 942.1,221.6 950.9,221.8 959.8,219.7 968.6,214.8 977.4,216.9 986.3,214.3 995.1,214.1 1003.9,214.1 1012.8,214.6 1021.6,216.7 1030.5,216.1 1039.3,221.5 1048.1,216.1 1057,214 1065.8,216.2 1074.6,214 1083.5,216.5 1092.3,214 1101.1,219.9 1110,217.1 1118.8,214.1 1127.7,221.1 1136.5,219.5 1145.3,222.9 1154.2,221.2 1163,224 1171.8,218.1 1180.7,214.4 1189.5,214.5 1198.4,214.9 1207.2,214.5 1216,219.3 1224.9,216.9 1233.7,217.6 1242.5,219.4 1251.4,217.1 1260.2,218.7 1269,218 1277.9,216.7 1286.7,219.5 1295.6,219.1 1304.4,218.2 1313.2,219.3 1322.1,220.4"/>
<polyline points="809.5,226.5 818.4,228 827.2,229.3 836,229.1 844.9,227.5 853.7,228.5 862.6,228.3 871.4,225.7 880.2,226.8 889.1,224.2 897.9,227.5 906.7,225.1 915.6,229.7 924.4,230.1 933.3,223.7 942.1,226.6 950.9,223.9 959.8,223.4 968.6,218.8 977.4,222.7 986.3,225 995.1,225.7 1003.9,221.8 1012.8,219.7 1021.6,220.6 1030.5,225.6 1039.3,228.7 1048.1,223.3 1057,220.8 1065.8,219.9 1074.6,219.6 1083.5,221.8 1092.3,222.2 1101.1,228.2 1110,228.5 1118.8,230.6 1127.7,232.7 1136.5,226.1 1145.3,232.4 1154.2,224.1 1163,226.4 1171.8,227.2 1180.7,231.2 1189.5,228.5 1198.4,223.6 1207.2,224.8 1216,223.9 1224.9,222.5 1233.7,220.9 1242.5,223.6 1251.4,218.7 1260.2,223 1269,224.7 1277.9,224.3 1286.7,222.1 1295.6,220.9 1304.4,224.2 1313.2,222.7 1322.1,224.8"/>
<polyline points="809.5,214.1 818.4,214.7 827.2,214.1 836,214.6 844.9,216.8 853.7,220.2 862.6,222.5 871.4,220.7 880.2,221.1 889.1,219.8 897.9,224.4 906.7,219.1 915.6,219.6 924.4,224.6 933.3,223 942.1,225.2 950.9,219.4 959.8,221.2 968.6,222.1 977.4,219.1 986.3,215.2 995.1,220.5 1003.9,220.6 1012.8,219.6 1021.6,223.1 1030.5,227.3 1039.3,225 1048.1,228.6 1057,228.9 1065.8,226.2 1074.6,228.2 1083.5,222.1 1092.3,219.2 1101.1,226.2 1110,223.3 1118.8,222.9 1127.7,215.4 1136.5,216 1145.3,222.6 1154.2,217.8 1163,216.3 1171.8,222.5 1180.7,222.9 1189.5,219.8 1198.4,219.5 1207.2,219.7 1216,221.8 1224.9,221.2 1233.7,222.8 1242.5,223.6 1251.4,225.1 1260.2,219.6 1269,219.1 1277.9,220.4 1286.7,219.5 1295.6,220.5 1304.4,224.3 1313.2,221.1 1322.1,221.2"/>
<polyline points="809.5,223.7 818.4,226.8 827.2,219.9 836,225.4 844.9,225.8 853.7,227.2 862.6,227 871.4,226.5 880.2,218.8 889.1,216.8 897.9,223 906.7,224.3 915.6,223.5 924.4,226.7 933.3,227.2 942.1,228.4 950.9,228.9 959.8,226 968.6,217.1 977.4,227.5 986.3,227.6 995.1,229.2 1003.9,230.4 1012.8,228.5 1021.6,223.5 1030.5,226.2 1039.3,224.3 1048.1,229.6 1057,222.3 1065.8,224.3 1074.6,223 1083.5,219.1 1092.3,224.8 1101.1,223.7 1110,220 1118.8,229.2 1127.7,224.5 1136.5,227.1 1145.3,224.7 1154.2,222 1163,217.8 1171.8,222.5 1180.7,221.1 1189.5,227.7 1198.4,220.1 1207.2,220 1216,223 1224.9,222.2 1233.7,223.9 1242.5,220.2 1251.4,225.6 1260.2,227.5 1269,223.6 1277.9,227.7 1286.7,222.9 1295.6,225.2 1304.4,228.7 1313.2,224.4 1322.1,223.1"/>
<polyline points="809.5,230.3 818.4,225.2 827.2,230.3 836,224.5 844.9,220 853.7,224 862.6,226.1 871.4,222.9 880.2,224.6 889.1,219.8 897.9,223.4 906.7,224 915.6,227.6 924.4,231.3 933.3,232.1 942.1,226.6 950.9,230.5 959.8,229.7 968.6,228 977.4,222.9 986.3,221.5 995.1,227.6 1003.9,229.7 1012.8,228.5 1021.6,230.7 1030.5,227.4 1039.3,230.7 1048.1,227.6 1057,223.3 1065.8,229.3 1074.6,222.6 1083.5,230.6 1092.3,229.2 1101.1,234.3 1110,236.3 1118.8,230 1127.7,228 1136.5,236 1145.3,235.5 1154.2,224.9 1163,225.8 1171.8,223.9 1180.7,223.8 1189.5,225.4 1198.4,230.2 1207.2,228.8 1216,227.7 1224.9,227.1 1233.7,228.8 1242.5,222.2 1251.4,225.5 1260.2,225.1 1269,225 1277.9,223.5 1286.7,222.5 1295.6,228.2 1304.4,231.1 1313.2,231.3 1322.1,230.5"/>
<polyline points="809.5,214 818.4,214.1 827.2,219.6 836,219.2 844.9,214.4 853.7,214.2 862.6,214.1 871.4,214.1 880.2,214 889.1,214 897.9,219.3 906.7,221 915.6,218.9 924.4,224.5 933.3,221 942.1,215.1 950.9,214.1 959.8,214.9 968.6,217.8 977.4,218.8 986.3,220.4 995.1,215.8 1003.9,214.1 1012.8,214 1021.6,216.8 1030.5,219.8 1039.3,218.3 1048.1,215.4 1057,223.3 1065.8,223.9 1074.6,218.5 1083.5,218.9 1092.3,224.1 1101.1,220.4 1110,218.4 1118.8,215.7 1127.7,214.1 1136.5,214.2 1145.3,219.5 1154.2,222.1 1163,220.7 1171.8,220.5 1180.7,222.8 1189.5,220.9 1198.4,217.4 1207.2,216.2 1216,215.7 1224.9,220.1 1233.7,218.9 1242.5,220.1 1251.4,219.2 1260.2,219.4 1269,220.3 1277.9,222.2 1286.7,217.7 1295.6,219.7 1304.4,219.3 1313.2,221.5 1322.1,221.1"/>
<polyline points="809.5,224.7 818.4,214.9 827.2,219.1 836,215.8 844.9,214.2 853.7,217.5 862.6,218 871.4,218 880.2,216.2 889.1,220.4 897.9,219 906.7,214.4 915.6,217.4 924.4,214 933.3,214.1 942.1,214.9 950.9,216.9 959.8,215.9 968.6,215.4 977.4,214.2 986.3,214.2 995.1,214.2 1003.9,218.9 1012.8,216.5 1021.6,218.9 1030.5,223.8 1039.3,214 1048.1,217.1 1057,220 1065.8,219.9 1074.6,214.5 1083.5,223.5 1092.3,220.1 1101.1,217.3 1110,217.5 1118.8,220.6 1127.7,222.5 1136.5,221.2 1145.3,219.5 1154.2,218.5 1163,223.6 1171.8,219.9 1180.7,215.5 1189.5,214.5 1198.4,217.7 1207.2,219.1 1216,214.5 1224.9,214.5 1233.7,220.3 1242.5,216.1 1251.4,218.4 1260.2,217 1269,219.7 1277.9,223.7 1286.7,223.4 1295.6,222.2 1304.4,222.7 1313.2,223.6 1322.1,223"/>
<polyline points="809.5,231 818.4,223.8 827.2,230.1 836,228.1 844.9,227.4 853.7,225.6 862.6,223.3 871.4,222.5 880.2,225.9 889.1,224.7 897.9,224.4 906.7,225.3 915.6,228.8 924.4,224.4 933.3,224.5 942.1,223.8 950.9,230.5 959.8,226.5 968.6,230.6 977.4,225.5 986.3,226.9 995.1,222.3 1003.9,221.4 1012.8,217.2 1021.6,220.4 1030.5,219 1039.3,222.1 1048.1,222.6 1057,231.9 1065.8,228.9 1074.6,234.9 1083.5,237.2 1092.3,227.8 1101.1,226 1110,230.3 1118.8,228.2 1127.7,230.5 1136.5,232.5 1145.3,226.2 1154.2,233.8 1163,234.3 1171.8,226.7 1180.7,229.7 1189.5,226.6 1198.4,229.6 1207.2,231 1216,224.2 1224.9,225.4 1233.7,221.6 1242.5,217.7 1251.4,219.6 1260.2,219.6 1269,219.2 1277.9,222.7 1286.7,227.4 1295.6,227.1 1304.4,228.2 1313.2,231.1 1322.1,227.8"/>
<polyline points="809.5,228.5 818.4,226.2 827.2,226 836,226.2 844.9,221 853.7,223.2 862.6,225.6 871.4,225.8 880.2,224.2 889.1,225.5 897.9,226.7 906.7,230.8 915.6,227 924.4,222 933.3,226.9 942.1,229.4 950.9,231.8 959.8,226.6 968.6,222 977.4,223.9 986.3,226 995.1,228.4 1003.9,228.4 1012.8,230.3 1021.6,231.6 1030.5,227.4 1039.3,228.3 1048.1,222.8 1057,221 1065.8,223.4 1074.6,231.7 1083.5,237.2 1092.3,237.5 1101.1,228 1110,224.5 1118.8,226.6 1127.7,228.4 1136.5,224.5 1145.3,227.9 1154.2,228.6 1163,232.2 1171.8,232.9 1180.7,232.9 1189.5,232.2 1198.4,230.6 1207.2,231.3 1216,231.1 1224.9,227.9 1233.7,228.5 1242.5,228.9 1251.4,226 1260.2,225.6 1269,224.6 1277.9,223.9 1286.7,220.7 1295.6,222.5 1304.4,228.2 1313.2,230.5 1322.1,226.5"/>
<polyline points="809.5,230.1 818.4,228.3 827.2,224.4 836,229.9 844.9,227.3 853.7,223.2 862.6,222.4 871.4,224.2 880.2,225.5 889.1,224.8 897.9,226.1 906.7,220.8 915.6,216.7 924.4,221.1 933.3,225.2 942.1,227.7 950.9,227.3 959.8,225.6 968.6,225.7 977.4,221.7 986.3,223.9 995.1,225.3 1003.9,227.3 1012.8,224.8 1021.6,227.1 1030.5,229.1 1039.3,227.6 1048.1,227.8 1057,221.8 1065.8,219.1 1074.6,224.9 1083.5,224.9 1092.3,222.3 1101.1,217.9 1110,232.3 1118.8,234.9 1127.7,225.3 1136.5,229.7 1145.3,224.6 1154.2,224.7 1163,231.4 1171.8,229 1180.7,229.7 1189.5,229.5 1198.4,230.7 1207.2,224.7 1216,225.4 1224.9,226.1 1233.7,227.3 1242.5,222.3 1251.4,226.9 1260.2,226.1 1269,220.7 1277.9,225 1286.7,223.3 1295.6,227 1304.4,228.1 1313.2,225.3 1322.1,228.3"/>
<polyline points="809.5,222.4 818.4,224.3 827.2,222.2 836,226.4 844.9,222.7 853.7,219.9 862.6,223.8 871.4,220.2 880.2,219.2 889.1,217.7 897.9,224.7 906.7,217.6 915.6,223.1 924.4,222.3 933.3,221 942.1,218.2 950.9,219.8 959.8,222.2 968.6,218.6 977.4,218.8 986.3,217.8 995.1,217.6 1003.9,220.8 1012.8,219.6 1021.6,220.3 1030.5,220.2 1039.3,223.8 1048.1,224 1057,224.1 1065.8,229.3 1074.6,230.4 1083.5,227.7 1092.3,230.6 1101.1,228.1 1110,226.5 1118.8,223.7 1127.7,224.9 1136.5,223.2 1145.3,224.1 1154.2,225.9 1163,221.5 1171.8,228.6 1180.7,223.3 1189.5,228.7 1198.4,227.5 1207.2,224.1 1216,224.9 1224.9,227.3 1233.7,225.4 1242.5,221.7 1251.4,224.6 1260.2,223.4 1269,222.3 1277.9,226.1 1286.7,222.7 1295.6,222.1 1304.4,228.2 1313.2,227.8 1322.1,226.5"/>
<polyline points="809.5,222.8 818.4,227.2 827.2,225.1 836,221.9 844.9,228.3 853.7,226.4 862.6,226.1 871.4,221.9 880.2,223.2 889.1,225.4 897.9,225 906.7,223.8 915.6,228.4 924.4,230.3 933.3,226.4 942.1,221.5 950.9,223.1 959.8,226.2 968.6,223.5 977.4,226.9 986.3,228.2 995.1,227.3 1003.9,225.7 1012.8,219.2 1021.6,221 1030.5,226.7 1039.3,219.2 1048.1,225.6 1057,230 1065.8,223.8 1074.6,225.5 1083.5,226.6 1092.3,222.2 1101.1,220 1110,216.4 1118.8,219.9 1127.7,218.6 1136.5,215.9 1145.3,224.4 1154.2,227.6 1163,226.5 1171.8,221.2 1180.7,217.5 1189.5,221.9 1198.4,226.1 1207.2,218.2 1216,221.3 1224.9,218.3 1233.7,223.2 1242.5,224.3 1251.4,222.5 1260.2,224 1269,219.4 1277.9,222 1286.7,221.1 1295.6,219.9 1304.4,223 1313.2,223 1322.1,225.6"/>
<polyline points="809.5,225.1 818.4,219.9 827.2,223.1 836,224 844.9,228.7 853.7,230.6 862.6,227.6 871.4,218.4 880.2,221.5 889.1,221.4 897.9,224.7 906.7,221.4 915.6,220.7 924.4,220.8 933.3,218.9 942.1,216.5 950.9,222.8 959.8,222.1 968.6,225.1 977.4,225.8 986.3,225.1 995.1,225.1 1003.9,219 1012.8,220.5 1021.6,221.3 1030.5,214.7 1039.3,215.1 1048.1,223 1057,224.4 1065.8,224.3 1074.6,226.3 1083.5,228.9 1092.3,219.3 1101.1,220.5 1110,218.9 1118.8,223 1127.7,225.1 1136.5,225.9 1145.3,223.8 1154.2,221.7 1163,219.4 1171.8,221.5 1180.7,225.3 1189.5,226.1 1198.4,227.5 1207.2,222.4 1216,220.4 1224.9,220.9 1233.7,224.8 1242.5,222.3 1251.4,220.5 1260.2,223.5 1269,225.1 1277.9,220.2 1286.7,218.7 1295.6,217.9 1304.4,221 1313.2,225.3 1322.1,223.4"/>
<polyline points="809.5,221 818.4,219.4 827.2,220.5 836,226.5 844.9,226.4 853.7,225.1 862.6,229.4 871.4,225.8 880.2,222.8 889.1,224.4 897.9,221.7 906.7,226.2 915.6,228.9 924.4,230.9 933.3,228.7 942.1,230 950.9,228.9 959.8,226.2 968.6,225.2 977.4,227.3 986.3,229.4 995.1,232.9 1003.9,228.3 1012.8,228.8 1021.6,222.6 1030.5,225.1 1039.3,227.3 1048.1,228.8 1057,231.2 1065.8,226.8 1074.6,230 1083.5,224 1092.3,220 1101.1,222.2 1110,226.2 1118.8,232.3 1127.7,232.9 1136.5,234.1 1145.3,232.4 1154.2,228.1 1163,226 1171.8,223.1 1180.7,227.9 1189.5,225.6 1198.4,224.3 1207.2,227.5 1216,229.6 1224.9,231 1233.7,230.8 1242.5,230.6 1251.4,229.9 1260.2,230.6 1269,230.6 1277.9,224.1 1286.7,222.8 1295.6,228 1304.4,228.3 1313.2,231.1 1322.1,231.5"/>
<polyline points="809.5,231.5 818.4,226.4 827.2,227.7 836,221.4 844.9,224.7 853.7,227.4 862.6,222.5 871.4,226 880.2,226 889.1,225.6 897.9,229.7 906.7,226.5 915.6,225.7 924.4,223.5 933.3,225 942.1,227.1 950.9,229.1 959.8,223.4 968.6,220.4 977.4,225.9 986.3,225.5 995.1,226.7 1003.9,226.9 1012.8,227.7 1021.6,223.1 1030.5,221 1039.3,227.1 1048.1,221.3 1057,227.5 1065.8,228.6 1074.6,234.1 1083.5,231.5 1092.3,225.7 1101.1,226.4 1110,234.6 1118.8,231.7 1127.7,228.9 1136.5,230.5 1145.3,227.3 1154.2,228.5 1163,233.6 1171.8,233.6 1180.7,232.9 1189.5,232.2 1198.4,228.1 1207.2,231.1 1216,230.9 1224.9,227.1 1233.7,227.5 1242.5,223.8 1251.4,222.8 1260.2,227.5 1269,228.2 1277.9,221.8 1286.7,226.3 1295.6,226.1 1304.4,225.4 1313.2,226.3 1322.1,227.4"/>
<polyline points="809.5,223.7 818.4,225.2 827.2,220.1 836,222.1 844.9,223.4 853.7,227.2 862.6,228.9 871.4,224.4 880.2,226 889.1,224.9 897.9,227.7 906.7,226.3 915.6,227.5 924.4,224.4 933.3,223.5 942.1,222 950.9,221.4 959.8,225.7 968.6,221.4 977.4,218.9 986.3,226.8 995.1,228.3 1003.9,225.5 1012.8,232.1 1021.6,231.7 1030.5,229.7 1039.3,230.4 1048.1,225.8 1057,223.7 1065.8,228.1 1074.6,230.8 1083.5,224.5 1092.3,222 1101.1,223.6 1110,228.4 1118.8,225.7 1127.7,224 1136.5,230.8 1145.3,228.2 1154.2,227.3 1163,228.6 1171.8,230.8 1180.7,232.5 1189.5,223.3 1198.4,223.7 1207.2,222.4 1216,220.5 1224.9,228.2 1233.7,226.9 1242.5,230.3 1251.4,230.6 1260.2,228.5 1269,226.4 1277.9,230.4 1286.7,222.6 1295.6,227.8 1304.4,223.7 1313.2,227.6 1322.1,230"/>
<polyline points="809.5,222 818.4,222.1 827.2,225.7 836,228 844.9,229.9 853.7,227.1 862.6,225.8 871.4,219.9 880.2,218.6 889.1,216.9 897.9,218.5 906.7,220.6 915.6,222.1 924.4,225 933.3,226.4 942.1,225.4 950.9,226.8 959.8,224.9 968.6,222 977.4,226.8 986.3,225.2 995.1,223.7 1003.9,222.1 1012.8,224.5 1021.6,219.3 1030.5,222.7 1039.3,225.3 1048.1,221.8 1057,218.4 1065.8,219 1074.6,222.1 1083.5,226.5 1092.3,225.5 1101.1,233.5 1110,227.3 1118.8,220.9 1127.7,225.8 1136.5,231.9 1145.3,223.3 1154.2,225.2 1163,230.9 1171.8,225.4 1180.7,226.5 1189.5,226.3 1198.4,225.5 1207.2,218.9 1216,219.7 1224.9,218.5 1233.7,217.2 1242.5,218.5 1251.4,218.2 1260.2,221 1269,224.2 1277.9,227.5 1286.7,227.7 1295.6,225.9 1304.4,225.7 1313.2,227.2 1322.1,228.1"/>
<polyline points="809.5,222.5 818.4,223.1 827.2,221.8 836,224.5 844.9,222.6 853.7,226.9 862.6,225.1 871.4,227.6 880.2,223.6 889.1,220.7 897.9,225.7 906.7,224.9 915.6,223 924.4,220.6 933.3,219.1 942.1,221 950.9,225.3 959.8,229 968.6,223.2 977.4,220.7 986.3,220.2 995.1,220.3 1003.9,223.4 1012.8,230.4 1021.6,233.2 1030.5,231.5 1039.3,235 1048.1,229.4 1057,229.5 1065.8,228.8 1074.6,233.7 1083.5,228.6 1092.3,226.9 1101.1,221 1110,226.6 1118.8,230.9 1127.7,230.7 1136.5,230.3 1145.3,228.1 1154.2,227.6 1163,225.8 1171.8,227.1 1180.7,229.1 1189.5,226.2 1198.4,227.5 1207.2,229.6 1216,227.9 1224.9,223 1233.7,227.6 1242.5,222 1251.4,224.5 1260.2,223.5 1269,225.9 1277.9,228.3 1286.7,222.2 1295.6,225.3 1304.4,224.9 1313.2,227.9 1322.1,226.1"/>
<polyline points="809.5,226.8 818.4,226.8 827.2,225 836,226.9 844.9,230.8 853.7,230.6 862.6,230.9 871.4,231.8 880.2,231.4 889.1,226.6 897.9,230.5 906.7,229.4 915.6,229.8 924.4,226.7 933.3,232.5 942.1,227.2 950.9,230.1 959.8,222 968.6,226.7 977.4,229 986.3,226.1 995.1,227.1 1003.9,227.3 1012.8,227.9 1021.6,226.1 1030.5,221.7 1039.3,221.2 1048.1,223.4 1057,228.5 1065.8,223.3 1074.6,227 1083.5,229.4 1092.3,224.5 1101.1,230.6 1110,223.2 1118.8,220.8 1127.7,225.4 1136.5,227.2 1145.3,228.7 1154.2,229.3 1163,226.9 1171.8,224.5 1180.7,230.9 1189.5,232.2 1198.4,228.2 1207.2,229.4 1216,226.2 1224.9,221.9 1233.7,224.5 1242.5,219 1251.4,220.8 1260.2,221.3 1269,226.7 1277.9,221.5 1286.7,225.8 1295.6,225.7 1304.4,227.9 1313.2,228.5 1322.1,229.8"/>
<polyline points="809.5,230.1 818.4,229.6 827.2,226.6 836,226.7 844.9,225.3 853.7,222.7 862.6,223 871.4,221.6 880.2,225.6 889.1,223.3 897.9,224.1 906.7,227.7 915.6,223 924.4,226.9 933.3,222.4 942.1,220 950.9,224.4 959.8,220.1 968.6,224.4 977.4,225.7 986.3,224.3 995.1,222.3 1003.9,219.3 1012.8,220.9 1021.6,227.1 1030.5,231.4 1039.3,232.4 1048.1,228.6 1057,233.1 1065.8,231.1 1074.6,224.9 1083.5,219.7 1092.3,219.9 1101.1,227.4 1110,228.8 1118.8,226.6 1127.7,228.4 1136.5,226 1145.3,223.6 1154.2,219 1163,216.1 1171.8,220.4 1180.7,225.5 1189.5,221.7 1198.4,223.7 1207.2,224.6 1216,222.4 1224.9,223.1 1233.7,222 1242.5,224.4 1251.4,226.8 1260.2,225.4 1269,222.3 1277.9,224.2 1286.7,225.2 1295.6,228 1304.4,226.3 1313.2,226.7 1322.1,229.8"/>
<polyline points="809.5,221.1 818.4,228.8 827.2,224.7 836,225.6 844.9,220.9 853.7,222.3 862.6,225.5 871.4,228.2 880.2,226.3 889.1,232 897.9,230.4 906.7,223.7 915.6,230.7 924.4,224.9 933.3,227.6 942.1,226.1 950.9,223.2 959.8,227.1 968.6,228.1 977.4,233 986.3,233.1 995.1,231.1 1003.9,232.3 1012.8,230.3 1021.6,230.3 1030.5,228.4 1039.3,228.8 1048.1,231.5 1057,226.3 1065.8,236.3 1074.6,234.3 1083.5,235.6 1092.3,237.5 1101.1,237.5 1110,237.5 1118.8,237 1127.7,235 1136.5,233.1 1145.3,234 1154.2,233.4 1163,223.8 1171.8,226.1 1180.7,232.9 1189.5,232.2 1198.4,228.5 1207.2,230.9 1216,226.8 1224.9,228.6 1233.7,230.8 1242.5,229.6 1251.4,230.6 1260.2,230.6 1269,227.2 1277.9,228 1286.7,227.3 1295.6,224.4 1304.4,227.1 1313.2,231.3 1322.1,230.5"/>
<polyline points="809.5,226.2 818.4,228.3 827.2,227.9 836,222.8 844.9,218.1 853.7,217.8 862.6,219.6 871.4,221 880.2,221.7 889.1,219 897.9,223.7 906.7,229.3 915.6,220.4 924.4,221.2 933.3,219 942.1,221.2 950.9,225.5 959.8,222.8 968.6,228.2 977.4,226.2 986.3,228.4 995.1,231.7 1003.9,223.6 1012.8,223 1021.6,224.4 1030.5,228.8 1039.3,234.7 1048.1,222.7 1057,219.2 1065.8,220.2 1074.6,220.7 1083.5,227.8 1092.3,224 1101.1,227.6 1110,225.5 1118.8,227 1127.7,230.7 1136.5,232.9 1145.3,231.5 1154.2,230.5 1163,223.1 1171.8,222.9 1180.7,224.9 1189.5,224 1198.4,225.9 1207.2,223.4 1216,224.4 1224.9,219.3 1233.7,223.9 1242.5,219.6 1251.4,225.2 1260.2,224.2 1269,221.3 1277.9,218 1286.7,221.4 1295.6,223 1304.4,224.6 1313.2,224.5 1322.1,224.9"/>
<polyline points="809.5,214 818.4,215 827.2,220.1 836,214.2 844.9,214.2 853.7,215.9 862.6,219.6 871.4,223.5 880.2,222.8 889.1,223.4 897.9,225.4 906.7,221.3 915.6,218.5 924.4,221.6 933.3,218 942.1,218.2 950.9,216.1 959.8,214.1 968.6,214.2 977.4,214.2 986.3,214.2 995.1,214.1 1003.9,220.5 1012.8,214 1021.6,220.8 1030.5,223 1039.3,224.4 1048.1,224.5 1057,225.1 1065.8,224.4 1074.6,217 1083.5,222.9 1092.3,217.9 1101.1,214.2 1110,218.2 1118.8,222.2 1127.7,216 1136.5,218.8 1145.3,220 1154.2,221.7 1163,217.5 1171.8,215.6 1180.7,216 1189.5,214.5 1198.4,216.4 1207.2,215.5 1216,215.5 1224.9,218.1 1233.7,214.5 1242.5,215.3 1251.4,219.8 1260.2,222.9 1269,219.1 1277.9,217.4 1286.7,219.1 1295.6,219.3 1304.4,224.7 1313.2,224.3 1322.1,226.5"/>
<polyline points="809.5,222.6 818.4,222 827.2,230.4 836,224.3 844.9,227.7 853.7,222.5 862.6,228.2 871.4,229.7 880.2,225.1 889.1,227 897.9,224.4 906.7,226 915.6,232.3 924.4,232.4 933.3,231 942.1,232.6 950.9,231 959.8,232.8 968.6,229.7 977.4,233 986.3,233.1 995.1,230.6 1003.9,227.4 1012.8,228.3 1021.6,233.5 1030.5,226.7 1039.3,231.7 1048.1,232.7 1057,231.6 1065.8,226.6 1074.6,230.6 1083.5,234.4 1092.3,230.3 1101.1,227.3 1110,228.8 1118.8,225.5 1127.7,234.4 1136.5,228.8 1145.3,232.9 1154.2,226 1163,231.3 1171.8,233.6 1180.7,228.4 1189.5,232.2 1198.4,231.5 1207.2,230.2 1216,226.2 1224.9,228.3 1233.7,227.4 1242.5,229.6 1251.4,228 1260.2,230.6 1269,230.6 1277.9,230.6 1286.7,230.6 1295.6,230.8 1304.4,229.2 1313.2,231.1 1322.1,231.5"/>
<polyline points="809.5,221.9 818.4,220.3 827.2,219.3 836,223.4 844.9,219.7 853.7,218.6 862.6,217.6 871.4,220.7 880.2,221 889.1,214.7 897.9,219.5 906.7,223.5 915.6,220 924.4,217.1 933.3,220.3 942.1,220 950.9,218.4 959.8,218 968.6,220.6 977.4,215.1 986.3,214.2 995.1,218.3 1003.9,214.9 1012.8,218.1 1021.6,222.1 1030.5,225.4 1039.3,224.2 1048.1,221.7 1057,217.4 1065.8,221.4 1074.6,220.4 1083.5,215.8 1092.3,225 1101.1,222.6 1110,219.7 1118.8,214.1 1127.7,214.1 1136.5,221.1 1145.3,221.1 1154.2,216.9 1163,218.5 1171.8,214.9 1180.7,219.7 1189.5,214.5 1198.4,221.1 1207.2,217 1216,214.6 1224.9,214.5 1233.7,214.5 1242.5,215.4 1251.4,216.4 1260.2,216.2 1269,215.4 1277.9,221.5 1286.7,223.5 1295.6,222.6 1304.4,220.4 1313.2,221.4 1322.1,220.4"/>
<polyline points="809.5,228.2 818.4,223.2 827.2,221.4 836,218.5 844.9,221.7 853.7,222.4 862.6,225.1 871.4,217.2 880.2,214.8 889.1,215.8 897.9,221.2 906.7,219 915.6,224 924.4,226.4 933.3,221.5 942.1,225.1 950.9,217.2 959.8,221.6 968.6,219.4 977.4,224.2 986.3,228.7 995.1,221.5 1003.9,218.3 1012.8,222 1021.6,225.9 1030.5,219.4 1039.3,223.8 1048.1,224.2 1057,221 1065.8,226.9 1074.6,227.1 1083.5,219 1092.3,220.1 1101.1,221 1110,228.5 1118.8,225.9 1127.7,220 1136.5,221.9 1145.3,228.6 1154.2,218.3 1163,216.9 1171.8,214.9 1180.7,221.4 1189.5,221.4 1198.4,222.7 1207.2,225.1 1216,224.3 1224.9,221.6 1233.7,220.2 1242.5,223 1251.4,222.4 1260.2,224.7 1269,223.6 1277.9,219.7 1286.7,222 1295.6,219.9 1304.4,218.2 1313.2,220.5 1322.1,221"/>
<polyline points="809.5,217.6 818.4,214.9 827.2,223.2 836,220.3 844.9,218.1 853.7,220.5 862.6,218.1 871.4,223.6 880.2,217.4 889.1,223.8 897.9,218.9 906.7,228.5 915.6,224.9 924.4,229.2 933.3,223.2 942.1,228.7 950.9,228.1 959.8,222.1 968.6,225.8 977.4,218.2 986.3,221.4 995.1,221.2 1003.9,227.8 1012.8,229.3 1021.6,226.3 1030.5,228.7 1039.3,221.1 1048.1,219.8 1057,225.9 1065.8,221.7 1074.6,225.8 1083.5,235.6 1092.3,223.3 1101.1,221.5 1110,223.6 1118.8,224.6 1127.7,226.2 1136.5,217.4 1145.3,227.1 1154.2,229.7 1163,222.5 1171.8,222.9 1180.7,224.4 1189.5,218 1198.4,221.7 1207.2,217.3 1216,218.2 1224.9,217.9 1233.7,218.6 1242.5,225.5 1251.4,219.4 1260.2,217.3 1269,224.6 1277.9,222 1286.7,223.8 1295.6,225.7 1304.4,228.1 1313.2,222.3 1322.1,224.1"/>
<polyline points="809.5,214.8 818.4,219.4 827.2,222.1 836,224.9 844.9,221.9 853.7,221.3 862.6,220.8 871.4,222.9 880.2,225.6 889.1,227.6 897.9,230.9 906.7,230.3 915.6,222.9 924.4,220.7 933.3,218.7 942.1,222 950.9,224.9 959.8,221.2 968.6,219.7 977.4,225.2 986.3,227.2 995.1,230.2 1003.9,228.7 1012.8,226.1 1021.6,223.9 1030.5,225.2 1039.3,225.7 1048.1,224.2 1057,224.6 1065.8,224.5 1074.6,226.8 1083.5,225.2 1092.3,231.4 1101.1,228.8 1110,233.3 1118.8,229.4 1127.7,227.3 1136.5,222.4 1145.3,229 1154.2,220.8 1163,222 1171.8,221.3 1180.7,221.6 1189.5,223.1 1198.4,219.2 1207.2,217.6 1216,224 1224.9,222.6 1233.7,218.2 1242.5,220.2 1251.4,218.1 1260.2,223.1 1269,221.4 1277.9,225.4 1286.7,227.1 1295.6,228.6 1304.4,228.3 1313.2,227.1 1322.1,227.7"/>
<polyline points="809.5,214.4 818.4,224.1 827.2,224.1 836,223.9 844.9,223.4 853.7,230 862.6,229.3 871.4,225.6 880.2,229.6 889.1,224.2 897.9,222.6 906.7,219.4 915.6,219.2 924.4,220.9 933.3,220.8 942.1,222 950.9,222.3 959.8,221.8 968.6,221.7 977.4,222.6 986.3,226.6 995.1,222.7 1003.9,227.3 1012.8,231.3 1021.6,228.3 1030.5,231.5 1039.3,233.4 1048.1,232.4 1057,229 1065.8,229.1 1074.6,232.9 1083.5,231.1 1092.3,225.8 1101.1,222.4 1110,224.8 1118.8,223.6 1127.7,232.6 1136.5,225.5 1145.3,226.7 1154.2,232.2 1163,225.1 1171.8,229.2 1180.7,229.7 1189.5,228.7 1198.4,223.8 1207.2,222.3 1216,220.7 1224.9,219.7 1233.7,220.1 1242.5,220.7 1251.4,223.4 1260.2,222.1 1269,222.1 1277.9,221.7 1286.7,222 1295.6,226.1 1304.4,226 1313.2,228.5 1322.1,227.8"/>
<polyline points="809.5,227.2 818.4,227 827.2,229.7 836,230.2 844.9,227.2 853.7,225.3 862.6,228 871.4,231.8 880.2,228.1 889.1,232 897.9,232.1 906.7,231 915.6,228.3 924.4,229.5 933.3,228 942.1,232.2 950.9,232.7 959.8,232.8 968.6,232.9 977.4,233 986.3,232.6 995.1,230.5 1003.9,233.3 1012.8,227.6 1021.6,233.5 1030.5,234.3 1039.3,235.1 1048.1,235.9 1057,236.7 1065.8,228.4 1074.6,234.5 1083.5,233.4 1092.3,237.5 1101.1,233 1110,235.6 1118.8,237 1127.7,236.5 1136.5,236 1145.3,231.7 1154.2,234.6 1163,227.8 1171.8,224 1180.7,227.1 1189.5,228.1 1198.4,222.8 1207.2,223.9 1216,230.7 1224.9,231 1233.7,230.5 1242.5,230.6 1251.4,229.2 1260.2,226.5 1269,224.8 1277.9,226.8 1286.7,228.6 1295.6,230.8 1304.4,231.1 1313.2,228.9 1322.1,228.7"/>
<polyline points="809.5,218.7 818.4,223.6 827.2,220.3 836,221.8 844.9,219.4 853.7,215.2 862.6,217.6 871.4,220.6 880.2,214 889.1,219.2 897.9,224.1 906.7,226.1 915.6,215.7 924.4,219.5 933.3,223 942.1,219.7 950.9,217.6 959.8,214.1 968.6,220.8 977.4,216.9 986.3,214.2 995.1,215.3 1003.9,218.8 1012.8,217.4 1021.6,219.2 1030.5,220.6 1039.3,225.5 1048.1,224.1 1057,225.9 1065.8,227.9 1074.6,227.8 1083.5,220.2 1092.3,224.7 1101.1,218.5 1110,220.5 1118.8,216.6 1127.7,214.1 1136.5,223 1145.3,228.7 1154.2,228.1 1163,225.2 1171.8,225.7 1180.7,223.6 1189.5,216.9 1198.4,221.3 1207.2,216.7 1216,214.5 1224.9,218.7 1233.7,219.9 1242.5,221.8 1251.4,224.2 1260.2,217.9 1269,218.4 1277.9,221 1286.7,223 1295.6,221.2 1304.4,224.4 1313.2,224.5 1322.1,221.9"/>
<polyline points="809.5,219.3 818.4,226.7 827.2,225.5 836,227.3 844.9,229.4 853.7,227.8 862.6,229.2 871.4,231.6 880.2,224.6 889.1,219 897.9,222.6 906.7,221.6 915.6,221.9 924.4,230.1 933.3,231.2 942.1,224.7 950.9,226.6 959.8,220.2 968.6,224 977.4,229.8 986.3,228.1 995.1,227.5 1003.9,226 1012.8,229.6 1021.6,228.6 1030.5,228.4 1039.3,223.5 1048.1,227.7 1057,229.4 1065.8,229.3 1074.6,235.8 1083.5,235 1092.3,228.4 1101.1,222.1 1110,231.9 1118.8,233 1127.7,227.2 1136.5,219.7 1145.3,221.7 1154.2,228.5 1163,227.9 1171.8,230.5 1180.7,228.8 1189.5,222.8 1198.4,224.4 1207.2,225.2 1216,218.8 1224.9,220.9 1233.7,221 1242.5,218.9 1251.4,224.4 1260.2,224.3 1269,226.8 1277.9,229.2 1286.7,223.7 1295.6,228.4 1304.4,228.7 1313.2,227.1 1322.1,230.8"/>
<polyline points="809.5,222.6 818.4,224.1 827.2,216.6 836,222.8 844.9,223.4 853.7,218.5 862.6,225.5 871.4,223.3 880.2,230.3 889.1,223.8 897.9,224.5 906.7,218.7 915.6,218.2 924.4,216.8 933.3,218.5 942.1,227.5 950.9,231.1 959.8,227.6 968.6,226.5 977.4,222.6 986.3,225.3 995.1,219 1003.9,221.4 1012.8,227.6 1021.6,225.1 1030.5,223.9 1039.3,223.5 1048.1,227.3 1057,228.9 1065.8,231.9 1074.6,231.2 1083.5,224.6 1092.3,226.4 1101.1,230.6 1110,232.9 1118.8,220 1127.7,223.4 1136.5,226.3 1145.3,225.8 1154.2,222.2 1163,219.5 1171.8,223.5 1180.7,225.7 1189.5,223.9 1198.4,228.2 1207.2,230.7 1216,221.1 1224.9,224.3 1233.7,218.4 1242.5,220 1251.4,223.1 1260.2,222.1 1269,221.1 1277.9,220.5 1286.7,226.6 1295.6,222.2 1304.4,224.2 1313.2,223 1322.1,228.8"/>
<polyline points="809.5,231.5 818.4,227.1 827.2,231.4 836,231.5 844.9,231.5 853.7,225.9 862.6,223.8 871.4,225.8 880.2,227 889.1,229.4 897.9,232.1 906.7,226.6 915.6,227.1 924.4,231.4 933.3,228.5 942.1,228.1 950.9,232.7 959.8,232.8 968.6,229.9 977.4,226.4 986.3,227.3 995.1,231 1003.9,228.8 1012.8,230.3 1021.6,233.5 1030.5,229.5 1039.3,224.9 1048.1,223.5 1057,228.8 1065.8,224.8 1074.6,224.1 1083.5,222.5 1092.3,229.1 1101.1,230.7 1110,236.6 1118.8,235.1 1127.7,230 1136.5,231.8 1145.3,228.4 1154.2,226.2 1163,225 1171.8,229 1180.7,230.7 1189.5,229.4 1198.4,226 1207.2,231.3 1216,231.1 1224.9,225.2 1233.7,227.3 1242.5,229.5 1251.4,228 1260.2,230.6 1269,226.4 1277.9,230.6 1286.7,226.3 1295.6,226.7 1304.4,229.5 1313.2,228.3 1322.1,227"/>
<polyline points="809.5,224 844.9,226 871.4,229 880.2,234 889.1,242 897.9,260.7 906.7,282.5 915.6,305.4 924.4,330.3 933.3,342.8 942.1,328.3 950.9,277.3 959.8,202 968.6,118 977.4,77.4 986.3,77.4 995.1,103.4 1003.9,136.7 1012.8,165.4 1021.6,189.7 1030.5,205.3 1039.3,211.5 1048.1,214.6 1057,217 1110,220"/>
<polyline points="889.1,228 897.9,232 906.7,236.8 915.6,247.2 924.4,255.5 933.3,259.2 942.1,256.5 950.9,246.1 959.8,234 968.6,228"/>
<polyline points="977.4,226 1012.8,230 1021.6,235 1030.5,250.5 1039.3,270 1048.1,290 1057,310 1065.8,323 1074.6,316 1083.5,293 1092.3,247 1101.1,187 1110,143.5 1118.8,129.5 1127.7,138.3 1136.5,158 1145.3,178.9 1154.2,196.5 1163,210 1171.8,216 1198.4,220"/>
<polyline points="950.9,224 959.8,218 968.6,212 977.4,203.4 986.3,191.8 995.1,188.8 1003.9,193.2 1012.8,199 1021.6,204.3 1030.5,209.5 1039.3,213 1048.1,216"/>
<polyline points="809.5,222 818.4,214.6 827.2,209.5 836,202.2 844.9,198.4 853.7,197.4 862.6,198.4 871.4,202.2 880.2,206.3 889.1,210.5 897.9,214 906.7,217"/>
<polyline points="809.5,201.8 818.4,202.6 827.2,204.7 836,207.4 844.9,209.9 853.7,212.6 862.6,215 871.4,217"/>
<polyline points="809.5,209.5 827.2,209.8 844.9,210.5 853.7,211.5 871.4,208.5 889.1,207.8 924.4,208 959.8,208.8 977.4,209.5 995.1,211 1012.8,213 1030.5,216"/>
<polyline points="809.5,208.5 836,209.5 862.6,211 889.1,212.5"/>
<polyline points="809.5,210.5 827.2,211.5 844.9,213 862.6,214"/>
<polyline points="809.5,212 836,213 853.7,214"/>
<polyline points="871.4,212 880.2,209.8 906.7,208.9 942.1,209.1 977.4,210.2 1012.8,212.5 1030.5,215"/>
<polyline points="1012.8,216 1021.6,211 1030.5,207.4 1039.3,205.3 1048.1,206.3 1057,208.4 1065.8,211.5 1074.6,215"/>
<polyline points="1198.4,216 1207.2,212 1216,207.5 1224.9,202.8 1233.7,197.6 1242.5,196.1 1251.4,197 1260.2,200.7 1269,205.3 1277.9,210 1286.7,215 1295.6,219"/>
<polyline points="1216,214 1224.9,211 1233.7,209 1242.5,207 1251.4,204.4 1260.2,202.8 1269,202.1 1277.9,203.2 1286.7,205.9 1295.6,209.4 1304.4,213.2 1313.2,216.9 1322.1,219.4"/>
<polyline points="1163,216 1171.8,213 1180.7,210.5 1189.5,208.6 1198.4,205.9 1207.2,204.4 1216,205.3 1224.9,207 1233.7,210 1242.5,214"/>
<polyline points="1145.3,214 1171.8,211.5 1198.4,209.5 1224.9,210 1251.4,211.5 1277.9,214.5 1295.6,217"/>
<polyline points="1163,214 1189.5,212 1216,211 1242.5,211.5 1269,213.5 1295.6,217 1322.1,220"/>
<polyline points="1180.7,214 1207.2,212.5 1233.7,212.8 1260.2,213 1286.7,215.5 1313.2,219"/>
<polyline points="1189.5,213 1207.2,210.5 1224.9,209 1242.5,209.5 1260.2,211 1277.9,213.5 1304.4,217.5 1322.1,220"/>
<polyline points="1171.8,214 1198.4,211 1224.9,211.8 1251.4,212.5 1277.9,214 1304.4,218"/>
<polyline points="1030.5,232 1048.1,236 1065.8,240 1092.3,246.4 1118.8,252.7 1145.3,257.9 1163,254.7 1180.7,246.4 1198.4,236 1207.2,231"/>
<polyline points="1030.5,233 1048.1,238 1065.8,243 1092.3,249.6 1110,250.2 1127.7,248.9 1154.2,243.3 1171.8,236 1180.7,232"/>
<polyline points="1065.8,238 1092.3,244 1118.8,247 1145.3,244 1171.8,236 1180.7,232"/>
<polyline points="1083.5,240 1110,247 1136.5,254 1154.2,253 1171.8,247 1189.5,238 1198.4,233"/>
<polyline points="1057,236 1083.5,243 1110,246 1136.5,243 1163,237 1171.8,233"/>
<polyline points="950.9,231 959.8,234 968.6,237.5 977.4,239.9 986.3,238.5 995.1,235 1003.9,231"/>
<polyline points="950.9,230 959.8,233 968.6,236 977.4,237.5 986.3,236 995.1,233 1003.9,230"/>
<polyline points="862.6,231 871.4,235 880.2,238 889.1,238.9 897.9,236 906.7,232"/>
<polyline points="844.9,230 862.6,234.5 880.2,236.5 897.9,234 906.7,231"/>
<polyline points="968.6,222.9 977.4,203.6 986.3,224.5"/>
<polyline points="1048.1,220.9 1057,206.5 1065.8,221.1"/>
<polyline points="1065.8,221.8 1074.6,200.8 1083.5,223.9"/>
<polyline points="1101.1,222.7 1110,210 1118.8,222.7"/>
<polyline points="1110,219.4 1118.8,202.6 1127.7,225.4"/>
<polyline points="1127.7,224.8 1136.5,202.2 1145.3,223.1"/>
<polyline points="1154.2,225.9 1163,206.5 1171.8,221.6"/>
<polyline points="1136.5,224.8 1145.3,210.5 1154.2,224.4"/>
<polyline points="995.1,220.8 1003.9,210.5 1012.8,223.6"/>
<polyline points="809.5,223.6 818.4,239.9 827.2,220.6"/>
<polyline points="818.4,222.4 827.2,235.5 836,227.8"/>
<polyline points="844.9,228.2 853.7,235 862.6,227"/>
<polyline points="853.7,223.6 862.6,236.8 871.4,223.1"/>
<polyline points="906.7,223.9 915.6,237.4 924.4,220.8"/>
<polyline points="924.4,221.2 933.3,237.4 942.1,220.9"/>
<polyline points="933.3,223.2 942.1,235 950.9,222.1"/>
<polyline points="942.1,220.7 950.9,235 959.8,222.7"/>
<polyline points="986.3,222.7 995.1,238 1003.9,221.5"/>
<polyline points="1003.9,221.5 1012.8,237.3 1021.6,220.4"/>
<polyline points="1021.6,220.5 1030.5,239.4 1039.3,225.1"/>
<polyline points="1145.3,220.7 1154.2,249.5 1163,221"/>
<polyline points="1163,219.5 1171.8,246.4 1180.7,223.8"/>
<polyline points="1189.5,224.6 1198.4,238 1207.2,223"/>
<polyline points="1207.2,221.8 1216,242.3 1224.9,224.1"/>
<polyline points="1224.9,225.8 1233.7,239 1242.5,222.4"/>
<polyline points="1242.5,224.2 1251.4,237 1260.2,221.8"/>
<polyline points="1260.2,219.6 1269,240.2 1277.9,225.7"/>
<polyline points="1304.4,223.6 1313.2,242.9 1322.1,221.3"/>
<polyline points="1083.5,222.3 1092.3,248.7 1101.1,221.5"/>
<polyline points="827.2,222.6 836,234.5 844.9,222.4"/>
<polyline points="862.6,224.6 871.4,235 880.2,221.9"/>
<polyline points="889.1,224 897.9,234.5 906.7,218.9"/>
<polyline points="915.6,224.2 924.4,235.5 933.3,219.2"/>
<polyline points="950.9,220.2 959.8,235 968.6,223.4"/>
<polyline points="1039.3,221.2 1048.1,238 1057,220.4"/>
<rect x="779.7" y="66.9" width="572.5" height="286.4"/>
<path d="M800.7 353.3H1330.9M800.7 353.3v15.9M889.1 353.3v15.9M977.4 353.3v15.9M1065.8 353.3v15.9M1154.2 353.3v15.9M1242.5 353.3v15.9M1330.9 353.3v15.9M779.7 300.7V85.2M779.7 300.7h-15.9M779.7 228.9h-15.9M779.7 157h-15.9M779.7 85.2h-15.9"/>
</g>
<text class="t" x="1065.9" y="44.9" text-anchor="middle">G1.LIFEEX</text>
<text class="a" x="800.7" y="411" text-anchor="middle">1960</text>
<text class="a" x="977.4" y="411" text-anchor="middle">1980</text>
<text class="a" x="1154.2" y="411" text-anchor="middle">2000</text>
<text class="a" x="1330.9" y="411" text-anchor="middle">2020</text>
<text class="a" transform="translate(741.1 300.7) rotate(-90)" text-anchor="middle">-10</text>
<text class="a" transform="translate(741.1 228.9) rotate(-90)" text-anchor="middle">0</text>
<text class="a" transform="translate(741.1 157) rotate(-90)" text-anchor="middle">10</text>
<text class="a" transform="translate(741.1 85.2) rotate(-90)" text-anchor="middle">20</text>
<g class="l">
<polyline points="507.2,636.7 516,623.3 524.9,643.5 533.7,638.4 542.5,627.4 551.4,629.9 560.2,628.6 569,624.2 577.9,649.4 586.7,645.5 595.6,629.6"/>
<polyline points="507.2,655.2 516,651.9 524.9,619.7 533.7,634.3 542.5,624.2 551.4,633.2 560.2,646.5 569,628.3 577.9,620.6 586.7,652 595.6,647.3 604.4,632.7 613.2,625.4"/>
<polyline points="507.2,639.6 516,633.2 524.9,631.2 533.7,623.3 542.5,655.2 551.4,626.3 560.2,632.2 569,650.5 577.9,651.6 586.7,651.2 595.6,654.9 604.4,625.1 613.2,640.7 622.1,638.5"/>
<polyline points="516,626.9 524.9,633.4 533.7,622.4 542.5,638.2 551.4,651.7 560.2,626.2 569,637.2 577.9,633.3 586.7,638.8 595.6,631.1 604.4,630.8 613.2,651.6 622.1,631.3"/>
<polyline points="489.5,636.4 498.4,641.8 507.2,640 516,659.7 524.9,634.5 533.7,651.5 542.5,651.4 551.4,631.8 560.2,620.8 569,640.6 577.9,632.4 586.7,628.2 595.6,626.7"/>
<polyline points="480.7,631.9 489.5,646.1 498.4,651.1 507.2,653 516,646.4 524.9,628.4 533.7,647.3 542.5,631.1 551.4,645.6 560.2,624.6 569,638.4 577.9,652.3 586.7,641.5 595.6,644.5 604.4,633.4 613.2,630.5"/>
<polyline points="489.5,650.1 498.4,627.6 507.2,657.5 516,623.5 524.9,632.7 533.7,629.7 542.5,633.7 551.4,647.2 560.2,617.2 569,627.7 577.9,625.5 586.7,629.7 595.6,628.4 604.4,637.7 613.2,637.1 622.1,642.8"/>
<polyline points="489.5,629.4 498.4,622.6 507.2,625.6 516,642.1 524.9,630.6 533.7,620.2 542.5,638.6 551.4,628.6 560.2,631.2 569,635.7 577.9,650.4 586.7,635.5 595.6,650.6"/>
<polyline points="524.9,631.6 533.7,627.7 542.5,650.4 551.4,629.7 560.2,626.3 569,638.1 577.9,647.2 586.7,622.6"/>
<polyline points="480.7,652.3 489.5,632.3 498.4,646.6 507.2,657.4 516,640 524.9,641.4 533.7,641.3 542.5,646 551.4,650.3 560.2,639.1 569,622.8 577.9,649.9 586.7,636.8 595.6,649.1"/>
<polyline points="507.2,634.8 516,652.2 524.9,650.2 533.7,621.9 542.5,657.5 551.4,630.8 560.2,649.3 569,625.1 577.9,638 586.7,653.3 595.6,628.1 604.4,626.8 613.2,641.2 622.1,648.3"/>
<polyline points="507.2,645.5 516,629.9 524.9,637.2 533.7,635.7 542.5,619.7 551.4,633.8 560.2,640.3 569,643.9 577.9,652.3 586.7,639.2"/>
<polyline points="516,643.6 524.9,651.6 533.7,645.9 542.5,626.4 551.4,633.3 560.2,642 569,637.3 577.9,624.2 586.7,638.1 595.6,625.3 604.4,627.7"/>
<polyline points="507.2,623.2 516,631.7 524.9,655.6 533.7,633.5 542.5,635.7 551.4,646.7 560.2,637.2 569,618.7 577.9,630.9 586.7,651 595.6,625.7 604.4,644.9 613.2,631.5 622.1,646.7"/>
<polyline points="524.9,651.2 533.7,638.5 542.5,625.1 551.4,647.2 560.2,618.3 569,637.9 577.9,628.4 586.7,643.1 595.6,621.5 604.4,654.5 613.2,644.5 622.1,645.5"/>
<polyline points="480.7,652.7 489.5,647.4 498.4,641.4 507.2,649.4 516,641.9 524.9,642.7 533.7,641.2 542.5,659.6 551.4,645 560.2,626.8 569,625.5 577.9,645.9 586.7,632.2 595.6,642.3 604.4,651 613.2,646.5"/>
<polyline points="516,634.1 524.9,659.9 533.7,642.1 542.5,625.3 551.4,629.6 560.2,639.1 569,649.8 577.9,654.8 586.7,641.8 595.6,634.8 604.4,642.6 613.2,632.9"/>
<polyline points="507.2,657.4 516,642.9 524.9,651.5 533.7,625.4 542.5,627.8 551.4,634.9 560.2,637.2 569,658.3 577.9,647.3 586.7,634.2 595.6,625.7 604.4,637.7 613.2,632.1"/>
<polyline points="524.9,650.2 533.7,645.6 542.5,637.4 551.4,649.2 560.2,652.7 569,644.2 577.9,639.8 586.7,635.5 595.6,624.6 604.4,643.1 613.2,638"/>
<polyline points="480.7,652.3 489.5,640.8 498.4,643.9 507.2,654.7 516,631.6 524.9,636 533.7,659.7 542.5,628.5 551.4,630.9 560.2,644.1 569,649.7 577.9,619.9 586.7,625 595.6,625.2 604.4,639.4"/>
<polyline points="524.9,644 533.7,634.7 542.5,627.9 551.4,619.3 560.2,639.7 569,643.9 577.9,653.1 586.7,625.7 595.6,634 604.4,626.6 613.2,635.7 622.1,647.2"/>
<polyline points="480.7,628.9 489.5,646.8 498.4,639.9 507.2,634.4 516,646 524.9,643 533.7,652 542.5,636.3 551.4,655.2 560.2,629.5 569,640.9 577.9,620.8 586.7,636.5 595.6,628.9 604.4,628.3 613.2,628.7 622.1,639.4"/>
<polyline points="489.5,627.8 498.4,649.5 507.2,647.3 516,629.4 524.9,652.9 533.7,646.4 542.5,638.3 551.4,639.8 560.2,619.1 569,647.4 577.9,628.7 586.7,652.3 595.6,647.4 604.4,629.9 613.2,628.9"/>
<polyline points="489.5,632.4 498.4,639.3 507.2,634.7 516,654.5 524.9,636.8 533.7,656.9 542.5,634.9 551.4,633.8 560.2,634 569,656.7 577.9,625.6 586.7,624.2 595.6,625.3 604.4,637.4"/>
<polyline points="489.5,643.1 498.4,625.7 507.2,625.3 516,625.1 524.9,643.7 533.7,623.5 542.5,627.6 551.4,636.4 560.2,647.7 569,641.9 577.9,648.5 586.7,629 595.6,653.5 604.4,645 613.2,651.1 622.1,637.4"/>
<polyline points="489.5,632.4 498.4,628.1 507.2,640.2 516,642 524.9,624.4 533.7,643.3 542.5,632.2 551.4,627.8 560.2,648.1 569,629.5 577.9,651.6 586.7,647.9 595.6,641.2 604.4,630.1 613.2,649.7 622.1,639.7"/>
<polyline points="480.7,627.6 489.5,642.4 498.4,634 507.2,632.7 516,634.1 524.9,640.3 533.7,652 542.5,623 551.4,635.4 560.2,621.5 569,656.5 577.9,644.5 586.7,651.8 595.6,640.1 604.4,644"/>
<polyline points="489.5,645.3 498.4,652.4 507.2,649.6 516,635.3 524.9,637.9 533.7,637.4 542.5,636.7 551.4,636 560.2,630.2 569,632.6 577.9,620.4 586.7,653.9 595.6,629.4 604.4,651 613.2,630.2 622.1,637"/>
<polyline points="480.7,645.6 489.5,625.9 498.4,643.3 507.2,652.7 516,636.6 524.9,644.5 533.7,635.4 542.5,646.1 551.4,635.2 560.2,631.9 569,655.2 577.9,628.2 586.7,648.3 595.6,647.4 604.4,644.4 613.2,640.5"/>
<polyline points="480.7,636.7 489.5,630.1 498.4,648.3 507.2,652.1 516,636.6 524.9,631.2 533.7,644.8 542.5,635.8 551.4,628.3 560.2,643.7 569,640.4 577.9,652.6 586.7,631.6"/>
<polyline points="524.9,626.6 533.7,648.8 542.5,627 551.4,626.4 560.2,652.3 569,649.7 577.9,644.5 586.7,628.4 595.6,627.3 604.4,628.3"/>
<polyline points="507.2,643.4 516,633.7 524.9,627.5 533.7,640 542.5,637.8 551.4,623.1 560.2,624.9 569,640.4 577.9,633.2 586.7,621.7"/>
<polyline points="480.7,642.2 489.5,643.8 498.4,638.1 507.2,637.8 516,626.5 524.9,621.5 533.7,622.5 542.5,641.2 551.4,659.3 560.2,638 569,648.2 577.9,628.3 586.7,647.4 595.6,650 604.4,645.1"/>
<polyline points="480.7,651.6 489.5,647.7 498.4,630.4 507.2,629.3 516,642.2 524.9,654.6 533.7,631.3 542.5,630.9 551.4,643.1 560.2,643.1 569,642.8 577.9,653.7 586.7,643 595.6,625.3 604.4,627.5 613.2,630.4 622.1,639.4"/>
<polyline points="489.5,641.9 498.4,648 507.2,644 516,654.5 524.9,634 533.7,635.2 542.5,638.7 551.4,630.4 560.2,634.7 569,628.3 577.9,639.7 586.7,646.6 595.6,634.4 604.4,653.8 613.2,635.9"/>
<polyline points="480.7,630.8 489.5,646.5 498.4,642.7 507.2,658.7 516,630.1 524.9,650.4 533.7,643.6 542.5,645.9 551.4,633.5 560.2,656.4 569,639.8 577.9,631.4 586.7,625.7 595.6,631.4 604.4,633.6"/>
<polyline points="524.9,639.2 533.7,638.3 542.5,647.2 551.4,630.7 560.2,623.4 569,634 577.9,639.1 586.7,632.6 595.6,632 604.4,636.9 613.2,650.6"/>
<polyline points="480.7,639.1 489.5,632.7 498.4,650.1 507.2,641.6 516,638.4 524.9,635 533.7,641.3 542.5,647.2 551.4,630 560.2,636.6 569,621.7 577.9,622.6 586.7,623.6 595.6,649.6 604.4,628"/>
<polyline points="524.9,643.6 533.7,645 542.5,628.4 551.4,620.9 560.2,645.4 569,647.2 577.9,631.8 586.7,625.9 595.6,630.8"/>
<polyline points="480.7,649.2 489.5,638.8 498.4,635.3 507.2,624.2 516,639.2 524.9,643.8 533.7,628.3 542.5,638.4 551.4,631.3 560.2,639.5 569,626.7 577.9,625.8 586.7,649.6 595.6,652.5 604.4,636.1 613.2,633.5 622.1,648.7"/>
<polyline points="524.9,648.2 533.7,626 542.5,640.3 551.4,651.1 560.2,650.5 569,648.3 577.9,635.2 586.7,653.6 595.6,630.8 604.4,644.3 613.2,631 622.1,636.9"/>
<polyline points="489.5,649.4 498.4,644.6 507.2,652.8 516,631 524.9,641.5 533.7,631.4 542.5,651.6 551.4,632.8 560.2,626.1 569,630.6 577.9,634.5 586.7,655.4 595.6,619.8 604.4,629.3 613.2,639.1 622.1,649.2"/>
<polyline points="507.2,622.2 516,625.9 524.9,638.9 533.7,632.7 542.5,645.9 551.4,621.8 560.2,653.1 569,658.8 577.9,654.2 586.7,647.6"/>
<polyline points="489.5,646 498.4,638 507.2,645.3 516,644 524.9,647 533.7,657.8 542.5,652.5 551.4,645.7 560.2,638 569,652.6 577.9,656.4 586.7,645.5 595.6,652 604.4,628.9 613.2,650.2 622.1,651.2"/>
<polyline points="489.5,641.2 498.4,638.9 507.2,621.5 516,651.5 524.9,637.7 533.7,657.8 542.5,643.5 551.4,658.4 560.2,623.5 569,654.5 577.9,632.3 586.7,648.2"/>
<polyline points="480.7,650.7 489.5,629.1 498.4,631.9 507.2,656.8 516,641.4 524.9,626.5 533.7,630.1 542.5,656.4 551.4,629.9 560.2,644.9 569,622.7 577.9,631.6 586.7,622.2 595.6,633.8 604.4,626.1 613.2,641.9"/>
<polyline points="507.2,625.4 516,627.3 524.9,639.7 533.7,620.9 542.5,626.5 551.4,622.3 560.2,624 569,624.4 577.9,637.9 586.7,655.3"/>
<polyline points="480.7,628.7 489.5,641.4 498.4,648.3 507.2,649.6 516,633.5 524.9,632.7 533.7,648.7 542.5,627 551.4,635.8 560.2,626.6 569,623.1 577.9,622.9 586.7,640.5 595.6,628.3 604.4,639.9"/>
<polyline points="498.4,630.3 507.2,636 516,629.2 524.9,629.1 533.7,641.5 542.5,646.9 551.4,651.8 560.2,649.7 569,620.1 577.9,637.6 586.7,638.2 595.6,622.2 604.4,644.1 613.2,633.7"/>
<polyline points="507.2,643.6 516,621.2 524.9,656 533.7,641 542.5,627.2 551.4,622.2 560.2,623.8 569,633.3 577.9,658.9 586.7,647.1 595.6,623.8 604.4,644.8 613.2,632.7 622.1,645.9"/>
<polyline points="489.5,632.6 498.4,653.3 507.2,622.6 516,641.6 524.9,624.4 533.7,647.1 542.5,651.9 551.4,627.2 560.2,629 569,635.1 577.9,649.8 586.7,653.1 595.6,630.4 604.4,643.8"/>
<polyline points="498.4,632 507.2,647 516,640.3 524.9,646.1 533.7,647.9 542.5,630 551.4,622.8 560.2,651.2 569,624.9 577.9,642.8 586.7,651.4 595.6,645.8 604.4,628.4 613.2,648.9 622.1,634"/>
<polyline points="507.2,626.2 516,628.6 524.9,632.8 533.7,637 542.5,622.5 551.4,632.5 560.2,626.2 569,634.8 577.9,623 586.7,653.7 595.6,639.5 604.4,649.6 613.2,637.8 622.1,644.6"/>
<polyline points="480.7,643.4 489.5,647.4 498.4,649.1 507.2,622.8 516,642.4 524.9,635.2 533.7,630.8 542.5,648.3 551.4,652.8 560.2,644.1 569,629.6 577.9,639.8 586.7,652.2 595.6,639.1 604.4,655.3 613.2,636.3 622.1,632.9"/>
<polyline points="489.5,645.4 498.4,634.6 507.2,639.2 516,650.1 524.9,620.1 533.7,625.8 542.5,644.9 551.4,638.4 560.2,651.2 569,619.8 577.9,651.7 586.7,645.3 595.6,635.9 604.4,628.1 613.2,640 622.1,647"/>
<polyline points="507.2,644.1 516,634.2 524.9,658.3 533.7,653.2 542.5,632.3 551.4,638.1 560.2,637.9 569,636.1 577.9,627.3 586.7,641.1 595.6,628.6 604.4,642.9 613.2,637 622.1,639.8"/>
<polyline points="489.5,625.2 498.4,636.8 507.2,638.4 516,647.7 524.9,637.5 533.7,624.8 542.5,643.4 551.4,649.8 560.2,630.8 569,638.4 577.9,645.5 586.7,641.5 595.6,627.4 604.4,647.1 613.2,647.4 622.1,643.5"/>
<polyline points="489.5,629.1 498.4,636.5 507.2,640.7 516,622 524.9,651.3 533.7,646.2 542.5,647.9 551.4,658.4 560.2,649.4 569,634.8 577.9,652.6 586.7,642.7 595.6,654.4 604.4,642.4 613.2,626.8 622.1,632.4"/>
<polyline points="524.9,632.5 533.7,633.5 542.5,640.6 551.4,648.4 560.2,636.9 569,656.9 577.9,653.5 586.7,655.3 595.6,626.3 604.4,636.6 613.2,637.2 622.1,647"/>
<polyline points="498.4,653.9 507.2,633.4 516,653.9 524.9,627.9 533.7,645.4 542.5,644 551.4,641.4 560.2,645.1 569,630.1 577.9,629.8 586.7,629.6"/>
<polyline points="480.7,631.2 489.5,637.9 498.4,628.1 507.2,654.8 516,647.6 524.9,631.3 533.7,650.6 542.5,627.3 551.4,628.9 560.2,623.7 569,640.5 577.9,638 586.7,623.3 595.6,650.7"/>
<polyline points="498.4,626.2 507.2,633 516,633.8 524.9,660.2 533.7,624 542.5,635 551.4,640.2 560.2,659.7 569,657.9 577.9,646.5 586.7,643.1 595.6,622.1 604.4,637.5"/>
<polyline points="507.2,653.7 516,647.7 524.9,636.5 533.7,610.9 542.5,613.8 551.4,644.1 560.2,665.9 569,638.5 577.9,639.5"/>
<polyline points="507.2,667.3 516,661.6 524.9,674.1 533.7,616 542.5,624 551.4,636.4 560.2,659.4 569,655.3 577.9,652.3 586.7,620.9 595.6,659.8 604.4,665.2 613.2,629.4"/>
<polyline points="524.9,622.5 533.7,620.6 542.5,644.8 551.4,610 560.2,643.1 569,614.3 577.9,622.6 586.7,662.7 595.6,662.7 604.4,606.9 613.2,612.3 622.1,666.3"/>
<polyline points="524.9,670.9 533.7,644 542.5,665.9 551.4,618.7 560.2,623.3 569,619.5 577.9,638.4 586.7,654.9 595.6,611 604.4,617.2 613.2,642.6"/>
<polyline points="524.9,614.5 533.7,632.8 542.5,616.9 551.4,641.8 560.2,630 569,647.1 577.9,616.4"/>
<polyline points="471.8,635.6 480.7,644.5 489.5,630.7 498.4,615.7 507.2,623.1 516,670.8 524.9,615.2 533.7,612.4 542.5,615.1 551.4,637.9 560.2,640.1 569,623 577.9,635.9 586.7,610.7 595.6,633.7 604.4,643.4 613.2,638.6"/>
<polyline points="524.9,667.2 533.7,653.5 542.5,637.9 551.4,642.6 560.2,617 569,618 577.9,639.8 586.7,637 595.6,633.7 604.4,659.9 613.2,642.1"/>
<polyline points="489.5,607.1 498.4,647.7 507.2,617.8 516,624.8 524.9,631.2 533.7,658.5 542.5,665.4 551.4,631.2 560.2,660.7 569,610.8 577.9,639.4"/>
<polyline points="480.7,636.4 489.5,666.7 498.4,630.9 507.2,661.4 516,643.2 524.9,671.9 533.7,643.1 542.5,640.6 551.4,626.3 560.2,615.5 569,646.9 577.9,651.6 586.7,664.9 595.6,632.3 604.4,638.8 613.2,628.6"/>
<polyline points="524.9,619.9 533.7,635.5 542.5,630.7 551.4,642.3 560.2,635.6 569,654.9 577.9,660.6 586.7,641.2 595.6,612.8 604.4,623 613.2,661.2 622.1,610.9"/>
<polyline points="480.7,632.2 489.5,618.3 498.4,614.6 507.2,639.7 516,608.5 524.9,652.4 533.7,630.4 542.5,639.6 551.4,644.5 560.2,650 569,623.4 577.9,652.8 586.7,669.7 595.6,627.2 604.4,641.7 613.2,657"/>
<polyline points="524.9,645.7 533.7,630.6 542.5,635.2 551.4,648.9 560.2,647.6 569,623.9 577.9,626.7 586.7,645.6 595.6,622.3 604.4,643.9 613.2,634.4 622.1,629"/>
<polyline points="463,634.2 471.8,660.9 480.7,665.8 489.5,607.9 498.4,670.4 507.2,621.9 516,622.2 524.9,623.6 533.7,653.5 542.5,641.8 551.4,627.4 560.2,672.2 569,616.3 577.9,637.6 586.7,627.8 595.6,644.7"/>
<polyline points="524.9,663.2 533.7,623.7 542.5,611.5 551.4,623 560.2,619.3 569,652.2 577.9,651.9 586.7,610.9 595.6,648 604.4,630.4"/>
<polyline points="480.7,645.5 489.5,542.6 498.4,644"/>
<polyline points="480.7,637.8 489.5,573 498.4,641.2"/>
<polyline points="480.7,633.5 489.5,599.5 498.4,641.3"/>
<polyline points="480.7,636.7 489.5,667.5 498.4,525 507.2,645.8"/>
<polyline points="489.5,635.7 498.4,565.8 507.2,640"/>
<polyline points="489.5,635.4 498.4,601.6 507.2,642.2"/>
<polyline points="498.4,642.3 507.2,571.8 516,634.2"/>
<polyline points="507.2,648.8 516,597 524.9,641.6"/>
<polyline points="516,632.1 524.9,602.8 533.7,634.7"/>
<polyline points="524.9,630.1 533.7,611.4 542.5,629.3"/>
<polyline points="533.7,638.4 542.5,598 551.4,628.8"/>
<polyline points="542.5,641 551.4,597 560.2,631.1"/>
<polyline points="551.4,637.2 560.2,601.9 569,647.6"/>
<polyline points="560.2,637.4 569,602.3 577.9,638.9"/>
<polyline points="569,645.2 577.9,595.5 586.7,637.5"/>
<polyline points="577.9,641.7 586.7,600.9 595.6,635.1"/>
<polyline points="586.7,637.2 595.6,614.5 604.4,639.7"/>
<polyline points="595.6,639.1 604.4,598.5 613.2,635.3"/>
<polyline points="604.4,640.2 613.2,618.8 622.1,642.1"/>
<polyline points="471.8,642.2 480.7,605.3 489.5,639.3"/>
<polyline points="463,634.4 471.8,596.2 480.7,642.4"/>
<polyline points="454.2,643.3 463,598.9 471.8,634.2"/>
<polyline points="489.5,627.7 498.4,665.8 507.2,638.1"/>
<polyline points="489.5,644.1 498.4,667.5 507.2,746.2 516,639.7 524.9,643.3"/>
<polyline points="489.5,633.2 498.4,665 507.2,744 516,642 524.9,645.6"/>
<polyline points="498.4,634.6 507.2,730 516,643.6"/>
<polyline points="498.4,636.9 507.2,716 516,643.8"/>
<polyline points="498.4,641.5 507.2,700 516,637.8"/>
<polyline points="533.7,642.5 542.5,681.5 551.4,635.7"/>
<polyline points="533.7,637.1 542.5,625.6 551.4,712.3 560.2,623 569,637.4"/>
<polyline points="542.5,634.7 551.4,672.2 560.2,643.5"/>
<polyline points="551.4,643.5 560.2,678.7 569,638.9"/>
<polyline points="560.2,634.1 569,680.1 577.9,641.2"/>
<polyline points="569,640.3 577.9,670.4 586.7,642"/>
<polyline points="577.9,638.8 586.7,665.5 595.6,637.8"/>
<polyline points="586.7,645.7 595.6,672.2 604.4,635.9"/>
<polyline points="595.6,637.9 604.4,672.7 613.2,630"/>
<polyline points="604.4,637 613.2,660.8 622.1,636.5"/>
<polyline points="480.7,637.2 489.5,673 498.4,641.7"/>
<polyline points="471.8,635.8 480.7,664 489.5,640.9"/>
<polyline points="516,636.9 524.9,668 533.7,636.6"/>
<polyline points="295.1,634.2 303.9,633.4 312.8,642.6 321.6,659.8 330.5,614.4 339.3,628.7 348.1,625.1 357,624 365.8,658.1"/>
<polyline points="365.8,652.3 374.6,681 383.5,637.3 392.3,643.7 401.1,642.3 410,640 418.8,636 427.7,630 436.5,678.8 445.3,657.4 454.2,630 463,645 471.8,635 480.7,648 489.5,636"/>
<polyline points="365.8,651.6 374.6,625.1 383.5,644.5 392.3,623 401.1,625.1 410,648.8 418.8,629.4 427.7,645.9 436.5,623 445.3,640 454.2,650 463,632 471.8,645 480.7,630"/>
<polyline points="330.5,711.5 339.3,608.4 348.1,678.1"/>
<polyline points="383.5,633 392.3,614.4 401.1,642.3 410,633.7 418.8,655.2"/>
<polyline points="383.5,645.9 392.3,634.4 401.1,630 410,608.7 418.8,634.4 427.7,662.4 436.5,640 445.3,618.7 454.2,645 463,614.4 471.8,650 480.7,628 489.5,645"/>
<polyline points="383.5,650.6 392.3,640 401.1,636 410,644 418.8,640 427.7,636 436.5,650 445.3,630 454.2,640"/>
<polyline points="427.7,594.4 436.5,625 445.3,602.7 454.2,640 463,598.9 471.8,640 480.7,605.3 489.5,640 498.4,630"/>
<polyline points="427.7,608 436.5,597.9 445.3,640 454.2,703.5 463,630 471.8,596.2 480.7,640 489.5,650"/>
<polyline points="427.7,713.3 436.5,615 445.3,635 454.2,687 463,625 471.8,615.8 480.7,650 489.5,630"/>
<polyline points="454.2,610.8 463,668.7 471.8,630 480.7,620 489.5,645"/>
<polyline points="436.5,640 445.3,630 454.2,675.8 463,640 471.8,665.3 480.7,630 489.5,650"/>
<polyline points="445.3,645 454.2,691.6 463,650 471.8,660 480.7,640"/>
<polyline points="471.8,775 480.7,625 489.5,640 498.4,650"/>
<polyline points="489.5,681.8 498.4,640 507.2,650"/>
<polyline points="507.2,640 516,680.1 524.9,670.5 533.7,655 542.5,640"/>
<polyline points="516,645 524.9,650 533.7,681.8 542.5,678 551.4,640 560.2,650"/>
<polyline points="595.6,640 604.4,630 613.2,615 622.1,697"/>
<polyline points="604.4,640 613.2,650 622.1,605.6"/>
<polyline points="604.4,635 613.2,645 622.1,620.2"/>
<polyline points="436.5,645 445.3,657.2 454.2,650"/>
<rect x="79.7" y="499.9" width="572.5" height="286.4"/>
<path d="M100.7 786.3H630.9M100.7 786.3v15.9M189.1 786.3v15.9M277.4 786.3v15.9M365.8 786.3v15.9M454.2 786.3v15.9M542.5 786.3v15.9M630.9 786.3v15.9M79.7 772.6V503.9M79.7 772.6h-15.9M79.7 727.8h-15.9M79.7 683h-15.9M79.7 638.2h-15.9M79.7 593.4h-15.9M79.7 548.6h-15.9M79.7 503.9h-15.9"/>
</g>
<text class="t" x="365.9" y="477.9" text-anchor="middle">G1.GINI</text>
<text class="a" x="100.7" y="844" text-anchor="middle">1960</text>
<text class="a" x="277.4" y="844" text-anchor="middle">1980</text>
<text class="a" x="454.2" y="844" text-anchor="middle">2000</text>
<text class="a" x="630.9" y="844" text-anchor="middle">2020</text>
<text class="a" transform="translate(41.1 772.6) rotate(-90)" text-anchor="middle">-30</text>
<text class="a" transform="translate(41.1 683) rotate(-90)" text-anchor="middle">-10</text>
<text class="a" transform="translate(41.1 593.4) rotate(-90)" text-anchor="middle">10</text>
<text class="a" transform="translate(41.1 503.9) rotate(-90)" text-anchor="middle">30</text>
<g class="l">
<polyline points="809.5,768.7 1322.1,768.7"/>
<polyline points="809.5,769.3 1322.1,769.3"/>
<polyline points="809.5,769.9 1322.1,769.9"/>
<polyline points="1083.5,769 1092.3,768.5 1101.1,510.1 1110,769.3"/>
<polyline points="1065.8,769 1074.6,769 1083.5,753.9 1092.3,769"/>
<polyline points="924.4,760.4 933.3,769"/>
<polyline points="915.6,769 924.4,766.4 933.3,769"/>
<polyline points="959.8,769 968.6,765.4 977.4,768.5"/>
<polyline points="968.6,769 977.4,767.2 986.3,769"/>
<polyline points="1057,769 1065.8,766.4 1074.6,769"/>
<polyline points="809.5,766.9 818.4,768.2 827.2,769"/>
<polyline points="1136.5,769.3 1145.3,768 1154.2,769.3"/>
<polyline points="1295.6,769.3 1304.4,770.6 1313.2,769.3"/>
<rect x="779.7" y="499.9" width="572.5" height="286.4"/>
<path d="M800.7 786.3H1330.9M800.7 786.3v15.9M889.1 786.3v15.9M977.4 786.3v15.9M1065.8 786.3v15.9M1154.2 786.3v15.9M1242.5 786.3v15.9M1330.9 786.3v15.9M779.7 769.6V519.8M779.7 769.6h-15.9M779.7 728h-15.9M779.7 686.3h-15.9M779.7 644.7h-15.9M779.7 603.1h-15.9M779.7 561.5h-15.9M779.7 519.8h-15.9"/>
</g>
<text class="t" x="1065.9" y="477.9" text-anchor="middle">G1.ODA</text>
<text class="a" x="800.7" y="844" text-anchor="middle">1960</text>
<text class="a" x="977.4" y="844" text-anchor="middle">1980</text>
<text class="a" x="1154.2" y="844" text-anchor="middle">2000</text>
<text class="a" x="1330.9" y="844" text-anchor="middle">2020</text>
<text class="a" transform="translate(741.1 769.6) rotate(-90)" text-anchor="middle">0</text>
<text class="a" transform="translate(741.1 644.7) rotate(-90)" text-anchor="middle">1500000</text>
</svg>
</body></html>
